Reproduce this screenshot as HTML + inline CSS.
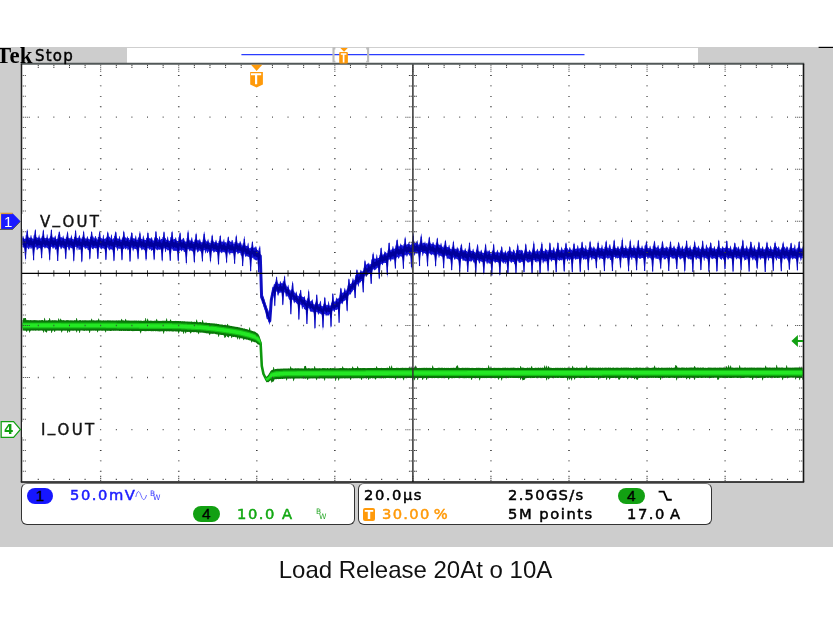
<!DOCTYPE html>
<html lang="en"><head><meta charset="utf-8"><title>Load Release 20A to 10A</title>
<style>
html,body{margin:0;padding:0;background:#fff;}
body{width:833px;height:625px;position:relative;overflow:hidden;font-family:"DejaVu Sans","Liberation Sans",sans-serif;}
.grey{position:absolute;left:0;top:47.4px;width:833px;height:499.2px;background:#cdcdcd;}
.rec{position:absolute;left:126.9px;top:47.4px;width:570.9px;height:15.7px;background:#fff;border-top:1px solid #cfcfcf;box-sizing:border-box;}
.scr{position:absolute;left:0;top:0;}
.t{position:absolute;white-space:nowrap;line-height:1;will-change:transform;}
.tek{left:-4.5px;top:42.7px;font:bold 22.8px "Liberation Serif",serif;letter-spacing:0.3px;color:#000;}
.stop{left:35.2px;top:49.1px;font-size:15px;letter-spacing:1.2px;color:#000;-webkit-text-stroke:0.45px #000;}
.lab{font-size:15px;letter-spacing:2.3px;color:#111;-webkit-text-stroke:0.4px #111;}
.panel{position:absolute;top:483.4px;height:41.6px;background:#fff;border:1px solid #333;border-top:1.4px solid #777;border-radius:6px;box-sizing:border-box;}
.p1{left:20.8px;width:334.2px;}
.p2{left:358.4px;width:353.8px;}
.pill{position:absolute;border-radius:8px;color:#000;text-align:center;font:15.5px/16.4px "Liberation Sans",sans-serif;height:16px;-webkit-text-stroke:0.3px #000;}
.r{font-size:14.7px;letter-spacing:1.55px;-webkit-text-stroke:0.5px currentColor;}
.cap{left:-1.4px;width:833px;text-align:center;top:555.8px;font:24px "Liberation Sans",sans-serif;color:#111;}
.lbg{position:absolute;background:#fff;}
.us{position:relative;top:-3.6px;}
.sub{font-size:7.5px;letter-spacing:0;}
</style></head><body>
<div class="grey"></div><div class="rec"></div>
<div class="panel p1"></div><div class="panel p2"></div>
<svg class="scr" width="833" height="625" viewBox="0 0 833 625">
<rect x="21.5" y="63.8" width="782" height="418.2" fill="#fff"/>
<clipPath id="cp"><rect x="22.2" y="64.5" width="780.6" height="416.8"/></clipPath>
<g clip-path="url(#cp)">
<path d="M258.5 339.54 L259.5 340.4 L260.6 343 L261.8 366 L263.5 374 L266.4 379.6 L268.5 378.4 L270.7 375.6" fill="none" stroke="#0f9a0f" stroke-width="2.6" stroke-linejoin="round"/>
<path d="M22.4 320.3 L22.9 320.1 L23.4 318 L23.9 318 L24.4 318.2 L24.9 318.1 L25.4 317.9 L25.9 318 L26.4 320.2 L26.9 320.1 L27.4 320 L27.9 320.2 L28.4 320 L28.9 320.2 L29.4 320.1 L29.9 320.4 L30.4 320.1 L30.9 320 L31.4 320.2 L31.9 320.3 L32.4 320.3 L32.9 320.2 L33.4 320.2 L33.9 320.1 L34.4 320.1 L34.9 320.3 L35.4 320.2 L35.9 320.1 L36.4 320.3 L36.9 320.2 L37.4 320.4 L37.9 320.1 L38.4 320.4 L38.9 320.2 L39.4 320.1 L39.9 320.4 L40.4 320.3 L40.9 320.2 L41.4 320.1 L41.9 320.3 L42.4 320.1 L42.9 320 L43.4 320.4 L43.9 320.4 L44.4 317.7 L44.9 318 L45.4 320.4 L45.9 320.4 L46.4 320.3 L46.9 320.4 L47.4 320.4 L47.9 320.3 L48.4 320 L48.9 320.2 L49.4 318.1 L49.9 317.9 L50.4 320.3 L50.9 320.4 L51.4 320.3 L51.9 320.4 L52.4 320.1 L52.9 320.2 L53.4 320.4 L53.9 320.1 L54.4 320.3 L54.9 320.2 L55.4 320.3 L55.9 320.2 L56.4 320.2 L56.9 320.4 L57.4 320.4 L57.9 320.4 L58.4 318.4 L58.9 318.3 L59.4 320.2 L59.9 320.3 L60.4 318.7 L60.9 318.5 L61.4 320.2 L61.9 320.1 L62.4 320.3 L62.9 320.3 L63.4 320.1 L63.9 320.3 L64.4 320.3 L64.9 320.4 L65.4 320.4 L65.9 320.3 L66.4 320.3 L66.9 320.1 L67.4 320.2 L67.9 320.1 L68.4 320.3 L68.9 320.2 L69.4 320.4 L69.9 320.3 L70.4 320.4 L70.9 320.1 L71.4 320.4 L71.9 320.2 L72.4 320.4 L72.9 320.2 L73.4 320.4 L73.9 320.5 L74.4 320.1 L74.9 320.3 L75.4 320.2 L75.9 320.2 L76.4 318.1 L76.9 318.1 L77.4 320.4 L77.9 320.4 L78.4 320.4 L78.9 320.4 L79.4 320.1 L79.9 320.2 L80.4 320.1 L80.9 320.2 L81.4 320.5 L81.9 320.4 L82.4 320.2 L82.9 320.2 L83.4 320.2 L83.9 320.5 L84.4 320.3 L84.9 320.2 L85.4 320.2 L85.9 320.2 L86.4 320.2 L86.9 320.4 L87.4 320.2 L87.9 320.4 L88.4 320.3 L88.9 320.5 L89.4 320.3 L89.9 320.3 L90.4 320.2 L90.9 320.4 L91.4 318.6 L91.9 318.8 L92.4 320.3 L92.9 320.5 L93.4 320.1 L93.9 320.4 L94.4 320.4 L94.9 320.2 L95.4 320.5 L95.9 320.5 L96.4 320.4 L96.9 320.1 L97.4 320.2 L97.9 320.4 L98.4 318.6 L98.9 318.6 L99.4 320.2 L99.9 320.5 L100.4 320.2 L100.9 320.3 L101.4 320.5 L101.9 320.5 L102.4 320.4 L102.9 320.5 L103.4 320.2 L103.9 320.3 L104.4 320.4 L104.9 320.5 L105.4 320.5 L105.9 320.2 L106.4 320.4 L106.9 320.5 L107.4 320.3 L107.9 320.3 L108.4 320.2 L108.9 320.5 L109.4 320.3 L109.9 320.4 L110.4 320.3 L110.9 320.4 L111.4 320.4 L111.9 320.4 L112.4 320.5 L112.9 320.3 L113.4 320.4 L113.9 320.4 L114.4 320.6 L114.9 320.6 L115.4 320.4 L115.9 320.5 L116.4 320.3 L116.9 320.5 L117.4 320.5 L117.9 320.5 L118.4 320.3 L118.9 320.6 L119.4 320.5 L119.9 320.3 L120.4 320.5 L120.9 320.6 L121.4 318.8 L121.9 318.9 L122.4 320.3 L122.9 320.5 L123.4 320.3 L123.9 320.5 L124.4 320.4 L124.9 320.7 L125.4 318.7 L125.9 318.9 L126.4 320.4 L126.9 320.4 L127.4 320.6 L127.9 320.5 L128.4 320.6 L128.9 320.6 L129.4 320.4 L129.9 320.7 L130.4 320.5 L130.9 320.7 L131.4 320.6 L131.9 320.8 L132.4 320.6 L132.9 320.7 L133.4 320.6 L133.9 320.7 L134.4 320.4 L134.9 320.5 L135.4 320.6 L135.9 320.8 L136.4 320.5 L136.9 320.5 L137.4 320.8 L137.9 320.7 L138.4 320.5 L138.9 320.6 L139.4 320.7 L139.9 320.8 L140.4 320.5 L140.9 320.8 L141.4 320.6 L141.9 320.9 L142.4 320.9 L142.9 320.7 L143.4 320.8 L143.9 320.8 L144.4 320.5 L144.9 320.7 L145.4 318.1 L145.9 318 L146.4 320.9 L146.9 320.8 L147.4 318.6 L147.9 318.8 L148.4 320.8 L148.9 320.7 L149.4 320.9 L149.9 320.6 L150.4 320.7 L150.9 320.6 L151.4 320.8 L151.9 320.7 L152.4 320.8 L152.9 320.9 L153.4 320.7 L153.9 320.9 L154.4 320.8 L154.9 320.6 L155.4 320.6 L155.9 320.9 L156.4 318.9 L156.9 318.7 L157.4 320.7 L157.9 320.7 L158.4 320.7 L158.9 321 L159.4 320.9 L159.9 320.7 L160.4 320.9 L160.9 320.7 L161.4 321 L161.9 320.8 L162.4 320.7 L162.9 320.7 L163.4 320.8 L163.9 320.8 L164.4 320.8 L164.9 320.7 L165.4 320.7 L165.9 320.8 L166.4 318.4 L166.9 318.2 L167.4 321 L167.9 321 L168.4 321 L168.9 320.7 L169.4 321 L169.9 320.8 L170.4 319.3 L170.9 319.5 L171.4 321 L171.9 320.9 L172.4 321.1 L172.9 321.1 L173.4 321 L173.9 321.1 L174.4 321 L174.9 320.9 L175.4 321.1 L175.9 320.8 L176.4 321 L176.9 321.1 L177.4 321.1 L177.9 320.9 L178.4 321 L178.9 321.1 L179.4 321.1 L179.9 321.3 L180.4 321 L180.9 321 L181.4 321.4 L181.9 321 L182.4 321 L182.9 321.4 L183.4 321.3 L183.9 321.2 L184.4 321.3 L184.9 321.2 L185.4 321.4 L185.9 321.5 L186.4 321.5 L186.9 321.5 L187.4 321.6 L187.9 321.6 L188.4 321.5 L188.9 321.7 L189.4 321.5 L189.9 321.7 L190.4 321.7 L190.9 321.6 L191.4 321.5 L191.9 321.5 L192.4 321.9 L192.9 321.7 L193.4 321.9 L193.9 321.8 L194.4 321.7 L194.9 321.7 L195.4 322 L195.9 322.1 L196.4 319.5 L196.9 319.6 L197.4 321.8 L197.9 322.2 L198.4 322.2 L198.9 322.2 L199.4 321.9 L199.9 322.2 L200.4 322 L200.9 322.1 L201.4 322.4 L201.9 322.3 L202.4 319.7 L202.9 319.9 L203.4 322.5 L203.9 322.5 L204.4 322.7 L204.9 322.7 L205.4 322.5 L205.9 322.7 L206.4 322.6 L206.9 322.8 L207.4 322.9 L207.9 322.9 L208.4 322.9 L208.9 323 L209.4 323 L209.9 323.1 L210.4 323.3 L210.9 323.2 L211.4 323.2 L211.9 323.3 L212.4 323.2 L212.9 323.5 L213.4 323.4 L213.9 323.3 L214.4 323.4 L214.9 323.4 L215.4 323.6 L215.9 323.9 L216.4 323.6 L216.9 323.8 L217.4 324.1 L217.9 324.1 L218.4 324 L218.9 324.1 L219.4 324.4 L219.9 324.2 L220.4 324.5 L220.9 324.4 L221.4 324.5 L221.9 324.5 L222.4 324.6 L222.9 324.8 L223.4 325 L223.9 324.9 L224.4 324.8 L224.9 325 L225.4 325 L225.9 325.1 L226.4 325.3 L226.9 325.3 L227.4 323.8 L227.9 324 L228.4 325.6 L228.9 325.6 L229.4 325.6 L229.9 325.8 L230.4 326 L230.9 325.8 L231.4 326 L231.9 326 L232.4 326.3 L232.9 326.3 L233.4 326.4 L233.9 326.3 L234.4 326.6 L234.9 326.7 L235.4 326.8 L235.9 326.8 L236.4 326.9 L236.9 326.8 L237.4 327.1 L237.9 327 L238.4 327.4 L238.9 327.1 L239.4 327.6 L239.9 327.4 L240.4 327.7 L240.9 327.7 L241.4 327.8 L241.9 328.2 L242.4 328.1 L242.9 328.3 L243.4 328.5 L243.9 328.6 L244.4 328.6 L244.9 328.5 L245.4 328.9 L245.9 329.1 L246.4 328.9 L246.9 329.2 L247.4 329.3 L247.9 329.6 L248.4 329.7 L248.9 329.9 L249.4 327.5 L249.9 327.3 L250.4 330.3 L250.9 330.4 L251.4 330.5 L251.9 330.8 L252.4 330.9 L252.9 331 L253.4 331.3 L253.9 331.6 L254.4 331.5 L254.9 331.6 L255.4 332.1 L255.9 332.2 L256.4 332.8 L256.9 332.9 L257.4 333.3 L257.9 333.7 L258.4 334.2 L258.9 335.3 L259.4 336 L259.9 337.5 L260.4 339 L260.9 349.2 L261.4 358.6 L261.9 366 L262.4 368.3 L262.9 370.7 L263.4 373.2 L263.9 374.1 L264.4 375.1 L264.9 376.3 L265.4 377.3 L265.9 376.3 L266.4 376.9 L266.9 376.3 L267.4 375.9 L267.9 375.3 L268.4 374.7 L268.9 373.8 L269.4 373 L269.9 372.2 L270.4 371.3 L270.9 370.8 L271.4 370.3 L271.9 370 L272.4 369.8 L272.9 369.7 L273.4 366.9 L273.9 366.9 L274.4 369.4 L274.9 369.2 L275.4 368.9 L275.9 369.1 L276.4 369.1 L276.9 368.8 L277.4 368.8 L277.9 368.7 L278.4 368.8 L278.9 368.7 L279.4 368.8 L279.9 368.8 L280.4 368.7 L280.9 368.6 L281.4 368.7 L281.9 368.5 L282.4 368.7 L282.9 368.6 L283.4 368.5 L283.9 368.6 L284.4 368.4 L284.9 368.4 L285.4 368.6 L285.9 368.4 L286.4 368.5 L286.9 368.5 L287.4 368.5 L287.9 368.5 L288.4 368.3 L288.9 368.4 L289.4 368.4 L289.9 368.5 L290.4 366.2 L290.9 366.4 L291.4 368.3 L291.9 368.2 L292.4 368.2 L292.9 368.3 L293.4 368.4 L293.9 368.5 L294.4 368.5 L294.9 368.2 L295.4 368.2 L295.9 368.2 L296.4 368.3 L296.9 368.4 L297.4 368.3 L297.9 368.3 L298.4 368.2 L298.9 368.3 L299.4 368.5 L299.9 368.2 L300.4 368.5 L300.9 368.2 L301.4 368.3 L301.9 368.4 L302.4 368.4 L302.9 368.2 L303.4 368.5 L303.9 368.4 L304.4 366.1 L304.9 366 L305.4 366 L305.9 365.7 L306.4 368.2 L306.9 368.3 L307.4 368.4 L307.9 368.2 L308.4 368.3 L308.9 368.1 L309.4 368.4 L309.9 368.1 L310.4 368.4 L310.9 368.4 L311.4 368.4 L311.9 368.1 L312.4 368.2 L312.9 368.2 L313.4 368.4 L313.9 368.3 L314.4 366.2 L314.9 365.9 L315.4 368.2 L315.9 368.3 L316.4 368.3 L316.9 368.3 L317.4 368.4 L317.9 368.1 L318.4 368.2 L318.9 368.4 L319.4 368.3 L319.9 368.1 L320.4 368.3 L320.9 368.4 L321.4 368.3 L321.9 368.4 L322.4 368 L322.9 368.1 L323.4 368.1 L323.9 368.2 L324.4 368.1 L324.9 368.2 L325.4 368 L325.9 368.4 L326.4 368.4 L326.9 368.1 L327.4 368.1 L327.9 368.1 L328.4 368.2 L328.9 368.4 L329.4 368.4 L329.9 368 L330.4 368 L330.9 368.1 L331.4 368.3 L331.9 368.3 L332.4 368 L332.9 368.3 L333.4 368 L333.9 368.3 L334.4 368.2 L334.9 368.1 L335.4 368.4 L335.9 368.1 L336.4 368.2 L336.9 368.4 L337.4 368.2 L337.9 368.3 L338.4 368.2 L338.9 368.3 L339.4 368.1 L339.9 368.3 L340.4 368.1 L340.9 368.1 L341.4 368.1 L341.9 368.3 L342.4 366.4 L342.9 366.3 L343.4 368 L343.9 368 L344.4 368 L344.9 368.3 L345.4 368.3 L345.9 368.1 L346.4 368.3 L346.9 368 L347.4 368.3 L347.9 368.3 L348.4 368.2 L348.9 368.2 L349.4 368.1 L349.9 368.2 L350.4 368.2 L350.9 368.3 L351.4 368.3 L351.9 368 L352.4 366.5 L352.9 366.6 L353.4 368 L353.9 368.1 L354.4 368.1 L354.9 368.2 L355.4 368 L355.9 368 L356.4 367.9 L356.9 368 L357.4 366.2 L357.9 366.2 L358.4 367.9 L358.9 368.1 L359.4 368.1 L359.9 368.3 L360.4 368.1 L360.9 368.1 L361.4 367.9 L361.9 368.2 L362.4 368 L362.9 367.9 L363.4 368.1 L363.9 367.9 L364.4 367.9 L364.9 368.1 L365.4 368.1 L365.9 368.2 L366.4 367.9 L366.9 368.2 L367.4 367.9 L367.9 368.1 L368.4 367.9 L368.9 368 L369.4 368 L369.9 368 L370.4 368 L370.9 368 L371.4 368.1 L371.9 367.9 L372.4 367.9 L372.9 367.9 L373.4 368.1 L373.9 367.9 L374.4 367.9 L374.9 367.8 L375.4 367.9 L375.9 367.9 L376.4 366.2 L376.9 366.3 L377.4 367.9 L377.9 368.1 L378.4 368 L378.9 367.9 L379.4 368 L379.9 367.9 L380.4 368 L380.9 367.9 L381.4 367.8 L381.9 368 L382.4 368.1 L382.9 367.9 L383.4 367.9 L383.9 368 L384.4 368 L384.9 368 L385.4 367.9 L385.9 368 L386.4 367.9 L386.9 367.8 L387.4 367.8 L387.9 367.8 L388.4 367.9 L388.9 367.9 L389.4 366 L389.9 365.7 L390.4 368.1 L390.9 367.9 L391.4 365.4 L391.9 365.6 L392.4 368 L392.9 368 L393.4 367.9 L393.9 367.9 L394.4 367.9 L394.9 368 L395.4 368 L395.9 368 L396.4 367.8 L396.9 367.8 L397.4 367.8 L397.9 368 L398.4 367.8 L398.9 368 L399.4 368.1 L399.9 367.9 L400.4 367.9 L400.9 367.8 L401.4 368 L401.9 367.8 L402.4 367.7 L402.9 367.8 L403.4 368 L403.9 367.8 L404.4 367.9 L404.9 367.7 L405.4 367.7 L405.9 367.9 L406.4 367.8 L406.9 368.1 L407.4 367.9 L407.9 367.8 L408.4 367.7 L408.9 367.9 L409.4 368.1 L409.9 367.9 L410.4 367.7 L410.9 367.9 L411.4 367.9 L411.9 367.7 L412.4 367.8 L412.9 367.7 L413.4 367.9 L413.9 367.8 L414.4 367.7 L414.9 367.8 L415.4 365.6 L415.9 365.6 L416.4 368 L416.9 367.7 L417.4 368 L417.9 368 L418.4 368 L418.9 368.1 L419.4 368 L419.9 367.7 L420.4 368.1 L420.9 368 L421.4 367.9 L421.9 367.8 L422.4 368 L422.9 367.7 L423.4 367.8 L423.9 368 L424.4 367.8 L424.9 367.8 L425.4 367.9 L425.9 367.8 L426.4 367.8 L426.9 367.8 L427.4 367.9 L427.9 367.7 L428.4 367.9 L428.9 367.8 L429.4 367.7 L429.9 367.9 L430.4 367.7 L430.9 367.9 L431.4 368 L431.9 368 L432.4 365.5 L432.9 365.4 L433.4 367.8 L433.9 367.8 L434.4 367.9 L434.9 367.9 L435.4 368.1 L435.9 367.9 L436.4 368 L436.9 367.9 L437.4 367.9 L437.9 367.8 L438.4 367.7 L438.9 367.7 L439.4 367.8 L439.9 367.8 L440.4 368 L440.9 367.8 L441.4 367.7 L441.9 367.8 L442.4 367.7 L442.9 367.7 L443.4 368 L443.9 367.9 L444.4 367.8 L444.9 367.8 L445.4 368 L445.9 368 L446.4 367.8 L446.9 368 L447.4 367.9 L447.9 367.7 L448.4 367.8 L448.9 367.9 L449.4 368 L449.9 368 L450.4 367.9 L450.9 367.7 L451.4 368 L451.9 367.8 L452.4 367.9 L452.9 367.8 L453.4 367.8 L453.9 367.7 L454.4 367.7 L454.9 367.9 L455.4 367.8 L455.9 367.7 L456.4 366 L456.9 365.7 L457.4 365.3 L457.9 365.5 L458.4 367.7 L458.9 367.7 L459.4 367.7 L459.9 368 L460.4 368 L460.9 367.9 L461.4 368 L461.9 367.8 L462.4 367.8 L462.9 367.7 L463.4 367.8 L463.9 367.9 L464.4 367.7 L464.9 368 L465.4 367.8 L465.9 367.7 L466.4 367.7 L466.9 367.9 L467.4 367.8 L467.9 367.7 L468.4 367.7 L468.9 367.9 L469.4 367.7 L469.9 368 L470.4 368 L470.9 367.9 L471.4 367.9 L471.9 367.8 L472.4 368 L472.9 367.7 L473.4 368 L473.9 368 L474.4 368 L474.9 367.9 L475.4 368 L475.9 367.9 L476.4 367.8 L476.9 367.7 L477.4 367.7 L477.9 368 L478.4 367.8 L478.9 367.8 L479.4 367.8 L479.9 368 L480.4 367.9 L480.9 367.7 L481.4 368 L481.9 367.9 L482.4 367.8 L482.9 367.9 L483.4 368 L483.9 367.9 L484.4 368 L484.9 367.9 L485.4 367.9 L485.9 368 L486.4 367.7 L486.9 368 L487.4 368 L487.9 367.7 L488.4 365.2 L488.9 365.2 L489.4 367.7 L489.9 367.8 L490.4 367.8 L490.9 367.7 L491.4 367.8 L491.9 368 L492.4 368 L492.9 367.9 L493.4 367.7 L493.9 367.9 L494.4 367.7 L494.9 367.8 L495.4 367.9 L495.9 367.8 L496.4 367.9 L496.9 367.7 L497.4 367.9 L497.9 367.7 L498.4 367.7 L498.9 367.9 L499.4 367.8 L499.9 367.9 L500.4 367.9 L500.9 367.8 L501.4 367.9 L501.9 368 L502.4 367.7 L502.9 367.8 L503.4 367.8 L503.9 367.7 L504.4 367.7 L504.9 367.7 L505.4 367.6 L505.9 367.8 L506.4 367.9 L506.9 367.8 L507.4 367.7 L507.9 367.7 L508.4 367.7 L508.9 367.9 L509.4 367.8 L509.9 368 L510.4 367.8 L510.9 367.7 L511.4 367.7 L511.9 367.7 L512.4 367.7 L512.9 367.7 L513.4 367.6 L513.9 367.7 L514.4 367.8 L514.9 367.7 L515.4 368 L515.9 367.7 L516.4 368 L516.9 367.9 L517.4 367.9 L517.9 367.6 L518.4 367.7 L518.9 367.9 L519.4 367.9 L519.9 368 L520.4 366 L520.9 365.9 L521.4 367.8 L521.9 367.7 L522.4 367.6 L522.9 367.7 L523.4 367.6 L523.9 367.9 L524.4 367.9 L524.9 367.7 L525.4 367.9 L525.9 368 L526.4 368 L526.9 367.7 L527.4 367.6 L527.9 367.8 L528.4 367.8 L528.9 367.9 L529.4 367.7 L529.9 367.6 L530.4 367.9 L530.9 367.7 L531.4 366.2 L531.9 365.8 L532.4 367.8 L532.9 367.9 L533.4 367.9 L533.9 367.9 L534.4 368 L534.9 367.7 L535.4 367.7 L535.9 367.7 L536.4 367.8 L536.9 367.9 L537.4 367.9 L537.9 367.6 L538.4 367.6 L538.9 367.7 L539.4 367.9 L539.9 367.7 L540.4 367.7 L540.9 367.6 L541.4 367.9 L541.9 367.7 L542.4 367.6 L542.9 367.8 L543.4 367.8 L543.9 367.9 L544.4 365.6 L544.9 365.4 L545.4 367.6 L545.9 367.7 L546.4 365.7 L546.9 365.6 L547.4 367.9 L547.9 367.8 L548.4 366.1 L548.9 366.2 L549.4 367.8 L549.9 367.8 L550.4 367.7 L550.9 367.7 L551.4 367.8 L551.9 367.9 L552.4 367.9 L552.9 368 L553.4 367.9 L553.9 367.7 L554.4 367.9 L554.9 367.9 L555.4 367.7 L555.9 367.8 L556.4 367.8 L556.9 367.9 L557.4 367.7 L557.9 367.7 L558.4 367.7 L558.9 367.9 L559.4 367.8 L559.9 367.9 L560.4 367.7 L560.9 367.8 L561.4 368 L561.9 367.7 L562.4 367.8 L562.9 367.7 L563.4 367.9 L563.9 368 L564.4 367.6 L564.9 367.8 L565.4 367.8 L565.9 368 L566.4 367.9 L566.9 367.7 L567.4 367.8 L567.9 367.8 L568.4 367.7 L568.9 367.7 L569.4 368 L569.9 367.8 L570.4 367.8 L570.9 367.9 L571.4 367.8 L571.9 368 L572.4 365.8 L572.9 365.9 L573.4 367.8 L573.9 367.8 L574.4 367.6 L574.9 367.9 L575.4 367.9 L575.9 367.7 L576.4 367.6 L576.9 367.6 L577.4 367.7 L577.9 367.7 L578.4 367.9 L578.9 367.9 L579.4 367.6 L579.9 368 L580.4 367.9 L580.9 367.6 L581.4 367.8 L581.9 367.6 L582.4 367.7 L582.9 367.8 L583.4 367.8 L583.9 367.9 L584.4 367.7 L584.9 367.8 L585.4 367.6 L585.9 367.7 L586.4 365.4 L586.9 365.2 L587.4 367.8 L587.9 367.9 L588.4 367.9 L588.9 367.9 L589.4 367.8 L589.9 367.6 L590.4 367.6 L590.9 367.8 L591.4 367.7 L591.9 367.8 L592.4 367.6 L592.9 367.7 L593.4 367.8 L593.9 367.6 L594.4 367.7 L594.9 367.7 L595.4 367.6 L595.9 367.9 L596.4 367.6 L596.9 367.9 L597.4 367.9 L597.9 367.6 L598.4 367.6 L598.9 367.7 L599.4 367.8 L599.9 367.8 L600.4 367.6 L600.9 367.8 L601.4 367.9 L601.9 367.8 L602.4 367.6 L602.9 367.8 L603.4 367.7 L603.9 367.9 L604.4 367.8 L604.9 367.6 L605.4 367.7 L605.9 367.6 L606.4 367.6 L606.9 367.9 L607.4 367.7 L607.9 367.8 L608.4 367.6 L608.9 367.6 L609.4 367.7 L609.9 367.8 L610.4 367.6 L610.9 367.7 L611.4 367.9 L611.9 367.7 L612.4 367.6 L612.9 367.9 L613.4 367.6 L613.9 367.5 L614.4 367.9 L614.9 367.7 L615.4 367.9 L615.9 367.6 L616.4 367.6 L616.9 367.9 L617.4 367.6 L617.9 367.7 L618.4 367.8 L618.9 367.7 L619.4 367.8 L619.9 367.9 L620.4 367.7 L620.9 367.8 L621.4 367.6 L621.9 367.5 L622.4 367.9 L622.9 367.6 L623.4 367.7 L623.9 367.6 L624.4 367.7 L624.9 367.6 L625.4 367.7 L625.9 367.6 L626.4 367.6 L626.9 367.7 L627.4 367.7 L627.9 367.6 L628.4 367.6 L628.9 367.8 L629.4 367.9 L629.9 367.8 L630.4 367.7 L630.9 367.7 L631.4 367.9 L631.9 367.8 L632.4 367.9 L632.9 367.9 L633.4 367.7 L633.9 367.5 L634.4 367.9 L634.9 367.7 L635.4 367.8 L635.9 367.6 L636.4 367.6 L636.9 367.6 L637.4 367.8 L637.9 367.6 L638.4 367.9 L638.9 367.8 L639.4 367.5 L639.9 367.8 L640.4 367.7 L640.9 367.5 L641.4 367.8 L641.9 367.9 L642.4 367.7 L642.9 367.8 L643.4 367.7 L643.9 367.8 L644.4 367.9 L644.9 367.8 L645.4 367.6 L645.9 367.8 L646.4 367.7 L646.9 367.7 L647.4 367.7 L647.9 367.6 L648.4 367.6 L648.9 367.8 L649.4 367.8 L649.9 367.9 L650.4 367.9 L650.9 367.8 L651.4 367.7 L651.9 367.9 L652.4 367.6 L652.9 367.7 L653.4 367.6 L653.9 367.6 L654.4 365.6 L654.9 365.7 L655.4 367.8 L655.9 367.7 L656.4 367.7 L656.9 367.6 L657.4 367.9 L657.9 367.8 L658.4 367.6 L658.9 367.5 L659.4 367.9 L659.9 367.7 L660.4 367.9 L660.9 367.7 L661.4 367.6 L661.9 367.8 L662.4 367.5 L662.9 367.9 L663.4 367.7 L663.9 367.7 L664.4 367.7 L664.9 367.8 L665.4 367.8 L665.9 367.7 L666.4 367.5 L666.9 367.9 L667.4 367.6 L667.9 367.8 L668.4 367.8 L668.9 367.8 L669.4 367.5 L669.9 367.5 L670.4 367.9 L670.9 367.7 L671.4 367.5 L671.9 367.6 L672.4 367.9 L672.9 367.8 L673.4 367.8 L673.9 367.8 L674.4 367.5 L674.9 367.5 L675.4 365.1 L675.9 365 L676.4 365.8 L676.9 365.8 L677.4 367.6 L677.9 367.6 L678.4 367.8 L678.9 367.6 L679.4 367.6 L679.9 367.9 L680.4 367.7 L680.9 367.8 L681.4 367.6 L681.9 367.6 L682.4 367.6 L682.9 367.5 L683.4 367.6 L683.9 367.8 L684.4 367.5 L684.9 367.7 L685.4 367.9 L685.9 367.6 L686.4 367.6 L686.9 367.6 L687.4 367.7 L687.9 367.8 L688.4 367.8 L688.9 367.5 L689.4 367.6 L689.9 367.8 L690.4 367.5 L690.9 367.6 L691.4 367.5 L691.9 367.6 L692.4 367.5 L692.9 367.7 L693.4 367.6 L693.9 367.6 L694.4 365.9 L694.9 366 L695.4 367.5 L695.9 367.6 L696.4 367.8 L696.9 367.7 L697.4 367.6 L697.9 367.6 L698.4 367.5 L698.9 367.7 L699.4 367.8 L699.9 367.7 L700.4 367.5 L700.9 367.5 L701.4 367.7 L701.9 367.8 L702.4 367.5 L702.9 367.6 L703.4 367.5 L703.9 367.6 L704.4 367.9 L704.9 367.8 L705.4 367.7 L705.9 367.7 L706.4 367.9 L706.9 367.7 L707.4 367.7 L707.9 367.8 L708.4 367.6 L708.9 367.6 L709.4 367.5 L709.9 367.8 L710.4 367.5 L710.9 367.8 L711.4 367.7 L711.9 367.6 L712.4 367.8 L712.9 367.8 L713.4 367.7 L713.9 367.6 L714.4 367.8 L714.9 367.5 L715.4 367.6 L715.9 367.7 L716.4 367.7 L716.9 367.7 L717.4 367.8 L717.9 367.6 L718.4 367.8 L718.9 367.8 L719.4 367.6 L719.9 367.6 L720.4 367.5 L720.9 367.7 L721.4 367.5 L721.9 367.7 L722.4 367.7 L722.9 367.5 L723.4 367.6 L723.9 367.5 L724.4 367.7 L724.9 367.6 L725.4 367.9 L725.9 367.8 L726.4 366.2 L726.9 366 L727.4 367.8 L727.9 367.5 L728.4 365.1 L728.9 365.3 L729.4 367.5 L729.9 367.6 L730.4 365.6 L730.9 365.6 L731.4 367.6 L731.9 367.8 L732.4 367.5 L732.9 367.6 L733.4 367.8 L733.9 367.7 L734.4 367.8 L734.9 367.7 L735.4 367.7 L735.9 367.6 L736.4 367.8 L736.9 367.6 L737.4 367.6 L737.9 367.7 L738.4 367.8 L738.9 367.8 L739.4 365.3 L739.9 365.3 L740.4 367.6 L740.9 367.7 L741.4 367.6 L741.9 367.8 L742.4 367.8 L742.9 367.6 L743.4 367.7 L743.9 367.7 L744.4 367.6 L744.9 367.4 L745.4 367.5 L745.9 367.5 L746.4 367.7 L746.9 367.7 L747.4 367.5 L747.9 367.8 L748.4 367.7 L748.9 367.6 L749.4 367.6 L749.9 367.8 L750.4 367.6 L750.9 367.8 L751.4 367.6 L751.9 367.5 L752.4 367.7 L752.9 367.5 L753.4 367.7 L753.9 367.5 L754.4 367.5 L754.9 367.8 L755.4 367.7 L755.9 367.7 L756.4 367.7 L756.9 367.6 L757.4 367.5 L757.9 367.7 L758.4 367.5 L758.9 367.8 L759.4 367.5 L759.9 367.8 L760.4 367.4 L760.9 367.7 L761.4 367.7 L761.9 367.6 L762.4 367.7 L762.9 367.8 L763.4 367.8 L763.9 367.5 L764.4 367.8 L764.9 367.8 L765.4 365.6 L765.9 365.7 L766.4 367.4 L766.9 367.5 L767.4 367.6 L767.9 367.5 L768.4 367.7 L768.9 367.5 L769.4 367.5 L769.9 367.5 L770.4 367.5 L770.9 367.7 L771.4 367.7 L771.9 367.4 L772.4 367.6 L772.9 367.7 L773.4 367.5 L773.9 367.8 L774.4 367.6 L774.9 367.6 L775.4 367.7 L775.9 367.7 L776.4 364.9 L776.9 364.8 L777.4 367.6 L777.9 367.6 L778.4 367.4 L778.9 367.7 L779.4 367.6 L779.9 367.6 L780.4 367.8 L780.9 367.5 L781.4 367.6 L781.9 367.5 L782.4 367.4 L782.9 367.5 L783.4 367.7 L783.9 367.8 L784.4 367.7 L784.9 367.7 L785.4 367.7 L785.9 367.8 L786.4 365.2 L786.9 365.3 L787.4 367.8 L787.9 367.4 L788.4 367.6 L788.9 367.8 L789.4 367.6 L789.9 367.7 L790.4 367.4 L790.9 367.8 L791.4 367.7 L791.9 367.4 L792.4 367.5 L792.9 367.8 L793.4 367.4 L793.9 367.7 L794.4 367.5 L794.9 367.6 L795.4 367.6 L795.9 367.6 L796.4 367.5 L796.9 367.6 L797.4 367.5 L797.9 367.6 L798.4 367.6 L798.9 367.6 L799.4 367.5 L799.9 367.7 L800.4 367.5 L800.9 367.6 L801.4 367.5 L801.9 367.8 L802.4 367.6 L802.9 367.7 L802.9 379.8 L802.4 380.1 L801.9 377.8 L801.4 377.8 L800.9 377.8 L800.4 377.9 L799.9 380.3 L799.4 380.1 L798.9 377.7 L798.4 377.9 L797.9 377.7 L797.4 377.7 L796.9 378 L796.4 377.6 L795.9 379.5 L795.4 379.4 L794.9 377.7 L794.4 377.6 L793.9 377.7 L793.4 377.8 L792.9 377.8 L792.4 377.7 L791.9 377.6 L791.4 377.8 L790.9 377.6 L790.4 377.7 L789.9 377.7 L789.4 377.8 L788.9 377.8 L788.4 378 L787.9 377.7 L787.4 378 L786.9 377.8 L786.4 377.8 L785.9 378 L785.4 377.9 L784.9 377.7 L784.4 377.9 L783.9 377.9 L783.4 377.7 L782.9 380.2 L782.4 380.1 L781.9 377.7 L781.4 377.7 L780.9 377.7 L780.4 377.6 L779.9 377.6 L779.4 378 L778.9 377.9 L778.4 377.7 L777.9 377.9 L777.4 378 L776.9 377.8 L776.4 377.7 L775.9 377.9 L775.4 377.7 L774.9 378 L774.4 378 L773.9 377.7 L773.4 377.8 L772.9 377.6 L772.4 377.9 L771.9 377.7 L771.4 377.7 L770.9 377.7 L770.4 377.9 L769.9 378 L769.4 377.6 L768.9 377.7 L768.4 378 L767.9 377.8 L767.4 377.9 L766.9 378 L766.4 377.6 L765.9 377.8 L765.4 377.9 L764.9 377.9 L764.4 377.9 L763.9 377.9 L763.4 377.8 L762.9 380.2 L762.4 380.5 L761.9 377.9 L761.4 377.8 L760.9 377.8 L760.4 377.9 L759.9 377.8 L759.4 377.9 L758.9 378 L758.4 377.9 L757.9 378 L757.4 378 L756.9 377.7 L756.4 377.8 L755.9 377.9 L755.4 377.8 L754.9 377.9 L754.4 377.8 L753.9 377.8 L753.4 378 L752.9 380.1 L752.4 380.1 L751.9 377.9 L751.4 377.7 L750.9 377.9 L750.4 377.9 L749.9 377.7 L749.4 377.9 L748.9 377.7 L748.4 377.7 L747.9 377.7 L747.4 377.8 L746.9 377.6 L746.4 377.9 L745.9 377.8 L745.4 377.8 L744.9 377.7 L744.4 377.9 L743.9 378 L743.4 378 L742.9 377.9 L742.4 377.9 L741.9 377.9 L741.4 377.9 L740.9 377.7 L740.4 377.8 L739.9 377.9 L739.4 377.7 L738.9 377.7 L738.4 378 L737.9 378 L737.4 377.9 L736.9 377.9 L736.4 377.7 L735.9 377.8 L735.4 377.7 L734.9 378 L734.4 377.7 L733.9 377.8 L733.4 378 L732.9 377.9 L732.4 377.7 L731.9 378 L731.4 378 L730.9 377.9 L730.4 377.9 L729.9 378 L729.4 377.9 L728.9 377.8 L728.4 377.8 L727.9 378 L727.4 377.9 L726.9 377.9 L726.4 377.9 L725.9 377.7 L725.4 377.9 L724.9 377.8 L724.4 378 L723.9 378 L723.4 378 L722.9 377.8 L722.4 378 L721.9 378 L721.4 377.7 L720.9 377.8 L720.4 378 L719.9 377.8 L719.4 377.7 L718.9 379.5 L718.4 379.5 L717.9 380 L717.4 379.7 L716.9 377.8 L716.4 377.8 L715.9 377.8 L715.4 377.8 L714.9 377.8 L714.4 377.7 L713.9 377.8 L713.4 377.9 L712.9 378 L712.4 377.7 L711.9 377.7 L711.4 377.9 L710.9 377.9 L710.4 377.9 L709.9 377.9 L709.4 378 L708.9 377.8 L708.4 377.9 L707.9 377.8 L707.4 377.9 L706.9 377.8 L706.4 377.8 L705.9 377.9 L705.4 377.9 L704.9 377.8 L704.4 377.8 L703.9 377.9 L703.4 377.8 L702.9 377.8 L702.4 377.9 L701.9 377.9 L701.4 378 L700.9 377.9 L700.4 377.7 L699.9 377.8 L699.4 377.8 L698.9 377.9 L698.4 377.9 L697.9 378.1 L697.4 378 L696.9 377.7 L696.4 378 L695.9 377.7 L695.4 377.8 L694.9 379.9 L694.4 380 L693.9 377.7 L693.4 377.9 L692.9 377.8 L692.4 377.9 L691.9 378 L691.4 377.8 L690.9 377.7 L690.4 377.8 L689.9 379.5 L689.4 379.3 L688.9 378 L688.4 378 L687.9 377.9 L687.4 378 L686.9 379.4 L686.4 379.2 L685.9 378 L685.4 377.8 L684.9 378 L684.4 377.8 L683.9 377.8 L683.4 378.1 L682.9 377.8 L682.4 377.8 L681.9 378 L681.4 378 L680.9 377.8 L680.4 377.9 L679.9 377.7 L679.4 377.9 L678.9 378 L678.4 377.8 L677.9 377.9 L677.4 377.7 L676.9 380.4 L676.4 380.3 L675.9 378 L675.4 377.8 L674.9 378 L674.4 377.9 L673.9 378.1 L673.4 377.8 L672.9 377.9 L672.4 377.8 L671.9 377.8 L671.4 377.8 L670.9 378.1 L670.4 377.7 L669.9 377.9 L669.4 377.9 L668.9 378.1 L668.4 378.1 L667.9 377.8 L667.4 377.7 L666.9 377.7 L666.4 378 L665.9 377.8 L665.4 377.7 L664.9 377.7 L664.4 378.1 L663.9 378 L663.4 377.8 L662.9 378 L662.4 378.1 L661.9 377.8 L661.4 377.8 L660.9 380.1 L660.4 380.1 L659.9 377.9 L659.4 378 L658.9 378.1 L658.4 377.9 L657.9 377.9 L657.4 377.7 L656.9 378.1 L656.4 377.7 L655.9 377.9 L655.4 378.1 L654.9 377.8 L654.4 377.7 L653.9 377.8 L653.4 377.9 L652.9 377.9 L652.4 377.8 L651.9 377.8 L651.4 378 L650.9 377.9 L650.4 377.8 L649.9 377.8 L649.4 378 L648.9 378 L648.4 378 L647.9 378 L647.4 377.8 L646.9 377.7 L646.4 378 L645.9 378 L645.4 378 L644.9 377.8 L644.4 377.9 L643.9 377.8 L643.4 377.9 L642.9 378 L642.4 377.9 L641.9 378.1 L641.4 377.7 L640.9 377.8 L640.4 377.9 L639.9 378.1 L639.4 378.1 L638.9 378.1 L638.4 377.9 L637.9 379.7 L637.4 379.8 L636.9 379.8 L636.4 379.6 L635.9 377.9 L635.4 378 L634.9 379.3 L634.4 379.2 L633.9 377.9 L633.4 378 L632.9 378 L632.4 377.9 L631.9 378.1 L631.4 377.8 L630.9 377.8 L630.4 378.1 L629.9 377.8 L629.4 377.8 L628.9 378.1 L628.4 377.9 L627.9 379.4 L627.4 379.2 L626.9 377.8 L626.4 378.1 L625.9 377.8 L625.4 377.8 L624.9 377.8 L624.4 378.1 L623.9 378.1 L623.4 377.9 L622.9 377.9 L622.4 377.8 L621.9 377.8 L621.4 377.8 L620.9 378.1 L620.4 377.9 L619.9 379.7 L619.4 379.4 L618.9 379.6 L618.4 379.7 L617.9 377.8 L617.4 378.1 L616.9 378.1 L616.4 377.9 L615.9 378.1 L615.4 377.9 L614.9 377.8 L614.4 377.9 L613.9 378 L613.4 378 L612.9 378.1 L612.4 377.9 L611.9 378.1 L611.4 377.9 L610.9 377.9 L610.4 377.9 L609.9 379.7 L609.4 379.6 L608.9 377.9 L608.4 377.9 L607.9 377.8 L607.4 377.8 L606.9 380 L606.4 379.9 L605.9 377.8 L605.4 377.8 L604.9 377.8 L604.4 378 L603.9 377.9 L603.4 378.1 L602.9 377.9 L602.4 377.9 L601.9 377.8 L601.4 377.9 L600.9 378 L600.4 378 L599.9 377.8 L599.4 378 L598.9 379.7 L598.4 379.7 L597.9 377.8 L597.4 378.1 L596.9 378 L596.4 377.9 L595.9 377.8 L595.4 377.8 L594.9 378 L594.4 377.9 L593.9 378.1 L593.4 378.1 L592.9 378.1 L592.4 378 L591.9 378 L591.4 378.1 L590.9 377.8 L590.4 378 L589.9 378.1 L589.4 377.8 L588.9 377.9 L588.4 378.1 L587.9 378 L587.4 377.9 L586.9 378 L586.4 378.1 L585.9 378 L585.4 378.1 L584.9 378.1 L584.4 378.1 L583.9 378 L583.4 378.1 L582.9 377.8 L582.4 378.1 L581.9 377.9 L581.4 378.1 L580.9 378.1 L580.4 378.2 L579.9 377.9 L579.4 378 L578.9 378 L578.4 377.8 L577.9 378.1 L577.4 377.8 L576.9 378.1 L576.4 378 L575.9 378.1 L575.4 378 L574.9 379.6 L574.4 379.8 L573.9 377.9 L573.4 378 L572.9 377.8 L572.4 378 L571.9 380.4 L571.4 380.5 L570.9 377.9 L570.4 378.2 L569.9 379.7 L569.4 379.8 L568.9 378 L568.4 377.9 L567.9 380.7 L567.4 380.6 L566.9 377.9 L566.4 378 L565.9 377.9 L565.4 377.8 L564.9 378.1 L564.4 377.8 L563.9 378 L563.4 378 L562.9 377.9 L562.4 378 L561.9 378 L561.4 377.9 L560.9 378 L560.4 378.1 L559.9 377.8 L559.4 377.8 L558.9 378 L558.4 378 L557.9 377.9 L557.4 378.1 L556.9 378 L556.4 377.8 L555.9 377.9 L555.4 378 L554.9 377.8 L554.4 378.1 L553.9 377.8 L553.4 378.1 L552.9 378.2 L552.4 377.9 L551.9 377.9 L551.4 377.8 L550.9 377.9 L550.4 377.8 L549.9 378.1 L549.4 378.2 L548.9 379.5 L548.4 379.3 L547.9 377.9 L547.4 378.1 L546.9 380.3 L546.4 380.5 L545.9 378 L545.4 378.1 L544.9 377.9 L544.4 377.9 L543.9 377.9 L543.4 378.1 L542.9 377.8 L542.4 378.2 L541.9 377.8 L541.4 378.2 L540.9 378.2 L540.4 378 L539.9 378 L539.4 377.8 L538.9 377.8 L538.4 378.1 L537.9 377.8 L537.4 377.9 L536.9 378.2 L536.4 377.9 L535.9 377.8 L535.4 377.8 L534.9 378 L534.4 377.9 L533.9 378 L533.4 377.9 L532.9 378.1 L532.4 378.1 L531.9 378.2 L531.4 377.8 L530.9 378 L530.4 378.2 L529.9 377.8 L529.4 377.9 L528.9 378 L528.4 378 L527.9 378 L527.4 377.9 L526.9 378.1 L526.4 378.2 L525.9 377.9 L525.4 378.2 L524.9 379.6 L524.4 379.7 L523.9 379.9 L523.4 379.9 L522.9 380.3 L522.4 380.5 L521.9 377.9 L521.4 378 L520.9 379.8 L520.4 380.1 L519.9 377.9 L519.4 377.9 L518.9 378.1 L518.4 378.2 L517.9 378.1 L517.4 378 L516.9 377.9 L516.4 377.9 L515.9 378.1 L515.4 378 L514.9 378.1 L514.4 377.9 L513.9 378.1 L513.4 378 L512.9 377.9 L512.4 377.9 L511.9 377.8 L511.4 377.9 L510.9 377.9 L510.4 378 L509.9 378 L509.4 377.8 L508.9 378.2 L508.4 377.9 L507.9 377.9 L507.4 377.9 L506.9 378.1 L506.4 378 L505.9 378 L505.4 378.2 L504.9 378 L504.4 378.1 L503.9 378.2 L503.4 377.9 L502.9 377.9 L502.4 378.2 L501.9 380.5 L501.4 380.5 L500.9 378.1 L500.4 377.9 L499.9 378 L499.4 378.1 L498.9 379.8 L498.4 379.7 L497.9 377.9 L497.4 378.2 L496.9 377.9 L496.4 378 L495.9 378.1 L495.4 378.2 L494.9 377.9 L494.4 378.2 L493.9 377.9 L493.4 378.1 L492.9 378 L492.4 377.9 L491.9 378.2 L491.4 378 L490.9 378 L490.4 378 L489.9 378.1 L489.4 377.9 L488.9 378 L488.4 378 L487.9 378.1 L487.4 378 L486.9 378 L486.4 378.2 L485.9 377.9 L485.4 378 L484.9 378.2 L484.4 378 L483.9 378.1 L483.4 378 L482.9 378.2 L482.4 378 L481.9 377.9 L481.4 377.9 L480.9 378.2 L480.4 378.1 L479.9 380.5 L479.4 380.3 L478.9 378.1 L478.4 378 L477.9 378.2 L477.4 378 L476.9 377.9 L476.4 378 L475.9 378.2 L475.4 377.9 L474.9 378.2 L474.4 378 L473.9 378 L473.4 378 L472.9 378.1 L472.4 377.9 L471.9 380.1 L471.4 380.1 L470.9 378.2 L470.4 378.1 L469.9 378 L469.4 378.2 L468.9 378.1 L468.4 378.2 L467.9 378 L467.4 377.9 L466.9 378.1 L466.4 378.2 L465.9 378.2 L465.4 377.9 L464.9 378.2 L464.4 378.2 L463.9 377.9 L463.4 378.2 L462.9 378.2 L462.4 378 L461.9 378 L461.4 378 L460.9 378 L460.4 378 L459.9 378 L459.4 378.2 L458.9 377.9 L458.4 378.2 L457.9 378.1 L457.4 378 L456.9 378.1 L456.4 378.1 L455.9 377.9 L455.4 378 L454.9 378 L454.4 378.2 L453.9 378 L453.4 378 L452.9 378.2 L452.4 378.2 L451.9 378.2 L451.4 378.2 L450.9 378 L450.4 378 L449.9 378.1 L449.4 378.2 L448.9 379.5 L448.4 379.7 L447.9 378 L447.4 378 L446.9 378.1 L446.4 377.9 L445.9 377.9 L445.4 378.1 L444.9 378.2 L444.4 378 L443.9 378.1 L443.4 378.1 L442.9 378.2 L442.4 377.9 L441.9 378 L441.4 378.2 L440.9 377.9 L440.4 378.1 L439.9 377.9 L439.4 378.1 L438.9 378.2 L438.4 378.2 L437.9 377.9 L437.4 378.3 L436.9 378.1 L436.4 378 L435.9 378 L435.4 378 L434.9 378 L434.4 378.2 L433.9 378.1 L433.4 378 L432.9 378 L432.4 378.2 L431.9 378.3 L431.4 378 L430.9 378.1 L430.4 378.1 L429.9 378 L429.4 377.9 L428.9 378.1 L428.4 377.9 L427.9 378.2 L427.4 378.1 L426.9 380.1 L426.4 380 L425.9 378.1 L425.4 378.1 L424.9 378 L424.4 378.2 L423.9 378.2 L423.4 378.3 L422.9 379.9 L422.4 380 L421.9 378 L421.4 378.1 L420.9 378 L420.4 377.9 L419.9 377.9 L419.4 378 L418.9 378.1 L418.4 378.1 L417.9 379.9 L417.4 379.9 L416.9 377.9 L416.4 378 L415.9 378 L415.4 377.9 L414.9 380.1 L414.4 380.5 L413.9 377.9 L413.4 377.9 L412.9 380.6 L412.4 380.4 L411.9 377.9 L411.4 378.1 L410.9 378.3 L410.4 378.1 L409.9 377.9 L409.4 377.9 L408.9 378 L408.4 378.1 L407.9 378 L407.4 378.1 L406.9 378.2 L406.4 378.2 L405.9 378.2 L405.4 378.1 L404.9 377.9 L404.4 378 L403.9 380.4 L403.4 380.1 L402.9 378.2 L402.4 378.2 L401.9 377.9 L401.4 377.9 L400.9 378.2 L400.4 378.3 L399.9 378.1 L399.4 378.2 L398.9 378.1 L398.4 378.2 L397.9 378 L397.4 378 L396.9 378.1 L396.4 378 L395.9 379.7 L395.4 379.7 L394.9 378 L394.4 378.2 L393.9 378.1 L393.4 378.2 L392.9 378.1 L392.4 378 L391.9 378 L391.4 378.2 L390.9 378.3 L390.4 378 L389.9 378.1 L389.4 378.2 L388.9 378 L388.4 378.1 L387.9 378.1 L387.4 378.1 L386.9 378 L386.4 378.1 L385.9 378.2 L385.4 378.4 L384.9 378.2 L384.4 378.1 L383.9 378.2 L383.4 378.4 L382.9 378.3 L382.4 378.1 L381.9 378.1 L381.4 378.3 L380.9 378.2 L380.4 378.2 L379.9 378.2 L379.4 378.3 L378.9 378.1 L378.4 378.2 L377.9 378.2 L377.4 378 L376.9 378.2 L376.4 378.1 L375.9 379.7 L375.4 379.6 L374.9 378.4 L374.4 378.3 L373.9 378.4 L373.4 378 L372.9 378.3 L372.4 378.4 L371.9 378.1 L371.4 378.1 L370.9 378.4 L370.4 378.4 L369.9 378.3 L369.4 378.3 L368.9 379.8 L368.4 379.9 L367.9 378.1 L367.4 378.1 L366.9 378.4 L366.4 378.4 L365.9 378.2 L365.4 378.1 L364.9 378.3 L364.4 378.1 L363.9 378.4 L363.4 378.3 L362.9 378.2 L362.4 378.1 L361.9 380.1 L361.4 380 L360.9 378.4 L360.4 378.3 L359.9 378.3 L359.4 378.4 L358.9 378.1 L358.4 378.3 L357.9 378.2 L357.4 378.3 L356.9 378.2 L356.4 378.3 L355.9 378.2 L355.4 378.3 L354.9 378.3 L354.4 378.2 L353.9 378.3 L353.4 378.4 L352.9 378.1 L352.4 378.5 L351.9 378.1 L351.4 378.4 L350.9 379.9 L350.4 380 L349.9 378.3 L349.4 378.4 L348.9 378.1 L348.4 378.4 L347.9 378.5 L347.4 378.3 L346.9 378.4 L346.4 378.2 L345.9 378.3 L345.4 378.4 L344.9 378.4 L344.4 378.5 L343.9 378.3 L343.4 378.2 L342.9 378.2 L342.4 378.4 L341.9 378.2 L341.4 378.5 L340.9 378.3 L340.4 378.4 L339.9 378.4 L339.4 378.2 L338.9 380.7 L338.4 380.6 L337.9 378.2 L337.4 378.3 L336.9 378.3 L336.4 378.5 L335.9 381.1 L335.4 381 L334.9 378.3 L334.4 378.2 L333.9 378.3 L333.4 378.4 L332.9 378.3 L332.4 378.4 L331.9 378.5 L331.4 378.4 L330.9 378.5 L330.4 378.5 L329.9 378.3 L329.4 378.4 L328.9 378.4 L328.4 378.5 L327.9 378.3 L327.4 378.4 L326.9 378.5 L326.4 378.3 L325.9 378.3 L325.4 378.3 L324.9 380.8 L324.4 380.6 L323.9 378.5 L323.4 378.5 L322.9 378.4 L322.4 378.5 L321.9 378.4 L321.4 378.3 L320.9 378.4 L320.4 378.3 L319.9 378.4 L319.4 378.6 L318.9 378.6 L318.4 378.6 L317.9 378.3 L317.4 378.6 L316.9 380.1 L316.4 380.2 L315.9 378.6 L315.4 378.4 L314.9 378.3 L314.4 378.5 L313.9 378.3 L313.4 378.6 L312.9 378.5 L312.4 378.6 L311.9 378.3 L311.4 378.5 L310.9 378.6 L310.4 378.6 L309.9 378.3 L309.4 378.7 L308.9 378.4 L308.4 378.6 L307.9 380 L307.4 379.9 L306.9 378.4 L306.4 378.3 L305.9 378.7 L305.4 378.7 L304.9 378.6 L304.4 378.6 L303.9 378.7 L303.4 378.5 L302.9 378.4 L302.4 378.5 L301.9 378.4 L301.4 378.4 L300.9 378.3 L300.4 378.4 L299.9 378.4 L299.4 378.4 L298.9 378.4 L298.4 378.6 L297.9 378.4 L297.4 378.4 L296.9 378.5 L296.4 378.4 L295.9 378.5 L295.4 378.5 L294.9 378.5 L294.4 378.7 L293.9 381.1 L293.4 381.2 L292.9 378.7 L292.4 378.6 L291.9 378.5 L291.4 378.4 L290.9 378.4 L290.4 378.7 L289.9 378.7 L289.4 378.6 L288.9 378.4 L288.4 378.7 L287.9 378.6 L287.4 378.6 L286.9 380.4 L286.4 380.5 L285.9 378.7 L285.4 378.6 L284.9 378.7 L284.4 378.7 L283.9 378.8 L283.4 378.7 L282.9 378.9 L282.4 378.9 L281.9 379 L281.4 378.8 L280.9 379.1 L280.4 379 L279.9 379.1 L279.4 378.9 L278.9 378.9 L278.4 379.2 L277.9 378.9 L277.4 379.1 L276.9 379.1 L276.4 379.2 L275.9 379.4 L275.4 379.1 L274.9 379.2 L274.4 379.5 L273.9 381.2 L273.4 381.4 L272.9 381.7 L272.4 381.8 L271.9 382.5 L271.4 382.8 L270.9 380.2 L270.4 380.4 L269.9 381.1 L269.4 381.2 L268.9 381.7 L268.4 382.2 L267.9 382.2 L267.4 382.1 L266.9 382.2 L266.4 382.3 L265.9 381.2 L265.4 378.3 L264.9 377.5 L264.4 376.4 L263.9 375.3 L263.4 374.2 L262.9 371.8 L262.4 369.8 L261.9 367.3 L261.4 359.9 L260.9 350.3 L260.4 346.1 L259.9 345.2 L259.4 344.6 L258.9 344.7 L258.4 344.5 L257.9 344.4 L257.4 343.9 L256.9 343.6 L256.4 342.9 L255.9 342.5 L255.4 342.3 L254.9 342.4 L254.4 342 L253.9 342 L253.4 341.8 L252.9 341.5 L252.4 341.3 L251.9 342.5 L251.4 342.4 L250.9 340.7 L250.4 340.6 L249.9 340.3 L249.4 340.4 L248.9 340.2 L248.4 340.1 L247.9 339.9 L247.4 339.6 L246.9 339.6 L246.4 339.7 L245.9 339.4 L245.4 339.2 L244.9 339.1 L244.4 339.2 L243.9 340.1 L243.4 340.3 L242.9 338.6 L242.4 338.5 L241.9 338.5 L241.4 338.2 L240.9 338.2 L240.4 337.8 L239.9 339.6 L239.4 339.5 L238.9 337.6 L238.4 337.5 L237.9 339.6 L237.4 339.3 L236.9 337.5 L236.4 337.2 L235.9 337.3 L235.4 337.3 L234.9 336.9 L234.4 336.8 L233.9 336.9 L233.4 337 L232.9 336.9 L232.4 336.6 L231.9 338.2 L231.4 338 L230.9 336.3 L230.4 336.1 L229.9 336.1 L229.4 336 L228.9 337.6 L228.4 337.5 L227.9 337.1 L227.4 336.9 L226.9 335.9 L226.4 335.5 L225.9 337.2 L225.4 337.3 L224.9 338 L224.4 337.7 L223.9 335.5 L223.4 335.2 L222.9 335.1 L222.4 335 L221.9 335 L221.4 334.9 L220.9 334.8 L220.4 334.9 L219.9 334.6 L219.4 334.7 L218.9 336.7 L218.4 336.9 L217.9 334.4 L217.4 334.5 L216.9 334.2 L216.4 334.4 L215.9 334 L215.4 334.2 L214.9 333.8 L214.4 333.8 L213.9 333.8 L213.4 333.7 L212.9 333.9 L212.4 333.7 L211.9 333.7 L211.4 333.8 L210.9 333.7 L210.4 333.7 L209.9 335.2 L209.4 335.1 L208.9 333.5 L208.4 333.5 L207.9 333.4 L207.4 333.3 L206.9 333.4 L206.4 333.3 L205.9 333.2 L205.4 333 L204.9 333.2 L204.4 332.8 L203.9 333.1 L203.4 332.7 L202.9 332.6 L202.4 332.8 L201.9 332.7 L201.4 332.6 L200.9 332.5 L200.4 332.7 L199.9 332.4 L199.4 332.3 L198.9 334.3 L198.4 334 L197.9 332.4 L197.4 332.4 L196.9 332.2 L196.4 332.4 L195.9 332.3 L195.4 332.1 L194.9 332.1 L194.4 332.3 L193.9 332.3 L193.4 332.2 L192.9 332 L192.4 332.1 L191.9 332.3 L191.4 332.2 L190.9 333.5 L190.4 333.6 L189.9 332.2 L189.4 332.1 L188.9 331.8 L188.4 331.9 L187.9 331.9 L187.4 331.9 L186.9 331.7 L186.4 332 L185.9 333.5 L185.4 333.3 L184.9 331.7 L184.4 331.5 L183.9 333.8 L183.4 333.9 L182.9 331.7 L182.4 331.8 L181.9 331.7 L181.4 331.7 L180.9 331.4 L180.4 331.3 L179.9 331.3 L179.4 331.7 L178.9 333.5 L178.4 333.5 L177.9 331.6 L177.4 331.5 L176.9 331.4 L176.4 331.5 L175.9 331.6 L175.4 331.4 L174.9 331.3 L174.4 331.3 L173.9 331.6 L173.4 331.4 L172.9 331.4 L172.4 331.5 L171.9 331.4 L171.4 331.3 L170.9 331.3 L170.4 331.3 L169.9 331.3 L169.4 331.4 L168.9 331.3 L168.4 331.2 L167.9 331.3 L167.4 331.2 L166.9 331.3 L166.4 331.5 L165.9 331.2 L165.4 331.1 L164.9 331.3 L164.4 331.2 L163.9 333.7 L163.4 333.7 L162.9 331.3 L162.4 331.2 L161.9 331.2 L161.4 331.2 L160.9 331.4 L160.4 331.3 L159.9 331.4 L159.4 331.4 L158.9 331.3 L158.4 331.4 L157.9 331.1 L157.4 331.4 L156.9 331 L156.4 331.3 L155.9 331 L155.4 331.4 L154.9 331.1 L154.4 331.1 L153.9 331.2 L153.4 331.2 L152.9 331 L152.4 331.2 L151.9 331.2 L151.4 331.3 L150.9 331.3 L150.4 331 L149.9 331 L149.4 331 L148.9 331.2 L148.4 331 L147.9 331 L147.4 331.1 L146.9 331.2 L146.4 331 L145.9 331.3 L145.4 331.2 L144.9 330.9 L144.4 331.3 L143.9 331 L143.4 331 L142.9 331.1 L142.4 331.1 L141.9 331.1 L141.4 331.2 L140.9 333.5 L140.4 333.2 L139.9 331.2 L139.4 331.1 L138.9 330.9 L138.4 331.1 L137.9 331 L137.4 331.1 L136.9 330.9 L136.4 331 L135.9 330.9 L135.4 331.1 L134.9 331 L134.4 331 L133.9 331.2 L133.4 330.9 L132.9 330.9 L132.4 331.2 L131.9 331.1 L131.4 331.1 L130.9 330.9 L130.4 330.8 L129.9 330.9 L129.4 331.1 L128.9 331 L128.4 331.1 L127.9 331.1 L127.4 331 L126.9 331.1 L126.4 330.8 L125.9 331.1 L125.4 331 L124.9 330.8 L124.4 330.9 L123.9 330.9 L123.4 330.9 L122.9 330.8 L122.4 330.8 L121.9 331 L121.4 330.9 L120.9 331 L120.4 330.8 L119.9 330.9 L119.4 331 L118.9 330.8 L118.4 330.7 L117.9 330.7 L117.4 330.7 L116.9 330.7 L116.4 330.8 L115.9 330.6 L115.4 330.9 L114.9 330.7 L114.4 330.7 L113.9 330.8 L113.4 331 L112.9 330.6 L112.4 330.7 L111.9 330.9 L111.4 330.8 L110.9 330.9 L110.4 330.9 L109.9 331 L109.4 330.8 L108.9 330.7 L108.4 330.8 L107.9 330.9 L107.4 330.8 L106.9 330.7 L106.4 330.6 L105.9 332.5 L105.4 332.3 L104.9 330.8 L104.4 330.7 L103.9 330.6 L103.4 330.8 L102.9 330.8 L102.4 330.7 L101.9 330.7 L101.4 330.8 L100.9 330.6 L100.4 330.5 L99.9 330.9 L99.4 330.5 L98.9 330.7 L98.4 330.6 L97.9 332.1 L97.4 332.4 L96.9 330.9 L96.4 330.6 L95.9 330.8 L95.4 330.8 L94.9 330.8 L94.4 330.6 L93.9 330.6 L93.4 330.7 L92.9 330.7 L92.4 330.6 L91.9 330.7 L91.4 330.7 L90.9 330.6 L90.4 330.7 L89.9 333 L89.4 333 L88.9 330.8 L88.4 330.7 L87.9 330.6 L87.4 330.7 L86.9 330.7 L86.4 330.8 L85.9 330.8 L85.4 330.5 L84.9 330.7 L84.4 330.9 L83.9 330.8 L83.4 330.8 L82.9 330.8 L82.4 330.6 L81.9 330.5 L81.4 330.5 L80.9 330.5 L80.4 330.5 L79.9 332.9 L79.4 332.9 L78.9 330.7 L78.4 330.7 L77.9 330.8 L77.4 330.5 L76.9 332.5 L76.4 332.2 L75.9 330.6 L75.4 330.8 L74.9 330.7 L74.4 330.5 L73.9 330.7 L73.4 330.7 L72.9 330.8 L72.4 330.7 L71.9 330.6 L71.4 330.7 L70.9 330.8 L70.4 330.6 L69.9 332.2 L69.4 332.2 L68.9 330.9 L68.4 330.7 L67.9 332.8 L67.4 332.9 L66.9 330.7 L66.4 330.6 L65.9 330.8 L65.4 330.8 L64.9 330.6 L64.4 330.8 L63.9 330.8 L63.4 330.5 L62.9 330.8 L62.4 330.7 L61.9 332.5 L61.4 332.4 L60.9 330.6 L60.4 330.8 L59.9 330.5 L59.4 330.7 L58.9 330.8 L58.4 330.6 L57.9 330.8 L57.4 330.5 L56.9 330.6 L56.4 330.8 L55.9 330.6 L55.4 330.7 L54.9 331.9 L54.4 331.9 L53.9 330.7 L53.4 330.5 L52.9 330.8 L52.4 330.7 L51.9 333.1 L51.4 333 L50.9 330.8 L50.4 330.6 L49.9 330.7 L49.4 330.8 L48.9 330.7 L48.4 330.7 L47.9 330.7 L47.4 330.5 L46.9 332.8 L46.4 332.6 L45.9 332 L45.4 332.1 L44.9 330.4 L44.4 330.8 L43.9 332.6 L43.4 332.8 L42.9 330.7 L42.4 330.7 L41.9 330.6 L41.4 330.6 L40.9 330.5 L40.4 330.6 L39.9 330.8 L39.4 330.5 L38.9 330.8 L38.4 330.8 L37.9 330.5 L37.4 330.5 L36.9 330.6 L36.4 330.5 L35.9 330.7 L35.4 330.8 L34.9 330.5 L34.4 330.6 L33.9 330.7 L33.4 330.5 L32.9 330.7 L32.4 330.5 L31.9 330.6 L31.4 330.4 L30.9 330.8 L30.4 330.7 L29.9 332.6 L29.4 332.7 L28.9 330.6 L28.4 330.8 L27.9 330.6 L27.4 330.8 L26.9 332.1 L26.4 331.8 L25.9 330.7 L25.4 330.7 L24.9 330.5 L24.4 330.8 L23.9 330.7 L23.4 330.6 L22.9 330.5 L22.4 330.6Z" fill="#097609"/>
<path d="M22.4 322.4 L22.9 322.4 L23.4 322.4 L23.9 322.4 L24.4 322.4 L24.9 322.4 L25.4 322.4 L25.9 322.4 L26.4 322.4 L26.9 322.4 L27.4 322.4 L27.9 322.4 L28.4 322.4 L28.9 322.4 L29.4 322.4 L29.9 322.4 L30.4 322.4 L30.9 322.4 L31.4 322.4 L31.9 322.4 L32.4 322.4 L32.9 322.4 L33.4 322.4 L33.9 322.4 L34.4 322.4 L34.9 322.4 L35.4 322.4 L35.9 322.4 L36.4 322.4 L36.9 322.4 L37.4 322.4 L37.9 322.4 L38.4 322.4 L38.9 322.4 L39.4 322.4 L39.9 322.4 L40.4 322.4 L40.9 322.4 L41.4 322.4 L41.9 322.4 L42.4 322.4 L42.9 322.4 L43.4 322.4 L43.9 322.4 L44.4 322.4 L44.9 322.4 L45.4 322.4 L45.9 322.4 L46.4 322.4 L46.9 322.4 L47.4 322.4 L47.9 322.4 L48.4 322.4 L48.9 322.4 L49.4 322.4 L49.9 322.4 L50.4 322.4 L50.9 322.4 L51.4 322.4 L51.9 322.4 L52.4 322.4 L52.9 322.4 L53.4 322.4 L53.9 322.4 L54.4 322.4 L54.9 322.4 L55.4 322.4 L55.9 322.4 L56.4 322.4 L56.9 322.4 L57.4 322.4 L57.9 322.4 L58.4 322.4 L58.9 322.4 L59.4 322.4 L59.9 322.4 L60.4 322.4 L60.9 322.4 L61.4 322.5 L61.9 322.5 L62.4 322.5 L62.9 322.5 L63.4 322.5 L63.9 322.5 L64.4 322.5 L64.9 322.5 L65.4 322.5 L65.9 322.5 L66.4 322.5 L66.9 322.5 L67.4 322.5 L67.9 322.5 L68.4 322.5 L68.9 322.5 L69.4 322.5 L69.9 322.5 L70.4 322.5 L70.9 322.5 L71.4 322.5 L71.9 322.5 L72.4 322.5 L72.9 322.5 L73.4 322.5 L73.9 322.5 L74.4 322.5 L74.9 322.5 L75.4 322.5 L75.9 322.5 L76.4 322.5 L76.9 322.5 L77.4 322.5 L77.9 322.5 L78.4 322.5 L78.9 322.5 L79.4 322.5 L79.9 322.5 L80.4 322.5 L80.9 322.5 L81.4 322.5 L81.9 322.5 L82.4 322.5 L82.9 322.5 L83.4 322.5 L83.9 322.5 L84.4 322.5 L84.9 322.5 L85.4 322.5 L85.9 322.5 L86.4 322.5 L86.9 322.5 L87.4 322.5 L87.9 322.5 L88.4 322.5 L88.9 322.5 L89.4 322.5 L89.9 322.5 L90.4 322.5 L90.9 322.5 L91.4 322.5 L91.9 322.5 L92.4 322.5 L92.9 322.5 L93.4 322.5 L93.9 322.5 L94.4 322.5 L94.9 322.5 L95.4 322.5 L95.9 322.5 L96.4 322.5 L96.9 322.5 L97.4 322.5 L97.9 322.5 L98.4 322.5 L98.9 322.5 L99.4 322.5 L99.9 322.5 L100.4 322.5 L100.9 322.5 L101.4 322.5 L101.9 322.5 L102.4 322.5 L102.9 322.5 L103.4 322.5 L103.9 322.5 L104.4 322.5 L104.9 322.5 L105.4 322.5 L105.9 322.6 L106.4 322.6 L106.9 322.6 L107.4 322.6 L107.9 322.6 L108.4 322.6 L108.9 322.6 L109.4 322.6 L109.9 322.6 L110.4 322.6 L110.9 322.6 L111.4 322.6 L111.9 322.6 L112.4 322.6 L112.9 322.6 L113.4 322.6 L113.9 322.6 L114.4 322.6 L114.9 322.6 L115.4 322.6 L115.9 322.6 L116.4 322.6 L116.9 322.7 L117.4 322.7 L117.9 322.7 L118.4 322.7 L118.9 322.7 L119.4 322.7 L119.9 322.7 L120.4 322.7 L120.9 322.7 L121.4 322.7 L121.9 322.7 L122.4 322.7 L122.9 322.7 L123.4 322.7 L123.9 322.7 L124.4 322.7 L124.9 322.7 L125.4 322.7 L125.9 322.7 L126.4 322.7 L126.9 322.7 L127.4 322.7 L127.9 322.8 L128.4 322.8 L128.9 322.8 L129.4 322.8 L129.9 322.8 L130.4 322.8 L130.9 322.8 L131.4 322.8 L131.9 322.8 L132.4 322.8 L132.9 322.8 L133.4 322.8 L133.9 322.8 L134.4 322.8 L134.9 322.8 L135.4 322.8 L135.9 322.8 L136.4 322.8 L136.9 322.8 L137.4 322.8 L137.9 322.8 L138.4 322.8 L138.9 322.8 L139.4 322.9 L139.9 322.9 L140.4 322.9 L140.9 322.9 L141.4 322.9 L141.9 322.9 L142.4 322.9 L142.9 322.9 L143.4 322.9 L143.9 322.9 L144.4 322.9 L144.9 322.9 L145.4 322.9 L145.9 322.9 L146.4 322.9 L146.9 322.9 L147.4 322.9 L147.9 322.9 L148.4 322.9 L148.9 322.9 L149.4 322.9 L149.9 322.9 L150.4 323 L150.9 323 L151.4 323 L151.9 323 L152.4 323 L152.9 323 L153.4 323 L153.9 323 L154.4 323 L154.9 323 L155.4 323 L155.9 323 L156.4 323 L156.9 323 L157.4 323 L157.9 323 L158.4 323 L158.9 323 L159.4 323 L159.9 323 L160.4 323 L160.9 323 L161.4 323.1 L161.9 323.1 L162.4 323.1 L162.9 323.1 L163.4 323.1 L163.9 323.1 L164.4 323.1 L164.9 323.1 L165.4 323.1 L165.9 323.1 L166.4 323.1 L166.9 323.1 L167.4 323.1 L167.9 323.1 L168.4 323.1 L168.9 323.1 L169.4 323.1 L169.9 323.1 L170.4 323.1 L170.9 323.1 L171.4 323.1 L171.9 323.1 L172.4 323.2 L172.9 323.2 L173.4 323.2 L173.9 323.2 L174.4 323.2 L174.9 323.2 L175.4 323.2 L175.9 323.2 L176.4 323.2 L176.9 323.2 L177.4 323.2 L177.9 323.2 L178.4 323.2 L178.9 323.2 L179.4 323.3 L179.9 323.3 L180.4 323.3 L180.9 323.3 L181.4 323.4 L181.9 323.4 L182.4 323.4 L182.9 323.4 L183.4 323.5 L183.9 323.5 L184.4 323.5 L184.9 323.5 L185.4 323.6 L185.9 323.6 L186.4 323.6 L186.9 323.6 L187.4 323.7 L187.9 323.7 L188.4 323.7 L188.9 323.7 L189.4 323.8 L189.9 323.8 L190.4 323.8 L190.9 323.8 L191.4 323.9 L191.9 323.9 L192.4 323.9 L192.9 323.9 L193.4 324 L193.9 324 L194.4 324 L194.9 324 L195.4 324.1 L195.9 324.1 L196.4 324.1 L196.9 324.1 L197.4 324.2 L197.9 324.2 L198.4 324.2 L198.9 324.2 L199.4 324.3 L199.9 324.3 L200.4 324.3 L200.9 324.4 L201.4 324.4 L201.9 324.5 L202.4 324.5 L202.9 324.6 L203.4 324.6 L203.9 324.7 L204.4 324.7 L204.9 324.8 L205.4 324.8 L205.9 324.9 L206.4 324.9 L206.9 325 L207.4 325 L207.9 325.1 L208.4 325.1 L208.9 325.2 L209.4 325.2 L209.9 325.3 L210.4 325.3 L210.9 325.4 L211.4 325.4 L211.9 325.5 L212.4 325.5 L212.9 325.6 L213.4 325.6 L213.9 325.7 L214.4 325.7 L214.9 325.8 L215.4 325.9 L215.9 325.9 L216.4 326 L216.9 326.1 L217.4 326.2 L217.9 326.2 L218.4 326.3 L218.9 326.4 L219.4 326.5 L219.9 326.5 L220.4 326.6 L220.9 326.7 L221.4 326.7 L221.9 326.8 L222.4 326.9 L222.9 327 L223.4 327 L223.9 327.1 L224.4 327.2 L224.9 327.3 L225.4 327.3 L225.9 327.4 L226.4 327.5 L226.9 327.6 L227.4 327.6 L227.9 327.7 L228.4 327.8 L228.9 327.8 L229.4 327.9 L229.9 328 L230.4 328.1 L230.9 328.2 L231.4 328.2 L231.9 328.3 L232.4 328.4 L232.9 328.5 L233.4 328.6 L233.9 328.7 L234.4 328.8 L234.9 328.8 L235.4 328.9 L235.9 329 L236.4 329.1 L236.9 329.2 L237.4 329.3 L237.9 329.4 L238.4 329.4 L238.9 329.5 L239.4 329.6 L239.9 329.7 L240.4 329.8 L240.9 329.9 L241.4 330.1 L241.9 330.2 L242.4 330.3 L242.9 330.4 L243.4 330.6 L243.9 330.7 L244.4 330.8 L244.9 330.9 L245.4 331.1 L245.9 331.2 L246.4 331.3 L246.9 331.4 L247.4 331.6 L247.9 331.7 L248.4 331.8 L248.9 331.9 L249.4 332.1 L249.9 332.2 L250.4 332.4 L250.9 332.5 L251.4 332.7 L251.9 332.9 L252.4 333.1 L252.9 333.3 L253.4 333.5 L253.9 333.6 L254.4 333.8 L254.9 334 L255.4 334.2 L255.9 334.4 L256.4 334.8 L256.9 335.2 L257.4 335.6 L257.9 336.1 L258.4 336.5 L258.9 336.9 L259.4 337.6 L259.9 339.1 L260.4 340.6 L260.9 349.5 L261.4 359.1 L261.9 366.5 L262.4 368.9 L262.9 371.2 L263.4 373.6 L263.9 374.7 L264.4 375.6 L264.9 376.6 L265.4 377.6 L265.9 377.4 L266.4 378 L266.9 377.6 L267.4 377.1 L267.9 376.7 L268.4 376.2 L268.9 375.4 L269.4 374.6 L269.9 373.8 L270.4 373 L270.9 372.4 L271.4 372.1 L271.9 372.2 L272.4 372 L272.9 371.9 L273.4 371.7 L273.9 371.5 L274.4 371.4 L274.9 371.2 L275.4 371.2 L275.9 371.1 L276.4 371.1 L276.9 371.1 L277.4 371 L277.9 371 L278.4 371 L278.9 370.9 L279.4 370.9 L279.9 370.9 L280.4 370.8 L280.9 370.8 L281.4 370.7 L281.9 370.7 L282.4 370.7 L282.9 370.6 L283.4 370.6 L283.9 370.6 L284.4 370.5 L284.9 370.5 L285.4 370.5 L285.9 370.5 L286.4 370.5 L286.9 370.5 L287.4 370.5 L287.9 370.5 L288.4 370.5 L288.9 370.5 L289.4 370.5 L289.9 370.5 L290.4 370.5 L290.9 370.5 L291.4 370.5 L291.9 370.5 L292.4 370.5 L292.9 370.5 L293.4 370.5 L293.9 370.5 L294.4 370.5 L294.9 370.5 L295.4 370.5 L295.9 370.5 L296.4 370.5 L296.9 370.4 L297.4 370.4 L297.9 370.4 L298.4 370.4 L298.9 370.4 L299.4 370.4 L299.9 370.4 L300.4 370.4 L300.9 370.4 L301.4 370.4 L301.9 370.4 L302.4 370.4 L302.9 370.4 L303.4 370.4 L303.9 370.4 L304.4 370.4 L304.9 370.4 L305.4 370.4 L305.9 370.4 L306.4 370.4 L306.9 370.4 L307.4 370.4 L307.9 370.4 L308.4 370.4 L308.9 370.4 L309.4 370.4 L309.9 370.4 L310.4 370.4 L310.9 370.4 L311.4 370.4 L311.9 370.4 L312.4 370.4 L312.9 370.4 L313.4 370.4 L313.9 370.4 L314.4 370.4 L314.9 370.4 L315.4 370.4 L315.9 370.4 L316.4 370.4 L316.9 370.4 L317.4 370.4 L317.9 370.4 L318.4 370.4 L318.9 370.4 L319.4 370.4 L319.9 370.3 L320.4 370.3 L320.9 370.3 L321.4 370.3 L321.9 370.3 L322.4 370.3 L322.9 370.3 L323.4 370.3 L323.9 370.3 L324.4 370.3 L324.9 370.3 L325.4 370.3 L325.9 370.3 L326.4 370.3 L326.9 370.3 L327.4 370.3 L327.9 370.3 L328.4 370.3 L328.9 370.3 L329.4 370.3 L329.9 370.3 L330.4 370.3 L330.9 370.3 L331.4 370.3 L331.9 370.3 L332.4 370.3 L332.9 370.3 L333.4 370.3 L333.9 370.3 L334.4 370.3 L334.9 370.3 L335.4 370.3 L335.9 370.3 L336.4 370.3 L336.9 370.3 L337.4 370.3 L337.9 370.3 L338.4 370.3 L338.9 370.3 L339.4 370.3 L339.9 370.3 L340.4 370.3 L340.9 370.3 L341.4 370.3 L341.9 370.3 L342.4 370.3 L342.9 370.2 L343.4 370.2 L343.9 370.2 L344.4 370.2 L344.9 370.2 L345.4 370.2 L345.9 370.2 L346.4 370.2 L346.9 370.2 L347.4 370.2 L347.9 370.2 L348.4 370.2 L348.9 370.2 L349.4 370.2 L349.9 370.2 L350.4 370.2 L350.9 370.2 L351.4 370.2 L351.9 370.2 L352.4 370.2 L352.9 370.2 L353.4 370.2 L353.9 370.2 L354.4 370.2 L354.9 370.2 L355.4 370.2 L355.9 370.2 L356.4 370.2 L356.9 370.2 L357.4 370.2 L357.9 370.2 L358.4 370.2 L358.9 370.2 L359.4 370.2 L359.9 370.2 L360.4 370.2 L360.9 370.2 L361.4 370.2 L361.9 370.2 L362.4 370.2 L362.9 370.2 L363.4 370.2 L363.9 370.2 L364.4 370.2 L364.9 370.2 L365.4 370.2 L365.9 370.1 L366.4 370.1 L366.9 370.1 L367.4 370.1 L367.9 370.1 L368.4 370.1 L368.9 370.1 L369.4 370.1 L369.9 370.1 L370.4 370.1 L370.9 370.1 L371.4 370.1 L371.9 370.1 L372.4 370.1 L372.9 370.1 L373.4 370.1 L373.9 370.1 L374.4 370.1 L374.9 370.1 L375.4 370.1 L375.9 370.1 L376.4 370.1 L376.9 370.1 L377.4 370.1 L377.9 370.1 L378.4 370.1 L378.9 370.1 L379.4 370.1 L379.9 370.1 L380.4 370.1 L380.9 370.1 L381.4 370.1 L381.9 370.1 L382.4 370.1 L382.9 370.1 L383.4 370.1 L383.9 370.1 L384.4 370.1 L384.9 370.1 L385.4 370.1 L385.9 370.1 L386.4 370.1 L386.9 370.1 L387.4 370.1 L387.9 370.1 L388.4 370.1 L388.9 370 L389.4 370 L389.9 370 L390.4 370 L390.9 370 L391.4 370 L391.9 370 L392.4 370 L392.9 370 L393.4 370 L393.9 370 L394.4 370 L394.9 370 L395.4 370 L395.9 370 L396.4 370 L396.9 370 L397.4 370 L397.9 370 L398.4 370 L398.9 370 L399.4 370 L399.9 370 L400.4 370 L400.9 370 L401.4 370 L401.9 370 L402.4 370 L402.9 370 L403.4 370 L403.9 370 L404.4 370 L404.9 370 L405.4 370 L405.9 370 L406.4 370 L406.9 370 L407.4 370 L407.9 370 L408.4 370 L408.9 370 L409.4 370 L409.9 370 L410.4 370 L410.9 370 L411.4 370 L411.9 370 L412.4 370 L412.9 370 L413.4 370 L413.9 370 L414.4 370 L414.9 370 L415.4 370 L415.9 370 L416.4 370 L416.9 370 L417.4 370 L417.9 370 L418.4 370 L418.9 370 L419.4 370 L419.9 370 L420.4 370 L420.9 370 L421.4 370 L421.9 370 L422.4 370 L422.9 370 L423.4 370 L423.9 370 L424.4 370 L424.9 370 L425.4 370 L425.9 370 L426.4 370 L426.9 370 L427.4 370 L427.9 370 L428.4 370 L428.9 370 L429.4 370 L429.9 370 L430.4 370 L430.9 370 L431.4 370 L431.9 370 L432.4 370 L432.9 370 L433.4 370 L433.9 370 L434.4 370 L434.9 370 L435.4 370 L435.9 370 L436.4 370 L436.9 370 L437.4 370 L437.9 370 L438.4 370 L438.9 370 L439.4 370 L439.9 370 L440.4 370 L440.9 370 L441.4 370 L441.9 370 L442.4 370 L442.9 370 L443.4 370 L443.9 370 L444.4 370 L444.9 370 L445.4 370 L445.9 370 L446.4 370 L446.9 370 L447.4 370 L447.9 370 L448.4 370 L448.9 370 L449.4 370 L449.9 370 L450.4 370 L450.9 370 L451.4 370 L451.9 370 L452.4 370 L452.9 370 L453.4 370 L453.9 370 L454.4 370 L454.9 370 L455.4 370 L455.9 370 L456.4 370 L456.9 370 L457.4 370 L457.9 370 L458.4 370 L458.9 370 L459.4 370 L459.9 370 L460.4 370 L460.9 370 L461.4 370 L461.9 370 L462.4 370 L462.9 370 L463.4 370 L463.9 370 L464.4 370 L464.9 370 L465.4 370 L465.9 370 L466.4 370 L466.9 370 L467.4 369.9 L467.9 369.9 L468.4 369.9 L468.9 369.9 L469.4 369.9 L469.9 369.9 L470.4 369.9 L470.9 369.9 L471.4 369.9 L471.9 369.9 L472.4 369.9 L472.9 369.9 L473.4 369.9 L473.9 369.9 L474.4 369.9 L474.9 369.9 L475.4 369.9 L475.9 369.9 L476.4 369.9 L476.9 369.9 L477.4 369.9 L477.9 369.9 L478.4 369.9 L478.9 369.9 L479.4 369.9 L479.9 369.9 L480.4 369.9 L480.9 369.9 L481.4 369.9 L481.9 369.9 L482.4 369.9 L482.9 369.9 L483.4 369.9 L483.9 369.9 L484.4 369.9 L484.9 369.9 L485.4 369.9 L485.9 369.9 L486.4 369.9 L486.9 369.9 L487.4 369.9 L487.9 369.9 L488.4 369.9 L488.9 369.9 L489.4 369.9 L489.9 369.9 L490.4 369.9 L490.9 369.9 L491.4 369.9 L491.9 369.9 L492.4 369.9 L492.9 369.9 L493.4 369.9 L493.9 369.9 L494.4 369.9 L494.9 369.9 L495.4 369.9 L495.9 369.9 L496.4 369.9 L496.9 369.9 L497.4 369.9 L497.9 369.9 L498.4 369.9 L498.9 369.9 L499.4 369.9 L499.9 369.9 L500.4 369.9 L500.9 369.9 L501.4 369.9 L501.9 369.9 L502.4 369.9 L502.9 369.9 L503.4 369.9 L503.9 369.9 L504.4 369.9 L504.9 369.9 L505.4 369.9 L505.9 369.9 L506.4 369.9 L506.9 369.9 L507.4 369.9 L507.9 369.9 L508.4 369.9 L508.9 369.9 L509.4 369.9 L509.9 369.9 L510.4 369.9 L510.9 369.9 L511.4 369.9 L511.9 369.9 L512.4 369.9 L512.9 369.9 L513.4 369.9 L513.9 369.9 L514.4 369.9 L514.9 369.9 L515.4 369.9 L515.9 369.9 L516.4 369.9 L516.9 369.9 L517.4 369.9 L517.9 369.9 L518.4 369.9 L518.9 369.9 L519.4 369.9 L519.9 369.9 L520.4 369.9 L520.9 369.9 L521.4 369.9 L521.9 369.9 L522.4 369.9 L522.9 369.9 L523.4 369.9 L523.9 369.9 L524.4 369.9 L524.9 369.9 L525.4 369.9 L525.9 369.9 L526.4 369.9 L526.9 369.9 L527.4 369.9 L527.9 369.9 L528.4 369.9 L528.9 369.9 L529.4 369.9 L529.9 369.9 L530.4 369.9 L530.9 369.9 L531.4 369.9 L531.9 369.9 L532.4 369.9 L532.9 369.9 L533.4 369.9 L533.9 369.9 L534.4 369.9 L534.9 369.9 L535.4 369.9 L535.9 369.9 L536.4 369.9 L536.9 369.9 L537.4 369.9 L537.9 369.9 L538.4 369.9 L538.9 369.9 L539.4 369.9 L539.9 369.9 L540.4 369.9 L540.9 369.9 L541.4 369.9 L541.9 369.9 L542.4 369.9 L542.9 369.9 L543.4 369.9 L543.9 369.9 L544.4 369.9 L544.9 369.9 L545.4 369.9 L545.9 369.9 L546.4 369.9 L546.9 369.9 L547.4 369.9 L547.9 369.9 L548.4 369.9 L548.9 369.9 L549.4 369.9 L549.9 369.9 L550.4 369.9 L550.9 369.9 L551.4 369.9 L551.9 369.9 L552.4 369.9 L552.9 369.9 L553.4 369.9 L553.9 369.9 L554.4 369.9 L554.9 369.9 L555.4 369.9 L555.9 369.9 L556.4 369.9 L556.9 369.9 L557.4 369.9 L557.9 369.9 L558.4 369.9 L558.9 369.9 L559.4 369.9 L559.9 369.9 L560.4 369.9 L560.9 369.9 L561.4 369.9 L561.9 369.9 L562.4 369.9 L562.9 369.9 L563.4 369.9 L563.9 369.9 L564.4 369.9 L564.9 369.9 L565.4 369.9 L565.9 369.9 L566.4 369.9 L566.9 369.9 L567.4 369.9 L567.9 369.9 L568.4 369.9 L568.9 369.9 L569.4 369.9 L569.9 369.9 L570.4 369.9 L570.9 369.9 L571.4 369.9 L571.9 369.9 L572.4 369.9 L572.9 369.9 L573.4 369.9 L573.9 369.9 L574.4 369.9 L574.9 369.9 L575.4 369.9 L575.9 369.9 L576.4 369.9 L576.9 369.9 L577.4 369.9 L577.9 369.9 L578.4 369.9 L578.9 369.9 L579.4 369.9 L579.9 369.9 L580.4 369.9 L580.9 369.9 L581.4 369.9 L581.9 369.9 L582.4 369.9 L582.9 369.9 L583.4 369.9 L583.9 369.9 L584.4 369.9 L584.9 369.9 L585.4 369.9 L585.9 369.9 L586.4 369.9 L586.9 369.9 L587.4 369.9 L587.9 369.9 L588.4 369.9 L588.9 369.9 L589.4 369.9 L589.9 369.9 L590.4 369.9 L590.9 369.9 L591.4 369.9 L591.9 369.9 L592.4 369.9 L592.9 369.9 L593.4 369.9 L593.9 369.9 L594.4 369.9 L594.9 369.9 L595.4 369.9 L595.9 369.9 L596.4 369.9 L596.9 369.9 L597.4 369.9 L597.9 369.9 L598.4 369.9 L598.9 369.9 L599.4 369.9 L599.9 369.9 L600.4 369.9 L600.9 369.9 L601.4 369.9 L601.9 369.9 L602.4 369.8 L602.9 369.8 L603.4 369.8 L603.9 369.8 L604.4 369.8 L604.9 369.8 L605.4 369.8 L605.9 369.8 L606.4 369.8 L606.9 369.8 L607.4 369.8 L607.9 369.8 L608.4 369.8 L608.9 369.8 L609.4 369.8 L609.9 369.8 L610.4 369.8 L610.9 369.8 L611.4 369.8 L611.9 369.8 L612.4 369.8 L612.9 369.8 L613.4 369.8 L613.9 369.8 L614.4 369.8 L614.9 369.8 L615.4 369.8 L615.9 369.8 L616.4 369.8 L616.9 369.8 L617.4 369.8 L617.9 369.8 L618.4 369.8 L618.9 369.8 L619.4 369.8 L619.9 369.8 L620.4 369.8 L620.9 369.8 L621.4 369.8 L621.9 369.8 L622.4 369.8 L622.9 369.8 L623.4 369.8 L623.9 369.8 L624.4 369.8 L624.9 369.8 L625.4 369.8 L625.9 369.8 L626.4 369.8 L626.9 369.8 L627.4 369.8 L627.9 369.8 L628.4 369.8 L628.9 369.8 L629.4 369.8 L629.9 369.8 L630.4 369.8 L630.9 369.8 L631.4 369.8 L631.9 369.8 L632.4 369.8 L632.9 369.8 L633.4 369.8 L633.9 369.8 L634.4 369.8 L634.9 369.8 L635.4 369.8 L635.9 369.8 L636.4 369.8 L636.9 369.8 L637.4 369.8 L637.9 369.8 L638.4 369.8 L638.9 369.8 L639.4 369.8 L639.9 369.8 L640.4 369.8 L640.9 369.8 L641.4 369.8 L641.9 369.8 L642.4 369.8 L642.9 369.8 L643.4 369.8 L643.9 369.8 L644.4 369.8 L644.9 369.8 L645.4 369.8 L645.9 369.8 L646.4 369.8 L646.9 369.8 L647.4 369.8 L647.9 369.8 L648.4 369.8 L648.9 369.8 L649.4 369.8 L649.9 369.8 L650.4 369.8 L650.9 369.8 L651.4 369.8 L651.9 369.8 L652.4 369.8 L652.9 369.8 L653.4 369.8 L653.9 369.8 L654.4 369.8 L654.9 369.8 L655.4 369.8 L655.9 369.8 L656.4 369.8 L656.9 369.8 L657.4 369.8 L657.9 369.8 L658.4 369.8 L658.9 369.8 L659.4 369.8 L659.9 369.8 L660.4 369.8 L660.9 369.8 L661.4 369.8 L661.9 369.8 L662.4 369.8 L662.9 369.8 L663.4 369.8 L663.9 369.8 L664.4 369.8 L664.9 369.8 L665.4 369.8 L665.9 369.8 L666.4 369.8 L666.9 369.8 L667.4 369.8 L667.9 369.8 L668.4 369.8 L668.9 369.8 L669.4 369.8 L669.9 369.8 L670.4 369.8 L670.9 369.8 L671.4 369.8 L671.9 369.8 L672.4 369.8 L672.9 369.8 L673.4 369.8 L673.9 369.8 L674.4 369.8 L674.9 369.8 L675.4 369.8 L675.9 369.8 L676.4 369.8 L676.9 369.8 L677.4 369.8 L677.9 369.8 L678.4 369.8 L678.9 369.8 L679.4 369.8 L679.9 369.8 L680.4 369.8 L680.9 369.8 L681.4 369.8 L681.9 369.8 L682.4 369.8 L682.9 369.8 L683.4 369.8 L683.9 369.8 L684.4 369.8 L684.9 369.8 L685.4 369.8 L685.9 369.8 L686.4 369.8 L686.9 369.8 L687.4 369.8 L687.9 369.8 L688.4 369.8 L688.9 369.8 L689.4 369.8 L689.9 369.8 L690.4 369.8 L690.9 369.8 L691.4 369.8 L691.9 369.8 L692.4 369.8 L692.9 369.8 L693.4 369.8 L693.9 369.8 L694.4 369.8 L694.9 369.8 L695.4 369.8 L695.9 369.8 L696.4 369.8 L696.9 369.8 L697.4 369.8 L697.9 369.8 L698.4 369.8 L698.9 369.8 L699.4 369.8 L699.9 369.8 L700.4 369.8 L700.9 369.8 L701.4 369.8 L701.9 369.8 L702.4 369.8 L702.9 369.8 L703.4 369.8 L703.9 369.8 L704.4 369.8 L704.9 369.8 L705.4 369.8 L705.9 369.8 L706.4 369.8 L706.9 369.8 L707.4 369.8 L707.9 369.8 L708.4 369.8 L708.9 369.8 L709.4 369.8 L709.9 369.8 L710.4 369.8 L710.9 369.8 L711.4 369.8 L711.9 369.8 L712.4 369.8 L712.9 369.8 L713.4 369.8 L713.9 369.8 L714.4 369.8 L714.9 369.8 L715.4 369.8 L715.9 369.8 L716.4 369.8 L716.9 369.8 L717.4 369.8 L717.9 369.8 L718.4 369.8 L718.9 369.8 L719.4 369.8 L719.9 369.8 L720.4 369.8 L720.9 369.8 L721.4 369.8 L721.9 369.8 L722.4 369.8 L722.9 369.8 L723.4 369.8 L723.9 369.8 L724.4 369.8 L724.9 369.8 L725.4 369.8 L725.9 369.8 L726.4 369.8 L726.9 369.8 L727.4 369.8 L727.9 369.8 L728.4 369.8 L728.9 369.8 L729.4 369.8 L729.9 369.8 L730.4 369.8 L730.9 369.8 L731.4 369.8 L731.9 369.8 L732.4 369.8 L732.9 369.8 L733.4 369.8 L733.9 369.8 L734.4 369.8 L734.9 369.8 L735.4 369.8 L735.9 369.8 L736.4 369.8 L736.9 369.7 L737.4 369.7 L737.9 369.7 L738.4 369.7 L738.9 369.7 L739.4 369.7 L739.9 369.7 L740.4 369.7 L740.9 369.7 L741.4 369.7 L741.9 369.7 L742.4 369.7 L742.9 369.7 L743.4 369.7 L743.9 369.7 L744.4 369.7 L744.9 369.7 L745.4 369.7 L745.9 369.7 L746.4 369.7 L746.9 369.7 L747.4 369.7 L747.9 369.7 L748.4 369.7 L748.9 369.7 L749.4 369.7 L749.9 369.7 L750.4 369.7 L750.9 369.7 L751.4 369.7 L751.9 369.7 L752.4 369.7 L752.9 369.7 L753.4 369.7 L753.9 369.7 L754.4 369.7 L754.9 369.7 L755.4 369.7 L755.9 369.7 L756.4 369.7 L756.9 369.7 L757.4 369.7 L757.9 369.7 L758.4 369.7 L758.9 369.7 L759.4 369.7 L759.9 369.7 L760.4 369.7 L760.9 369.7 L761.4 369.7 L761.9 369.7 L762.4 369.7 L762.9 369.7 L763.4 369.7 L763.9 369.7 L764.4 369.7 L764.9 369.7 L765.4 369.7 L765.9 369.7 L766.4 369.7 L766.9 369.7 L767.4 369.7 L767.9 369.7 L768.4 369.7 L768.9 369.7 L769.4 369.7 L769.9 369.7 L770.4 369.7 L770.9 369.7 L771.4 369.7 L771.9 369.7 L772.4 369.7 L772.9 369.7 L773.4 369.7 L773.9 369.7 L774.4 369.7 L774.9 369.7 L775.4 369.7 L775.9 369.7 L776.4 369.7 L776.9 369.7 L777.4 369.7 L777.9 369.7 L778.4 369.7 L778.9 369.7 L779.4 369.7 L779.9 369.7 L780.4 369.7 L780.9 369.7 L781.4 369.7 L781.9 369.7 L782.4 369.7 L782.9 369.7 L783.4 369.7 L783.9 369.7 L784.4 369.7 L784.9 369.7 L785.4 369.7 L785.9 369.7 L786.4 369.7 L786.9 369.7 L787.4 369.7 L787.9 369.7 L788.4 369.7 L788.9 369.7 L789.4 369.7 L789.9 369.7 L790.4 369.7 L790.9 369.7 L791.4 369.7 L791.9 369.7 L792.4 369.7 L792.9 369.7 L793.4 369.7 L793.9 369.7 L794.4 369.7 L794.9 369.7 L795.4 369.7 L795.9 369.7 L796.4 369.7 L796.9 369.7 L797.4 369.7 L797.9 369.7 L798.4 369.7 L798.9 369.7 L799.4 369.7 L799.9 369.7 L800.4 369.7 L800.9 369.7 L801.4 369.7 L801.9 369.7 L802.4 369.7 L802.9 369.7 L802.9 375.7 L802.4 375.7 L801.9 375.7 L801.4 375.7 L800.9 375.7 L800.4 375.7 L799.9 375.7 L799.4 375.7 L798.9 375.7 L798.4 375.7 L797.9 375.7 L797.4 375.7 L796.9 375.7 L796.4 375.7 L795.9 375.7 L795.4 375.7 L794.9 375.7 L794.4 375.7 L793.9 375.7 L793.4 375.7 L792.9 375.7 L792.4 375.7 L791.9 375.7 L791.4 375.7 L790.9 375.7 L790.4 375.7 L789.9 375.7 L789.4 375.7 L788.9 375.7 L788.4 375.7 L787.9 375.7 L787.4 375.7 L786.9 375.7 L786.4 375.7 L785.9 375.7 L785.4 375.7 L784.9 375.7 L784.4 375.7 L783.9 375.7 L783.4 375.7 L782.9 375.7 L782.4 375.7 L781.9 375.7 L781.4 375.7 L780.9 375.7 L780.4 375.7 L779.9 375.7 L779.4 375.7 L778.9 375.7 L778.4 375.7 L777.9 375.7 L777.4 375.7 L776.9 375.7 L776.4 375.7 L775.9 375.7 L775.4 375.7 L774.9 375.7 L774.4 375.7 L773.9 375.7 L773.4 375.7 L772.9 375.7 L772.4 375.7 L771.9 375.7 L771.4 375.7 L770.9 375.7 L770.4 375.7 L769.9 375.7 L769.4 375.7 L768.9 375.7 L768.4 375.7 L767.9 375.7 L767.4 375.7 L766.9 375.7 L766.4 375.7 L765.9 375.7 L765.4 375.7 L764.9 375.7 L764.4 375.7 L763.9 375.7 L763.4 375.7 L762.9 375.7 L762.4 375.7 L761.9 375.7 L761.4 375.7 L760.9 375.7 L760.4 375.7 L759.9 375.7 L759.4 375.7 L758.9 375.7 L758.4 375.7 L757.9 375.7 L757.4 375.7 L756.9 375.7 L756.4 375.7 L755.9 375.7 L755.4 375.7 L754.9 375.7 L754.4 375.7 L753.9 375.7 L753.4 375.7 L752.9 375.7 L752.4 375.7 L751.9 375.7 L751.4 375.7 L750.9 375.7 L750.4 375.7 L749.9 375.7 L749.4 375.7 L748.9 375.7 L748.4 375.7 L747.9 375.7 L747.4 375.7 L746.9 375.7 L746.4 375.7 L745.9 375.7 L745.4 375.7 L744.9 375.7 L744.4 375.7 L743.9 375.7 L743.4 375.7 L742.9 375.7 L742.4 375.7 L741.9 375.7 L741.4 375.7 L740.9 375.7 L740.4 375.7 L739.9 375.7 L739.4 375.7 L738.9 375.7 L738.4 375.7 L737.9 375.7 L737.4 375.7 L736.9 375.7 L736.4 375.8 L735.9 375.8 L735.4 375.8 L734.9 375.8 L734.4 375.8 L733.9 375.8 L733.4 375.8 L732.9 375.8 L732.4 375.8 L731.9 375.8 L731.4 375.8 L730.9 375.8 L730.4 375.8 L729.9 375.8 L729.4 375.8 L728.9 375.8 L728.4 375.8 L727.9 375.8 L727.4 375.8 L726.9 375.8 L726.4 375.8 L725.9 375.8 L725.4 375.8 L724.9 375.8 L724.4 375.8 L723.9 375.8 L723.4 375.8 L722.9 375.8 L722.4 375.8 L721.9 375.8 L721.4 375.8 L720.9 375.8 L720.4 375.8 L719.9 375.8 L719.4 375.8 L718.9 375.8 L718.4 375.8 L717.9 375.8 L717.4 375.8 L716.9 375.8 L716.4 375.8 L715.9 375.8 L715.4 375.8 L714.9 375.8 L714.4 375.8 L713.9 375.8 L713.4 375.8 L712.9 375.8 L712.4 375.8 L711.9 375.8 L711.4 375.8 L710.9 375.8 L710.4 375.8 L709.9 375.8 L709.4 375.8 L708.9 375.8 L708.4 375.8 L707.9 375.8 L707.4 375.8 L706.9 375.8 L706.4 375.8 L705.9 375.8 L705.4 375.8 L704.9 375.8 L704.4 375.8 L703.9 375.8 L703.4 375.8 L702.9 375.8 L702.4 375.8 L701.9 375.8 L701.4 375.8 L700.9 375.8 L700.4 375.8 L699.9 375.8 L699.4 375.8 L698.9 375.8 L698.4 375.8 L697.9 375.8 L697.4 375.8 L696.9 375.8 L696.4 375.8 L695.9 375.8 L695.4 375.8 L694.9 375.8 L694.4 375.8 L693.9 375.8 L693.4 375.8 L692.9 375.8 L692.4 375.8 L691.9 375.8 L691.4 375.8 L690.9 375.8 L690.4 375.8 L689.9 375.8 L689.4 375.8 L688.9 375.8 L688.4 375.8 L687.9 375.8 L687.4 375.8 L686.9 375.8 L686.4 375.8 L685.9 375.8 L685.4 375.8 L684.9 375.8 L684.4 375.8 L683.9 375.8 L683.4 375.8 L682.9 375.8 L682.4 375.8 L681.9 375.8 L681.4 375.8 L680.9 375.8 L680.4 375.8 L679.9 375.8 L679.4 375.8 L678.9 375.8 L678.4 375.8 L677.9 375.8 L677.4 375.8 L676.9 375.8 L676.4 375.8 L675.9 375.8 L675.4 375.8 L674.9 375.8 L674.4 375.8 L673.9 375.8 L673.4 375.8 L672.9 375.8 L672.4 375.8 L671.9 375.8 L671.4 375.8 L670.9 375.8 L670.4 375.8 L669.9 375.8 L669.4 375.8 L668.9 375.8 L668.4 375.8 L667.9 375.8 L667.4 375.8 L666.9 375.8 L666.4 375.8 L665.9 375.8 L665.4 375.8 L664.9 375.8 L664.4 375.8 L663.9 375.8 L663.4 375.8 L662.9 375.8 L662.4 375.8 L661.9 375.8 L661.4 375.8 L660.9 375.8 L660.4 375.8 L659.9 375.8 L659.4 375.8 L658.9 375.8 L658.4 375.8 L657.9 375.8 L657.4 375.8 L656.9 375.8 L656.4 375.8 L655.9 375.8 L655.4 375.8 L654.9 375.8 L654.4 375.8 L653.9 375.8 L653.4 375.8 L652.9 375.8 L652.4 375.8 L651.9 375.8 L651.4 375.8 L650.9 375.8 L650.4 375.8 L649.9 375.8 L649.4 375.8 L648.9 375.8 L648.4 375.8 L647.9 375.8 L647.4 375.8 L646.9 375.8 L646.4 375.8 L645.9 375.8 L645.4 375.8 L644.9 375.8 L644.4 375.8 L643.9 375.8 L643.4 375.8 L642.9 375.8 L642.4 375.8 L641.9 375.8 L641.4 375.8 L640.9 375.8 L640.4 375.8 L639.9 375.8 L639.4 375.8 L638.9 375.8 L638.4 375.8 L637.9 375.8 L637.4 375.8 L636.9 375.8 L636.4 375.8 L635.9 375.8 L635.4 375.8 L634.9 375.8 L634.4 375.8 L633.9 375.8 L633.4 375.8 L632.9 375.8 L632.4 375.8 L631.9 375.8 L631.4 375.8 L630.9 375.8 L630.4 375.8 L629.9 375.8 L629.4 375.8 L628.9 375.8 L628.4 375.8 L627.9 375.8 L627.4 375.8 L626.9 375.8 L626.4 375.8 L625.9 375.8 L625.4 375.8 L624.9 375.8 L624.4 375.8 L623.9 375.8 L623.4 375.8 L622.9 375.8 L622.4 375.8 L621.9 375.8 L621.4 375.8 L620.9 375.8 L620.4 375.8 L619.9 375.8 L619.4 375.8 L618.9 375.8 L618.4 375.8 L617.9 375.8 L617.4 375.8 L616.9 375.8 L616.4 375.8 L615.9 375.8 L615.4 375.8 L614.9 375.8 L614.4 375.8 L613.9 375.8 L613.4 375.8 L612.9 375.8 L612.4 375.8 L611.9 375.8 L611.4 375.8 L610.9 375.8 L610.4 375.8 L609.9 375.8 L609.4 375.8 L608.9 375.8 L608.4 375.8 L607.9 375.8 L607.4 375.8 L606.9 375.8 L606.4 375.8 L605.9 375.8 L605.4 375.8 L604.9 375.8 L604.4 375.8 L603.9 375.8 L603.4 375.8 L602.9 375.8 L602.4 375.8 L601.9 375.9 L601.4 375.9 L600.9 375.9 L600.4 375.9 L599.9 375.9 L599.4 375.9 L598.9 375.9 L598.4 375.9 L597.9 375.9 L597.4 375.9 L596.9 375.9 L596.4 375.9 L595.9 375.9 L595.4 375.9 L594.9 375.9 L594.4 375.9 L593.9 375.9 L593.4 375.9 L592.9 375.9 L592.4 375.9 L591.9 375.9 L591.4 375.9 L590.9 375.9 L590.4 375.9 L589.9 375.9 L589.4 375.9 L588.9 375.9 L588.4 375.9 L587.9 375.9 L587.4 375.9 L586.9 375.9 L586.4 375.9 L585.9 375.9 L585.4 375.9 L584.9 375.9 L584.4 375.9 L583.9 375.9 L583.4 375.9 L582.9 375.9 L582.4 375.9 L581.9 375.9 L581.4 375.9 L580.9 375.9 L580.4 375.9 L579.9 375.9 L579.4 375.9 L578.9 375.9 L578.4 375.9 L577.9 375.9 L577.4 375.9 L576.9 375.9 L576.4 375.9 L575.9 375.9 L575.4 375.9 L574.9 375.9 L574.4 375.9 L573.9 375.9 L573.4 375.9 L572.9 375.9 L572.4 375.9 L571.9 375.9 L571.4 375.9 L570.9 375.9 L570.4 375.9 L569.9 375.9 L569.4 375.9 L568.9 375.9 L568.4 375.9 L567.9 375.9 L567.4 375.9 L566.9 375.9 L566.4 375.9 L565.9 375.9 L565.4 375.9 L564.9 375.9 L564.4 375.9 L563.9 375.9 L563.4 375.9 L562.9 375.9 L562.4 375.9 L561.9 375.9 L561.4 375.9 L560.9 375.9 L560.4 375.9 L559.9 375.9 L559.4 375.9 L558.9 375.9 L558.4 375.9 L557.9 375.9 L557.4 375.9 L556.9 375.9 L556.4 375.9 L555.9 375.9 L555.4 375.9 L554.9 375.9 L554.4 375.9 L553.9 375.9 L553.4 375.9 L552.9 375.9 L552.4 375.9 L551.9 375.9 L551.4 375.9 L550.9 375.9 L550.4 375.9 L549.9 375.9 L549.4 375.9 L548.9 375.9 L548.4 375.9 L547.9 375.9 L547.4 375.9 L546.9 375.9 L546.4 375.9 L545.9 375.9 L545.4 375.9 L544.9 375.9 L544.4 375.9 L543.9 375.9 L543.4 375.9 L542.9 375.9 L542.4 375.9 L541.9 375.9 L541.4 375.9 L540.9 375.9 L540.4 375.9 L539.9 375.9 L539.4 375.9 L538.9 375.9 L538.4 375.9 L537.9 375.9 L537.4 375.9 L536.9 375.9 L536.4 375.9 L535.9 375.9 L535.4 375.9 L534.9 375.9 L534.4 375.9 L533.9 375.9 L533.4 375.9 L532.9 375.9 L532.4 375.9 L531.9 375.9 L531.4 375.9 L530.9 375.9 L530.4 375.9 L529.9 375.9 L529.4 375.9 L528.9 375.9 L528.4 375.9 L527.9 375.9 L527.4 375.9 L526.9 375.9 L526.4 375.9 L525.9 375.9 L525.4 375.9 L524.9 375.9 L524.4 375.9 L523.9 375.9 L523.4 375.9 L522.9 375.9 L522.4 375.9 L521.9 375.9 L521.4 375.9 L520.9 375.9 L520.4 375.9 L519.9 375.9 L519.4 375.9 L518.9 375.9 L518.4 375.9 L517.9 375.9 L517.4 375.9 L516.9 375.9 L516.4 375.9 L515.9 375.9 L515.4 375.9 L514.9 375.9 L514.4 375.9 L513.9 375.9 L513.4 375.9 L512.9 375.9 L512.4 375.9 L511.9 375.9 L511.4 375.9 L510.9 375.9 L510.4 375.9 L509.9 375.9 L509.4 375.9 L508.9 375.9 L508.4 375.9 L507.9 375.9 L507.4 375.9 L506.9 375.9 L506.4 375.9 L505.9 375.9 L505.4 375.9 L504.9 375.9 L504.4 375.9 L503.9 375.9 L503.4 375.9 L502.9 375.9 L502.4 375.9 L501.9 375.9 L501.4 375.9 L500.9 375.9 L500.4 375.9 L499.9 375.9 L499.4 375.9 L498.9 375.9 L498.4 375.9 L497.9 375.9 L497.4 375.9 L496.9 375.9 L496.4 375.9 L495.9 375.9 L495.4 375.9 L494.9 375.9 L494.4 375.9 L493.9 375.9 L493.4 375.9 L492.9 375.9 L492.4 375.9 L491.9 375.9 L491.4 375.9 L490.9 375.9 L490.4 375.9 L489.9 375.9 L489.4 375.9 L488.9 375.9 L488.4 375.9 L487.9 375.9 L487.4 375.9 L486.9 375.9 L486.4 375.9 L485.9 375.9 L485.4 375.9 L484.9 375.9 L484.4 375.9 L483.9 375.9 L483.4 375.9 L482.9 375.9 L482.4 375.9 L481.9 375.9 L481.4 375.9 L480.9 375.9 L480.4 375.9 L479.9 375.9 L479.4 375.9 L478.9 375.9 L478.4 375.9 L477.9 375.9 L477.4 375.9 L476.9 375.9 L476.4 375.9 L475.9 375.9 L475.4 375.9 L474.9 375.9 L474.4 375.9 L473.9 375.9 L473.4 375.9 L472.9 375.9 L472.4 375.9 L471.9 375.9 L471.4 375.9 L470.9 375.9 L470.4 375.9 L469.9 375.9 L469.4 375.9 L468.9 375.9 L468.4 375.9 L467.9 375.9 L467.4 375.9 L466.9 376 L466.4 376 L465.9 376 L465.4 376 L464.9 376 L464.4 376 L463.9 376 L463.4 376 L462.9 376 L462.4 376 L461.9 376 L461.4 376 L460.9 376 L460.4 376 L459.9 376 L459.4 376 L458.9 376 L458.4 376 L457.9 376 L457.4 376 L456.9 376 L456.4 376 L455.9 376 L455.4 376 L454.9 376 L454.4 376 L453.9 376 L453.4 376 L452.9 376 L452.4 376 L451.9 376 L451.4 376 L450.9 376 L450.4 376 L449.9 376 L449.4 376 L448.9 376 L448.4 376 L447.9 376 L447.4 376 L446.9 376 L446.4 376 L445.9 376 L445.4 376 L444.9 376 L444.4 376 L443.9 376 L443.4 376 L442.9 376 L442.4 376 L441.9 376 L441.4 376 L440.9 376 L440.4 376 L439.9 376 L439.4 376 L438.9 376 L438.4 376 L437.9 376 L437.4 376 L436.9 376 L436.4 376 L435.9 376 L435.4 376 L434.9 376 L434.4 376 L433.9 376 L433.4 376 L432.9 376 L432.4 376 L431.9 376 L431.4 376 L430.9 376 L430.4 376 L429.9 376 L429.4 376 L428.9 376 L428.4 376 L427.9 376 L427.4 376 L426.9 376 L426.4 376 L425.9 376 L425.4 376 L424.9 376 L424.4 376 L423.9 376 L423.4 376 L422.9 376 L422.4 376 L421.9 376 L421.4 376 L420.9 376 L420.4 376 L419.9 376 L419.4 376 L418.9 376 L418.4 376 L417.9 376 L417.4 376 L416.9 376 L416.4 376 L415.9 376 L415.4 376 L414.9 376 L414.4 376 L413.9 376 L413.4 376 L412.9 376 L412.4 376 L411.9 376 L411.4 376 L410.9 376 L410.4 376 L409.9 376 L409.4 376 L408.9 376 L408.4 376 L407.9 376 L407.4 376 L406.9 376 L406.4 376 L405.9 376 L405.4 376 L404.9 376 L404.4 376 L403.9 376 L403.4 376 L402.9 376 L402.4 376 L401.9 376 L401.4 376 L400.9 376 L400.4 376 L399.9 376 L399.4 376 L398.9 376 L398.4 376 L397.9 376 L397.4 376 L396.9 376 L396.4 376 L395.9 376 L395.4 376 L394.9 376 L394.4 376 L393.9 376 L393.4 376 L392.9 376 L392.4 376 L391.9 376 L391.4 376 L390.9 376 L390.4 376 L389.9 376 L389.4 376 L388.9 376 L388.4 376.1 L387.9 376.1 L387.4 376.1 L386.9 376.1 L386.4 376.1 L385.9 376.1 L385.4 376.1 L384.9 376.1 L384.4 376.1 L383.9 376.1 L383.4 376.1 L382.9 376.1 L382.4 376.1 L381.9 376.1 L381.4 376.1 L380.9 376.1 L380.4 376.1 L379.9 376.1 L379.4 376.1 L378.9 376.1 L378.4 376.1 L377.9 376.1 L377.4 376.1 L376.9 376.1 L376.4 376.1 L375.9 376.1 L375.4 376.1 L374.9 376.1 L374.4 376.1 L373.9 376.1 L373.4 376.1 L372.9 376.1 L372.4 376.1 L371.9 376.1 L371.4 376.1 L370.9 376.1 L370.4 376.1 L369.9 376.1 L369.4 376.1 L368.9 376.1 L368.4 376.1 L367.9 376.1 L367.4 376.1 L366.9 376.1 L366.4 376.1 L365.9 376.1 L365.4 376.2 L364.9 376.2 L364.4 376.2 L363.9 376.2 L363.4 376.2 L362.9 376.2 L362.4 376.2 L361.9 376.2 L361.4 376.2 L360.9 376.2 L360.4 376.2 L359.9 376.2 L359.4 376.2 L358.9 376.2 L358.4 376.2 L357.9 376.2 L357.4 376.2 L356.9 376.2 L356.4 376.2 L355.9 376.2 L355.4 376.2 L354.9 376.2 L354.4 376.2 L353.9 376.2 L353.4 376.2 L352.9 376.2 L352.4 376.2 L351.9 376.2 L351.4 376.2 L350.9 376.2 L350.4 376.2 L349.9 376.2 L349.4 376.2 L348.9 376.2 L348.4 376.2 L347.9 376.2 L347.4 376.2 L346.9 376.2 L346.4 376.2 L345.9 376.2 L345.4 376.2 L344.9 376.2 L344.4 376.2 L343.9 376.2 L343.4 376.2 L342.9 376.2 L342.4 376.3 L341.9 376.3 L341.4 376.3 L340.9 376.3 L340.4 376.3 L339.9 376.3 L339.4 376.3 L338.9 376.3 L338.4 376.3 L337.9 376.3 L337.4 376.3 L336.9 376.3 L336.4 376.3 L335.9 376.3 L335.4 376.3 L334.9 376.3 L334.4 376.3 L333.9 376.3 L333.4 376.3 L332.9 376.3 L332.4 376.3 L331.9 376.3 L331.4 376.3 L330.9 376.3 L330.4 376.3 L329.9 376.3 L329.4 376.3 L328.9 376.3 L328.4 376.3 L327.9 376.3 L327.4 376.3 L326.9 376.3 L326.4 376.3 L325.9 376.3 L325.4 376.3 L324.9 376.3 L324.4 376.3 L323.9 376.3 L323.4 376.3 L322.9 376.3 L322.4 376.3 L321.9 376.3 L321.4 376.3 L320.9 376.3 L320.4 376.3 L319.9 376.3 L319.4 376.4 L318.9 376.4 L318.4 376.4 L317.9 376.4 L317.4 376.4 L316.9 376.4 L316.4 376.4 L315.9 376.4 L315.4 376.4 L314.9 376.4 L314.4 376.4 L313.9 376.4 L313.4 376.4 L312.9 376.4 L312.4 376.4 L311.9 376.4 L311.4 376.4 L310.9 376.4 L310.4 376.4 L309.9 376.4 L309.4 376.4 L308.9 376.4 L308.4 376.4 L307.9 376.4 L307.4 376.4 L306.9 376.4 L306.4 376.4 L305.9 376.4 L305.4 376.4 L304.9 376.4 L304.4 376.4 L303.9 376.4 L303.4 376.4 L302.9 376.4 L302.4 376.4 L301.9 376.4 L301.4 376.4 L300.9 376.4 L300.4 376.4 L299.9 376.4 L299.4 376.4 L298.9 376.4 L298.4 376.4 L297.9 376.4 L297.4 376.4 L296.9 376.4 L296.4 376.5 L295.9 376.5 L295.4 376.5 L294.9 376.5 L294.4 376.5 L293.9 376.5 L293.4 376.5 L292.9 376.5 L292.4 376.5 L291.9 376.5 L291.4 376.5 L290.9 376.5 L290.4 376.5 L289.9 376.5 L289.4 376.5 L288.9 376.5 L288.4 376.5 L287.9 376.5 L287.4 376.5 L286.9 376.5 L286.4 376.5 L285.9 376.5 L285.4 376.5 L284.9 376.5 L284.4 376.5 L283.9 376.6 L283.4 376.6 L282.9 376.6 L282.4 376.7 L281.9 376.7 L281.4 376.7 L280.9 376.8 L280.4 376.8 L279.9 376.9 L279.4 376.9 L278.9 376.9 L278.4 377 L277.9 377 L277.4 377 L276.9 377.1 L276.4 377.1 L275.9 377.1 L275.4 377.2 L274.9 377.2 L274.4 377.4 L273.9 377.5 L273.4 377.7 L272.9 377.9 L272.4 378 L271.9 378.2 L271.4 378.6 L270.9 378.6 L270.4 378.9 L269.9 379.3 L269.4 379.8 L268.9 380.2 L268.4 380.7 L267.9 380.8 L267.4 380.9 L266.9 381 L266.4 381.1 L265.9 380.1 L265.4 378 L264.9 377 L264.4 376 L263.9 375.1 L263.4 374 L262.9 371.6 L262.4 369.3 L261.9 366.9 L261.4 359.5 L260.9 349.9 L260.4 344.7 L259.9 343.9 L259.4 343.1 L258.9 342.9 L258.4 342.5 L257.9 342.1 L257.4 341.6 L256.9 341.2 L256.4 340.8 L255.9 340.4 L255.4 340.2 L254.9 340 L254.4 339.8 L253.9 339.6 L253.4 339.5 L252.9 339.3 L252.4 339.1 L251.9 338.9 L251.4 338.7 L250.9 338.5 L250.4 338.4 L249.9 338.2 L249.4 338.1 L248.9 337.9 L248.4 337.8 L247.9 337.7 L247.4 337.6 L246.9 337.4 L246.4 337.3 L245.9 337.2 L245.4 337.1 L244.9 336.9 L244.4 336.8 L243.9 336.7 L243.4 336.6 L242.9 336.4 L242.4 336.3 L241.9 336.2 L241.4 336.1 L240.9 335.9 L240.4 335.8 L239.9 335.7 L239.4 335.6 L238.9 335.5 L238.4 335.4 L237.9 335.4 L237.4 335.3 L236.9 335.2 L236.4 335.1 L235.9 335 L235.4 334.9 L234.9 334.8 L234.4 334.8 L233.9 334.7 L233.4 334.6 L232.9 334.5 L232.4 334.4 L231.9 334.3 L231.4 334.2 L230.9 334.2 L230.4 334.1 L229.9 334 L229.4 333.9 L228.9 333.8 L228.4 333.8 L227.9 333.7 L227.4 333.6 L226.9 333.6 L226.4 333.5 L225.9 333.4 L225.4 333.3 L224.9 333.3 L224.4 333.2 L223.9 333.1 L223.4 333 L222.9 333 L222.4 332.9 L221.9 332.8 L221.4 332.7 L220.9 332.7 L220.4 332.6 L219.9 332.5 L219.4 332.5 L218.9 332.4 L218.4 332.3 L217.9 332.2 L217.4 332.2 L216.9 332.1 L216.4 332 L215.9 331.9 L215.4 331.9 L214.9 331.8 L214.4 331.7 L213.9 331.7 L213.4 331.6 L212.9 331.6 L212.4 331.5 L211.9 331.5 L211.4 331.4 L210.9 331.4 L210.4 331.3 L209.9 331.3 L209.4 331.2 L208.9 331.2 L208.4 331.1 L207.9 331.1 L207.4 331 L206.9 331 L206.4 330.9 L205.9 330.9 L205.4 330.8 L204.9 330.8 L204.4 330.7 L203.9 330.7 L203.4 330.6 L202.9 330.6 L202.4 330.5 L201.9 330.5 L201.4 330.4 L200.9 330.4 L200.4 330.3 L199.9 330.3 L199.4 330.3 L198.9 330.2 L198.4 330.2 L197.9 330.2 L197.4 330.2 L196.9 330.1 L196.4 330.1 L195.9 330.1 L195.4 330.1 L194.9 330 L194.4 330 L193.9 330 L193.4 330 L192.9 329.9 L192.4 329.9 L191.9 329.9 L191.4 329.9 L190.9 329.8 L190.4 329.8 L189.9 329.8 L189.4 329.8 L188.9 329.7 L188.4 329.7 L187.9 329.7 L187.4 329.7 L186.9 329.6 L186.4 329.6 L185.9 329.6 L185.4 329.6 L184.9 329.5 L184.4 329.5 L183.9 329.5 L183.4 329.5 L182.9 329.4 L182.4 329.4 L181.9 329.4 L181.4 329.4 L180.9 329.3 L180.4 329.3 L179.9 329.3 L179.4 329.3 L178.9 329.2 L178.4 329.2 L177.9 329.2 L177.4 329.2 L176.9 329.2 L176.4 329.2 L175.9 329.2 L175.4 329.2 L174.9 329.2 L174.4 329.2 L173.9 329.2 L173.4 329.2 L172.9 329.2 L172.4 329.2 L171.9 329.1 L171.4 329.1 L170.9 329.1 L170.4 329.1 L169.9 329.1 L169.4 329.1 L168.9 329.1 L168.4 329.1 L167.9 329.1 L167.4 329.1 L166.9 329.1 L166.4 329.1 L165.9 329.1 L165.4 329.1 L164.9 329.1 L164.4 329.1 L163.9 329.1 L163.4 329.1 L162.9 329.1 L162.4 329.1 L161.9 329.1 L161.4 329.1 L160.9 329 L160.4 329 L159.9 329 L159.4 329 L158.9 329 L158.4 329 L157.9 329 L157.4 329 L156.9 329 L156.4 329 L155.9 329 L155.4 329 L154.9 329 L154.4 329 L153.9 329 L153.4 329 L152.9 329 L152.4 329 L151.9 329 L151.4 329 L150.9 329 L150.4 329 L149.9 328.9 L149.4 328.9 L148.9 328.9 L148.4 328.9 L147.9 328.9 L147.4 328.9 L146.9 328.9 L146.4 328.9 L145.9 328.9 L145.4 328.9 L144.9 328.9 L144.4 328.9 L143.9 328.9 L143.4 328.9 L142.9 328.9 L142.4 328.9 L141.9 328.9 L141.4 328.9 L140.9 328.9 L140.4 328.9 L139.9 328.9 L139.4 328.9 L138.9 328.8 L138.4 328.8 L137.9 328.8 L137.4 328.8 L136.9 328.8 L136.4 328.8 L135.9 328.8 L135.4 328.8 L134.9 328.8 L134.4 328.8 L133.9 328.8 L133.4 328.8 L132.9 328.8 L132.4 328.8 L131.9 328.8 L131.4 328.8 L130.9 328.8 L130.4 328.8 L129.9 328.8 L129.4 328.8 L128.9 328.8 L128.4 328.8 L127.9 328.8 L127.4 328.7 L126.9 328.7 L126.4 328.7 L125.9 328.7 L125.4 328.7 L124.9 328.7 L124.4 328.7 L123.9 328.7 L123.4 328.7 L122.9 328.7 L122.4 328.7 L121.9 328.7 L121.4 328.7 L120.9 328.7 L120.4 328.7 L119.9 328.7 L119.4 328.7 L118.9 328.7 L118.4 328.7 L117.9 328.7 L117.4 328.7 L116.9 328.7 L116.4 328.6 L115.9 328.6 L115.4 328.6 L114.9 328.6 L114.4 328.6 L113.9 328.6 L113.4 328.6 L112.9 328.6 L112.4 328.6 L111.9 328.6 L111.4 328.6 L110.9 328.6 L110.4 328.6 L109.9 328.6 L109.4 328.6 L108.9 328.6 L108.4 328.6 L107.9 328.6 L107.4 328.6 L106.9 328.6 L106.4 328.6 L105.9 328.6 L105.4 328.5 L104.9 328.5 L104.4 328.5 L103.9 328.5 L103.4 328.5 L102.9 328.5 L102.4 328.5 L101.9 328.5 L101.4 328.5 L100.9 328.5 L100.4 328.5 L99.9 328.5 L99.4 328.5 L98.9 328.5 L98.4 328.5 L97.9 328.5 L97.4 328.5 L96.9 328.5 L96.4 328.5 L95.9 328.5 L95.4 328.5 L94.9 328.5 L94.4 328.5 L93.9 328.5 L93.4 328.5 L92.9 328.5 L92.4 328.5 L91.9 328.5 L91.4 328.5 L90.9 328.5 L90.4 328.5 L89.9 328.5 L89.4 328.5 L88.9 328.5 L88.4 328.5 L87.9 328.5 L87.4 328.5 L86.9 328.5 L86.4 328.5 L85.9 328.5 L85.4 328.5 L84.9 328.5 L84.4 328.5 L83.9 328.5 L83.4 328.5 L82.9 328.5 L82.4 328.5 L81.9 328.5 L81.4 328.5 L80.9 328.5 L80.4 328.5 L79.9 328.5 L79.4 328.5 L78.9 328.5 L78.4 328.5 L77.9 328.5 L77.4 328.5 L76.9 328.5 L76.4 328.5 L75.9 328.5 L75.4 328.5 L74.9 328.5 L74.4 328.5 L73.9 328.5 L73.4 328.5 L72.9 328.5 L72.4 328.5 L71.9 328.5 L71.4 328.5 L70.9 328.5 L70.4 328.5 L69.9 328.5 L69.4 328.5 L68.9 328.5 L68.4 328.5 L67.9 328.5 L67.4 328.5 L66.9 328.5 L66.4 328.5 L65.9 328.5 L65.4 328.5 L64.9 328.5 L64.4 328.5 L63.9 328.5 L63.4 328.5 L62.9 328.5 L62.4 328.5 L61.9 328.5 L61.4 328.5 L60.9 328.4 L60.4 328.4 L59.9 328.4 L59.4 328.4 L58.9 328.4 L58.4 328.4 L57.9 328.4 L57.4 328.4 L56.9 328.4 L56.4 328.4 L55.9 328.4 L55.4 328.4 L54.9 328.4 L54.4 328.4 L53.9 328.4 L53.4 328.4 L52.9 328.4 L52.4 328.4 L51.9 328.4 L51.4 328.4 L50.9 328.4 L50.4 328.4 L49.9 328.4 L49.4 328.4 L48.9 328.4 L48.4 328.4 L47.9 328.4 L47.4 328.4 L46.9 328.4 L46.4 328.4 L45.9 328.4 L45.4 328.4 L44.9 328.4 L44.4 328.4 L43.9 328.4 L43.4 328.4 L42.9 328.4 L42.4 328.4 L41.9 328.4 L41.4 328.4 L40.9 328.4 L40.4 328.4 L39.9 328.4 L39.4 328.4 L38.9 328.4 L38.4 328.4 L37.9 328.4 L37.4 328.4 L36.9 328.4 L36.4 328.4 L35.9 328.4 L35.4 328.4 L34.9 328.4 L34.4 328.4 L33.9 328.4 L33.4 328.4 L32.9 328.4 L32.4 328.4 L31.9 328.4 L31.4 328.4 L30.9 328.4 L30.4 328.4 L29.9 328.4 L29.4 328.4 L28.9 328.4 L28.4 328.4 L27.9 328.4 L27.4 328.4 L26.9 328.4 L26.4 328.4 L25.9 328.4 L25.4 328.4 L24.9 328.4 L24.4 328.4 L23.9 328.4 L23.4 328.4 L22.9 328.4 L22.4 328.4Z" fill="#14bc14"/>
<path d="M22.4 323.6 L22.9 323.6 L23.4 323.6 L23.9 323.6 L24.4 323.6 L24.9 323.6 L25.4 323.6 L25.9 323.6 L26.4 323.6 L26.9 323.6 L27.4 323.6 L27.9 323.6 L28.4 323.6 L28.9 323.6 L29.4 323.6 L29.9 323.6 L30.4 323.6 L30.9 323.6 L31.4 323.6 L31.9 323.6 L32.4 323.6 L32.9 323.6 L33.4 323.6 L33.9 323.6 L34.4 323.6 L34.9 323.6 L35.4 323.6 L35.9 323.6 L36.4 323.6 L36.9 323.6 L37.4 323.6 L37.9 323.6 L38.4 323.6 L38.9 323.6 L39.4 323.6 L39.9 323.6 L40.4 323.6 L40.9 323.6 L41.4 323.6 L41.9 323.6 L42.4 323.6 L42.9 323.6 L43.4 323.6 L43.9 323.6 L44.4 323.6 L44.9 323.6 L45.4 323.6 L45.9 323.6 L46.4 323.6 L46.9 323.6 L47.4 323.6 L47.9 323.6 L48.4 323.6 L48.9 323.6 L49.4 323.6 L49.9 323.6 L50.4 323.6 L50.9 323.6 L51.4 323.6 L51.9 323.6 L52.4 323.6 L52.9 323.6 L53.4 323.6 L53.9 323.6 L54.4 323.6 L54.9 323.6 L55.4 323.6 L55.9 323.6 L56.4 323.6 L56.9 323.6 L57.4 323.6 L57.9 323.6 L58.4 323.6 L58.9 323.6 L59.4 323.6 L59.9 323.6 L60.4 323.6 L60.9 323.6 L61.4 323.7 L61.9 323.7 L62.4 323.7 L62.9 323.7 L63.4 323.7 L63.9 323.7 L64.4 323.7 L64.9 323.7 L65.4 323.7 L65.9 323.7 L66.4 323.7 L66.9 323.7 L67.4 323.7 L67.9 323.7 L68.4 323.7 L68.9 323.7 L69.4 323.7 L69.9 323.7 L70.4 323.7 L70.9 323.7 L71.4 323.7 L71.9 323.7 L72.4 323.7 L72.9 323.7 L73.4 323.7 L73.9 323.7 L74.4 323.7 L74.9 323.7 L75.4 323.7 L75.9 323.7 L76.4 323.7 L76.9 323.7 L77.4 323.7 L77.9 323.7 L78.4 323.7 L78.9 323.7 L79.4 323.7 L79.9 323.7 L80.4 323.7 L80.9 323.7 L81.4 323.7 L81.9 323.7 L82.4 323.7 L82.9 323.7 L83.4 323.7 L83.9 323.7 L84.4 323.7 L84.9 323.7 L85.4 323.7 L85.9 323.7 L86.4 323.7 L86.9 323.7 L87.4 323.7 L87.9 323.7 L88.4 323.7 L88.9 323.7 L89.4 323.7 L89.9 323.7 L90.4 323.7 L90.9 323.7 L91.4 323.7 L91.9 323.7 L92.4 323.7 L92.9 323.7 L93.4 323.7 L93.9 323.7 L94.4 323.7 L94.9 323.7 L95.4 323.7 L95.9 323.7 L96.4 323.7 L96.9 323.7 L97.4 323.7 L97.9 323.7 L98.4 323.7 L98.9 323.7 L99.4 323.7 L99.9 323.7 L100.4 323.7 L100.9 323.7 L101.4 323.7 L101.9 323.7 L102.4 323.7 L102.9 323.7 L103.4 323.7 L103.9 323.7 L104.4 323.7 L104.9 323.7 L105.4 323.7 L105.9 323.8 L106.4 323.8 L106.9 323.8 L107.4 323.8 L107.9 323.8 L108.4 323.8 L108.9 323.8 L109.4 323.8 L109.9 323.8 L110.4 323.8 L110.9 323.8 L111.4 323.8 L111.9 323.8 L112.4 323.8 L112.9 323.8 L113.4 323.8 L113.9 323.8 L114.4 323.8 L114.9 323.8 L115.4 323.8 L115.9 323.8 L116.4 323.8 L116.9 323.9 L117.4 323.9 L117.9 323.9 L118.4 323.9 L118.9 323.9 L119.4 323.9 L119.9 323.9 L120.4 323.9 L120.9 323.9 L121.4 323.9 L121.9 323.9 L122.4 323.9 L122.9 323.9 L123.4 323.9 L123.9 323.9 L124.4 323.9 L124.9 323.9 L125.4 323.9 L125.9 323.9 L126.4 323.9 L126.9 323.9 L127.4 323.9 L127.9 324 L128.4 324 L128.9 324 L129.4 324 L129.9 324 L130.4 324 L130.9 324 L131.4 324 L131.9 324 L132.4 324 L132.9 324 L133.4 324 L133.9 324 L134.4 324 L134.9 324 L135.4 324 L135.9 324 L136.4 324 L136.9 324 L137.4 324 L137.9 324 L138.4 324 L138.9 324 L139.4 324.1 L139.9 324.1 L140.4 324.1 L140.9 324.1 L141.4 324.1 L141.9 324.1 L142.4 324.1 L142.9 324.1 L143.4 324.1 L143.9 324.1 L144.4 324.1 L144.9 324.1 L145.4 324.1 L145.9 324.1 L146.4 324.1 L146.9 324.1 L147.4 324.1 L147.9 324.1 L148.4 324.1 L148.9 324.1 L149.4 324.1 L149.9 324.1 L150.4 324.2 L150.9 324.2 L151.4 324.2 L151.9 324.2 L152.4 324.2 L152.9 324.2 L153.4 324.2 L153.9 324.2 L154.4 324.2 L154.9 324.2 L155.4 324.2 L155.9 324.2 L156.4 324.2 L156.9 324.2 L157.4 324.2 L157.9 324.2 L158.4 324.2 L158.9 324.2 L159.4 324.2 L159.9 324.2 L160.4 324.2 L160.9 324.2 L161.4 324.3 L161.9 324.3 L162.4 324.3 L162.9 324.3 L163.4 324.3 L163.9 324.3 L164.4 324.3 L164.9 324.3 L165.4 324.3 L165.9 324.3 L166.4 324.3 L166.9 324.3 L167.4 324.3 L167.9 324.3 L168.4 324.3 L168.9 324.3 L169.4 324.3 L169.9 324.3 L170.4 324.3 L170.9 324.3 L171.4 324.3 L171.9 324.3 L172.4 324.4 L172.9 324.4 L173.4 324.4 L173.9 324.4 L174.4 324.4 L174.9 324.4 L175.4 324.4 L175.9 324.4 L176.4 324.4 L176.9 324.4 L177.4 324.4 L177.9 324.4 L178.4 324.4 L178.9 324.4 L179.4 324.5 L179.9 324.5 L180.4 324.5 L180.9 324.5 L181.4 324.6 L181.9 324.6 L182.4 324.6 L182.9 324.6 L183.4 324.7 L183.9 324.7 L184.4 324.7 L184.9 324.7 L185.4 324.8 L185.9 324.8 L186.4 324.8 L186.9 324.8 L187.4 324.9 L187.9 324.9 L188.4 324.9 L188.9 324.9 L189.4 325 L189.9 325 L190.4 325 L190.9 325 L191.4 325.1 L191.9 325.1 L192.4 325.1 L192.9 325.1 L193.4 325.2 L193.9 325.2 L194.4 325.2 L194.9 325.2 L195.4 325.3 L195.9 325.3 L196.4 325.3 L196.9 325.3 L197.4 325.4 L197.9 325.4 L198.4 325.4 L198.9 325.4 L199.4 325.5 L199.9 325.5 L200.4 325.5 L200.9 325.6 L201.4 325.6 L201.9 325.7 L202.4 325.7 L202.9 325.8 L203.4 325.8 L203.9 325.9 L204.4 325.9 L204.9 326 L205.4 326 L205.9 326.1 L206.4 326.1 L206.9 326.2 L207.4 326.2 L207.9 326.3 L208.4 326.3 L208.9 326.4 L209.4 326.4 L209.9 326.5 L210.4 326.5 L210.9 326.6 L211.4 326.6 L211.9 326.7 L212.4 326.7 L212.9 326.8 L213.4 326.8 L213.9 326.9 L214.4 326.9 L214.9 327 L215.4 327.1 L215.9 327.1 L216.4 327.2 L216.9 327.3 L217.4 327.4 L217.9 327.4 L218.4 327.5 L218.9 327.6 L219.4 327.7 L219.9 327.7 L220.4 327.8 L220.9 327.9 L221.4 327.9 L221.9 328 L222.4 328.1 L222.9 328.2 L223.4 328.2 L223.9 328.3 L224.4 328.4 L224.9 328.5 L225.4 328.5 L225.9 328.6 L226.4 328.7 L226.9 328.8 L227.4 328.8 L227.9 328.9 L228.4 329 L228.9 329 L229.4 329.1 L229.9 329.2 L230.4 329.3 L230.9 329.4 L231.4 329.4 L231.9 329.5 L232.4 329.6 L232.9 329.7 L233.4 329.8 L233.9 329.9 L234.4 330 L234.9 330 L235.4 330.1 L235.9 330.2 L236.4 330.3 L236.9 330.4 L237.4 330.5 L237.9 330.6 L238.4 330.6 L238.9 330.7 L239.4 330.8 L239.9 330.9 L240.4 331 L240.9 331.1 L241.4 331.3 L241.9 331.4 L242.4 331.5 L242.9 331.6 L243.4 331.8 L243.9 331.9 L244.4 332 L244.9 332.1 L245.4 332.3 L245.9 332.4 L246.4 332.5 L246.9 332.6 L247.4 332.8 L247.9 332.9 L248.4 333 L248.9 333.1 L249.4 333.3 L249.9 333.4 L250.4 333.6 L250.9 333.7 L251.4 333.9 L251.9 334.1 L252.4 334.3 L252.9 334.5 L253.4 334.7 L253.9 334.8 L254.4 335 L254.9 335.2 L255.4 335.4 L255.9 335.6 L256.4 336 L256.9 336.4 L257.4 336.8 L257.9 337.3 L258.4 337.7 L258.9 338.2 L259.4 338.9 L259.9 340.2 L260.4 341.6 L260.9 349.6 L261.4 359.2 L261.9 366.6 L262.4 369 L262.9 371.3 L263.4 373.7 L263.9 374.8 L264.4 375.7 L264.9 376.7 L265.4 377.7 L265.9 378.1 L266.4 378.8 L266.9 378.4 L267.4 378 L267.9 377.6 L268.4 377.2 L268.9 376.5 L269.4 375.8 L269.9 375 L270.4 374.3 L270.9 373.7 L271.4 373.5 L271.9 373.4 L272.4 373.2 L272.9 373.1 L273.4 372.9 L273.9 372.7 L274.4 372.6 L274.9 372.4 L275.4 372.4 L275.9 372.3 L276.4 372.3 L276.9 372.3 L277.4 372.2 L277.9 372.2 L278.4 372.2 L278.9 372.1 L279.4 372.1 L279.9 372.1 L280.4 372 L280.9 372 L281.4 371.9 L281.9 371.9 L282.4 371.9 L282.9 371.8 L283.4 371.8 L283.9 371.8 L284.4 371.7 L284.9 371.7 L285.4 371.7 L285.9 371.7 L286.4 371.7 L286.9 371.7 L287.4 371.7 L287.9 371.7 L288.4 371.7 L288.9 371.7 L289.4 371.7 L289.9 371.7 L290.4 371.7 L290.9 371.7 L291.4 371.7 L291.9 371.7 L292.4 371.7 L292.9 371.7 L293.4 371.7 L293.9 371.7 L294.4 371.7 L294.9 371.7 L295.4 371.7 L295.9 371.7 L296.4 371.7 L296.9 371.6 L297.4 371.6 L297.9 371.6 L298.4 371.6 L298.9 371.6 L299.4 371.6 L299.9 371.6 L300.4 371.6 L300.9 371.6 L301.4 371.6 L301.9 371.6 L302.4 371.6 L302.9 371.6 L303.4 371.6 L303.9 371.6 L304.4 371.6 L304.9 371.6 L305.4 371.6 L305.9 371.6 L306.4 371.6 L306.9 371.6 L307.4 371.6 L307.9 371.6 L308.4 371.6 L308.9 371.6 L309.4 371.6 L309.9 371.6 L310.4 371.6 L310.9 371.6 L311.4 371.6 L311.9 371.6 L312.4 371.6 L312.9 371.6 L313.4 371.6 L313.9 371.6 L314.4 371.6 L314.9 371.6 L315.4 371.6 L315.9 371.6 L316.4 371.6 L316.9 371.6 L317.4 371.6 L317.9 371.6 L318.4 371.6 L318.9 371.6 L319.4 371.6 L319.9 371.5 L320.4 371.5 L320.9 371.5 L321.4 371.5 L321.9 371.5 L322.4 371.5 L322.9 371.5 L323.4 371.5 L323.9 371.5 L324.4 371.5 L324.9 371.5 L325.4 371.5 L325.9 371.5 L326.4 371.5 L326.9 371.5 L327.4 371.5 L327.9 371.5 L328.4 371.5 L328.9 371.5 L329.4 371.5 L329.9 371.5 L330.4 371.5 L330.9 371.5 L331.4 371.5 L331.9 371.5 L332.4 371.5 L332.9 371.5 L333.4 371.5 L333.9 371.5 L334.4 371.5 L334.9 371.5 L335.4 371.5 L335.9 371.5 L336.4 371.5 L336.9 371.5 L337.4 371.5 L337.9 371.5 L338.4 371.5 L338.9 371.5 L339.4 371.5 L339.9 371.5 L340.4 371.5 L340.9 371.5 L341.4 371.5 L341.9 371.5 L342.4 371.5 L342.9 371.4 L343.4 371.4 L343.9 371.4 L344.4 371.4 L344.9 371.4 L345.4 371.4 L345.9 371.4 L346.4 371.4 L346.9 371.4 L347.4 371.4 L347.9 371.4 L348.4 371.4 L348.9 371.4 L349.4 371.4 L349.9 371.4 L350.4 371.4 L350.9 371.4 L351.4 371.4 L351.9 371.4 L352.4 371.4 L352.9 371.4 L353.4 371.4 L353.9 371.4 L354.4 371.4 L354.9 371.4 L355.4 371.4 L355.9 371.4 L356.4 371.4 L356.9 371.4 L357.4 371.4 L357.9 371.4 L358.4 371.4 L358.9 371.4 L359.4 371.4 L359.9 371.4 L360.4 371.4 L360.9 371.4 L361.4 371.4 L361.9 371.4 L362.4 371.4 L362.9 371.4 L363.4 371.4 L363.9 371.4 L364.4 371.4 L364.9 371.4 L365.4 371.4 L365.9 371.3 L366.4 371.3 L366.9 371.3 L367.4 371.3 L367.9 371.3 L368.4 371.3 L368.9 371.3 L369.4 371.3 L369.9 371.3 L370.4 371.3 L370.9 371.3 L371.4 371.3 L371.9 371.3 L372.4 371.3 L372.9 371.3 L373.4 371.3 L373.9 371.3 L374.4 371.3 L374.9 371.3 L375.4 371.3 L375.9 371.3 L376.4 371.3 L376.9 371.3 L377.4 371.3 L377.9 371.3 L378.4 371.3 L378.9 371.3 L379.4 371.3 L379.9 371.3 L380.4 371.3 L380.9 371.3 L381.4 371.3 L381.9 371.3 L382.4 371.3 L382.9 371.3 L383.4 371.3 L383.9 371.3 L384.4 371.3 L384.9 371.3 L385.4 371.3 L385.9 371.3 L386.4 371.3 L386.9 371.3 L387.4 371.3 L387.9 371.3 L388.4 371.3 L388.9 371.2 L389.4 371.2 L389.9 371.2 L390.4 371.2 L390.9 371.2 L391.4 371.2 L391.9 371.2 L392.4 371.2 L392.9 371.2 L393.4 371.2 L393.9 371.2 L394.4 371.2 L394.9 371.2 L395.4 371.2 L395.9 371.2 L396.4 371.2 L396.9 371.2 L397.4 371.2 L397.9 371.2 L398.4 371.2 L398.9 371.2 L399.4 371.2 L399.9 371.2 L400.4 371.2 L400.9 371.2 L401.4 371.2 L401.9 371.2 L402.4 371.2 L402.9 371.2 L403.4 371.2 L403.9 371.2 L404.4 371.2 L404.9 371.2 L405.4 371.2 L405.9 371.2 L406.4 371.2 L406.9 371.2 L407.4 371.2 L407.9 371.2 L408.4 371.2 L408.9 371.2 L409.4 371.2 L409.9 371.2 L410.4 371.2 L410.9 371.2 L411.4 371.2 L411.9 371.2 L412.4 371.2 L412.9 371.2 L413.4 371.2 L413.9 371.2 L414.4 371.2 L414.9 371.2 L415.4 371.2 L415.9 371.2 L416.4 371.2 L416.9 371.2 L417.4 371.2 L417.9 371.2 L418.4 371.2 L418.9 371.2 L419.4 371.2 L419.9 371.2 L420.4 371.2 L420.9 371.2 L421.4 371.2 L421.9 371.2 L422.4 371.2 L422.9 371.2 L423.4 371.2 L423.9 371.2 L424.4 371.2 L424.9 371.2 L425.4 371.2 L425.9 371.2 L426.4 371.2 L426.9 371.2 L427.4 371.2 L427.9 371.2 L428.4 371.2 L428.9 371.2 L429.4 371.2 L429.9 371.2 L430.4 371.2 L430.9 371.2 L431.4 371.2 L431.9 371.2 L432.4 371.2 L432.9 371.2 L433.4 371.2 L433.9 371.2 L434.4 371.2 L434.9 371.2 L435.4 371.2 L435.9 371.2 L436.4 371.2 L436.9 371.2 L437.4 371.2 L437.9 371.2 L438.4 371.2 L438.9 371.2 L439.4 371.2 L439.9 371.2 L440.4 371.2 L440.9 371.2 L441.4 371.2 L441.9 371.2 L442.4 371.2 L442.9 371.2 L443.4 371.2 L443.9 371.2 L444.4 371.2 L444.9 371.2 L445.4 371.2 L445.9 371.2 L446.4 371.2 L446.9 371.2 L447.4 371.2 L447.9 371.2 L448.4 371.2 L448.9 371.2 L449.4 371.2 L449.9 371.2 L450.4 371.2 L450.9 371.2 L451.4 371.2 L451.9 371.2 L452.4 371.2 L452.9 371.2 L453.4 371.2 L453.9 371.2 L454.4 371.2 L454.9 371.2 L455.4 371.2 L455.9 371.2 L456.4 371.2 L456.9 371.2 L457.4 371.2 L457.9 371.2 L458.4 371.2 L458.9 371.2 L459.4 371.2 L459.9 371.2 L460.4 371.2 L460.9 371.2 L461.4 371.2 L461.9 371.2 L462.4 371.2 L462.9 371.2 L463.4 371.2 L463.9 371.2 L464.4 371.2 L464.9 371.2 L465.4 371.2 L465.9 371.2 L466.4 371.2 L466.9 371.2 L467.4 371.1 L467.9 371.1 L468.4 371.1 L468.9 371.1 L469.4 371.1 L469.9 371.1 L470.4 371.1 L470.9 371.1 L471.4 371.1 L471.9 371.1 L472.4 371.1 L472.9 371.1 L473.4 371.1 L473.9 371.1 L474.4 371.1 L474.9 371.1 L475.4 371.1 L475.9 371.1 L476.4 371.1 L476.9 371.1 L477.4 371.1 L477.9 371.1 L478.4 371.1 L478.9 371.1 L479.4 371.1 L479.9 371.1 L480.4 371.1 L480.9 371.1 L481.4 371.1 L481.9 371.1 L482.4 371.1 L482.9 371.1 L483.4 371.1 L483.9 371.1 L484.4 371.1 L484.9 371.1 L485.4 371.1 L485.9 371.1 L486.4 371.1 L486.9 371.1 L487.4 371.1 L487.9 371.1 L488.4 371.1 L488.9 371.1 L489.4 371.1 L489.9 371.1 L490.4 371.1 L490.9 371.1 L491.4 371.1 L491.9 371.1 L492.4 371.1 L492.9 371.1 L493.4 371.1 L493.9 371.1 L494.4 371.1 L494.9 371.1 L495.4 371.1 L495.9 371.1 L496.4 371.1 L496.9 371.1 L497.4 371.1 L497.9 371.1 L498.4 371.1 L498.9 371.1 L499.4 371.1 L499.9 371.1 L500.4 371.1 L500.9 371.1 L501.4 371.1 L501.9 371.1 L502.4 371.1 L502.9 371.1 L503.4 371.1 L503.9 371.1 L504.4 371.1 L504.9 371.1 L505.4 371.1 L505.9 371.1 L506.4 371.1 L506.9 371.1 L507.4 371.1 L507.9 371.1 L508.4 371.1 L508.9 371.1 L509.4 371.1 L509.9 371.1 L510.4 371.1 L510.9 371.1 L511.4 371.1 L511.9 371.1 L512.4 371.1 L512.9 371.1 L513.4 371.1 L513.9 371.1 L514.4 371.1 L514.9 371.1 L515.4 371.1 L515.9 371.1 L516.4 371.1 L516.9 371.1 L517.4 371.1 L517.9 371.1 L518.4 371.1 L518.9 371.1 L519.4 371.1 L519.9 371.1 L520.4 371.1 L520.9 371.1 L521.4 371.1 L521.9 371.1 L522.4 371.1 L522.9 371.1 L523.4 371.1 L523.9 371.1 L524.4 371.1 L524.9 371.1 L525.4 371.1 L525.9 371.1 L526.4 371.1 L526.9 371.1 L527.4 371.1 L527.9 371.1 L528.4 371.1 L528.9 371.1 L529.4 371.1 L529.9 371.1 L530.4 371.1 L530.9 371.1 L531.4 371.1 L531.9 371.1 L532.4 371.1 L532.9 371.1 L533.4 371.1 L533.9 371.1 L534.4 371.1 L534.9 371.1 L535.4 371.1 L535.9 371.1 L536.4 371.1 L536.9 371.1 L537.4 371.1 L537.9 371.1 L538.4 371.1 L538.9 371.1 L539.4 371.1 L539.9 371.1 L540.4 371.1 L540.9 371.1 L541.4 371.1 L541.9 371.1 L542.4 371.1 L542.9 371.1 L543.4 371.1 L543.9 371.1 L544.4 371.1 L544.9 371.1 L545.4 371.1 L545.9 371.1 L546.4 371.1 L546.9 371.1 L547.4 371.1 L547.9 371.1 L548.4 371.1 L548.9 371.1 L549.4 371.1 L549.9 371.1 L550.4 371.1 L550.9 371.1 L551.4 371.1 L551.9 371.1 L552.4 371.1 L552.9 371.1 L553.4 371.1 L553.9 371.1 L554.4 371.1 L554.9 371.1 L555.4 371.1 L555.9 371.1 L556.4 371.1 L556.9 371.1 L557.4 371.1 L557.9 371.1 L558.4 371.1 L558.9 371.1 L559.4 371.1 L559.9 371.1 L560.4 371.1 L560.9 371.1 L561.4 371.1 L561.9 371.1 L562.4 371.1 L562.9 371.1 L563.4 371.1 L563.9 371.1 L564.4 371.1 L564.9 371.1 L565.4 371.1 L565.9 371.1 L566.4 371.1 L566.9 371.1 L567.4 371.1 L567.9 371.1 L568.4 371.1 L568.9 371.1 L569.4 371.1 L569.9 371.1 L570.4 371.1 L570.9 371.1 L571.4 371.1 L571.9 371.1 L572.4 371.1 L572.9 371.1 L573.4 371.1 L573.9 371.1 L574.4 371.1 L574.9 371.1 L575.4 371.1 L575.9 371.1 L576.4 371.1 L576.9 371.1 L577.4 371.1 L577.9 371.1 L578.4 371.1 L578.9 371.1 L579.4 371.1 L579.9 371.1 L580.4 371.1 L580.9 371.1 L581.4 371.1 L581.9 371.1 L582.4 371.1 L582.9 371.1 L583.4 371.1 L583.9 371.1 L584.4 371.1 L584.9 371.1 L585.4 371.1 L585.9 371.1 L586.4 371.1 L586.9 371.1 L587.4 371.1 L587.9 371.1 L588.4 371.1 L588.9 371.1 L589.4 371.1 L589.9 371.1 L590.4 371.1 L590.9 371.1 L591.4 371.1 L591.9 371.1 L592.4 371.1 L592.9 371.1 L593.4 371.1 L593.9 371.1 L594.4 371.1 L594.9 371.1 L595.4 371.1 L595.9 371.1 L596.4 371.1 L596.9 371.1 L597.4 371.1 L597.9 371.1 L598.4 371.1 L598.9 371.1 L599.4 371.1 L599.9 371.1 L600.4 371.1 L600.9 371.1 L601.4 371.1 L601.9 371.1 L602.4 371 L602.9 371 L603.4 371 L603.9 371 L604.4 371 L604.9 371 L605.4 371 L605.9 371 L606.4 371 L606.9 371 L607.4 371 L607.9 371 L608.4 371 L608.9 371 L609.4 371 L609.9 371 L610.4 371 L610.9 371 L611.4 371 L611.9 371 L612.4 371 L612.9 371 L613.4 371 L613.9 371 L614.4 371 L614.9 371 L615.4 371 L615.9 371 L616.4 371 L616.9 371 L617.4 371 L617.9 371 L618.4 371 L618.9 371 L619.4 371 L619.9 371 L620.4 371 L620.9 371 L621.4 371 L621.9 371 L622.4 371 L622.9 371 L623.4 371 L623.9 371 L624.4 371 L624.9 371 L625.4 371 L625.9 371 L626.4 371 L626.9 371 L627.4 371 L627.9 371 L628.4 371 L628.9 371 L629.4 371 L629.9 371 L630.4 371 L630.9 371 L631.4 371 L631.9 371 L632.4 371 L632.9 371 L633.4 371 L633.9 371 L634.4 371 L634.9 371 L635.4 371 L635.9 371 L636.4 371 L636.9 371 L637.4 371 L637.9 371 L638.4 371 L638.9 371 L639.4 371 L639.9 371 L640.4 371 L640.9 371 L641.4 371 L641.9 371 L642.4 371 L642.9 371 L643.4 371 L643.9 371 L644.4 371 L644.9 371 L645.4 371 L645.9 371 L646.4 371 L646.9 371 L647.4 371 L647.9 371 L648.4 371 L648.9 371 L649.4 371 L649.9 371 L650.4 371 L650.9 371 L651.4 371 L651.9 371 L652.4 371 L652.9 371 L653.4 371 L653.9 371 L654.4 371 L654.9 371 L655.4 371 L655.9 371 L656.4 371 L656.9 371 L657.4 371 L657.9 371 L658.4 371 L658.9 371 L659.4 371 L659.9 371 L660.4 371 L660.9 371 L661.4 371 L661.9 371 L662.4 371 L662.9 371 L663.4 371 L663.9 371 L664.4 371 L664.9 371 L665.4 371 L665.9 371 L666.4 371 L666.9 371 L667.4 371 L667.9 371 L668.4 371 L668.9 371 L669.4 371 L669.9 371 L670.4 371 L670.9 371 L671.4 371 L671.9 371 L672.4 371 L672.9 371 L673.4 371 L673.9 371 L674.4 371 L674.9 371 L675.4 371 L675.9 371 L676.4 371 L676.9 371 L677.4 371 L677.9 371 L678.4 371 L678.9 371 L679.4 371 L679.9 371 L680.4 371 L680.9 371 L681.4 371 L681.9 371 L682.4 371 L682.9 371 L683.4 371 L683.9 371 L684.4 371 L684.9 371 L685.4 371 L685.9 371 L686.4 371 L686.9 371 L687.4 371 L687.9 371 L688.4 371 L688.9 371 L689.4 371 L689.9 371 L690.4 371 L690.9 371 L691.4 371 L691.9 371 L692.4 371 L692.9 371 L693.4 371 L693.9 371 L694.4 371 L694.9 371 L695.4 371 L695.9 371 L696.4 371 L696.9 371 L697.4 371 L697.9 371 L698.4 371 L698.9 371 L699.4 371 L699.9 371 L700.4 371 L700.9 371 L701.4 371 L701.9 371 L702.4 371 L702.9 371 L703.4 371 L703.9 371 L704.4 371 L704.9 371 L705.4 371 L705.9 371 L706.4 371 L706.9 371 L707.4 371 L707.9 371 L708.4 371 L708.9 371 L709.4 371 L709.9 371 L710.4 371 L710.9 371 L711.4 371 L711.9 371 L712.4 371 L712.9 371 L713.4 371 L713.9 371 L714.4 371 L714.9 371 L715.4 371 L715.9 371 L716.4 371 L716.9 371 L717.4 371 L717.9 371 L718.4 371 L718.9 371 L719.4 371 L719.9 371 L720.4 371 L720.9 371 L721.4 371 L721.9 371 L722.4 371 L722.9 371 L723.4 371 L723.9 371 L724.4 371 L724.9 371 L725.4 371 L725.9 371 L726.4 371 L726.9 371 L727.4 371 L727.9 371 L728.4 371 L728.9 371 L729.4 371 L729.9 371 L730.4 371 L730.9 371 L731.4 371 L731.9 371 L732.4 371 L732.9 371 L733.4 371 L733.9 371 L734.4 371 L734.9 371 L735.4 371 L735.9 371 L736.4 371 L736.9 370.9 L737.4 370.9 L737.9 370.9 L738.4 370.9 L738.9 370.9 L739.4 370.9 L739.9 370.9 L740.4 370.9 L740.9 370.9 L741.4 370.9 L741.9 370.9 L742.4 370.9 L742.9 370.9 L743.4 370.9 L743.9 370.9 L744.4 370.9 L744.9 370.9 L745.4 370.9 L745.9 370.9 L746.4 370.9 L746.9 370.9 L747.4 370.9 L747.9 370.9 L748.4 370.9 L748.9 370.9 L749.4 370.9 L749.9 370.9 L750.4 370.9 L750.9 370.9 L751.4 370.9 L751.9 370.9 L752.4 370.9 L752.9 370.9 L753.4 370.9 L753.9 370.9 L754.4 370.9 L754.9 370.9 L755.4 370.9 L755.9 370.9 L756.4 370.9 L756.9 370.9 L757.4 370.9 L757.9 370.9 L758.4 370.9 L758.9 370.9 L759.4 370.9 L759.9 370.9 L760.4 370.9 L760.9 370.9 L761.4 370.9 L761.9 370.9 L762.4 370.9 L762.9 370.9 L763.4 370.9 L763.9 370.9 L764.4 370.9 L764.9 370.9 L765.4 370.9 L765.9 370.9 L766.4 370.9 L766.9 370.9 L767.4 370.9 L767.9 370.9 L768.4 370.9 L768.9 370.9 L769.4 370.9 L769.9 370.9 L770.4 370.9 L770.9 370.9 L771.4 370.9 L771.9 370.9 L772.4 370.9 L772.9 370.9 L773.4 370.9 L773.9 370.9 L774.4 370.9 L774.9 370.9 L775.4 370.9 L775.9 370.9 L776.4 370.9 L776.9 370.9 L777.4 370.9 L777.9 370.9 L778.4 370.9 L778.9 370.9 L779.4 370.9 L779.9 370.9 L780.4 370.9 L780.9 370.9 L781.4 370.9 L781.9 370.9 L782.4 370.9 L782.9 370.9 L783.4 370.9 L783.9 370.9 L784.4 370.9 L784.9 370.9 L785.4 370.9 L785.9 370.9 L786.4 370.9 L786.9 370.9 L787.4 370.9 L787.9 370.9 L788.4 370.9 L788.9 370.9 L789.4 370.9 L789.9 370.9 L790.4 370.9 L790.9 370.9 L791.4 370.9 L791.9 370.9 L792.4 370.9 L792.9 370.9 L793.4 370.9 L793.9 370.9 L794.4 370.9 L794.9 370.9 L795.4 370.9 L795.9 370.9 L796.4 370.9 L796.9 370.9 L797.4 370.9 L797.9 370.9 L798.4 370.9 L798.9 370.9 L799.4 370.9 L799.9 370.9 L800.4 370.9 L800.9 370.9 L801.4 370.9 L801.9 370.9 L802.4 370.9 L802.9 370.9 L802.9 374.5 L802.4 374.5 L801.9 374.5 L801.4 374.5 L800.9 374.5 L800.4 374.5 L799.9 374.5 L799.4 374.5 L798.9 374.5 L798.4 374.5 L797.9 374.5 L797.4 374.5 L796.9 374.5 L796.4 374.5 L795.9 374.5 L795.4 374.5 L794.9 374.5 L794.4 374.5 L793.9 374.5 L793.4 374.5 L792.9 374.5 L792.4 374.5 L791.9 374.5 L791.4 374.5 L790.9 374.5 L790.4 374.5 L789.9 374.5 L789.4 374.5 L788.9 374.5 L788.4 374.5 L787.9 374.5 L787.4 374.5 L786.9 374.5 L786.4 374.5 L785.9 374.5 L785.4 374.5 L784.9 374.5 L784.4 374.5 L783.9 374.5 L783.4 374.5 L782.9 374.5 L782.4 374.5 L781.9 374.5 L781.4 374.5 L780.9 374.5 L780.4 374.5 L779.9 374.5 L779.4 374.5 L778.9 374.5 L778.4 374.5 L777.9 374.5 L777.4 374.5 L776.9 374.5 L776.4 374.5 L775.9 374.5 L775.4 374.5 L774.9 374.5 L774.4 374.5 L773.9 374.5 L773.4 374.5 L772.9 374.5 L772.4 374.5 L771.9 374.5 L771.4 374.5 L770.9 374.5 L770.4 374.5 L769.9 374.5 L769.4 374.5 L768.9 374.5 L768.4 374.5 L767.9 374.5 L767.4 374.5 L766.9 374.5 L766.4 374.5 L765.9 374.5 L765.4 374.5 L764.9 374.5 L764.4 374.5 L763.9 374.5 L763.4 374.5 L762.9 374.5 L762.4 374.5 L761.9 374.5 L761.4 374.5 L760.9 374.5 L760.4 374.5 L759.9 374.5 L759.4 374.5 L758.9 374.5 L758.4 374.5 L757.9 374.5 L757.4 374.5 L756.9 374.5 L756.4 374.5 L755.9 374.5 L755.4 374.5 L754.9 374.5 L754.4 374.5 L753.9 374.5 L753.4 374.5 L752.9 374.5 L752.4 374.5 L751.9 374.5 L751.4 374.5 L750.9 374.5 L750.4 374.5 L749.9 374.5 L749.4 374.5 L748.9 374.5 L748.4 374.5 L747.9 374.5 L747.4 374.5 L746.9 374.5 L746.4 374.5 L745.9 374.5 L745.4 374.5 L744.9 374.5 L744.4 374.5 L743.9 374.5 L743.4 374.5 L742.9 374.5 L742.4 374.5 L741.9 374.5 L741.4 374.5 L740.9 374.5 L740.4 374.5 L739.9 374.5 L739.4 374.5 L738.9 374.5 L738.4 374.5 L737.9 374.5 L737.4 374.5 L736.9 374.5 L736.4 374.6 L735.9 374.6 L735.4 374.6 L734.9 374.6 L734.4 374.6 L733.9 374.6 L733.4 374.6 L732.9 374.6 L732.4 374.6 L731.9 374.6 L731.4 374.6 L730.9 374.6 L730.4 374.6 L729.9 374.6 L729.4 374.6 L728.9 374.6 L728.4 374.6 L727.9 374.6 L727.4 374.6 L726.9 374.6 L726.4 374.6 L725.9 374.6 L725.4 374.6 L724.9 374.6 L724.4 374.6 L723.9 374.6 L723.4 374.6 L722.9 374.6 L722.4 374.6 L721.9 374.6 L721.4 374.6 L720.9 374.6 L720.4 374.6 L719.9 374.6 L719.4 374.6 L718.9 374.6 L718.4 374.6 L717.9 374.6 L717.4 374.6 L716.9 374.6 L716.4 374.6 L715.9 374.6 L715.4 374.6 L714.9 374.6 L714.4 374.6 L713.9 374.6 L713.4 374.6 L712.9 374.6 L712.4 374.6 L711.9 374.6 L711.4 374.6 L710.9 374.6 L710.4 374.6 L709.9 374.6 L709.4 374.6 L708.9 374.6 L708.4 374.6 L707.9 374.6 L707.4 374.6 L706.9 374.6 L706.4 374.6 L705.9 374.6 L705.4 374.6 L704.9 374.6 L704.4 374.6 L703.9 374.6 L703.4 374.6 L702.9 374.6 L702.4 374.6 L701.9 374.6 L701.4 374.6 L700.9 374.6 L700.4 374.6 L699.9 374.6 L699.4 374.6 L698.9 374.6 L698.4 374.6 L697.9 374.6 L697.4 374.6 L696.9 374.6 L696.4 374.6 L695.9 374.6 L695.4 374.6 L694.9 374.6 L694.4 374.6 L693.9 374.6 L693.4 374.6 L692.9 374.6 L692.4 374.6 L691.9 374.6 L691.4 374.6 L690.9 374.6 L690.4 374.6 L689.9 374.6 L689.4 374.6 L688.9 374.6 L688.4 374.6 L687.9 374.6 L687.4 374.6 L686.9 374.6 L686.4 374.6 L685.9 374.6 L685.4 374.6 L684.9 374.6 L684.4 374.6 L683.9 374.6 L683.4 374.6 L682.9 374.6 L682.4 374.6 L681.9 374.6 L681.4 374.6 L680.9 374.6 L680.4 374.6 L679.9 374.6 L679.4 374.6 L678.9 374.6 L678.4 374.6 L677.9 374.6 L677.4 374.6 L676.9 374.6 L676.4 374.6 L675.9 374.6 L675.4 374.6 L674.9 374.6 L674.4 374.6 L673.9 374.6 L673.4 374.6 L672.9 374.6 L672.4 374.6 L671.9 374.6 L671.4 374.6 L670.9 374.6 L670.4 374.6 L669.9 374.6 L669.4 374.6 L668.9 374.6 L668.4 374.6 L667.9 374.6 L667.4 374.6 L666.9 374.6 L666.4 374.6 L665.9 374.6 L665.4 374.6 L664.9 374.6 L664.4 374.6 L663.9 374.6 L663.4 374.6 L662.9 374.6 L662.4 374.6 L661.9 374.6 L661.4 374.6 L660.9 374.6 L660.4 374.6 L659.9 374.6 L659.4 374.6 L658.9 374.6 L658.4 374.6 L657.9 374.6 L657.4 374.6 L656.9 374.6 L656.4 374.6 L655.9 374.6 L655.4 374.6 L654.9 374.6 L654.4 374.6 L653.9 374.6 L653.4 374.6 L652.9 374.6 L652.4 374.6 L651.9 374.6 L651.4 374.6 L650.9 374.6 L650.4 374.6 L649.9 374.6 L649.4 374.6 L648.9 374.6 L648.4 374.6 L647.9 374.6 L647.4 374.6 L646.9 374.6 L646.4 374.6 L645.9 374.6 L645.4 374.6 L644.9 374.6 L644.4 374.6 L643.9 374.6 L643.4 374.6 L642.9 374.6 L642.4 374.6 L641.9 374.6 L641.4 374.6 L640.9 374.6 L640.4 374.6 L639.9 374.6 L639.4 374.6 L638.9 374.6 L638.4 374.6 L637.9 374.6 L637.4 374.6 L636.9 374.6 L636.4 374.6 L635.9 374.6 L635.4 374.6 L634.9 374.6 L634.4 374.6 L633.9 374.6 L633.4 374.6 L632.9 374.6 L632.4 374.6 L631.9 374.6 L631.4 374.6 L630.9 374.6 L630.4 374.6 L629.9 374.6 L629.4 374.6 L628.9 374.6 L628.4 374.6 L627.9 374.6 L627.4 374.6 L626.9 374.6 L626.4 374.6 L625.9 374.6 L625.4 374.6 L624.9 374.6 L624.4 374.6 L623.9 374.6 L623.4 374.6 L622.9 374.6 L622.4 374.6 L621.9 374.6 L621.4 374.6 L620.9 374.6 L620.4 374.6 L619.9 374.6 L619.4 374.6 L618.9 374.6 L618.4 374.6 L617.9 374.6 L617.4 374.6 L616.9 374.6 L616.4 374.6 L615.9 374.6 L615.4 374.6 L614.9 374.6 L614.4 374.6 L613.9 374.6 L613.4 374.6 L612.9 374.6 L612.4 374.6 L611.9 374.6 L611.4 374.6 L610.9 374.6 L610.4 374.6 L609.9 374.6 L609.4 374.6 L608.9 374.6 L608.4 374.6 L607.9 374.6 L607.4 374.6 L606.9 374.6 L606.4 374.6 L605.9 374.6 L605.4 374.6 L604.9 374.6 L604.4 374.6 L603.9 374.6 L603.4 374.6 L602.9 374.6 L602.4 374.6 L601.9 374.7 L601.4 374.7 L600.9 374.7 L600.4 374.7 L599.9 374.7 L599.4 374.7 L598.9 374.7 L598.4 374.7 L597.9 374.7 L597.4 374.7 L596.9 374.7 L596.4 374.7 L595.9 374.7 L595.4 374.7 L594.9 374.7 L594.4 374.7 L593.9 374.7 L593.4 374.7 L592.9 374.7 L592.4 374.7 L591.9 374.7 L591.4 374.7 L590.9 374.7 L590.4 374.7 L589.9 374.7 L589.4 374.7 L588.9 374.7 L588.4 374.7 L587.9 374.7 L587.4 374.7 L586.9 374.7 L586.4 374.7 L585.9 374.7 L585.4 374.7 L584.9 374.7 L584.4 374.7 L583.9 374.7 L583.4 374.7 L582.9 374.7 L582.4 374.7 L581.9 374.7 L581.4 374.7 L580.9 374.7 L580.4 374.7 L579.9 374.7 L579.4 374.7 L578.9 374.7 L578.4 374.7 L577.9 374.7 L577.4 374.7 L576.9 374.7 L576.4 374.7 L575.9 374.7 L575.4 374.7 L574.9 374.7 L574.4 374.7 L573.9 374.7 L573.4 374.7 L572.9 374.7 L572.4 374.7 L571.9 374.7 L571.4 374.7 L570.9 374.7 L570.4 374.7 L569.9 374.7 L569.4 374.7 L568.9 374.7 L568.4 374.7 L567.9 374.7 L567.4 374.7 L566.9 374.7 L566.4 374.7 L565.9 374.7 L565.4 374.7 L564.9 374.7 L564.4 374.7 L563.9 374.7 L563.4 374.7 L562.9 374.7 L562.4 374.7 L561.9 374.7 L561.4 374.7 L560.9 374.7 L560.4 374.7 L559.9 374.7 L559.4 374.7 L558.9 374.7 L558.4 374.7 L557.9 374.7 L557.4 374.7 L556.9 374.7 L556.4 374.7 L555.9 374.7 L555.4 374.7 L554.9 374.7 L554.4 374.7 L553.9 374.7 L553.4 374.7 L552.9 374.7 L552.4 374.7 L551.9 374.7 L551.4 374.7 L550.9 374.7 L550.4 374.7 L549.9 374.7 L549.4 374.7 L548.9 374.7 L548.4 374.7 L547.9 374.7 L547.4 374.7 L546.9 374.7 L546.4 374.7 L545.9 374.7 L545.4 374.7 L544.9 374.7 L544.4 374.7 L543.9 374.7 L543.4 374.7 L542.9 374.7 L542.4 374.7 L541.9 374.7 L541.4 374.7 L540.9 374.7 L540.4 374.7 L539.9 374.7 L539.4 374.7 L538.9 374.7 L538.4 374.7 L537.9 374.7 L537.4 374.7 L536.9 374.7 L536.4 374.7 L535.9 374.7 L535.4 374.7 L534.9 374.7 L534.4 374.7 L533.9 374.7 L533.4 374.7 L532.9 374.7 L532.4 374.7 L531.9 374.7 L531.4 374.7 L530.9 374.7 L530.4 374.7 L529.9 374.7 L529.4 374.7 L528.9 374.7 L528.4 374.7 L527.9 374.7 L527.4 374.7 L526.9 374.7 L526.4 374.7 L525.9 374.7 L525.4 374.7 L524.9 374.7 L524.4 374.7 L523.9 374.7 L523.4 374.7 L522.9 374.7 L522.4 374.7 L521.9 374.7 L521.4 374.7 L520.9 374.7 L520.4 374.7 L519.9 374.7 L519.4 374.7 L518.9 374.7 L518.4 374.7 L517.9 374.7 L517.4 374.7 L516.9 374.7 L516.4 374.7 L515.9 374.7 L515.4 374.7 L514.9 374.7 L514.4 374.7 L513.9 374.7 L513.4 374.7 L512.9 374.7 L512.4 374.7 L511.9 374.7 L511.4 374.7 L510.9 374.7 L510.4 374.7 L509.9 374.7 L509.4 374.7 L508.9 374.7 L508.4 374.7 L507.9 374.7 L507.4 374.7 L506.9 374.7 L506.4 374.7 L505.9 374.7 L505.4 374.7 L504.9 374.7 L504.4 374.7 L503.9 374.7 L503.4 374.7 L502.9 374.7 L502.4 374.7 L501.9 374.7 L501.4 374.7 L500.9 374.7 L500.4 374.7 L499.9 374.7 L499.4 374.7 L498.9 374.7 L498.4 374.7 L497.9 374.7 L497.4 374.7 L496.9 374.7 L496.4 374.7 L495.9 374.7 L495.4 374.7 L494.9 374.7 L494.4 374.7 L493.9 374.7 L493.4 374.7 L492.9 374.7 L492.4 374.7 L491.9 374.7 L491.4 374.7 L490.9 374.7 L490.4 374.7 L489.9 374.7 L489.4 374.7 L488.9 374.7 L488.4 374.7 L487.9 374.7 L487.4 374.7 L486.9 374.7 L486.4 374.7 L485.9 374.7 L485.4 374.7 L484.9 374.7 L484.4 374.7 L483.9 374.7 L483.4 374.7 L482.9 374.7 L482.4 374.7 L481.9 374.7 L481.4 374.7 L480.9 374.7 L480.4 374.7 L479.9 374.7 L479.4 374.7 L478.9 374.7 L478.4 374.7 L477.9 374.7 L477.4 374.7 L476.9 374.7 L476.4 374.7 L475.9 374.7 L475.4 374.7 L474.9 374.7 L474.4 374.7 L473.9 374.7 L473.4 374.7 L472.9 374.7 L472.4 374.7 L471.9 374.7 L471.4 374.7 L470.9 374.7 L470.4 374.7 L469.9 374.7 L469.4 374.7 L468.9 374.7 L468.4 374.7 L467.9 374.7 L467.4 374.7 L466.9 374.8 L466.4 374.8 L465.9 374.8 L465.4 374.8 L464.9 374.8 L464.4 374.8 L463.9 374.8 L463.4 374.8 L462.9 374.8 L462.4 374.8 L461.9 374.8 L461.4 374.8 L460.9 374.8 L460.4 374.8 L459.9 374.8 L459.4 374.8 L458.9 374.8 L458.4 374.8 L457.9 374.8 L457.4 374.8 L456.9 374.8 L456.4 374.8 L455.9 374.8 L455.4 374.8 L454.9 374.8 L454.4 374.8 L453.9 374.8 L453.4 374.8 L452.9 374.8 L452.4 374.8 L451.9 374.8 L451.4 374.8 L450.9 374.8 L450.4 374.8 L449.9 374.8 L449.4 374.8 L448.9 374.8 L448.4 374.8 L447.9 374.8 L447.4 374.8 L446.9 374.8 L446.4 374.8 L445.9 374.8 L445.4 374.8 L444.9 374.8 L444.4 374.8 L443.9 374.8 L443.4 374.8 L442.9 374.8 L442.4 374.8 L441.9 374.8 L441.4 374.8 L440.9 374.8 L440.4 374.8 L439.9 374.8 L439.4 374.8 L438.9 374.8 L438.4 374.8 L437.9 374.8 L437.4 374.8 L436.9 374.8 L436.4 374.8 L435.9 374.8 L435.4 374.8 L434.9 374.8 L434.4 374.8 L433.9 374.8 L433.4 374.8 L432.9 374.8 L432.4 374.8 L431.9 374.8 L431.4 374.8 L430.9 374.8 L430.4 374.8 L429.9 374.8 L429.4 374.8 L428.9 374.8 L428.4 374.8 L427.9 374.8 L427.4 374.8 L426.9 374.8 L426.4 374.8 L425.9 374.8 L425.4 374.8 L424.9 374.8 L424.4 374.8 L423.9 374.8 L423.4 374.8 L422.9 374.8 L422.4 374.8 L421.9 374.8 L421.4 374.8 L420.9 374.8 L420.4 374.8 L419.9 374.8 L419.4 374.8 L418.9 374.8 L418.4 374.8 L417.9 374.8 L417.4 374.8 L416.9 374.8 L416.4 374.8 L415.9 374.8 L415.4 374.8 L414.9 374.8 L414.4 374.8 L413.9 374.8 L413.4 374.8 L412.9 374.8 L412.4 374.8 L411.9 374.8 L411.4 374.8 L410.9 374.8 L410.4 374.8 L409.9 374.8 L409.4 374.8 L408.9 374.8 L408.4 374.8 L407.9 374.8 L407.4 374.8 L406.9 374.8 L406.4 374.8 L405.9 374.8 L405.4 374.8 L404.9 374.8 L404.4 374.8 L403.9 374.8 L403.4 374.8 L402.9 374.8 L402.4 374.8 L401.9 374.8 L401.4 374.8 L400.9 374.8 L400.4 374.8 L399.9 374.8 L399.4 374.8 L398.9 374.8 L398.4 374.8 L397.9 374.8 L397.4 374.8 L396.9 374.8 L396.4 374.8 L395.9 374.8 L395.4 374.8 L394.9 374.8 L394.4 374.8 L393.9 374.8 L393.4 374.8 L392.9 374.8 L392.4 374.8 L391.9 374.8 L391.4 374.8 L390.9 374.8 L390.4 374.8 L389.9 374.8 L389.4 374.8 L388.9 374.8 L388.4 374.9 L387.9 374.9 L387.4 374.9 L386.9 374.9 L386.4 374.9 L385.9 374.9 L385.4 374.9 L384.9 374.9 L384.4 374.9 L383.9 374.9 L383.4 374.9 L382.9 374.9 L382.4 374.9 L381.9 374.9 L381.4 374.9 L380.9 374.9 L380.4 374.9 L379.9 374.9 L379.4 374.9 L378.9 374.9 L378.4 374.9 L377.9 374.9 L377.4 374.9 L376.9 374.9 L376.4 374.9 L375.9 374.9 L375.4 374.9 L374.9 374.9 L374.4 374.9 L373.9 374.9 L373.4 374.9 L372.9 374.9 L372.4 374.9 L371.9 374.9 L371.4 374.9 L370.9 374.9 L370.4 374.9 L369.9 374.9 L369.4 374.9 L368.9 374.9 L368.4 374.9 L367.9 374.9 L367.4 374.9 L366.9 374.9 L366.4 374.9 L365.9 374.9 L365.4 375 L364.9 375 L364.4 375 L363.9 375 L363.4 375 L362.9 375 L362.4 375 L361.9 375 L361.4 375 L360.9 375 L360.4 375 L359.9 375 L359.4 375 L358.9 375 L358.4 375 L357.9 375 L357.4 375 L356.9 375 L356.4 375 L355.9 375 L355.4 375 L354.9 375 L354.4 375 L353.9 375 L353.4 375 L352.9 375 L352.4 375 L351.9 375 L351.4 375 L350.9 375 L350.4 375 L349.9 375 L349.4 375 L348.9 375 L348.4 375 L347.9 375 L347.4 375 L346.9 375 L346.4 375 L345.9 375 L345.4 375 L344.9 375 L344.4 375 L343.9 375 L343.4 375 L342.9 375 L342.4 375.1 L341.9 375.1 L341.4 375.1 L340.9 375.1 L340.4 375.1 L339.9 375.1 L339.4 375.1 L338.9 375.1 L338.4 375.1 L337.9 375.1 L337.4 375.1 L336.9 375.1 L336.4 375.1 L335.9 375.1 L335.4 375.1 L334.9 375.1 L334.4 375.1 L333.9 375.1 L333.4 375.1 L332.9 375.1 L332.4 375.1 L331.9 375.1 L331.4 375.1 L330.9 375.1 L330.4 375.1 L329.9 375.1 L329.4 375.1 L328.9 375.1 L328.4 375.1 L327.9 375.1 L327.4 375.1 L326.9 375.1 L326.4 375.1 L325.9 375.1 L325.4 375.1 L324.9 375.1 L324.4 375.1 L323.9 375.1 L323.4 375.1 L322.9 375.1 L322.4 375.1 L321.9 375.1 L321.4 375.1 L320.9 375.1 L320.4 375.1 L319.9 375.1 L319.4 375.2 L318.9 375.2 L318.4 375.2 L317.9 375.2 L317.4 375.2 L316.9 375.2 L316.4 375.2 L315.9 375.2 L315.4 375.2 L314.9 375.2 L314.4 375.2 L313.9 375.2 L313.4 375.2 L312.9 375.2 L312.4 375.2 L311.9 375.2 L311.4 375.2 L310.9 375.2 L310.4 375.2 L309.9 375.2 L309.4 375.2 L308.9 375.2 L308.4 375.2 L307.9 375.2 L307.4 375.2 L306.9 375.2 L306.4 375.2 L305.9 375.2 L305.4 375.2 L304.9 375.2 L304.4 375.2 L303.9 375.2 L303.4 375.2 L302.9 375.2 L302.4 375.2 L301.9 375.2 L301.4 375.2 L300.9 375.2 L300.4 375.2 L299.9 375.2 L299.4 375.2 L298.9 375.2 L298.4 375.2 L297.9 375.2 L297.4 375.2 L296.9 375.2 L296.4 375.3 L295.9 375.3 L295.4 375.3 L294.9 375.3 L294.4 375.3 L293.9 375.3 L293.4 375.3 L292.9 375.3 L292.4 375.3 L291.9 375.3 L291.4 375.3 L290.9 375.3 L290.4 375.3 L289.9 375.3 L289.4 375.3 L288.9 375.3 L288.4 375.3 L287.9 375.3 L287.4 375.3 L286.9 375.3 L286.4 375.3 L285.9 375.3 L285.4 375.3 L284.9 375.3 L284.4 375.3 L283.9 375.4 L283.4 375.4 L282.9 375.4 L282.4 375.5 L281.9 375.5 L281.4 375.5 L280.9 375.6 L280.4 375.6 L279.9 375.7 L279.4 375.7 L278.9 375.7 L278.4 375.8 L277.9 375.8 L277.4 375.8 L276.9 375.9 L276.4 375.9 L275.9 375.9 L275.4 376 L274.9 376 L274.4 376.2 L273.9 376.3 L273.4 376.5 L272.9 376.7 L272.4 376.8 L271.9 377 L271.4 377.2 L270.9 377.3 L270.4 377.6 L269.9 378.1 L269.4 378.6 L268.9 379.1 L268.4 379.6 L267.9 379.8 L267.4 380 L266.9 380.1 L266.4 380.3 L265.9 379.3 L265.4 377.9 L264.9 376.9 L264.4 375.9 L263.9 375 L263.4 373.9 L262.9 371.5 L262.4 369.2 L261.9 366.8 L261.4 359.4 L260.9 349.8 L260.4 343.7 L259.9 342.7 L259.4 341.8 L258.9 341.6 L258.4 341.3 L257.9 340.9 L257.4 340.4 L256.9 340 L256.4 339.6 L255.9 339.2 L255.4 339 L254.9 338.8 L254.4 338.6 L253.9 338.4 L253.4 338.3 L252.9 338.1 L252.4 337.9 L251.9 337.7 L251.4 337.5 L250.9 337.3 L250.4 337.2 L249.9 337 L249.4 336.9 L248.9 336.7 L248.4 336.6 L247.9 336.5 L247.4 336.4 L246.9 336.2 L246.4 336.1 L245.9 336 L245.4 335.9 L244.9 335.7 L244.4 335.6 L243.9 335.5 L243.4 335.4 L242.9 335.2 L242.4 335.1 L241.9 335 L241.4 334.9 L240.9 334.7 L240.4 334.6 L239.9 334.5 L239.4 334.4 L238.9 334.3 L238.4 334.2 L237.9 334.2 L237.4 334.1 L236.9 334 L236.4 333.9 L235.9 333.8 L235.4 333.7 L234.9 333.6 L234.4 333.6 L233.9 333.5 L233.4 333.4 L232.9 333.3 L232.4 333.2 L231.9 333.1 L231.4 333 L230.9 333 L230.4 332.9 L229.9 332.8 L229.4 332.7 L228.9 332.6 L228.4 332.6 L227.9 332.5 L227.4 332.4 L226.9 332.4 L226.4 332.3 L225.9 332.2 L225.4 332.1 L224.9 332.1 L224.4 332 L223.9 331.9 L223.4 331.8 L222.9 331.8 L222.4 331.7 L221.9 331.6 L221.4 331.5 L220.9 331.5 L220.4 331.4 L219.9 331.3 L219.4 331.3 L218.9 331.2 L218.4 331.1 L217.9 331 L217.4 331 L216.9 330.9 L216.4 330.8 L215.9 330.7 L215.4 330.7 L214.9 330.6 L214.4 330.5 L213.9 330.5 L213.4 330.4 L212.9 330.4 L212.4 330.3 L211.9 330.3 L211.4 330.2 L210.9 330.2 L210.4 330.1 L209.9 330.1 L209.4 330 L208.9 330 L208.4 329.9 L207.9 329.9 L207.4 329.8 L206.9 329.8 L206.4 329.7 L205.9 329.7 L205.4 329.6 L204.9 329.6 L204.4 329.5 L203.9 329.5 L203.4 329.4 L202.9 329.4 L202.4 329.3 L201.9 329.3 L201.4 329.2 L200.9 329.2 L200.4 329.1 L199.9 329.1 L199.4 329.1 L198.9 329 L198.4 329 L197.9 329 L197.4 329 L196.9 328.9 L196.4 328.9 L195.9 328.9 L195.4 328.9 L194.9 328.8 L194.4 328.8 L193.9 328.8 L193.4 328.8 L192.9 328.7 L192.4 328.7 L191.9 328.7 L191.4 328.7 L190.9 328.6 L190.4 328.6 L189.9 328.6 L189.4 328.6 L188.9 328.5 L188.4 328.5 L187.9 328.5 L187.4 328.5 L186.9 328.4 L186.4 328.4 L185.9 328.4 L185.4 328.4 L184.9 328.3 L184.4 328.3 L183.9 328.3 L183.4 328.3 L182.9 328.2 L182.4 328.2 L181.9 328.2 L181.4 328.2 L180.9 328.1 L180.4 328.1 L179.9 328.1 L179.4 328.1 L178.9 328 L178.4 328 L177.9 328 L177.4 328 L176.9 328 L176.4 328 L175.9 328 L175.4 328 L174.9 328 L174.4 328 L173.9 328 L173.4 328 L172.9 328 L172.4 328 L171.9 327.9 L171.4 327.9 L170.9 327.9 L170.4 327.9 L169.9 327.9 L169.4 327.9 L168.9 327.9 L168.4 327.9 L167.9 327.9 L167.4 327.9 L166.9 327.9 L166.4 327.9 L165.9 327.9 L165.4 327.9 L164.9 327.9 L164.4 327.9 L163.9 327.9 L163.4 327.9 L162.9 327.9 L162.4 327.9 L161.9 327.9 L161.4 327.9 L160.9 327.8 L160.4 327.8 L159.9 327.8 L159.4 327.8 L158.9 327.8 L158.4 327.8 L157.9 327.8 L157.4 327.8 L156.9 327.8 L156.4 327.8 L155.9 327.8 L155.4 327.8 L154.9 327.8 L154.4 327.8 L153.9 327.8 L153.4 327.8 L152.9 327.8 L152.4 327.8 L151.9 327.8 L151.4 327.8 L150.9 327.8 L150.4 327.8 L149.9 327.7 L149.4 327.7 L148.9 327.7 L148.4 327.7 L147.9 327.7 L147.4 327.7 L146.9 327.7 L146.4 327.7 L145.9 327.7 L145.4 327.7 L144.9 327.7 L144.4 327.7 L143.9 327.7 L143.4 327.7 L142.9 327.7 L142.4 327.7 L141.9 327.7 L141.4 327.7 L140.9 327.7 L140.4 327.7 L139.9 327.7 L139.4 327.7 L138.9 327.6 L138.4 327.6 L137.9 327.6 L137.4 327.6 L136.9 327.6 L136.4 327.6 L135.9 327.6 L135.4 327.6 L134.9 327.6 L134.4 327.6 L133.9 327.6 L133.4 327.6 L132.9 327.6 L132.4 327.6 L131.9 327.6 L131.4 327.6 L130.9 327.6 L130.4 327.6 L129.9 327.6 L129.4 327.6 L128.9 327.6 L128.4 327.6 L127.9 327.6 L127.4 327.5 L126.9 327.5 L126.4 327.5 L125.9 327.5 L125.4 327.5 L124.9 327.5 L124.4 327.5 L123.9 327.5 L123.4 327.5 L122.9 327.5 L122.4 327.5 L121.9 327.5 L121.4 327.5 L120.9 327.5 L120.4 327.5 L119.9 327.5 L119.4 327.5 L118.9 327.5 L118.4 327.5 L117.9 327.5 L117.4 327.5 L116.9 327.5 L116.4 327.4 L115.9 327.4 L115.4 327.4 L114.9 327.4 L114.4 327.4 L113.9 327.4 L113.4 327.4 L112.9 327.4 L112.4 327.4 L111.9 327.4 L111.4 327.4 L110.9 327.4 L110.4 327.4 L109.9 327.4 L109.4 327.4 L108.9 327.4 L108.4 327.4 L107.9 327.4 L107.4 327.4 L106.9 327.4 L106.4 327.4 L105.9 327.4 L105.4 327.3 L104.9 327.3 L104.4 327.3 L103.9 327.3 L103.4 327.3 L102.9 327.3 L102.4 327.3 L101.9 327.3 L101.4 327.3 L100.9 327.3 L100.4 327.3 L99.9 327.3 L99.4 327.3 L98.9 327.3 L98.4 327.3 L97.9 327.3 L97.4 327.3 L96.9 327.3 L96.4 327.3 L95.9 327.3 L95.4 327.3 L94.9 327.3 L94.4 327.3 L93.9 327.3 L93.4 327.3 L92.9 327.3 L92.4 327.3 L91.9 327.3 L91.4 327.3 L90.9 327.3 L90.4 327.3 L89.9 327.3 L89.4 327.3 L88.9 327.3 L88.4 327.3 L87.9 327.3 L87.4 327.3 L86.9 327.3 L86.4 327.3 L85.9 327.3 L85.4 327.3 L84.9 327.3 L84.4 327.3 L83.9 327.3 L83.4 327.3 L82.9 327.3 L82.4 327.3 L81.9 327.3 L81.4 327.3 L80.9 327.3 L80.4 327.3 L79.9 327.3 L79.4 327.3 L78.9 327.3 L78.4 327.3 L77.9 327.3 L77.4 327.3 L76.9 327.3 L76.4 327.3 L75.9 327.3 L75.4 327.3 L74.9 327.3 L74.4 327.3 L73.9 327.3 L73.4 327.3 L72.9 327.3 L72.4 327.3 L71.9 327.3 L71.4 327.3 L70.9 327.3 L70.4 327.3 L69.9 327.3 L69.4 327.3 L68.9 327.3 L68.4 327.3 L67.9 327.3 L67.4 327.3 L66.9 327.3 L66.4 327.3 L65.9 327.3 L65.4 327.3 L64.9 327.3 L64.4 327.3 L63.9 327.3 L63.4 327.3 L62.9 327.3 L62.4 327.3 L61.9 327.3 L61.4 327.3 L60.9 327.2 L60.4 327.2 L59.9 327.2 L59.4 327.2 L58.9 327.2 L58.4 327.2 L57.9 327.2 L57.4 327.2 L56.9 327.2 L56.4 327.2 L55.9 327.2 L55.4 327.2 L54.9 327.2 L54.4 327.2 L53.9 327.2 L53.4 327.2 L52.9 327.2 L52.4 327.2 L51.9 327.2 L51.4 327.2 L50.9 327.2 L50.4 327.2 L49.9 327.2 L49.4 327.2 L48.9 327.2 L48.4 327.2 L47.9 327.2 L47.4 327.2 L46.9 327.2 L46.4 327.2 L45.9 327.2 L45.4 327.2 L44.9 327.2 L44.4 327.2 L43.9 327.2 L43.4 327.2 L42.9 327.2 L42.4 327.2 L41.9 327.2 L41.4 327.2 L40.9 327.2 L40.4 327.2 L39.9 327.2 L39.4 327.2 L38.9 327.2 L38.4 327.2 L37.9 327.2 L37.4 327.2 L36.9 327.2 L36.4 327.2 L35.9 327.2 L35.4 327.2 L34.9 327.2 L34.4 327.2 L33.9 327.2 L33.4 327.2 L32.9 327.2 L32.4 327.2 L31.9 327.2 L31.4 327.2 L30.9 327.2 L30.4 327.2 L29.9 327.2 L29.4 327.2 L28.9 327.2 L28.4 327.2 L27.9 327.2 L27.4 327.2 L26.9 327.2 L26.4 327.2 L25.9 327.2 L25.4 327.2 L24.9 327.2 L24.4 327.2 L23.9 327.2 L23.4 327.2 L22.9 327.2 L22.4 327.2Z" fill="#24e824"/>
<path d="M258.5 254.59 L260.3 256 L261 278.08 L261.6 297 L263 300 L266 309 L269.8 321 L270.6 309.8 L271.3 300 L274 287" fill="none" stroke="#1010c4" stroke-width="3" stroke-linejoin="round"/>
<path d="M22.4 237 L22.8 236 L23.1 235.7 L23.5 236.4 L23.8 238 L24.1 238.5 L24.5 238.7 L24.8 238.9 L25.2 238.7 L25.5 237.7 L25.8 235 L26.2 235.3 L26.5 232.7 L26.9 230.5 L27.2 228.4 L27.5 230.4 L27.9 232.5 L28.2 235.4 L28.6 237.2 L28.9 237.4 L29.2 237.4 L29.6 237.7 L29.9 238 L30.3 237.4 L30.6 235.7 L30.9 234.9 L31.3 235.3 L31.6 237 L32 238.2 L32.3 238.4 L32.6 238.4 L33 238.5 L33.3 238.9 L33.7 235.1 L34 235.6 L34.3 234.4 L34.7 232.5 L35 230.4 L35.4 228 L35.7 230.9 L36 233.5 L36.4 237.1 L36.7 237.2 L37.1 237.6 L37.4 237.8 L37.7 237.7 L38.1 237.8 L38.4 237.1 L38.8 235.4 L39.1 234.1 L39.4 235.2 L39.8 237.5 L40.1 238.3 L40.5 238.8 L40.8 237.8 L41.1 237.5 L41.5 237.9 L41.8 236.2 L42.2 236.1 L42.5 234 L42.8 232.1 L43.2 229.5 L43.5 229.4 L43.9 232.3 L44.2 235.1 L44.5 237.7 L44.9 237.9 L45.2 237.9 L45.6 237.9 L45.9 238.4 L46.2 238.1 L46.6 237.1 L46.9 234.2 L47.3 234.3 L47.6 235.5 L47.9 238.1 L48.3 238.6 L48.6 238.8 L49 238.3 L49.3 238.3 L49.6 238.2 L50 236.3 L50.3 236.3 L50.7 233.4 L51 230.8 L51.3 228.7 L51.7 229.9 L52 233 L52.4 235.9 L52.7 237.8 L53 237.1 L53.4 237.5 L53.7 237.4 L54.1 238 L54.4 237.3 L54.7 236.6 L55.1 235.3 L55.4 235.6 L55.8 236.8 L56.1 239 L56.4 239.3 L56.8 239 L57.1 238.5 L57.5 238.8 L57.8 236.4 L58.1 235.1 L58.5 234 L58.8 231.8 L59.2 232.1 L59.5 230.5 L59.8 232.8 L60.2 234.5 L60.5 237.1 L60.9 237.6 L61.2 237.3 L61.5 237.1 L61.9 237.4 L62.2 238.3 L62.6 237.1 L62.9 235.9 L63.2 235.2 L63.6 236.6 L63.9 238 L64.3 238.8 L64.6 238.8 L64.9 238.8 L65.3 239 L65.6 239.1 L66 236.9 L66.3 237.3 L66.6 235.4 L67 233.7 L67.3 231.2 L67.7 231.2 L68 232.8 L68.3 235.7 L68.7 238 L69 238.2 L69.4 238 L69.7 238.4 L70 238.2 L70.4 238.2 L70.7 237.3 L71.1 236.3 L71.4 234.3 L71.7 235.5 L72.1 237.2 L72.4 239 L72.8 239.1 L73.1 239.3 L73.4 239.3 L73.8 239.3 L74.1 236.8 L74.5 236.9 L74.8 234.2 L75.1 231.7 L75.5 229.2 L75.8 231 L76.2 233.1 L76.5 236.2 L76.8 238.1 L77.2 238.2 L77.5 237.8 L77.9 238 L78.2 237.8 L78.5 237.5 L78.9 236.1 L79.2 235.2 L79.6 234.9 L79.9 236.1 L80.2 237.5 L80.6 238.4 L80.9 238.4 L81.3 238.3 L81.6 239.4 L81.9 237.3 L82.3 237.3 L82.6 236.2 L83 233.8 L83.3 231.7 L83.6 229.9 L84 232.3 L84.3 234.6 L84.7 237.6 L85 237.8 L85.3 238.2 L85.7 238.7 L86 238.4 L86.4 238.7 L86.7 237.7 L87 236.7 L87.4 235.8 L87.7 236.7 L88.1 237.8 L88.4 238.8 L88.7 239.1 L89.1 239 L89.4 239.4 L89.8 239.2 L90.1 236.7 L90.4 237 L90.8 235.3 L91.1 232.8 L91.5 231 L91.8 231.2 L92.1 233.3 L92.5 235.5 L92.8 236.6 L93.2 236.4 L93.5 236.7 L93.8 238.2 L94.2 238.5 L94.5 238 L94.9 236.7 L95.2 235.9 L95.5 236.1 L95.9 236.3 L96.2 237.7 L96.6 238.1 L96.9 239.3 L97.2 239.6 L97.6 239.6 L97.9 237.1 L98.3 237.1 L98.6 237.1 L98.9 234 L99.3 232.2 L99.6 230.2 L100 232.3 L100.3 234.7 L100.6 237.2 L101 238.2 L101.3 238 L101.7 238.3 L102 238.6 L102.3 239 L102.7 238.1 L103 235.4 L103.4 234.5 L103.7 235.3 L104 237.9 L104.4 238.9 L104.7 239 L105.1 238.4 L105.4 238.3 L105.7 238.7 L106.1 237.5 L106.4 237.4 L106.8 236.3 L107.1 233.6 L107.4 231.8 L107.8 231.2 L108.1 231.9 L108.5 234 L108.8 236.3 L109.1 236.6 L109.5 236.7 L109.8 237 L110.2 238.1 L110.5 238.5 L110.8 237.2 L111.2 234.6 L111.5 234.2 L111.9 235.2 L112.2 238.5 L112.5 239.2 L112.9 239.6 L113.2 238.3 L113.6 238.3 L113.9 238.3 L114.2 235.7 L114.6 236.1 L114.9 233.7 L115.3 233.1 L115.6 231.1 L115.9 231.6 L116.3 233.1 L116.6 235.6 L117 237.7 L117.3 238.5 L117.6 238.6 L118 238.4 L118.3 238.8 L118.7 238.7 L119 237.7 L119.3 235.7 L119.7 236 L120 237.3 L120.4 239.4 L120.7 239.4 L121 239.7 L121.4 239.7 L121.7 239.4 L122.1 237.3 L122.4 237.8 L122.7 237.3 L123.1 234.6 L123.4 232.1 L123.8 230 L124.1 232.3 L124.4 233.4 L124.8 236.1 L125.1 237.3 L125.5 237.5 L125.8 237.5 L126.1 237.5 L126.5 238.8 L126.8 237.9 L127.2 237.1 L127.5 235.7 L127.8 236.7 L128.2 238.2 L128.5 238.1 L128.9 238.1 L129.2 238.2 L129.5 240 L129.9 240 L130.2 237.8 L130.6 236.6 L130.9 235.4 L131.2 233.1 L131.6 232.4 L131.9 231.8 L132.3 233.6 L132.6 236.1 L132.9 238.5 L133.3 238.5 L133.6 238.1 L134 238.3 L134.3 238.3 L134.6 239.1 L135 237.9 L135.3 236.6 L135.7 234.9 L136 235.7 L136.3 237.1 L136.7 239.8 L137 239.7 L137.4 240 L137.7 238.4 L138 238.5 L138.4 236.4 L138.7 238 L139.1 235.7 L139.4 233.7 L139.8 230.8 L140.1 231.4 L140.4 233.2 L140.8 236.9 L141.1 238.8 L141.4 238.8 L141.8 239.1 L142.1 239.2 L142.5 239.2 L142.8 237.2 L143.1 235.8 L143.5 235.2 L143.8 237.2 L144.2 238.3 L144.5 240 L144.8 239.7 L145.2 240 L145.5 240.1 L145.9 239.7 L146.2 237.8 L146.5 237.8 L146.9 237.9 L147.2 235 L147.6 233 L147.9 231.1 L148.2 233.1 L148.6 235.8 L148.9 237.5 L149.3 238.4 L149.6 238.2 L149.9 237.9 L150.3 238.2 L150.6 238.4 L151 238.8 L151.3 237.4 L151.7 236.7 L152 237.7 L152.3 238.7 L152.7 239.9 L153 240.5 L153.3 240.5 L153.7 240.7 L154 239.5 L154.4 237.5 L154.7 237.4 L155.1 236.2 L155.4 233.5 L155.7 231.1 L156.1 230.8 L156.4 233.5 L156.8 236.1 L157.1 238 L157.4 237.9 L157.8 238.1 L158.1 239.5 L158.4 239.6 L158.8 239.7 L159.1 237 L159.5 236.2 L159.8 235.9 L160.2 238.5 L160.5 239.6 L160.8 240.2 L161.2 238.8 L161.5 238.8 L161.8 239.1 L162.2 239 L162.5 236.9 L162.9 237 L163.2 235.4 L163.6 233.1 L163.9 231.1 L164.2 231.6 L164.6 234.5 L164.9 237.1 L165.2 238.2 L165.6 238.2 L165.9 238.1 L166.3 239.9 L166.6 240.1 L166.9 239.6 L167.3 237.2 L167.6 236.2 L168 236.7 L168.3 239.1 L168.7 240.4 L169 240.4 L169.3 240.8 L169.7 241 L170 240.7 L170.3 237.2 L170.7 237.3 L171 236.7 L171.4 235 L171.7 232.5 L172.1 230.6 L172.4 231.5 L172.7 234.3 L173.1 237.3 L173.4 239.2 L173.8 239.4 L174.1 239.1 L174.4 239 L174.8 239.1 L175.1 238.4 L175.4 237.8 L175.8 237 L176.1 237.8 L176.5 239.7 L176.8 240.5 L177.2 241 L177.5 240.9 L177.8 241 L178.2 241.1 L178.5 237.3 L178.8 237.2 L179.2 235.6 L179.5 235 L179.9 232.5 L180.2 232.1 L180.6 234.5 L180.9 237.3 L181.2 240 L181.6 239.5 L181.9 239.8 L182.2 239.8 L182.6 238.5 L182.9 238.7 L183.3 237.4 L183.6 238.2 L183.9 238 L184.3 239.4 L184.6 240.6 L185 241.4 L185.3 241.1 L185.7 241.9 L186 241.6 L186.3 241.7 L186.7 237.9 L187 238 L187.3 234.7 L187.7 231.9 L188 229.5 L188.4 230.9 L188.7 235.2 L189.1 238.4 L189.4 240.1 L189.7 240.3 L190.1 240.8 L190.4 240.7 L190.8 240 L191.1 239.3 L191.4 238.1 L191.8 237 L192.1 237.6 L192.4 239.2 L192.8 241.3 L193.1 241.8 L193.5 241.7 L193.8 241.8 L194.2 242.1 L194.5 239.5 L194.8 239.7 L195.2 238.7 L195.5 236 L195.8 233.8 L196.2 232.2 L196.5 234.5 L196.9 237.1 L197.2 240.2 L197.6 240.6 L197.9 239.7 L198.2 239.7 L198.6 240 L198.9 241 L199.2 240.2 L199.6 239.1 L199.9 238.6 L200.3 240 L200.6 241 L200.9 241.9 L201.3 242.2 L201.6 242.3 L202 242.2 L202.3 242.6 L202.7 240.2 L203 238.7 L203.3 236.4 L203.7 233.9 L204 231.5 L204.3 231.6 L204.7 234.1 L205 236.6 L205.4 239.5 L205.7 239.8 L206.1 241.3 L206.4 241.1 L206.7 241.4 L207.1 241.7 L207.4 240.5 L207.8 239.5 L208.1 238.6 L208.4 239.8 L208.8 241.3 L209.1 242.3 L209.4 242.5 L209.8 242.7 L210.1 243.2 L210.5 243.3 L210.8 240.7 L211.2 240.7 L211.5 238 L211.8 235.8 L212.2 234 L212.5 235.5 L212.8 237.6 L213.2 240 L213.5 241.6 L213.9 241.5 L214.2 242.2 L214.6 242.2 L214.9 242.2 L215.2 241.7 L215.6 240.6 L215.9 239.8 L216.2 239.8 L216.6 241 L216.9 242.5 L217.3 242.8 L217.6 243.2 L217.9 243.1 L218.3 243.2 L218.6 240.9 L219 241 L219.3 240 L219.7 238 L220 235.6 L220.3 234.5 L220.7 236.4 L221 239.2 L221.3 241.4 L221.7 241.6 L222 242 L222.4 241.3 L222.7 241.8 L223.1 241.7 L223.4 240.2 L223.7 239.4 L224.1 238.4 L224.4 240.9 L224.8 242.2 L225.1 243.1 L225.4 241.9 L225.8 241.9 L226.1 241.9 L226.5 244 L226.8 241.8 L227.1 241.6 L227.5 239.7 L227.8 237.9 L228.2 236.4 L228.5 236.2 L228.8 238.2 L229.2 240.4 L229.5 241.1 L229.8 241.1 L230.2 241.5 L230.5 241.7 L230.9 242 L231.2 241.9 L231.6 240.8 L231.9 239.8 L232.2 239.9 L232.6 240.1 L232.9 241.7 L233.2 241.7 L233.6 243.8 L233.9 243.8 L234.3 243.8 L234.6 242 L235 242.1 L235.3 241.7 L235.6 238 L236 235.8 L236.3 234 L236.7 236.5 L237 239 L237.3 241.6 L237.7 243.2 L238 243.2 L238.3 243.2 L238.7 243.2 L239 243.4 L239.4 242.9 L239.7 241.8 L240.1 240.7 L240.4 241.6 L240.7 242 L241.1 243.4 L241.4 243.3 L241.8 245.3 L242.1 245.5 L242.4 245.5 L242.8 243.3 L243.1 243.4 L243.5 242.1 L243.8 238.7 L244.1 236.7 L244.5 235.7 L244.8 240 L245.2 242.5 L245.5 245.4 L245.8 245.4 L246.2 245.9 L246.5 245.8 L246.8 245.9 L247.2 246 L247.5 245 L247.9 242.9 L248.2 242.4 L248.6 243.8 L248.9 247.1 L249.2 248.3 L249.6 248.3 L249.9 248 L250.2 248.1 L250.6 248.3 L250.9 246.9 L251.3 246.9 L251.6 244.8 L252 242.4 L252.3 240.6 L252.6 241.4 L253 243.9 L253.3 246.1 L253.7 248.2 L254 247.4 L254.3 247.6 L254.7 247.5 L255 247.2 L255.3 247.4 L255.7 246 L256 246.4 L256.4 246.7 L256.7 248.3 L257.1 249.8 L257.4 250.1 L257.7 249.9 L258.1 250.7 L258.4 250.9 L258.8 248.5 L259.1 247.7 L259.4 247.3 L259.8 245.4 L260.1 245.7 L260.4 248.3 L260.8 265.6 L261.1 275.8 L261.5 287 L261.8 292 L262.1 293.7 L262.5 294.3 L262.8 295.1 L263.2 295.7 L263.5 296.6 L263.8 297.3 L264.2 298.7 L264.5 299.9 L264.9 301.2 L265.2 302.5 L265.6 303.8 L265.9 304.5 L266.2 305.5 L266.6 306.6 L266.9 307 L267.2 308.4 L267.6 309.2 L267.9 309.5 L268.3 310.3 L268.6 311.3 L268.9 313 L269.3 314.1 L269.6 316 L270 314.1 L270.3 308.8 L270.6 304.2 L271 299.7 L271.3 295.2 L271.7 293.6 L272 291.6 L272.3 290 L272.7 287.7 L273 287.6 L273.4 286.6 L273.7 285.1 L274.1 283.7 L274.4 284.3 L274.7 284.3 L275.1 282.3 L275.4 282.1 L275.8 279.9 L276.1 277.9 L276.4 276.3 L276.8 277 L277.1 279.8 L277.4 280.5 L277.8 282.4 L278.1 282.7 L278.5 284.1 L278.8 284.1 L279.2 284.1 L279.5 283.9 L279.8 282.5 L280.2 281.3 L280.5 280.9 L280.9 282.2 L281.2 283.7 L281.5 282.7 L281.9 282.9 L282.2 282.8 L282.6 283.8 L282.9 281.1 L283.2 281.4 L283.6 281.1 L283.9 279 L284.2 276.7 L284.6 274.8 L284.9 278 L285.3 281 L285.6 282.9 L285.9 284.4 L286.3 284.7 L286.6 286.2 L287 286.4 L287.3 287.3 L287.7 286.2 L288 285.2 L288.3 284.5 L288.7 286.6 L289 288.4 L289.4 290 L289.7 289.2 L290 289.8 L290.4 290.1 L290.7 291.5 L291.1 289.3 L291.4 289.6 L291.7 286.3 L292.1 283.8 L292.4 281.5 L292.8 280.9 L293.1 284 L293.4 287.1 L293.8 291 L294.1 291.4 L294.4 291.6 L294.8 293 L295.1 293.2 L295.5 293.4 L295.8 292.3 L296.2 291.7 L296.5 291.2 L296.8 292.9 L297.2 294.8 L297.5 295.7 L297.9 295.6 L298.2 295.9 L298.5 296.2 L298.9 295.8 L299.2 293.4 L299.6 293.7 L299.9 292.8 L300.2 291.1 L300.6 289.4 L300.9 290.5 L301.2 292.9 L301.6 295.4 L301.9 296.4 L302.3 296.7 L302.6 296.6 L302.9 296.9 L303.3 297.3 L303.6 297.1 L304 296.9 L304.3 295.9 L304.7 296.3 L305 297.5 L305.3 299.4 L305.7 299.9 L306 300.3 L306.4 300.7 L306.7 300.7 L307 298.4 L307.4 298.6 L307.7 297.5 L308.1 293.1 L308.4 290.6 L308.7 288.5 L309.1 293.1 L309.4 296.4 L309.8 299.7 L310.1 301.1 L310.4 301.3 L310.8 301.5 L311.1 300.8 L311.4 300.9 L311.8 300 L312.1 299.8 L312.5 299 L312.8 300.4 L313.2 302.5 L313.5 304.1 L313.8 304.2 L314.2 304.3 L314.5 304.4 L314.9 304.4 L315.2 302.5 L315.5 302.5 L315.9 300 L316.2 297.4 L316.6 294.7 L316.9 294.5 L317.2 297.1 L317.6 300.3 L317.9 303.6 L318.2 304.1 L318.6 304.2 L318.9 304.5 L319.3 303.5 L319.6 303.5 L319.9 302.1 L320.3 300.7 L320.6 300.7 L321 301.9 L321.3 305.3 L321.7 306 L322 306.2 L322.3 306.3 L322.7 306.1 L323 306.3 L323.4 303.8 L323.7 303.9 L324 301.1 L324.4 298.6 L324.7 296.6 L325.1 297.6 L325.4 300.5 L325.7 303.1 L326.1 304.6 L326.4 305 L326.8 305.2 L327.1 305.3 L327.4 305 L327.8 304.7 L328.1 303.2 L328.4 301.1 L328.8 301.4 L329.1 303.1 L329.5 305.6 L329.8 305.5 L330.2 305.8 L330.5 305.3 L330.8 305.3 L331.2 302.7 L331.5 302.4 L331.9 300.9 L332.2 297.9 L332.5 294.6 L332.9 292.8 L333.2 295.4 L333.6 297.6 L333.9 300.9 L334.2 301.5 L334.6 301.5 L334.9 301.5 L335.2 301.4 L335.6 300.6 L335.9 299.2 L336.3 297.8 L336.6 297.2 L336.9 298.4 L337.3 299.3 L337.6 298.4 L338 298 L338.3 297.6 L338.7 298.7 L339 298.4 L339.3 295.7 L339.7 294 L340 291.6 L340.4 289.1 L340.7 287.8 L341 287.6 L341.4 289.6 L341.7 291 L342.1 293.1 L342.4 292.6 L342.7 292.8 L343.1 292.4 L343.4 292.5 L343.8 292 L344.1 289.9 L344.4 288.8 L344.8 287.5 L345.1 288.4 L345.4 289.5 L345.8 290.9 L346.1 290.6 L346.5 290.5 L346.8 289 L347.2 288.5 L347.5 285.7 L347.8 285.6 L348.2 282.7 L348.5 280.2 L348.9 278 L349.2 279.1 L349.5 281.4 L349.9 283 L350.2 284.1 L350.6 284 L350.9 283.7 L351.2 283.4 L351.6 282.9 L351.9 281.9 L352.2 280.6 L352.6 279.1 L352.9 277.8 L353.3 278.7 L353.6 279.5 L353.9 280.7 L354.3 280.1 L354.6 280.1 L355 277.8 L355.3 275.2 L355.7 275.1 L356 274.7 L356.3 272 L356.7 269.6 L357 269 L357.4 270.5 L357.7 272.6 L358 272.9 L358.4 272.5 L358.7 272.4 L359.1 272.9 L359.4 272.8 L359.7 272.6 L360.1 272.1 L360.4 270.5 L360.8 269.8 L361.1 270.1 L361.4 271.1 L361.8 271.5 L362.1 271.5 L362.4 271.2 L362.8 271.2 L363.1 270.9 L363.5 268 L363.8 267.8 L364.2 264.2 L364.5 261.8 L364.8 259.5 L365.2 260.3 L365.5 262.1 L365.9 264.1 L366.2 264.5 L366.5 264.8 L366.9 264.3 L367.2 263.8 L367.6 263.7 L367.9 263.6 L368.2 263.8 L368.6 262.8 L368.9 262.4 L369.2 263.6 L369.6 264.5 L369.9 264.6 L370.3 264.3 L370.6 264 L370.9 264 L371.3 259.8 L371.6 259.6 L372 259.1 L372.3 257.1 L372.7 254.6 L373 252 L373.3 252.3 L373.7 254.5 L374 257.1 L374.4 258.8 L374.7 258.5 L375 258.7 L375.4 258.7 L375.7 258.7 L376.1 257.4 L376.4 255.5 L376.7 254.1 L377.1 254.8 L377.4 257.5 L377.8 258.4 L378.1 258 L378.4 257.9 L378.8 257.9 L379.1 257.6 L379.4 255.3 L379.8 254.9 L380.1 253.2 L380.5 250.5 L380.8 248.3 L381.2 247.3 L381.5 247.7 L381.8 250.2 L382.2 253 L382.5 254.6 L382.9 254.7 L383.2 254.5 L383.5 254.4 L383.9 254.1 L384.2 252.8 L384.6 251.4 L384.9 250.7 L385.2 251.9 L385.6 252.1 L385.9 252.4 L386.2 252.5 L386.6 253.5 L386.9 253.3 L387.3 253.3 L387.6 250.6 L387.9 250.4 L388.3 247.6 L388.6 244.7 L389 242 L389.3 242.6 L389.7 244.9 L390 247.9 L390.3 250 L390.7 250.4 L391 249.9 L391.4 250.2 L391.7 249.1 L392 249.1 L392.4 247.5 L392.7 246.1 L393.1 245.9 L393.4 247 L393.7 248.6 L394.1 249.1 L394.4 248.7 L394.8 248.5 L395.1 248.2 L395.4 246.3 L395.8 245 L396.1 244.1 L396.4 241 L396.8 240.5 L397.1 238.2 L397.5 240.2 L397.8 241.8 L398.2 244.6 L398.5 245.8 L398.8 246.5 L399.2 246.5 L399.5 246.2 L399.9 245.6 L400.2 244.7 L400.5 243.4 L400.9 243.5 L401.2 244.4 L401.6 245.2 L401.9 245 L402.2 245.3 L402.6 245 L402.9 246.5 L403.2 246.1 L403.6 243.8 L403.9 244.5 L404.3 242.7 L404.6 240.3 L404.9 236.9 L405.3 236.5 L405.6 238.7 L406 241.7 L406.3 244.9 L406.7 244.6 L407 244 L407.3 244.3 L407.7 244.1 L408 244.4 L408.4 243.2 L408.7 242.3 L409 241.7 L409.4 242.9 L409.7 244.3 L410.1 244.8 L410.4 244.8 L410.7 245.1 L411.1 244.3 L411.4 244.5 L411.8 241.9 L412.1 241.7 L412.4 239.1 L412.8 236.3 L413.1 233.1 L413.4 233.4 L413.8 236.1 L414.1 240.7 L414.5 242.9 L414.8 243.3 L415.2 242.8 L415.5 242.9 L415.8 243.1 L416.2 243.2 L416.5 241.7 L416.9 241 L417.2 239.7 L417.5 240.9 L417.9 242.5 L418.2 244.4 L418.6 244.4 L418.9 244.5 L419.2 244.9 L419.6 242.6 L419.9 242.7 L420.2 239.8 L420.6 237.2 L420.9 235.3 L421.3 233.1 L421.6 235.6 L422 237.9 L422.3 242.1 L422.6 243.4 L423 243.1 L423.3 242.6 L423.7 242.7 L424 243 L424.3 243 L424.7 241.9 L425 241.1 L425.4 242.4 L425.7 243.4 L426 244.4 L426.4 242.7 L426.7 243.1 L427.1 242.9 L427.4 245 L427.7 242.7 L428.1 242.7 L428.4 240.7 L428.8 238.7 L429.1 236.9 L429.4 236.2 L429.8 238.2 L430.1 240.9 L430.5 243.1 L430.8 243.6 L431.1 243.5 L431.5 244.1 L431.8 244.3 L432.2 244 L432.5 243.1 L432.8 242 L433.2 241.9 L433.5 242.4 L433.9 244 L434.2 244.6 L434.5 244.6 L434.9 244.9 L435.2 245.3 L435.6 245.1 L435.9 243 L436.2 242.8 L436.6 241.3 L436.9 239.1 L437.2 237.3 L437.6 238.3 L437.9 240.9 L438.3 243.5 L438.6 244.4 L439 244.5 L439.3 244.6 L439.6 245.1 L440 245.3 L440.3 245.1 L440.7 243.6 L441 242.5 L441.3 243.3 L441.7 244.8 L442 246.4 L442.4 246.5 L442.7 246.9 L443 247.2 L443.4 247.7 L443.7 245.5 L444.1 245.5 L444.4 244.8 L444.7 242.9 L445.1 240.9 L445.4 239.6 L445.8 240.4 L446.1 242.4 L446.4 245 L446.8 246.8 L447.1 247.1 L447.5 247.1 L447.8 247.2 L448.1 247.2 L448.5 246.5 L448.8 245.3 L449.2 244.4 L449.5 245.6 L449.8 247.4 L450.2 248.5 L450.5 248.9 L450.9 248.8 L451.2 249.3 L451.5 249.2 L451.9 247.1 L452.2 247.2 L452.6 245.3 L452.9 243.2 L453.2 240.7 L453.6 240.5 L453.9 243.3 L454.2 245.6 L454.6 248.5 L454.9 248.7 L455.3 248.4 L455.6 249 L456 249.2 L456.3 249.2 L456.6 248.4 L457 246.9 L457.3 246.6 L457.7 248.2 L458 248.1 L458.3 248.5 L458.7 248.8 L459 250.8 L459.4 250.8 L459.7 251.5 L460 247.7 L460.4 247.8 L460.7 245.4 L461.1 244.7 L461.4 242.9 L461.7 244.2 L462.1 246.6 L462.4 248.9 L462.8 250.2 L463.1 250.3 L463.4 250.3 L463.8 250.4 L464.1 250.7 L464.5 249.9 L464.8 248.9 L465.1 247.8 L465.5 248.5 L465.8 249.8 L466.2 251.1 L466.5 251 L466.8 251 L467.2 251.8 L467.5 251.9 L467.9 249.2 L468.2 249.8 L468.5 248.3 L468.9 245.4 L469.2 242.9 L469.6 241.5 L469.9 243.9 L470.2 247.2 L470.6 250.5 L470.9 250.8 L471.2 250.8 L471.6 251.1 L471.9 251 L472.3 250.9 L472.6 249.8 L473 248.8 L473.3 248.5 L473.6 249.7 L474 251.3 L474.3 251.8 L474.7 252.1 L475 252.2 L475.3 252.6 L475.7 252.7 L476 250.3 L476.4 249.2 L476.7 247.7 L477 245.8 L477.4 243.9 L477.7 243.9 L478.1 245.6 L478.4 249.3 L478.7 251.1 L479.1 251.6 L479.4 251.6 L479.8 251.6 L480.1 251.9 L480.4 251.6 L480.8 250.6 L481.1 249.6 L481.5 249.9 L481.8 250.8 L482.1 252.3 L482.5 252.5 L482.8 252.9 L483.2 252.9 L483.5 252.7 L483.8 253 L484.2 250.7 L484.5 250 L484.9 247 L485.2 244.7 L485.5 243.1 L485.9 244.7 L486.2 247.1 L486.6 250.2 L486.9 251.8 L487.2 252 L487.6 250.4 L487.9 250.4 L488.2 250.6 L488.6 251.8 L488.9 250.7 L489.3 249.6 L489.6 250.5 L490 251.5 L490.3 252.8 L490.6 253.4 L491 253.4 L491.3 253.7 L491.7 253 L492 250.5 L492.3 251.1 L492.7 249.8 L493 247.1 L493.4 244.7 L493.7 242.9 L494 245.1 L494.4 248.3 L494.7 252.1 L495.1 252.2 L495.4 252.4 L495.7 252.3 L496.1 252.3 L496.4 252.3 L496.8 251.3 L497.1 250.5 L497.4 249.5 L497.8 250.1 L498.1 251.4 L498.5 252.7 L498.8 252 L499.1 252.4 L499.5 252.4 L499.8 252.7 L500.2 250.7 L500.5 250.5 L500.8 249.9 L501.2 248 L501.5 246.2 L501.9 246 L502.2 248 L502.5 249.9 L502.9 252.4 L503.2 252.2 L503.6 252.5 L503.9 252.4 L504.2 252.6 L504.6 252.4 L504.9 251.5 L505.2 250.4 L505.6 250.3 L505.9 251.7 L506.3 252.9 L506.6 253.6 L507 251.6 L507.3 251.6 L507.6 251.9 L508 250.9 L508.3 251.1 L508.7 250.8 L509 249 L509.3 247 L509.7 245.8 L510 246.7 L510.4 248.8 L510.7 250.7 L511 251.1 L511.4 251.4 L511.7 251.2 L512 252.2 L512.4 252 L512.7 251.7 L513.1 249.9 L513.4 249 L513.8 250 L514.1 250 L514.4 251.1 L514.8 251.3 L515.1 253 L515.5 253.2 L515.8 253.2 L516.1 250 L516.5 250.2 L516.8 248.5 L517.1 245.9 L517.5 244 L517.8 242.9 L518.2 246.3 L518.5 248.5 L518.9 251.3 L519.2 249.8 L519.5 249.9 L519.9 250 L520.2 250.4 L520.5 250.5 L520.9 249.5 L521.2 250.2 L521.6 249.4 L521.9 250.4 L522.2 250 L522.6 250.8 L522.9 250.8 L523.3 252.9 L523.6 253.3 L524 253.4 L524.3 250.5 L524.6 250.5 L525 247.9 L525.3 245.6 L525.6 243.1 L526 244 L526.3 246.4 L526.7 249.1 L527 251.3 L527.4 251.7 L527.7 251.7 L528 251.5 L528.4 251.9 L528.7 251.4 L529 250.6 L529.4 249.6 L529.7 249.8 L530.1 250.7 L530.4 251.2 L530.8 251.7 L531.1 251.8 L531.4 252.7 L531.8 252.6 L532.1 250.5 L532.5 248.8 L532.8 247.8 L533.1 245.2 L533.5 242.2 L533.8 240.2 L534.1 242.2 L534.5 247 L534.8 250 L535.2 251.3 L535.5 251.2 L535.9 251.4 L536.2 251.3 L536.5 250.5 L536.9 249.7 L537.2 248.9 L537.5 248.4 L537.9 249.5 L538.2 250.5 L538.6 251.4 L538.9 251.3 L539.2 251.2 L539.6 250.6 L539.9 250.9 L540.3 248.5 L540.6 248.6 L540.9 246.9 L541.3 244.3 L541.6 242.4 L542 241.5 L542.3 243.7 L542.6 247.8 L543 250.8 L543.3 251 L543.7 251 L544 251.3 L544.4 251.3 L544.7 250.8 L545 249.6 L545.4 249 L545.7 247.9 L546 249.1 L546.4 250 L546.7 249.7 L547.1 250.1 L547.4 250 L547.8 251.7 L548.1 251.8 L548.4 249.8 L548.8 249.9 L549.1 246.9 L549.4 244.7 L549.8 241.7 L550.1 242.4 L550.5 244.8 L550.8 247.5 L551.1 249.9 L551.5 250 L551.8 250.4 L552.2 250.4 L552.5 250.1 L552.9 249.5 L553.2 248.3 L553.5 247.6 L553.9 246.4 L554.2 247.7 L554.5 249.1 L554.9 251.2 L555.2 251.7 L555.6 251.4 L555.9 251.2 L556.2 248.8 L556.6 249.1 L556.9 247.6 L557.3 245.2 L557.6 242.7 L557.9 241.2 L558.3 243.5 L558.6 246 L559 248.8 L559.3 250 L559.6 249.8 L560 250.4 L560.3 250.5 L560.7 250.3 L561 248.4 L561.4 247.2 L561.7 246.3 L562 247.9 L562.4 248.9 L562.7 249.9 L563 249.5 L563.4 249.7 L563.7 250.1 L564.1 250.3 L564.4 248.1 L564.8 248.1 L565.1 247.2 L565.4 244.7 L565.8 242.8 L566.1 242.1 L566.4 244.3 L566.8 246.9 L567.1 248.2 L567.5 248 L567.8 248.5 L568.1 249.7 L568.5 249.4 L568.8 249.9 L569.2 248.2 L569.5 247.3 L569.9 247 L570.2 247.6 L570.5 248.5 L570.9 249.4 L571.2 249.6 L571.5 249.8 L571.9 249.9 L572.2 251 L572.6 248.6 L572.9 248.4 L573.2 245.7 L573.6 244 L573.9 242.2 L574.3 243.1 L574.6 245.3 L574.9 247.1 L575.3 248.7 L575.6 249 L576 248.9 L576.3 248.7 L576.6 248.6 L577 248.1 L577.3 245.9 L577.7 245 L578 245.3 L578.4 247.3 L578.7 248.5 L579 248.7 L579.4 248.1 L579.7 248.4 L580 248.4 L580.4 247.8 L580.7 248 L581.1 247.1 L581.4 244.8 L581.8 242.6 L582.1 240.7 L582.4 242.8 L582.8 244.8 L583.1 247.7 L583.4 247.6 L583.8 247.6 L584.1 248 L584.5 248.6 L584.8 249 L585.1 248 L585.5 245.6 L585.8 244.7 L586.2 246 L586.5 248.6 L586.9 249.5 L587.2 249.9 L587.5 249.5 L587.9 249.6 L588.2 250.1 L588.5 247.7 L588.9 247.7 L589.2 245.9 L589.6 242.8 L589.9 240.8 L590.2 240.5 L590.6 242.3 L590.9 244.8 L591.3 247.2 L591.6 247.5 L591.9 247.4 L592.3 247.6 L592.6 248.7 L593 248.5 L593.3 247.3 L593.6 246.3 L594 246.3 L594.3 247.2 L594.7 247.7 L595 248.5 L595.4 248.6 L595.7 249.2 L596 249.4 L596.4 249.5 L596.7 247.6 L597 247.8 L597.4 245.4 L597.7 242.4 L598.1 240.6 L598.4 242 L598.8 244.4 L599.1 246.8 L599.4 248.3 L599.8 248 L600.1 248.2 L600.4 248 L600.8 248.5 L601.1 247.7 L601.5 246.8 L601.8 244.5 L602.1 244.7 L602.5 246 L602.8 248.4 L603.2 248.6 L603.5 248.7 L603.9 249.1 L604.2 249.3 L604.5 246.8 L604.9 246.9 L605.2 245.6 L605.5 243.2 L605.9 241.1 L606.2 239.7 L606.6 241.5 L606.9 244.5 L607.2 247.3 L607.6 247.5 L607.9 248.2 L608.3 248.3 L608.6 248.1 L608.9 246.2 L609.3 245.3 L609.6 244.5 L610 243.8 L610.3 245 L610.6 246.6 L611 248.6 L611.3 248.9 L611.7 248.9 L612 249 L612.4 249.1 L612.7 247 L613 246.1 L613.4 244 L613.7 241.1 L614 239.4 L614.4 239.6 L614.7 242.1 L615.1 245.1 L615.4 247.8 L615.8 247.8 L616.1 248.1 L616.4 248.2 L616.8 248.5 L617.1 247.9 L617.4 246.8 L617.8 246 L618.1 245.9 L618.5 246.8 L618.8 248.1 L619.1 248.9 L619.5 248.7 L619.8 248.8 L620.2 247.5 L620.5 247.6 L620.9 245.6 L621.2 246.9 L621.5 243.5 L621.9 240.8 L622.2 236.8 L622.5 238.2 L622.9 241.1 L623.2 246.1 L623.6 247.7 L623.9 248.1 L624.2 247.9 L624.6 248.1 L624.9 248.1 L625.3 246.5 L625.6 245.5 L625.9 244.6 L626.3 246.4 L626.6 247.8 L627 248.8 L627.3 248.3 L627.6 248.5 L628 248.6 L628.3 249.1 L628.7 247 L629 246.9 L629.4 244.9 L629.7 242.2 L630 240 L630.4 239.1 L630.7 241.7 L631 243.9 L631.4 247.6 L631.7 247.8 L632.1 247.9 L632.4 247.9 L632.8 247.9 L633.1 247.8 L633.4 246 L633.8 244.9 L634.1 244.3 L634.4 246.6 L634.8 247.8 L635.1 248.7 L635.5 247.6 L635.8 247.7 L636.1 248.2 L636.5 248.3 L636.8 246.2 L637.2 246.4 L637.5 244.2 L637.9 241.6 L638.2 239.5 L638.5 240.3 L638.9 242.7 L639.2 245.4 L639.5 247.5 L639.9 247.8 L640.2 247.7 L640.6 248.3 L640.9 248.2 L641.2 248.1 L641.6 246.6 L641.9 245.5 L642.3 245.5 L642.6 247.1 L642.9 248.2 L643.3 248.8 L643.6 248.5 L644 248.7 L644.3 248.8 L644.6 245.5 L645 245.6 L645.3 245.3 L645.7 244.5 L646 242.4 L646.4 240.6 L646.7 240.5 L647 243 L647.4 245 L647.7 247.7 L648 247.9 L648.4 248 L648.7 248.2 L649.1 248.6 L649.4 247.8 L649.8 246.1 L650.1 245.4 L650.4 246 L650.8 247.5 L651.1 248.7 L651.4 248.6 L651.8 249.2 L652.1 249.2 L652.5 249 L652.8 245.9 L653.1 246.3 L653.5 244.8 L653.8 243.6 L654.2 241.4 L654.5 240.5 L654.9 240.9 L655.2 243.5 L655.5 246.3 L655.9 247.4 L656.2 247.7 L656.5 248 L656.9 246.9 L657.2 247.3 L657.6 246.2 L657.9 245.1 L658.2 244.9 L658.6 245.8 L658.9 247.8 L659.3 248.8 L659.6 248.9 L659.9 248.5 L660.3 248.3 L660.6 248.6 L661 247.1 L661.3 247.1 L661.6 244.7 L662 242.2 L662.3 240.4 L662.7 241 L663 242.5 L663.4 245.1 L663.7 247.3 L664 247.7 L664.4 247.9 L664.7 248.1 L665 248.3 L665.4 248.3 L665.7 247.1 L666.1 245.9 L666.4 246.2 L666.8 247.4 L667.1 247 L667.4 247.6 L667.8 247.3 L668.1 249.3 L668.4 249.3 L668.8 247.2 L669.1 247.2 L669.5 246.8 L669.8 244.2 L670.1 242.2 L670.5 240.2 L670.8 242.1 L671.2 244.4 L671.5 246.9 L671.9 248.4 L672.2 248 L672.5 247.8 L672.9 248 L673.2 247.2 L673.5 246.5 L673.9 245.6 L674.2 245.6 L674.6 246.7 L674.9 247.8 L675.2 248.3 L675.6 248.7 L675.9 248.5 L676.3 249.3 L676.6 249.3 L676.9 246.8 L677.3 247.3 L677.6 245.9 L678 243.9 L678.3 241.9 L678.6 241.4 L679 243.2 L679.3 243.8 L679.7 246 L680 246.4 L680.4 248 L680.7 248.4 L681 248.3 L681.4 248.8 L681.7 247.3 L682 246.6 L682.4 245.2 L682.7 246.3 L683.1 247.5 L683.4 248.9 L683.8 249 L684.1 249.2 L684.4 248 L684.8 248.1 L685.1 246 L685.4 247.2 L685.8 244.5 L686.1 242 L686.5 239.8 L686.8 240.6 L687.1 243 L687.5 245.6 L687.8 247.8 L688.2 248.2 L688.5 247.8 L688.9 247.8 L689.2 247.9 L689.5 247 L689.9 246.1 L690.2 244.7 L690.5 246.5 L690.9 247.7 L691.2 249.1 L691.6 249.5 L691.9 249.4 L692.2 249.7 L692.6 249.5 L692.9 247.2 L693.3 247 L693.6 246.8 L693.9 244.5 L694.3 242.3 L694.6 239.8 L695 242 L695.3 244.3 L695.6 245.8 L696 246.8 L696.3 247 L696.7 247.7 L697 247.8 L697.4 247.7 L697.7 247.5 L698 246.5 L698.4 245.5 L698.7 245.5 L699 247.1 L699.4 248 L699.7 248.4 L700.1 248.9 L700.4 248.8 L700.8 249.4 L701.1 247.5 L701.4 247.4 L701.8 245.7 L702.1 243 L702.4 240.5 L702.8 240.2 L703.1 243 L703.5 245.5 L703.8 248.1 L704.1 248.4 L704.5 248.6 L704.8 248.9 L705.2 248.6 L705.5 249.1 L705.9 245.8 L706.2 244.4 L706.5 244.3 L706.9 245.6 L707.2 247 L707.5 247.6 L707.9 247.6 L708.2 247.8 L708.6 247.9 L708.9 249.2 L709.2 246.8 L709.6 247 L709.9 245.5 L710.3 243.4 L710.6 241.8 L710.9 242.3 L711.3 244.5 L711.6 246.6 L712 248.2 L712.3 248.2 L712.6 248.2 L713 248.3 L713.3 248.5 L713.7 248.2 L714 246.6 L714.4 246 L714.7 246.4 L715 247.6 L715.4 249.2 L715.7 249.4 L716 249.1 L716.4 249.1 L716.7 249.3 L717.1 247.2 L717.4 247.4 L717.8 246.1 L718.1 243.6 L718.4 240.9 L718.8 239.2 L719.1 241.7 L719.4 244.5 L719.8 247.4 L720.1 248.2 L720.5 248.3 L720.8 248.1 L721.1 248.4 L721.5 248.7 L721.8 247.9 L722.2 246.6 L722.5 245.7 L722.9 247.1 L723.2 246.8 L723.5 248.1 L723.9 248 L724.2 247.9 L724.5 248.3 L724.9 248.1 L725.2 247.5 L725.6 247.5 L725.9 245.1 L726.2 243.1 L726.6 240.4 L726.9 240.3 L727.3 242.4 L727.6 245.4 L727.9 248.3 L728.3 247.9 L728.6 248.3 L729 248.3 L729.3 248.2 L729.6 248.5 L730 247.3 L730.3 245.8 L730.7 245.4 L731 246.9 L731.4 248.8 L731.7 249.7 L732 249.5 L732.4 249.3 L732.7 249.4 L733 249.8 L733.4 247.3 L733.7 247.6 L734.1 245 L734.4 243.5 L734.8 241.9 L735.1 242.9 L735.4 244.8 L735.8 247 L736.1 248.2 L736.4 246.7 L736.8 246.9 L737.1 246.9 L737.5 248.8 L737.8 248.6 L738.1 247.3 L738.5 245.9 L738.8 246.7 L739.2 247.9 L739.5 249.6 L739.9 249.3 L740.2 249.8 L740.5 248.2 L740.9 248.4 L741.2 246.4 L741.5 246.3 L741.9 245.2 L742.2 241.9 L742.6 240.4 L742.9 238.4 L743.2 241.1 L743.6 244.6 L743.9 247.8 L744.3 248.6 L744.6 248.2 L744.9 248.7 L745.3 248.4 L745.6 248.3 L746 247.4 L746.3 246.5 L746.6 244.9 L747 246.1 L747.3 247.3 L747.7 248.4 L748 248.6 L748.4 248.7 L748.7 249.2 L749 249.4 L749.4 247.3 L749.7 247.4 L750 245.2 L750.4 242.8 L750.7 241.2 L751.1 241.4 L751.4 243.6 L751.8 244.3 L752.1 246.9 L752.4 246.8 L752.8 248.5 L753.1 248.5 L753.4 248.5 L753.8 246.9 L754.1 245.7 L754.5 244.4 L754.8 246.3 L755.1 247.8 L755.5 249 L755.8 249.4 L756.2 249.5 L756.5 249.8 L756.9 249.5 L757.2 249.7 L757.5 247.3 L757.9 247.3 L758.2 245.1 L758.5 242.9 L758.9 241.1 L759.2 242.2 L759.6 244.6 L759.9 246.9 L760.2 248.3 L760.6 248.4 L760.9 248.5 L761.3 248.7 L761.6 248.5 L761.9 248.1 L762.3 246.7 L762.6 245.9 L763 246.9 L763.3 248 L763.6 249.4 L764 249.1 L764.3 249.3 L764.7 249.3 L765 249.6 L765.4 247.8 L765.7 247.7 L766 246.3 L766.4 244.2 L766.7 242.2 L767 241.1 L767.4 243.1 L767.7 245.4 L768.1 247 L768.4 247.3 L768.8 247.4 L769.1 248.6 L769.4 248.9 L769.8 249 L770.1 247.2 L770.4 246.1 L770.8 245.6 L771.1 247.1 L771.5 248.5 L771.8 249.3 L772.1 249.3 L772.5 249.5 L772.8 249.6 L773.2 249.5 L773.5 247.2 L773.9 247.3 L774.2 245.4 L774.5 243.7 L774.9 241.7 L775.2 241.1 L775.5 242.9 L775.9 245.1 L776.2 246.4 L776.6 246.6 L776.9 246.7 L777.2 248.1 L777.6 248 L777.9 248 L778.3 247 L778.6 246.5 L778.9 246.1 L779.3 247.8 L779.6 249.4 L780 249.3 L780.3 249.6 L780.6 249.5 L781 249.8 L781.3 247.4 L781.7 247.7 L782 247 L782.4 245.2 L782.7 243.4 L783 241.6 L783.4 241.6 L783.7 243.8 L784 246 L784.4 247 L784.7 247.2 L785.1 247.2 L785.4 248.6 L785.8 248.7 L786.1 248 L786.4 247 L786.8 246.1 L787.1 246.8 L787.4 246.5 L787.8 247.6 L788.1 247.8 L788.5 249.6 L788.8 250 L789.1 250 L789.5 247.7 L789.8 247.5 L790.2 246.7 L790.5 244.8 L790.9 242.9 L791.2 242.2 L791.5 244 L791.9 246.1 L792.2 248.6 L792.5 248.1 L792.9 248.3 L793.2 248.2 L793.6 247.6 L793.9 247.9 L794.2 246.8 L794.6 244.5 L794.9 244.3 L795.3 245.6 L795.6 248.7 L795.9 249.6 L796.3 249.7 L796.6 248.3 L797 248.6 L797.3 248.5 L797.6 247.6 L798 247.6 L798.3 245.2 L798.7 243.1 L799 240.8 L799.4 241.2 L799.7 243.6 L800 246.3 L800.4 248.4 L800.7 248.4 L801 248.4 L801.4 248.8 L801.7 248.3 L802.1 248.4 L802.4 247.2 L802.8 246.3 L803.1 246.5 L803.1 258.7 L802.8 258.3 L802.4 258.3 L802.1 258.2 L801.7 257.9 L801.4 259.9 L801 260.5 L800.7 261.5 L800.4 259 L800 258.2 L799.7 257.1 L799.4 257.5 L799 257.4 L798.7 257.5 L798.3 261.5 L798 264.7 L797.6 267.8 L797.3 271.7 L797 268.5 L796.6 264.8 L796.3 261 L795.9 258.7 L795.6 258.9 L795.3 258.8 L794.9 258.3 L794.6 258.2 L794.2 258.5 L793.9 258.2 L793.6 258.3 L793.2 259 L792.9 259.4 L792.5 259.5 L792.2 258.7 L791.9 258.1 L791.5 257.4 L791.2 258.7 L790.9 258.3 L790.5 260.1 L790.2 263.7 L789.8 266.9 L789.5 269.7 L789.1 270.1 L788.8 266.5 L788.5 263 L788.1 260.9 L787.8 260.2 L787.4 260.3 L787.1 258.6 L786.8 258.7 L786.4 258.2 L786.1 258.2 L785.8 258.1 L785.4 258.7 L785.1 259 L784.7 259.7 L784.4 259.3 L784 259.2 L783.7 258.4 L783.4 258.3 L783 258.2 L782.7 257.9 L782.4 261.3 L782 264.5 L781.7 267.8 L781.3 271 L781 270.1 L780.6 266.6 L780.3 262.3 L780 259.1 L779.6 258.7 L779.3 258.8 L778.9 259 L778.6 258.8 L778.3 258.9 L777.9 257.8 L777.6 258.1 L777.2 258.2 L776.9 260.4 L776.6 260.8 L776.2 260.1 L775.9 259.2 L775.5 258.3 L775.2 258.6 L774.9 256.9 L774.5 257 L774.2 261.4 L773.9 265.4 L773.5 268.7 L773.2 272.1 L772.8 268.5 L772.5 265 L772.1 260.8 L771.8 258.3 L771.5 258.6 L771.1 258.4 L770.8 258.3 L770.4 257.9 L770.1 258.1 L769.8 257.9 L769.4 257.9 L769.1 258.8 L768.8 260.9 L768.4 260.6 L768.1 260.1 L767.7 258.2 L767.4 257.5 L767 257.4 L766.7 259 L766.4 260.6 L766 265.2 L765.7 267.1 L765.4 271 L765 272 L764.7 268.3 L764.3 264.3 L764 258.9 L763.6 258.6 L763.3 258.3 L763 258.2 L762.6 258.6 L762.3 258.1 L761.9 258.4 L761.6 257.8 L761.3 258.4 L760.9 258.8 L760.6 259.9 L760.2 259.6 L759.9 259.2 L759.6 258 L759.2 257.6 L758.9 257.4 L758.5 258.8 L758.2 261.4 L757.9 264.9 L757.5 265.8 L757.2 270.5 L756.9 268.1 L756.5 266.4 L756.2 263.5 L755.8 260.5 L755.5 260.4 L755.1 260.2 L754.8 259.9 L754.5 258.8 L754.1 258.3 L753.8 258.3 L753.4 259.4 L753.1 260.2 L752.8 260.4 L752.4 259.7 L752.1 258.8 L751.8 258.3 L751.4 257.7 L751.1 257.5 L750.7 257.2 L750.4 257.4 L750 261.8 L749.7 265.7 L749.4 269.3 L749 272.8 L748.7 269 L748.4 266.5 L748 262 L747.7 259.8 L747.3 258.9 L747 258.5 L746.6 258.6 L746.3 260.3 L746 260.1 L745.6 259.8 L745.3 260 L744.9 260.3 L744.6 261.3 L744.3 259.5 L743.9 258.7 L743.6 257.4 L743.2 257.6 L742.9 257.2 L742.6 257.1 L742.2 259.5 L741.9 263.4 L741.5 266.5 L741.2 269.3 L740.9 270.5 L740.5 266.8 L740.2 264 L739.9 259.5 L739.5 259.1 L739.2 258.4 L738.8 258.4 L738.5 258.6 L738.1 258.3 L737.8 258.1 L737.5 258.5 L737.1 258.6 L736.8 259.1 L736.4 259.8 L736.1 259.2 L735.8 258.4 L735.4 257.4 L735.1 257.2 L734.8 257.2 L734.4 257.3 L734.1 261 L733.7 264.7 L733.4 268.5 L733 273.5 L732.7 269.9 L732.4 266.2 L732 262.3 L731.7 258.8 L731.4 258.8 L731 258.6 L730.7 258.3 L730.3 258.3 L730 258.3 L729.6 257.9 L729.3 258 L729 258.6 L728.6 259.1 L728.3 259.7 L727.9 260 L727.6 259.1 L727.3 258.3 L726.9 257.4 L726.6 257.1 L726.2 257.7 L725.9 261.5 L725.6 264.5 L725.2 267.2 L724.9 271 L724.5 267.6 L724.2 264.3 L723.9 260.3 L723.5 259.4 L723.2 259.3 L722.9 258.5 L722.5 258 L722.2 258.1 L721.8 259.7 L721.5 259.9 L721.1 259.6 L720.8 258.6 L720.5 259.3 L720.1 259 L719.8 258.4 L719.4 257.6 L719.1 256.9 L718.8 257 L718.4 257.2 L718.1 259.3 L717.8 263.8 L717.4 267.5 L717.1 271.1 L716.7 272.3 L716.4 268.8 L716 264.8 L715.7 259.1 L715.4 258.9 L715 258.8 L714.7 258.1 L714.4 258.4 L714 258.1 L713.7 258.5 L713.3 258.4 L713 258.7 L712.6 258.7 L712.3 259.5 L712 259 L711.6 258.7 L711.3 258.3 L710.9 258 L710.6 257.2 L710.3 257 L709.9 261.4 L709.6 264.7 L709.2 268.3 L708.9 273.4 L708.6 270.3 L708.2 266.6 L707.9 261.9 L707.5 259.4 L707.2 259 L706.9 259.1 L706.5 258.4 L706.2 258.3 L705.9 258.2 L705.5 258.1 L705.2 257.7 L704.8 258.3 L704.5 260.6 L704.1 260.9 L703.8 260.1 L703.5 257.9 L703.1 257.1 L702.8 256.9 L702.4 257.5 L702.1 258.5 L701.8 262.2 L701.4 265.4 L701.1 268.9 L700.8 270.9 L700.4 267.6 L700.1 264.1 L699.7 259.5 L699.4 258.7 L699 258.7 L698.7 258.6 L698.4 258.4 L698 258.4 L697.7 258.2 L697.4 258 L697 258.4 L696.7 259.1 L696.3 260.1 L696 259.9 L695.6 259 L695.3 257.7 L695 257.2 L694.6 257.2 L694.3 257.2 L693.9 259.7 L693.6 264 L693.3 267.9 L692.9 271.5 L692.6 271.3 L692.2 267.3 L691.9 263.4 L691.6 258.7 L691.2 259.7 L690.9 259.5 L690.5 259.5 L690.2 259.5 L689.9 259.3 L689.5 259.1 L689.2 258.2 L688.9 258.5 L688.5 259.2 L688.2 259.4 L687.8 258.9 L687.5 257.9 L687.1 257.5 L686.8 257.6 L686.5 257.3 L686.1 256.9 L685.8 261 L685.4 264.9 L685.1 269.5 L684.8 273.9 L684.4 270.5 L684.1 266.8 L683.8 262.6 L683.4 260.3 L683.1 258.3 L682.7 258.1 L682.4 258.1 L682 258.6 L681.7 258.6 L681.4 258.4 L681 258.4 L680.7 259.2 L680.4 259.4 L680 259.6 L679.7 259 L679.3 257.9 L679 257.2 L678.6 257.1 L678.3 256.8 L678 258.2 L677.6 262 L677.3 264.9 L676.9 267.7 L676.6 269.5 L676.3 266.4 L675.9 264 L675.6 259.9 L675.2 259 L674.9 258.2 L674.6 258.2 L674.2 258.2 L673.9 258.9 L673.5 258.8 L673.2 258.3 L672.9 257.9 L672.5 258.4 L672.2 258.9 L671.9 258.8 L671.5 257.9 L671.2 257.1 L670.8 257.3 L670.5 257.2 L670.1 256.8 L669.8 259.8 L669.5 263.8 L669.1 267.2 L668.8 271 L668.4 270.3 L668.1 266.5 L667.8 262.5 L667.4 258.5 L667.1 258.7 L666.8 258.1 L666.4 258.1 L666.1 258.1 L665.7 259.2 L665.4 259.2 L665 259.4 L664.7 258.9 L664.4 259.2 L664 260 L663.7 258.8 L663.4 258 L663 256.8 L662.7 258.3 L662.3 258.1 L662 257.9 L661.6 260.7 L661.3 263.8 L661 266.5 L660.6 270.3 L660.3 266.8 L659.9 263.9 L659.6 262.1 L659.3 260 L658.9 259.8 L658.6 258.9 L658.2 258.5 L657.9 258.5 L657.6 259 L657.2 258.9 L656.9 258.9 L656.5 258.3 L656.2 259 L655.9 259.2 L655.5 258.5 L655.2 257.6 L654.9 256.9 L654.5 258.2 L654.2 258 L653.8 259.9 L653.5 263.4 L653.1 267 L652.8 271 L652.5 272.8 L652.1 269.1 L651.8 265 L651.4 260 L651.1 259.3 L650.8 259.3 L650.4 257.8 L650.1 258 L649.8 257.9 L649.4 257.6 L649.1 257.7 L648.7 257.6 L648.4 258.8 L648 259.3 L647.7 259 L647.4 257.9 L647 257.2 L646.7 256.7 L646.4 256.7 L646 256.9 L645.7 260.1 L645.3 264.3 L645 267.6 L644.6 271.3 L644.3 270.1 L644 266.4 L643.6 262.1 L643.3 258.4 L642.9 258 L642.6 258 L642.3 258.1 L641.9 258.1 L641.6 257.8 L641.2 258.4 L640.9 258.6 L640.6 259 L640.2 258.4 L639.9 259.3 L639.5 258.2 L639.2 258.9 L638.9 258 L638.5 258.1 L638.2 257.5 L637.9 257.5 L637.5 262.1 L637.2 264.7 L636.8 267.6 L636.5 271.4 L636.1 268.7 L635.8 265.3 L635.5 261.1 L635.1 258.4 L634.8 258.2 L634.4 258.3 L634.1 258 L633.8 257.9 L633.4 257.8 L633.1 257.4 L632.8 257.2 L632.4 258.1 L632.1 259.9 L631.7 260.1 L631.4 259.2 L631 257.9 L630.7 257.5 L630.4 257.2 L630 257.9 L629.7 260 L629.4 264.4 L629 266.6 L628.7 270.2 L628.3 271.1 L628 267.7 L627.6 263.6 L627.3 258.5 L627 258 L626.6 257.8 L626.3 258 L625.9 258.2 L625.6 258.1 L625.3 258.2 L624.9 257.2 L624.6 257.7 L624.2 258.2 L623.9 258.8 L623.6 258.6 L623.2 257.8 L622.9 257.7 L622.5 257.9 L622.2 257.6 L621.9 256.1 L621.5 259 L621.2 262.1 L620.9 265.1 L620.5 270.1 L620.2 267 L619.8 264.4 L619.5 261 L619.1 258.3 L618.8 257.9 L618.5 258.1 L618.1 257.8 L617.8 258.7 L617.4 258.2 L617.1 258.3 L616.8 257.6 L616.4 257.9 L616.1 258.4 L615.8 259 L615.4 258.2 L615.1 257.4 L614.7 256.7 L614.4 256.9 L614 256.9 L613.7 257.1 L613.4 261.9 L613 265.5 L612.7 269.3 L612.4 272.1 L612 268.7 L611.7 266.4 L611.3 262 L611 259.7 L610.6 260 L610.3 260 L610 259.7 L609.6 257.9 L609.3 257.8 L608.9 257.9 L608.6 258.3 L608.3 258.7 L607.9 259.8 L607.6 259.1 L607.2 258.2 L606.9 257.6 L606.6 257.7 L606.2 257.9 L605.9 257.7 L605.5 260 L605.2 264.2 L604.9 267.6 L604.5 271.2 L604.2 271.5 L603.9 268.1 L603.5 264.1 L603.2 259.6 L602.8 259.1 L602.5 258.9 L602.1 259.1 L601.8 259 L601.5 258.5 L601.1 258.1 L600.8 258 L600.4 258.7 L600.1 259.5 L599.8 260 L599.4 259.6 L599.1 258.6 L598.8 258 L598.4 257.4 L598.1 256.9 L597.7 256.8 L597.4 260 L597 262.9 L596.7 265.9 L596.4 270.1 L596 267.6 L595.7 264.4 L595.4 261.4 L595 259 L594.7 258.9 L594.3 259 L594 259.3 L593.6 258.8 L593.3 258.2 L593 258.2 L592.6 258.3 L592.3 259.4 L591.9 259.9 L591.6 260.7 L591.3 258.9 L590.9 258 L590.6 257.3 L590.2 257.5 L589.9 257.6 L589.6 258.2 L589.2 261.7 L588.9 264.9 L588.5 268.4 L588.2 272.5 L587.9 269.4 L587.5 265.8 L587.2 260.6 L586.9 259.1 L586.5 259 L586.2 259.4 L585.8 259.7 L585.5 259.7 L585.1 258.8 L584.8 258.5 L584.5 258.9 L584.1 259.6 L583.8 259.8 L583.4 259.9 L583.1 258.7 L582.8 257.9 L582.4 257.8 L582.1 258.5 L581.8 258.2 L581.4 261.1 L581.1 264.6 L580.7 267.9 L580.4 271.5 L580 273.2 L579.7 269.5 L579.4 265.5 L579 259.3 L578.7 258.7 L578.4 258.6 L578 259.4 L577.7 259.2 L577.3 259.1 L577 258.8 L576.6 258.9 L576.3 259.3 L576 259.7 L575.6 260.1 L575.3 259.6 L574.9 259 L574.6 258.4 L574.3 258.3 L573.9 258.8 L573.6 259 L573.2 262.9 L572.9 265.6 L572.6 269 L572.2 273.7 L571.9 270.3 L571.5 266.4 L571.2 262.5 L570.9 259.3 L570.5 259.6 L570.2 259 L569.9 260.7 L569.5 260.5 L569.2 260.4 L568.8 259.2 L568.5 259 L568.1 259.7 L567.8 261.1 L567.5 261.5 L567.1 260.8 L566.8 259.2 L566.4 258.9 L566.1 258.5 L565.8 259.2 L565.4 260 L565.1 264.3 L564.8 266.4 L564.4 270 L564.1 272 L563.7 269.7 L563.4 266.1 L563 261.7 L562.7 260 L562.4 259.6 L562 259.5 L561.7 260.5 L561.4 260.4 L561 260.1 L560.7 260 L560.3 259.7 L560 260.8 L559.6 260.7 L559.3 260.9 L559 260.1 L558.6 260.2 L558.3 260 L557.9 260 L557.6 259.1 L557.3 261.8 L556.9 265.7 L556.6 269.7 L556.2 273.1 L555.9 273 L555.6 268.5 L555.2 264.6 L554.9 260.9 L554.5 260.3 L554.2 260.1 L553.9 260.1 L553.5 260.1 L553.2 260.2 L552.9 259.7 L552.5 260 L552.2 260.3 L551.8 261.2 L551.5 261.9 L551.1 261 L550.8 260.6 L550.5 259.6 L550.1 259.8 L549.8 259.6 L549.4 259.2 L549.1 262.8 L548.8 265.9 L548.4 270 L548.1 274.2 L547.8 271.3 L547.4 268.1 L547.1 264.9 L546.7 262.4 L546.4 261 L546 260.9 L545.7 260.6 L545.4 262.1 L545 262.4 L544.7 261.8 L544.4 260.7 L544 261.4 L543.7 262.1 L543.3 264 L543 263.1 L542.6 262.4 L542.3 260 L542 259.6 L541.6 259.7 L541.3 262.8 L540.9 266.5 L540.6 270 L540.3 272.8 L539.9 274.9 L539.6 271.8 L539.2 266.3 L538.9 262.2 L538.6 261.5 L538.2 261.2 L537.9 261.3 L537.5 260.9 L537.2 262.9 L536.9 262.5 L536.5 262.4 L536.2 261.1 L535.9 261.7 L535.5 262.2 L535.2 261.9 L534.8 261.4 L534.5 260.3 L534.1 260.1 L533.8 260 L533.5 260.2 L533.1 264.6 L532.8 268.2 L532.5 271.6 L532.1 273.4 L531.8 273.2 L531.4 269.6 L531.1 265.3 L530.8 261.4 L530.4 261.4 L530.1 261.8 L529.7 261.7 L529.4 261.8 L529 263.1 L528.7 262.7 L528.4 262.6 L528 261.4 L527.7 262.4 L527.4 262.8 L527 262.1 L526.7 261.5 L526.3 260.8 L526 260.7 L525.6 260.2 L525.3 260.5 L525 264.2 L524.6 267.2 L524.3 270 L524 273.9 L523.6 270.7 L523.3 267.4 L522.9 264 L522.6 261.7 L522.2 261.9 L521.9 261.9 L521.6 261.7 L521.2 261.7 L520.9 262.8 L520.5 262.7 L520.2 262.4 L519.9 262.4 L519.5 262.7 L519.2 262.9 L518.9 262.9 L518.5 261.8 L518.2 261.2 L517.8 260.6 L517.5 260.5 L517.1 262.1 L516.8 266 L516.5 269.4 L516.1 272.6 L515.8 274 L515.5 270.5 L515.1 266.9 L514.8 264.5 L514.4 263.9 L514.1 263.8 L513.8 262.1 L513.4 262 L513.1 261.9 L512.7 261.8 L512.4 261.7 L512 262 L511.7 262.7 L511.4 263.2 L511 262.5 L510.7 262.5 L510.4 261.5 L510 261.7 L509.7 261 L509.3 260.6 L509 263.4 L508.7 267.2 L508.3 270.4 L508 273.2 L507.6 274.1 L507.3 270.9 L507 267.3 L506.6 262.6 L506.3 262.3 L505.9 262.4 L505.6 264.1 L505.2 264.1 L504.9 264 L504.6 261.9 L504.2 261.9 L503.9 262.5 L503.6 263.4 L503.2 263.8 L502.9 262.7 L502.5 262.8 L502.2 261.8 L501.9 261.9 L501.5 261.3 L501.2 260.9 L500.8 265.7 L500.5 270.1 L500.2 273.4 L499.8 276.8 L499.5 273.3 L499.1 269.3 L498.8 265.3 L498.5 262.7 L498.1 262.6 L497.8 262.3 L497.4 262.2 L497.1 262.1 L496.8 261.9 L496.4 262 L496.1 262 L495.7 262.3 L495.4 263.2 L495.1 263.2 L494.7 262.6 L494.4 261.8 L494 261.4 L493.7 261.4 L493.4 260.5 L493 262.6 L492.7 267 L492.3 270.6 L492 274.2 L491.7 275.1 L491.3 272.4 L491 268.5 L490.6 263.2 L490.3 263.8 L490 263.7 L489.6 263.5 L489.3 263.5 L488.9 263.2 L488.6 263.4 L488.2 262.2 L487.9 262.4 L487.6 263.3 L487.2 264.4 L486.9 263.8 L486.6 263.2 L486.2 261.4 L485.9 261.6 L485.5 261.2 L485.2 261.5 L484.9 264.8 L484.5 268.2 L484.2 270.5 L483.8 275.8 L483.5 272.6 L483.2 269.4 L482.8 265.7 L482.5 262.2 L482.1 262 L481.8 261.8 L481.5 261.9 L481.1 261.3 L480.8 261.3 L480.4 261.1 L480.1 262.8 L479.8 263.3 L479.4 264.1 L479.1 262.8 L478.7 262.3 L478.4 261 L478.1 260.5 L477.7 260.5 L477.4 260.1 L477 260.3 L476.7 264.5 L476.4 268.1 L476 272.9 L475.7 276 L475.3 272.5 L475 269 L474.7 264.3 L474.3 262.7 L474 262.3 L473.6 262.4 L473.3 262.4 L473 260.7 L472.6 260.3 L472.3 260.3 L471.9 260.9 L471.6 261.2 L471.2 261.9 L470.9 262.4 L470.6 261.4 L470.2 260.7 L469.9 261.3 L469.6 261 L469.2 261.3 L468.9 262.4 L468.5 266.1 L468.2 269.4 L467.9 271.3 L467.5 272.2 L467.2 268.6 L466.8 264.9 L466.5 261 L466.2 260.8 L465.8 261.6 L465.5 261.3 L465.1 261.2 L464.8 261 L464.5 260.5 L464.1 260.5 L463.8 260 L463.4 261 L463.1 261.1 L462.8 260.9 L462.4 259.7 L462.1 258.9 L461.7 258.9 L461.4 258.6 L461.1 258.7 L460.7 263.4 L460.4 266.7 L460 269.9 L459.7 273.7 L459.4 270.5 L459 266.6 L458.7 263.4 L458.3 260.3 L458 260.2 L457.7 259.6 L457.3 259.2 L457 259 L456.6 258.9 L456.3 258.7 L456 258.5 L455.6 258.6 L455.3 259.6 L454.9 259.6 L454.6 260 L454.2 259.2 L453.9 258.3 L453.6 257.5 L453.2 257.2 L452.9 258.2 L452.6 262.7 L452.2 266 L451.9 269.3 L451.5 271.2 L451.2 267.4 L450.9 263.9 L450.5 261.1 L450.2 259.3 L449.8 259.3 L449.5 259 L449.2 259 L448.8 258.9 L448.5 258.5 L448.1 258.6 L447.8 258.4 L447.5 258.5 L447.1 259.2 L446.8 258.8 L446.4 256.8 L446.1 256.1 L445.8 255.8 L445.4 255.6 L445.1 255.4 L444.7 257.3 L444.4 261.5 L444.1 264.8 L443.7 268.3 L443.4 267.8 L443 264.3 L442.7 260.4 L442.4 257 L442 256.6 L441.7 256.7 L441.3 256.2 L441 255.9 L440.7 255.8 L440.3 255.9 L440 255.6 L439.6 256 L439.3 257.5 L439 257.9 L438.6 257.3 L438.3 255 L437.9 253.9 L437.6 254 L437.2 255.7 L436.9 255.3 L436.6 258.7 L436.2 260.9 L435.9 263.9 L435.6 268 L435.2 264.8 L434.9 261.3 L434.5 257.5 L434.2 255.1 L433.9 255.3 L433.5 254.9 L433.2 254.3 L432.8 254.3 L432.5 254.1 L432.2 254.8 L431.8 254.8 L431.5 255.5 L431.1 254.8 L430.8 254.8 L430.5 254 L430.1 254.2 L429.8 253.6 L429.4 253.7 L429.1 252.7 L428.8 253.7 L428.4 257.8 L428.1 261.4 L427.7 265.1 L427.4 266.9 L427.1 264.8 L426.7 260.9 L426.4 256.5 L426 254.1 L425.7 253.7 L425.4 254 L425 253.5 L424.7 253.1 L424.3 253.2 L424 252.9 L423.7 253.4 L423.3 253.9 L423 256.3 L422.6 256.1 L422.3 255.1 L422 252.3 L421.6 251.9 L421.3 251.9 L420.9 251.9 L420.6 254.9 L420.2 258.8 L419.9 262.6 L419.6 266.2 L419.2 265.9 L418.9 261.6 L418.6 257.7 L418.2 253.2 L417.9 253.6 L417.5 253.3 L417.2 253.4 L416.9 253.7 L416.5 253.6 L416.2 253.5 L415.8 252.8 L415.5 253.4 L415.2 254 L414.8 256.2 L414.5 255.3 L414.1 254.6 L413.8 252.3 L413.4 252.1 L413.1 252 L412.8 252.1 L412.4 256.9 L412.1 260.7 L411.8 265.9 L411.4 270.2 L411.1 266.4 L410.7 261.4 L410.4 256.6 L410.1 254.3 L409.7 255.6 L409.4 255.9 L409 255.6 L408.7 254.3 L408.4 254 L408 254.3 L407.7 255.3 L407.3 256.1 L407 257 L406.7 256.4 L406.3 255.6 L406 254.5 L405.6 255.2 L405.3 255.4 L404.9 255.1 L404.6 255.5 L404.3 260.1 L403.9 264 L403.6 267.3 L403.2 269.6 L402.9 265.8 L402.6 262.3 L402.2 257.9 L401.9 257.2 L401.6 256.5 L401.2 256.6 L400.9 256.7 L400.5 256.1 L400.2 256.5 L399.9 256.2 L399.5 257.2 L399.2 258 L398.8 258.5 L398.5 258.9 L398.2 258.3 L397.8 257.3 L397.5 257.1 L397.1 257.1 L396.8 257.6 L396.4 258.5 L396.1 262.2 L395.8 265.3 L395.4 268.6 L395.1 268.4 L394.8 265.5 L394.4 262 L394.1 258.6 L393.7 258.8 L393.4 259.7 L393.1 260 L392.7 260.1 L392.4 258.9 L392 259 L391.7 259.1 L391.4 260.3 L391 260.8 L390.7 261.9 L390.3 260.9 L390 260.2 L389.7 259.4 L389.3 259.4 L389 259.4 L388.6 259.7 L388.3 264.7 L387.9 268.5 L387.6 272.3 L387.3 278 L386.9 274.6 L386.6 270.6 L386.2 264.9 L385.9 263.1 L385.6 262.9 L385.2 262.9 L384.9 262.7 L384.6 262.8 L384.2 263.2 L383.9 262.9 L383.5 263.1 L383.2 263.8 L382.9 264.8 L382.5 265.2 L382.2 264.9 L381.8 264.1 L381.5 263.7 L381.2 264 L380.8 264.2 L380.5 265.7 L380.1 270.8 L379.8 274.6 L379.4 278.5 L379.1 279.8 L378.8 276.7 L378.4 273.2 L378.1 267.8 L377.8 267.7 L377.4 267.7 L377.1 268.1 L376.7 268.5 L376.4 268.7 L376.1 269.5 L375.7 269.6 L375.4 270.1 L375 269.5 L374.7 270.3 L374.4 270.6 L374 270 L373.7 269.1 L373.3 269.4 L373 269.5 L372.7 269.7 L372.3 273 L372 276.9 L371.6 280.5 L371.3 283.4 L370.9 284.3 L370.6 281.2 L370.3 277.9 L369.9 273.3 L369.6 273.5 L369.2 274 L368.9 273.9 L368.6 274.2 L368.2 274.3 L367.9 274.9 L367.6 275 L367.2 275.6 L366.9 276.1 L366.5 277 L366.2 276.4 L365.9 275.8 L365.5 275.2 L365.2 275.3 L364.8 276.4 L364.5 276.4 L364.2 281.8 L363.8 285.4 L363.5 289.2 L363.1 293.4 L362.8 290.1 L362.4 286.8 L362.1 282.6 L361.8 280.7 L361.4 281.1 L361.1 281.1 L360.8 282.4 L360.4 282.3 L360.1 282.6 L359.7 282.5 L359.4 283 L359.1 283.9 L358.7 286.5 L358.4 286.8 L358 286.3 L357.7 284.3 L357.4 284.3 L357 284.3 L356.7 284.5 L356.3 286.3 L356 290.4 L355.7 293.7 L355.3 296.8 L355 298.7 L354.6 296.2 L354.3 293.3 L353.9 289.4 L353.6 290.1 L353.3 290 L352.9 290.6 L352.6 291.4 L352.2 291.6 L351.9 292.1 L351.6 292.5 L351.2 293 L350.9 294.2 L350.6 294.5 L350.2 294.6 L349.9 294.3 L349.5 294.5 L349.2 294.8 L348.9 295.4 L348.5 295.7 L348.2 299.6 L347.8 303.6 L347.5 306.3 L347.2 312.9 L346.8 309.5 L346.5 306.6 L346.1 302.9 L345.8 299.6 L345.4 300.3 L345.1 300.6 L344.8 300.9 L344.4 300.6 L344.1 301.2 L343.8 301.2 L343.4 301.2 L343.1 302.4 L342.7 303.6 L342.4 304.4 L342.1 303.9 L341.7 303.5 L341.4 303 L341 303.7 L340.7 303.6 L340.4 304.2 L340 310.4 L339.7 314.9 L339.3 319.6 L339 323.5 L338.7 319.3 L338.3 315.3 L338 310.5 L337.6 308.5 L337.3 309.6 L336.9 310 L336.6 309.9 L336.3 309.7 L335.9 310.1 L335.6 309.8 L335.2 309.8 L334.9 311.1 L334.6 312 L334.2 312 L333.9 311.5 L333.6 310.4 L333.2 310.5 L332.9 310.4 L332.5 310.8 L332.2 312.9 L331.9 317.2 L331.5 321.2 L331.2 326.9 L330.8 327.9 L330.5 324.5 L330.2 318.6 L329.8 313.9 L329.5 313.9 L329.1 315.5 L328.8 315.1 L328.4 315.4 L328.1 316 L327.8 315.6 L327.4 315.8 L327.1 314.5 L326.8 315.2 L326.4 315.5 L326.1 316.4 L325.7 315.6 L325.4 314.5 L325.1 314.3 L324.7 313.9 L324.4 314.1 L324 316.6 L323.7 320.9 L323.4 324 L323 331 L322.7 327.3 L322.3 323.3 L322 317.9 L321.7 314.7 L321.3 314.4 L321 314.3 L320.6 313.9 L320.3 313.6 L319.9 313.7 L319.6 313.6 L319.3 313.1 L318.9 313.8 L318.6 314.6 L318.2 314.9 L317.9 313.8 L317.6 313.1 L317.2 312.1 L316.9 311.9 L316.6 311.8 L316.2 312.4 L315.9 317.4 L315.5 322.1 L315.2 326 L314.9 329.8 L314.5 325.1 L314.2 320.5 L313.8 314.6 L313.5 312.2 L313.2 312.3 L312.8 312.3 L312.5 311.8 L312.1 311.4 L311.8 312 L311.4 311.8 L311.1 311.6 L310.8 311.5 L310.4 311.7 L310.1 311.6 L309.8 310.3 L309.4 309.1 L309.1 308.5 L308.7 308.2 L308.4 308 L308.1 310.8 L307.7 315.1 L307.4 319.1 L307 322.5 L306.7 324.6 L306.4 320.3 L306 315.4 L305.7 309.9 L305.3 309.9 L305 309.4 L304.7 309.3 L304.3 309.1 L304 309 L303.6 307 L303.3 307 L302.9 306.9 L302.6 308.9 L302.3 309.3 L301.9 308.6 L301.6 306.1 L301.2 304.9 L300.9 304.4 L300.6 304.8 L300.2 304.5 L299.9 308.6 L299.6 312.1 L299.2 315.7 L298.9 320.7 L298.5 317.2 L298.2 313 L297.9 307.9 L297.5 304.3 L297.2 304 L296.8 303.5 L296.5 303.4 L296.2 303 L295.8 302.5 L295.5 302.1 L295.1 302.1 L294.8 302.3 L294.4 303.3 L294.1 303.6 L293.8 302.4 L293.4 301 L293.1 300 L292.8 299.9 L292.4 299.3 L292.1 300.3 L291.7 304.5 L291.4 308.7 L291.1 312 L290.7 314.4 L290.4 310.3 L290 305.4 L289.7 299.8 L289.4 299.9 L289 299.3 L288.7 298.8 L288.3 297.3 L288 296.9 L287.7 296.4 L287.3 295.9 L287 295.4 L286.6 296.2 L286.3 297 L285.9 296.7 L285.6 295.3 L285.3 293 L284.9 292.4 L284.6 292 L284.2 293.1 L283.9 295.5 L283.6 299 L283.2 301.9 L282.9 305 L282.6 305.6 L282.2 300.6 L281.9 296.8 L281.5 292.8 L281.2 292.6 L280.9 292.5 L280.5 292.7 L280.2 292.6 L279.8 292.7 L279.5 292.7 L279.2 293.2 L278.8 294.2 L278.5 294.9 L278.1 296.3 L277.8 295.4 L277.4 294.7 L277.1 292.1 L276.8 292 L276.4 291.6 L276.1 291.1 L275.8 295.2 L275.4 299 L275.1 302.2 L274.7 307 L274.4 302.9 L274.1 299.4 L273.7 296.3 L273.4 295.2 L273 296.8 L272.7 298.3 L272.3 299.8 L272 302.3 L271.7 304 L271.3 305.7 L271 309.2 L270.6 314.5 L270.3 319.2 L270 323.6 L269.6 325.3 L269.3 323.6 L268.9 322.8 L268.6 321.7 L268.3 320.3 L267.9 319.2 L267.6 319.2 L267.2 319.1 L266.9 319 L266.6 318.5 L266.2 316.8 L265.9 314.5 L265.6 312.1 L265.2 310.7 L264.9 310.3 L264.5 308.9 L264.2 307.9 L263.8 307.3 L263.5 306.2 L263.2 305 L262.8 303.7 L262.5 303.4 L262.1 302.9 L261.8 302 L261.5 297.1 L261.1 286.3 L260.8 276 L260.4 265 L260.1 260.2 L259.8 262.6 L259.4 266.3 L259.1 269.1 L258.8 272.4 L258.4 271.7 L258.1 268 L257.7 263.9 L257.4 259.8 L257.1 259.8 L256.7 260.8 L256.4 260.3 L256 260.5 L255.7 260.2 L255.3 259.9 L255 259.7 L254.7 258.9 L254.3 259.7 L254 260 L253.7 258.9 L253.3 258.4 L253 257.2 L252.6 258.2 L252.3 258.1 L252 257.7 L251.6 261.5 L251.3 265.5 L250.9 268.8 L250.6 272.8 L250.2 269.1 L249.9 265 L249.6 260 L249.2 257.2 L248.9 256.8 L248.6 257 L248.2 256.8 L247.9 256.8 L247.5 256.4 L247.2 256.2 L246.8 255.8 L246.5 256.2 L246.2 256.8 L245.8 257 L245.5 257.2 L245.2 256 L244.8 255.4 L244.5 254.2 L244.1 253.5 L243.8 255.2 L243.5 259.8 L243.1 263 L242.8 266.3 L242.4 266.2 L242.1 262.6 L241.8 259 L241.4 255.9 L241.1 255.5 L240.7 254.9 L240.4 253.3 L240.1 253 L239.7 252.8 L239.4 253 L239 253 L238.7 252.9 L238.3 253.9 L238 254.2 L237.7 254.2 L237.3 253.1 L237 252.2 L236.7 252.3 L236.3 251.8 L236 252 L235.6 254.7 L235.3 258 L235 260.7 L234.6 263.8 L234.3 263 L233.9 259.8 L233.6 256.2 L233.2 253.1 L232.9 253 L232.6 253.1 L232.2 253.6 L231.9 253.3 L231.6 253.2 L231.2 252.7 L230.9 253 L230.5 253.1 L230.2 254.7 L229.8 255.4 L229.5 254.2 L229.2 253.6 L228.8 253.4 L228.5 252.9 L228.2 251.8 L227.8 251.5 L227.5 255.3 L227.1 258.3 L226.8 261.1 L226.5 264.1 L226.1 260.8 L225.8 257.7 L225.4 254.3 L225.1 252.9 L224.8 252.4 L224.4 252.5 L224.1 252.1 L223.7 252.2 L223.4 252.3 L223.1 251.8 L222.7 251.7 L222.4 252.4 L222 253 L221.7 253.4 L221.3 252.4 L221 252.9 L220.7 252.1 L220.3 252.2 L220 250.9 L219.7 252.9 L219.3 256.8 L219 261.3 L218.6 264.6 L218.3 265.4 L217.9 261.8 L217.6 258.1 L217.3 253.1 L216.9 251.9 L216.6 251.9 L216.2 251.9 L215.9 251.6 L215.6 251.4 L215.2 251.4 L214.9 251.7 L214.6 251.8 L214.2 252.6 L213.9 252.7 L213.5 252.6 L213.2 251.6 L212.8 250.7 L212.5 250.8 L212.2 250.5 L211.8 252 L211.5 255.1 L211.2 258 L210.8 258.9 L210.5 263.8 L210.1 261.2 L209.8 257.9 L209.4 254.5 L209.1 252.1 L208.8 251.7 L208.4 251.4 L208.1 251.6 L207.8 253.2 L207.4 252.9 L207.1 253 L206.7 250.6 L206.4 251.1 L206.1 252.2 L205.7 254.1 L205.4 252.9 L205 252.1 L204.7 250.1 L204.3 250.2 L204 250.1 L203.7 250.6 L203.3 253.8 L203 256.9 L202.7 259.8 L202.3 262.7 L202 259.6 L201.6 257 L201.3 253.5 L200.9 252 L200.6 251.4 L200.3 251.1 L199.9 251.1 L199.6 250.6 L199.2 250.6 L198.9 250.4 L198.6 251.5 L198.2 252.1 L197.9 252.5 L197.6 252.6 L197.2 252 L196.9 251.1 L196.5 249.5 L196.2 249.4 L195.8 249.3 L195.5 251.5 L195.2 255.4 L194.8 258.7 L194.5 262.9 L194.2 263.5 L193.8 260.4 L193.5 256.5 L193.1 252.2 L192.8 252.2 L192.4 250.9 L192.1 251 L191.8 250.5 L191.4 250.8 L191.1 251 L190.8 250.7 L190.4 250.1 L190.1 250.9 L189.7 251.5 L189.4 251 L189.1 250.2 L188.7 249.6 L188.4 249.3 L188 248.9 L187.7 249 L187.3 253.9 L187 258.1 L186.7 261.5 L186.3 265.6 L186 262 L185.7 258.4 L185.3 255.2 L185 252.2 L184.6 252 L184.3 251.8 L183.9 251.7 L183.6 251.3 L183.3 250 L182.9 250 L182.6 249.8 L182.2 250.5 L181.9 251.2 L181.6 251.6 L181.2 250.9 L180.9 250.2 L180.6 249.8 L180.2 250.5 L179.9 250.2 L179.5 250.8 L179.2 252.8 L178.8 256.3 L178.5 259.1 L178.2 262.8 L177.8 259.8 L177.5 256.6 L177.2 252 L176.8 251 L176.5 250.6 L176.1 251.2 L175.8 250.8 L175.4 250.7 L175.1 250.9 L174.8 250.9 L174.4 251.1 L174.1 250.3 L173.8 250.9 L173.4 250.7 L173.1 250.8 L172.7 249.9 L172.4 249.3 L172.1 248.7 L171.7 248.4 L171.4 250.8 L171 254.1 L170.7 257.2 L170.3 260.3 L170 260.7 L169.7 257.3 L169.3 253.7 L169 250.2 L168.7 250.3 L168.3 250.2 L168 250.5 L167.6 250.3 L167.3 250.4 L166.9 249 L166.6 249.1 L166.3 249.5 L165.9 252 L165.6 252.3 L165.2 252.1 L164.9 249.4 L164.6 248.3 L164.2 248.2 L163.9 248.7 L163.6 248.3 L163.2 251.8 L162.9 255.2 L162.5 258 L162.2 262.7 L161.8 259.1 L161.5 256.2 L161.2 252.2 L160.8 249.5 L160.5 249.6 L160.2 249.2 L159.8 250.1 L159.5 249.7 L159.1 249.6 L158.8 249.2 L158.4 249.4 L158.1 250 L157.8 250.3 L157.4 250.6 L157.1 249.8 L156.8 250 L156.4 249.2 L156.1 249.4 L155.7 248.2 L155.4 248.8 L155.1 252.5 L154.7 255.7 L154.4 258.6 L154 261.1 L153.7 257.6 L153.3 254.5 L153 250.8 L152.7 249.9 L152.3 249.9 L152 249.8 L151.7 251 L151.3 250.8 L151 250.8 L150.6 248.8 L150.3 249 L149.9 249.7 L149.6 250.1 L149.3 249.8 L148.9 248.9 L148.6 248.6 L148.2 248.2 L147.9 248.1 L147.6 248.4 L147.2 250.9 L146.9 254 L146.5 258 L146.2 260.8 L145.9 261.3 L145.5 257.4 L145.2 253.7 L144.8 250.1 L144.5 250.2 L144.2 250.2 L143.8 250 L143.5 249.1 L143.1 248.7 L142.8 248.7 L142.5 249.7 L142.1 250.1 L141.8 250.6 L141.4 249.9 L141.1 249.1 L140.8 248.4 L140.4 247.9 L140.1 247.6 L139.8 247.4 L139.4 247.2 L139.1 250.8 L138.7 253.7 L138.4 256.6 L138 260.9 L137.7 257.6 L137.4 256.4 L137 252.7 L136.7 250.6 L136.3 249.2 L136 249.2 L135.7 249 L135.3 249 L135 248.8 L134.6 248.7 L134.3 248.8 L134 249.5 L133.6 249.6 L133.3 251.8 L132.9 250.7 L132.6 249.9 L132.3 248.2 L131.9 247.6 L131.6 247.5 L131.2 248.5 L130.9 253.1 L130.6 256.4 L130.2 259.9 L129.9 262 L129.5 258.2 L129.2 254.1 L128.9 249.7 L128.5 248.9 L128.2 250 L127.8 250.3 L127.5 250.2 L127.2 248.3 L126.8 248.5 L126.5 248.4 L126.1 248.6 L125.8 249 L125.5 249.8 L125.1 249.3 L124.8 248.2 L124.4 247.6 L124.1 249.1 L123.8 248.9 L123.4 248.8 L123.1 249.6 L122.7 253.6 L122.4 256.3 L122.1 260.7 L121.7 260.3 L121.4 256.8 L121 252.2 L120.7 248.9 L120.4 248.4 L120 248.9 L119.7 248.8 L119.3 248.7 L119 248.7 L118.7 248.6 L118.3 248.6 L118 250 L117.6 250.7 L117.3 251.3 L117 248.9 L116.6 248.3 L116.3 247.4 L115.9 247.2 L115.6 247.3 L115.3 246.8 L114.9 251.9 L114.6 255.4 L114.2 258.9 L113.9 262 L113.6 258.5 L113.2 255.2 L112.9 252.4 L112.5 249.9 L112.2 249.8 L111.9 249.5 L111.5 249.3 L111.2 249.6 L110.8 249.6 L110.5 249.2 L110.2 249.3 L109.8 249.9 L109.5 250.3 L109.1 250.8 L108.8 249.7 L108.5 248.7 L108.1 248.4 L107.8 247.5 L107.4 247.3 L107.1 248.6 L106.8 252.5 L106.4 255.9 L106.1 258.7 L105.7 260.5 L105.4 257.1 L105.1 253.3 L104.7 249.7 L104.4 249.2 L104 248.8 L103.7 248.5 L103.4 248.5 L103 248.3 L102.7 248.5 L102.3 248.3 L102 248.5 L101.7 248.9 L101.3 249.7 L101 249.2 L100.6 248.7 L100.3 247.7 L100 247.7 L99.6 247.1 L99.3 247.2 L98.9 249.8 L98.6 253 L98.3 255.9 L97.9 258.7 L97.6 259.1 L97.2 256.3 L96.9 252.8 L96.6 248.3 L96.2 248.2 L95.9 248.4 L95.5 248.4 L95.2 248.2 L94.9 248 L94.5 247.7 L94.2 247.9 L93.8 248.3 L93.5 248.9 L93.2 249.7 L92.8 249.1 L92.5 249.1 L92.1 248.7 L91.8 248.5 L91.5 247.6 L91.1 247.2 L90.8 251.3 L90.4 254.3 L90.1 257.4 L89.8 260.8 L89.4 257.2 L89.1 254 L88.7 250.1 L88.4 250 L88.1 250.2 L87.7 250 L87.4 248.3 L87 248.4 L86.7 248.3 L86.4 248.3 L86 247.9 L85.7 248.7 L85.3 249.2 L85 249.3 L84.7 248.2 L84.3 247.5 L84 247.3 L83.6 247 L83.3 246.7 L83 248.8 L82.6 253.1 L82.3 258.7 L81.9 262 L81.6 262.9 L81.3 258.1 L80.9 253.7 L80.6 248.6 L80.2 249.9 L79.9 250 L79.6 249.6 L79.2 249.6 L78.9 249.9 L78.5 249.6 L78.2 247.4 L77.9 247.7 L77.5 248.4 L77.2 250.7 L76.8 250.1 L76.5 249.2 L76.2 247 L75.8 246.8 L75.5 246.9 L75.1 247 L74.8 250.4 L74.5 253.9 L74.1 257.8 L73.8 263.1 L73.4 259.6 L73.1 255.9 L72.8 251.9 L72.4 248.2 L72.1 248.4 L71.7 248.5 L71.4 247.9 L71.1 248 L70.7 247.6 L70.4 247.5 L70 248.8 L69.7 249.8 L69.4 250.2 L69 250.8 L68.7 250.1 L68.3 249.1 L68 247.5 L67.7 246.9 L67.3 247 L67 247.4 L66.6 250.9 L66.3 254.1 L66 257 L65.6 260.1 L65.3 256.8 L64.9 253.6 L64.6 249.5 L64.3 248.2 L63.9 248.5 L63.6 248.2 L63.2 248.2 L62.9 247.8 L62.6 247.3 L62.2 247.5 L61.9 248 L61.5 248.9 L61.2 249.3 L60.9 249.4 L60.5 248.2 L60.2 247.3 L59.8 246.7 L59.5 246.6 L59.2 246.8 L58.8 249.1 L58.5 253 L58.1 257.1 L57.8 260.2 L57.5 261.1 L57.1 257.1 L56.8 253.9 L56.4 249.1 L56.1 248.8 L55.8 249.8 L55.4 249.4 L55.1 249.5 L54.7 247.6 L54.4 247.4 L54.1 247.4 L53.7 247.7 L53.4 248.5 L53 249.2 L52.7 248.6 L52.4 247.8 L52 247 L51.7 247.1 L51.3 246.8 L51 246.9 L50.7 249.9 L50.3 253.6 L50 256.9 L49.6 262.3 L49.3 258.8 L49 255.3 L48.6 251.8 L48.3 249.1 L47.9 248.7 L47.6 248.2 L47.3 248 L46.9 247.7 L46.6 247.7 L46.2 247.5 L45.9 247.4 L45.6 247.7 L45.2 248.4 L44.9 248.7 L44.5 248.1 L44.2 247.5 L43.9 247 L43.5 247.2 L43.2 247.1 L42.8 247.5 L42.5 250.7 L42.2 253.7 L41.8 256.5 L41.5 259.5 L41.1 256.7 L40.8 253.3 L40.5 249.3 L40.1 247.9 L39.8 248.2 L39.4 247.9 L39.1 247.9 L38.8 247.8 L38.4 249.1 L38.1 248.8 L37.7 249.1 L37.4 249.9 L37.1 250.3 L36.7 250 L36.4 247.7 L36 247.1 L35.7 246.9 L35.4 247.6 L35 247.7 L34.7 250.1 L34.3 253 L34 256.2 L33.7 259.9 L33.3 259.9 L33 256.6 L32.6 252.8 L32.3 247.8 L32 247.5 L31.6 247.9 L31.3 249.2 L30.9 248.9 L30.6 248.8 L30.3 247.3 L29.9 247.2 L29.6 247.8 L29.2 249.1 L28.9 249.6 L28.6 248.9 L28.2 249.2 L27.9 248.3 L27.5 248 L27.2 247.4 L26.9 247.6 L26.5 251.3 L26.2 254 L25.8 257 L25.5 261.7 L25.2 258.5 L24.8 255.2 L24.5 251.3 L24.1 247.5 L23.8 247.7 L23.5 247.4 L23.1 247.4 L22.8 247.2 L22.4 247.3Z" fill="#1414d6"/>
<path d="M25.56 242.44V258.83M27.31 242.45V230.84M33.6 242.52V260.2M35.35 242.54V230.25M41.64 242.6V258.05M43.39 242.62V230.4M49.68 242.68V259.77M51.43 242.7V230.08M57.72 242.76V261.02M59.47 242.78V232.13M65.76 242.85V258.75M67.51 242.86V232.78M73.8 242.93V260.78M75.55 242.95V230.84M81.84 243.01V261.61M83.59 243.03V231.76M89.88 243.09V258.7M91.63 243.11V232.08M97.92 243.17V258.64M99.67 243.19V232.46M105.96 243.26V259.69M107.71 243.27V233.27M114 243.34V260.79M115.75 243.35V232.37M122.04 243.42V259.79M123.79 243.44V231.77M130.08 243.5V261.41M131.83 243.55V233.08M138.12 243.71V258.84M139.87 243.76V233.39M146.16 243.92V259.37M147.91 243.97V233.05M154.2 244.13V259.54M155.95 244.17V231.73M162.24 244.34V260.53M163.99 244.38V232.37M170.28 244.55V260.86M172.03 244.59V232.35M178.32 244.76V260.66M180.07 244.8V233.15M186.36 245.14V262.93M188.11 245.23V232.56M194.4 245.57V262.09M196.15 245.66V234.31M202.44 246V261.26M204.19 246.09V234.12M210.48 246.43V261.37M212.23 246.52V235.73M218.52 246.85V264.35M220.27 246.95V236.02M226.56 247.28V262.56M228.31 247.38V237.37M234.6 247.71V263.78M236.35 247.81V236.55M242.64 249.14V266.03M244.39 249.89V239M250.68 252.46V271.12M252.43 252.88V242.12M258.72 254.76V272.48M274.8 287.4V305.64M276.55 288.27V277.23M282.84 287.06V304.77M284.59 288.59V276.61M290.88 294.4V314.26M292.63 295.86V283.14M298.92 299.87V319.4M300.67 300.83V290.28M306.96 303.98V323.93M308.71 304.86V291.55M315 307.75V328.31M316.75 308.19V294.71M323.04 309.5V327.52M324.79 309.5V297.8M331.08 308.2V326.46M332.83 307.11V293.72M339.12 302.03V322.65M340.87 299.99V288.52M347.16 292.58V310.65M348.91 290.44V279.24M355.2 282.78V298.11M356.95 280.86V270.14M363.24 273.94V292.22M364.99 272.01V261.33M371.28 267.19V283.71M373.03 265.84V254.17M379.32 261.02V278.45M381.07 259.93V248.35M387.36 256.57V275.04M389.11 255.64V243M395.4 252.39V268.56M397.15 251.92V239.94M403.44 250.22V268.87M405.19 249.77V238.59M411.48 248.63V267.16M413.23 248.32V235.88M419.52 248.15V266.07M421.27 248.21V236.86M427.56 248.42V266.32M429.31 248.48V237.55M435.6 249.62V265.99M437.35 249.97V238.49M443.64 251.23V268.24M445.39 251.58V241.11M451.68 252.88V269.94M453.43 253.24V241.88M459.72 254.54V271.61M461.47 254.74V244.85M467.76 255.34V271.98M469.51 255.5V242.99M475.8 256.1V273.87M477.55 256.27V246.42M483.84 256.65V273.71M485.59 256.72V244.71M491.88 256.98V275.56M493.63 257.05V244.53M499.92 257.3V274.72M501.67 257.25V247.33M507.96 257.04V273.35M509.71 256.98V247.22M516 256.78V273.76M517.75 256.72V245.82M524.04 256.52V272.07M525.79 256.46V244.56M532.08 256.26V273.59M533.83 256.2V243.77M540.12 255.99V272.93M541.87 255.89V244.12M548.16 255.51V270.74M549.91 255.41V243.25M556.2 255.03V271.96M557.95 254.92V243.05M564.24 254.55V271.55M565.99 254.44V243.43M572.28 254.06V271.98M574.03 253.96V243.94M580.32 253.59V271.85M582.07 253.55V242.23M588.36 253.39V270.06M590.11 253.35V242.36M596.4 253.19V268.1M598.15 253.15V242.89M604.44 252.99V271.06M606.19 252.95V241.84M612.48 252.79V270.94M614.23 252.74V240.63M620.52 252.6V267.61M622.27 252.62V239.93M628.56 252.66V271.22M630.31 252.68V241.27M636.6 252.72V270M638.35 252.74V240.55M644.64 252.78V271M646.39 252.8V242.25M652.68 252.85V271.45M654.43 252.86V241.86M660.72 252.91V268.45M662.47 252.92V241.91M668.76 252.97V271.01M670.51 252.98V242.04M676.8 253.03V268.92M678.55 253.04V242.75M684.84 253.09V270.75M686.59 253.1V240.92M692.88 253.15V271.97M694.63 253.16V242.19M700.92 253.2V270.09M702.67 253.2V241.35M708.96 253.21V271.47M710.71 253.21V243.1M717 253.22V271.14M718.75 253.22V240.82M725.04 253.22V269.06M726.79 253.23V241.1M733.08 253.23V271.52M734.83 253.23V243.37M741.12 253.24V270.31M742.87 253.24V240.6M749.16 253.25V271.55M750.91 253.25V241.9M757.2 253.25V268.44M758.95 253.26V242.49M765.24 253.26V271.97M766.99 253.26V242.63M773.28 253.27V270.69M775.03 253.27V242.89M781.32 253.28V271.2M783.07 253.28V243.42M789.36 253.29V269.38M791.11 253.29V243.28M797.4 253.29V270.19M799.15 253.3V242.1" fill="none" stroke="#0c0cc0" stroke-width="1.15"/>
<path d="M22.4 238.4 L22.8 237.8 L23.1 237.7 L23.5 238.5 L23.8 239.8 L24.1 240.4 L24.5 241.2 L24.8 241 L25.2 241.6 L25.5 241.5 L25.8 239.1 L26.2 239.4 L26.5 237.9 L26.9 235.8 L27.2 234.7 L27.5 235.8 L27.9 236.9 L28.2 239.1 L28.6 239.3 L28.9 240.3 L29.2 240.2 L29.6 239.7 L29.9 239.9 L30.3 239.3 L30.6 238.4 L30.9 238 L31.3 237.7 L31.6 239.4 L32 240.8 L32.3 240.6 L32.6 241.4 L33 240.9 L33.3 240.8 L33.7 239.4 L34 238.7 L34.3 238.9 L34.7 237.3 L35 235.5 L35.4 234.6 L35.7 235.7 L36 237.5 L36.4 239.8 L36.7 239.6 L37.1 239.7 L37.4 239.9 L37.7 240.2 L38.1 239.8 L38.4 239.6 L38.8 238.1 L39.1 237.5 L39.4 238.7 L39.8 240.1 L40.1 241 L40.5 240.6 L40.8 241.3 L41.1 241 L41.5 241.8 L41.8 239.3 L42.2 238.7 L42.5 237.6 L42.8 236.4 L43.2 235.7 L43.5 235.3 L43.9 236.8 L44.2 237.8 L44.5 240 L44.9 239.6 L45.2 240.4 L45.6 240.1 L45.9 240.8 L46.2 240.3 L46.6 239.3 L46.9 237.6 L47.3 237.7 L47.6 239.5 L47.9 240.3 L48.3 240.9 L48.6 241.1 L49 240.8 L49.3 241.5 L49.6 241.7 L50 238.7 L50.3 239.5 L50.7 237.5 L51 235.9 L51.3 234.4 L51.7 235.8 L52 237.4 L52.4 238.5 L52.7 240.3 L53 240.3 L53.4 240.5 L53.7 239.9 L54.1 240.4 L54.4 240.4 L54.7 239.1 L55.1 237.5 L55.4 238.8 L55.8 239.4 L56.1 240.7 L56.4 241.5 L56.8 241.7 L57.1 241.2 L57.5 241.3 L57.8 239.2 L58.1 239.7 L58.5 239 L58.8 237.4 L59.2 237 L59.5 235.9 L59.8 236.7 L60.2 238 L60.5 239.5 L60.9 240.4 L61.2 240.7 L61.5 240.7 L61.9 240.4 L62.2 241 L62.6 239.5 L62.9 239 L63.2 237.9 L63.6 238.5 L63.9 240.4 L64.3 241.1 L64.6 241.1 L64.9 241.8 L65.3 241.5 L65.6 241.8 L66 239.1 L66.3 239.9 L66.6 238.2 L67 237.5 L67.3 236.3 L67.7 236.2 L68 238 L68.3 239.1 L68.7 239.8 L69 240.7 L69.4 239.9 L69.7 240.2 L70 240.5 L70.4 240.7 L70.7 239.7 L71.1 238.1 L71.4 238 L71.7 239.3 L72.1 241.3 L72.4 241.6 L72.8 241.2 L73.1 241.3 L73.4 241.8 L73.8 241.8 L74.1 239.6 L74.5 239.1 L74.8 237.9 L75.1 236.5 L75.5 235.6 L75.8 235.8 L76.2 238.1 L76.5 239.4 L76.8 239.9 L77.2 240.5 L77.5 240.8 L77.9 240.5 L78.2 240.4 L78.5 240 L78.9 238.9 L79.2 237.5 L79.6 238.3 L79.9 239.6 L80.2 241 L80.6 241.9 L80.9 242 L81.3 242 L81.6 241.5 L81.9 239.1 L82.3 239.1 L82.6 239 L83 237.5 L83.3 236 L83.6 235.8 L84 236.7 L84.3 238.6 L84.7 240.6 L85 240.6 L85.3 240.5 L85.7 240.9 L86 241 L86.4 240.5 L86.7 239.9 L87 238.3 L87.4 238.4 L87.7 239.6 L88.1 240.4 L88.4 241.8 L88.7 241.1 L89.1 241.7 L89.4 241.9 L89.8 241.9 L90.1 239.2 L90.4 239.3 L90.8 238.6 L91.1 237.8 L91.5 235.9 L91.8 236.9 L92.1 237.8 L92.5 239 L92.8 240.6 L93.2 240.2 L93.5 240.4 L93.8 241 L94.2 241.3 L94.5 240.4 L94.9 239.2 L95.2 238.6 L95.5 238.8 L95.9 239.4 L96.2 240.8 L96.6 241.7 L96.9 242 L97.2 242.2 L97.6 241.5 L97.9 239.2 L98.3 239.5 L98.6 239.3 L98.9 237.8 L99.3 237 L99.6 236.6 L100 236.6 L100.3 238.1 L100.6 239.6 L101 240.1 L101.3 240.8 L101.7 241.1 L102 240.7 L102.3 241 L102.7 240.1 L103 239.4 L103.4 238.6 L103.7 239.3 L104 240.1 L104.4 241.2 L104.7 241.9 L105.1 241.7 L105.4 242 L105.7 241.9 L106.1 239.9 L106.4 240.2 L106.8 239 L107.1 238.1 L107.4 237.4 L107.8 237.1 L108.1 238.4 L108.5 239.1 L108.8 240.9 L109.1 240.3 L109.5 240.5 L109.8 240.8 L110.2 240.7 L110.5 240.7 L110.8 239.9 L111.2 238.9 L111.5 238.7 L111.9 239.4 L112.2 240.7 L112.5 242.1 L112.9 242.2 L113.2 242.1 L113.6 241.7 L113.9 242.5 L114.2 240.1 L114.6 239.9 L114.9 238.8 L115.3 237.6 L115.6 236 L115.9 237 L116.3 237.6 L116.6 239.3 L117 241.1 L117.3 240.8 L117.6 240.8 L118 241.3 L118.3 240.9 L118.7 240.9 L119 240 L119.3 238.8 L119.7 239 L120 240.3 L120.4 241.8 L120.7 241.9 L121 241.7 L121.4 242.3 L121.7 241.6 L122.1 240.3 L122.4 239.4 L122.7 239.2 L123.1 238.4 L123.4 237.2 L123.8 235.8 L124.1 237.3 L124.4 238.1 L124.8 239.9 L125.1 240.4 L125.5 241.3 L125.8 240.5 L126.1 240.9 L126.5 241.1 L126.8 240.8 L127.2 239.3 L127.5 238.5 L127.8 239.6 L128.2 240.7 L128.5 241.8 L128.9 241.5 L129.2 242.1 L129.5 241.8 L129.9 242.1 L130.2 240.4 L130.6 240.1 L130.9 239.7 L131.2 238.5 L131.6 236.9 L131.9 237 L132.3 238.5 L132.6 239.5 L132.9 240.8 L133.3 240.7 L133.6 241.3 L134 240.7 L134.3 241.5 L134.6 241.4 L135 240.4 L135.3 238.7 L135.7 238.4 L136 239.9 L136.3 241.4 L136.7 241.7 L137 241.8 L137.4 241.9 L137.7 242.1 L138 243 L138.4 240.6 L138.7 239.9 L139.1 238.8 L139.4 238.2 L139.8 237.3 L140.1 237.7 L140.4 238.5 L140.8 240.4 L141.1 241.5 L141.4 240.9 L141.8 241.2 L142.1 241.7 L142.5 241.4 L142.8 241.2 L143.1 239.7 L143.5 238.6 L143.8 239.6 L144.2 240.2 L144.5 241.9 L144.8 242.6 L145.2 242.7 L145.5 242.8 L145.9 242.9 L146.2 240.8 L146.5 240.6 L146.9 240.6 L147.2 239.2 L147.6 237.9 L147.9 236.8 L148.2 237.8 L148.6 239.7 L148.9 240.6 L149.3 240.9 L149.6 241.5 L149.9 241.4 L150.3 241.5 L150.6 242.1 L151 240.6 L151.3 239.4 L151.7 238.5 L152 240.2 L152.3 241.6 L152.7 242.7 L153 242.6 L153.3 242.8 L153.7 243 L154 242.9 L154.4 240.2 L154.7 241.1 L155.1 239.1 L155.4 238.6 L155.7 236.9 L156.1 236.8 L156.4 238 L156.8 240.2 L157.1 241.1 L157.4 241.6 L157.8 242 L158.1 241.5 L158.4 241.8 L158.8 241.9 L159.1 240.9 L159.5 239.5 L159.8 239.6 L160.2 240.7 L160.5 241.6 L160.8 242.4 L161.2 242.3 L161.5 242.8 L161.8 243.4 L162.2 243.1 L162.5 241.1 L162.9 240.9 L163.2 239.5 L163.6 238 L163.9 236.8 L164.2 237.2 L164.6 239.3 L164.9 240.9 L165.2 241.7 L165.6 242 L165.9 241.8 L166.3 241.8 L166.6 242.2 L166.9 241.4 L167.3 240.4 L167.6 239.2 L168 240.5 L168.3 241.5 L168.7 243 L169 242.5 L169.3 242.8 L169.7 243.3 L170 243.5 L170.3 240.8 L170.7 240.6 L171 240.3 L171.4 238.9 L171.7 238.2 L172.1 236.9 L172.4 238.4 L172.7 239.4 L173.1 241.5 L173.4 242.2 L173.8 242.1 L174.1 242 L174.4 242 L174.8 242.7 L175.1 241.4 L175.4 240.3 L175.8 239.1 L176.1 240.3 L176.5 242.1 L176.8 243.2 L177.2 242.7 L177.5 243 L177.8 243.2 L178.2 243.4 L178.5 241.5 L178.8 241.3 L179.2 240.4 L179.5 238.9 L179.9 238.2 L180.2 237.5 L180.6 239.5 L180.9 240.7 L181.2 242 L181.6 242.6 L181.9 242.2 L182.2 242.6 L182.6 242.2 L182.9 242.6 L183.3 241 L183.6 240.4 L183.9 240 L184.3 241.6 L184.6 243.1 L185 243.3 L185.3 243.8 L185.7 243.4 L186 244.2 L186.3 244.3 L186.7 241.3 L187 242 L187.3 240.1 L187.7 239 L188 237 L188.4 238 L188.7 240.2 L189.1 241.5 L189.4 242.3 L189.7 243.1 L190.1 242.6 L190.4 242.6 L190.8 242.9 L191.1 242.1 L191.4 241.3 L191.8 240.6 L192.1 241.3 L192.4 242.7 L192.8 243.9 L193.1 243.7 L193.5 243.8 L193.8 244.2 L194.2 244.1 L194.5 242.4 L194.8 242 L195.2 241.1 L195.5 240 L195.8 239.2 L196.2 238.6 L196.5 240 L196.9 241.5 L197.2 242.8 L197.6 242.6 L197.9 243.2 L198.2 243.8 L198.6 243.3 L198.9 243.6 L199.2 242.7 L199.6 241.8 L199.9 240.8 L200.3 242 L200.6 243.8 L200.9 244.7 L201.3 244.6 L201.6 244.8 L202 244.5 L202.3 244.3 L202.7 242 L203 242.4 L203.3 241.7 L203.7 239.8 L204 238.7 L204.3 238.6 L204.7 240.5 L205 242.3 L205.4 243 L205.7 243.2 L206.1 243.9 L206.4 243.5 L206.7 243.9 L207.1 243.5 L207.4 242.3 L207.8 241.6 L208.1 242 L208.4 242.6 L208.8 244.2 L209.1 245.1 L209.4 244.8 L209.8 244.9 L210.1 245 L210.5 245.6 L210.8 243.1 L211.2 243.3 L211.5 241.3 L211.8 240.7 L212.2 239.3 L212.5 240.3 L212.8 241.4 L213.2 242.7 L213.5 244.2 L213.9 243.9 L214.2 244.4 L214.6 244.2 L214.9 244.4 L215.2 243.7 L215.6 242.4 L215.9 242 L216.2 242.2 L216.6 243.6 L216.9 245.3 L217.3 245.7 L217.6 245.2 L217.9 245.5 L218.3 245.9 L218.6 243.2 L219 243.6 L219.3 242.4 L219.7 241.2 L220 240.1 L220.3 240.4 L220.7 241 L221 242.3 L221.3 243.7 L221.7 244.7 L222 244.5 L222.4 245 L222.7 244.8 L223.1 244.6 L223.4 243.8 L223.7 242.9 L224.1 242.3 L224.4 243.1 L224.8 245.1 L225.1 245.5 L225.4 245.2 L225.8 245.9 L226.1 246.3 L226.5 245.9 L226.8 243.4 L227.1 244.1 L227.5 242.7 L227.8 242.4 L228.2 241.2 L228.5 241.7 L228.8 242.2 L229.2 243.4 L229.5 244.8 L229.8 244.9 L230.2 244.6 L230.5 244.7 L230.9 245.6 L231.2 245.4 L231.6 243.9 L231.9 242.6 L232.2 243 L232.6 244 L232.9 245.2 L233.2 246.1 L233.6 246.6 L233.9 246.6 L234.3 246.8 L234.6 244.3 L235 243.9 L235.3 244.6 L235.6 242.4 L236 241.2 L236.3 241 L236.7 241.9 L237 243.2 L237.3 244.9 L237.7 244.9 L238 245.3 L238.3 245.3 L238.7 245.7 L239 246 L239.4 244.5 L239.7 243.8 L240.1 242.6 L240.4 244.2 L240.7 245.9 L241.1 246.9 L241.4 247.5 L241.8 247.2 L242.1 247.1 L242.4 247.7 L242.8 245.5 L243.1 245.9 L243.5 245.2 L243.8 244.7 L244.1 243.2 L244.5 242.7 L244.8 244.6 L245.2 246.3 L245.5 247.5 L245.8 248.2 L246.2 248.5 L246.5 248.2 L246.8 249 L247.2 248.5 L247.5 248.3 L247.9 246.8 L248.2 246.7 L248.6 247.8 L248.9 249.7 L249.2 249.9 L249.6 250.5 L249.9 251.1 L250.2 250.9 L250.6 250.9 L250.9 248.6 L251.3 249.3 L251.6 247.9 L252 247.5 L252.3 246.3 L252.6 246.7 L253 247.5 L253.3 249.5 L253.7 250.8 L254 250.7 L254.3 250.4 L254.7 250.8 L255 250.7 L255.3 250.9 L255.7 250 L256 249.4 L256.4 249.3 L256.7 250.8 L257.1 252.1 L257.4 252.5 L257.7 253.1 L258.1 253.1 L258.4 252.9 L258.8 250.7 L259.1 251.2 L259.4 252 L259.8 250.3 L260.1 250.2 L260.4 254.1 L260.8 268.2 L261.1 279.6 L261.5 290.3 L261.8 295.4 L262.1 295.8 L262.5 297 L262.8 297.9 L263.2 298.7 L263.5 299.5 L263.8 299.9 L264.2 301.4 L264.5 301.9 L264.9 303.9 L265.2 305.3 L265.6 305.5 L265.9 306.4 L266.2 307.6 L266.6 309 L266.9 309.9 L267.2 311.2 L267.6 311.8 L267.9 312.3 L268.3 312.8 L268.6 314.2 L268.9 315.7 L269.3 317.1 L269.6 318.1 L270 316.3 L270.3 312.3 L270.6 307.3 L271 301.9 L271.3 298.2 L271.7 295.8 L272 294.5 L272.3 292.5 L272.7 289.7 L273 289.9 L273.4 288.4 L273.7 287.8 L274.1 286.2 L274.4 286 L274.7 286.5 L275.1 284.1 L275.4 284.9 L275.8 283.8 L276.1 282 L276.4 281.2 L276.8 282.4 L277.1 283.2 L277.4 285 L277.8 286.3 L278.1 287 L278.5 287.1 L278.8 286.4 L279.2 286.6 L279.5 285.7 L279.8 285.1 L280.2 283.7 L280.5 283.4 L280.9 284.5 L281.2 286.7 L281.5 286.2 L281.9 286 L282.2 286.2 L282.6 286.8 L282.9 283.4 L283.2 283.7 L283.6 283.9 L283.9 282.6 L284.2 281.9 L284.6 280.8 L284.9 282.7 L285.3 284.3 L285.6 286.3 L285.9 287.3 L286.3 288.5 L286.6 288.7 L287 289.4 L287.3 289.1 L287.7 289.2 L288 287.6 L288.3 287.5 L288.7 288.9 L289 290.5 L289.4 292.1 L289.7 292.8 L290 293.2 L290.4 293.5 L290.7 293.3 L291.1 291.2 L291.4 292.1 L291.7 291 L292.1 289.9 L292.4 288.8 L292.8 288.9 L293.1 289.9 L293.4 291.9 L293.8 294.9 L294.1 295.3 L294.4 294.9 L294.8 295.5 L295.1 296 L295.5 296.5 L295.8 295.1 L296.2 293.6 L296.5 293.5 L296.8 295.4 L297.2 297 L297.5 298.1 L297.9 297.9 L298.2 298.8 L298.5 298.7 L298.9 299.6 L299.2 296.4 L299.6 297.3 L299.9 296.2 L300.2 295.4 L300.6 294.8 L300.9 295.6 L301.2 296.6 L301.6 298.3 L301.9 299.4 L302.3 299.1 L302.6 299.4 L302.9 299.7 L303.3 300.2 L303.6 299.9 L304 298.7 L304.3 298.4 L304.7 298.3 L305 299.7 L305.3 302.4 L305.7 302.1 L306 302.9 L306.4 303.1 L306.7 303.4 L307 301 L307.4 301.4 L307.7 300.7 L308.1 299.3 L308.4 297.5 L308.7 297 L309.1 298.8 L309.4 300.8 L309.8 302.3 L310.1 303.2 L310.4 303.4 L310.8 303.4 L311.1 304.1 L311.4 304.1 L311.8 303.9 L312.1 302.3 L312.5 301.7 L312.8 303.7 L313.2 304.6 L313.5 306.1 L313.8 306.4 L314.2 306.5 L314.5 306.3 L314.9 306.7 L315.2 304.7 L315.5 304.5 L315.9 303.9 L316.2 302.1 L316.6 300.4 L316.9 300.7 L317.2 302 L317.6 304.2 L317.9 306.2 L318.2 306.2 L318.6 306.2 L318.9 307.1 L319.3 307 L319.6 306.7 L319.9 305.8 L320.3 305 L320.6 304.5 L321 305.8 L321.3 307.9 L321.7 308.3 L322 308.2 L322.3 308.2 L322.7 309.1 L323 308.4 L323.4 306.6 L323.7 305.9 L324 305 L324.4 303.4 L324.7 302.2 L325.1 303.4 L325.4 304.8 L325.7 306.2 L326.1 307 L326.4 307.2 L326.8 307.7 L327.1 307.4 L327.4 307.7 L327.8 307.4 L328.1 306.3 L328.4 304.7 L328.8 305.8 L329.1 306.7 L329.5 307.8 L329.8 308.1 L330.2 308 L330.5 307.6 L330.8 307.6 L331.2 304.8 L331.5 305 L331.9 303.5 L332.2 301.5 L332.5 300.1 L332.9 299.3 L333.2 300.2 L333.6 302.3 L333.9 303.8 L334.2 303.5 L334.6 304.3 L334.9 303.8 L335.2 303.6 L335.6 303.9 L335.9 301.9 L336.3 300.9 L336.6 300.2 L336.9 301 L337.3 301.8 L337.6 302.6 L338 302.5 L338.3 302.3 L338.7 301.7 L339 301 L339.3 298.1 L339.7 298.4 L340 296.3 L340.4 294.9 L340.7 293.8 L341 293 L341.4 294.2 L341.7 294.7 L342.1 296.5 L342.4 295.5 L342.7 295.6 L343.1 295.1 L343.4 294.7 L343.8 294.4 L344.1 292.8 L344.4 291.7 L344.8 291.1 L345.1 292 L345.4 293.4 L345.8 293.3 L346.1 292.7 L346.5 293 L346.8 292.5 L347.2 291.9 L347.5 289.1 L347.8 288.3 L348.2 286.5 L348.5 284.8 L348.9 283.2 L349.2 283.9 L349.5 284.8 L349.9 286.5 L350.2 286.2 L350.6 286.1 L350.9 286 L351.2 285.8 L351.6 285 L351.9 284.2 L352.2 282.5 L352.6 281.5 L352.9 281.4 L353.3 282.9 L353.6 283.6 L353.9 283.2 L354.3 282.6 L354.6 282.1 L355 282 L355.3 279 L355.7 279.2 L356 278 L356.3 276.1 L356.7 274.9 L357 274 L357.4 274.6 L357.7 275.8 L358 276.9 L358.4 276.7 L358.7 276.2 L359.1 276.7 L359.4 276 L359.7 275.5 L360.1 274.6 L360.4 273 L360.8 271.7 L361.1 273.2 L361.4 273.7 L361.8 274.6 L362.1 273.6 L362.4 273.5 L362.8 273.8 L363.1 273.3 L363.5 270.5 L363.8 270.2 L364.2 268.8 L364.5 267.1 L364.8 265.7 L365.2 266.1 L365.5 266.9 L365.9 267.2 L366.2 269 L366.5 268 L366.9 267.9 L367.2 268.4 L367.6 268.2 L367.9 267.6 L368.2 265.7 L368.6 265.1 L368.9 264.3 L369.2 265.8 L369.6 266.6 L369.9 267.2 L370.3 266.3 L370.6 266.4 L370.9 265.8 L371.3 264 L371.6 263.8 L372 263.6 L372.3 261.3 L372.7 259.6 L373 258.6 L373.3 259.4 L373.7 260.7 L374 261.7 L374.4 261.9 L374.7 261.9 L375 262 L375.4 261.6 L375.7 261.9 L376.1 260.3 L376.4 259.4 L376.7 258.5 L377.1 259.1 L377.4 260.1 L377.8 261.2 L378.1 260.2 L378.4 259.9 L378.8 260.1 L379.1 260.3 L379.4 257 L379.8 257.2 L380.1 256.4 L380.5 255 L380.8 253.2 L381.2 253.1 L381.5 254.3 L381.8 255.1 L382.2 256.5 L382.5 256.1 L382.9 256.1 L383.2 256.1 L383.5 256.7 L383.9 256.7 L384.2 254.6 L384.6 253.7 L384.9 252.8 L385.2 254.1 L385.6 255.6 L385.9 255.6 L386.2 256.2 L386.6 255.8 L386.9 255.2 L387.3 255.6 L387.6 253.2 L387.9 253 L388.3 251.7 L388.6 250.1 L389 248.4 L389.3 248.6 L389.7 249.5 L390 250.9 L390.3 252.1 L390.7 252.1 L391 251.9 L391.4 252.2 L391.7 251.6 L392 251.9 L392.4 249.9 L392.7 249.2 L393.1 249.1 L393.4 249.7 L393.7 251.3 L394.1 251.7 L394.4 251 L394.8 251.4 L395.1 250.8 L395.4 248.7 L395.8 248.8 L396.1 248.3 L396.4 246.7 L396.8 245.8 L397.1 244.1 L397.5 245.4 L397.8 246.3 L398.2 248.5 L398.5 248.7 L398.8 249.2 L399.2 249.3 L399.5 249.4 L399.9 249.1 L400.2 247.6 L400.5 247.2 L400.9 245.9 L401.2 247.2 L401.6 247.9 L401.9 248.5 L402.2 248.9 L402.6 248.8 L402.9 249 L403.2 248.7 L403.6 246.1 L403.9 247.1 L404.3 245.5 L404.6 244.5 L404.9 243.4 L405.3 243 L405.6 244.2 L406 244.9 L406.3 246.4 L406.7 246.8 L407 246.9 L407.3 246.7 L407.7 246.8 L408 247 L408.4 245.5 L408.7 244.3 L409 243.8 L409.4 245.5 L409.7 246.6 L410.1 247.6 L410.4 247.7 L410.7 247.1 L411.1 247.9 L411.4 247.5 L411.8 244.9 L412.1 245 L412.4 243.6 L412.8 241.9 L413.1 240.6 L413.4 241.4 L413.8 242.1 L414.1 243.7 L414.5 244.9 L414.8 245.6 L415.2 245.7 L415.5 245.8 L415.8 246.2 L416.2 244.9 L416.5 244.5 L416.9 243.1 L417.2 244.1 L417.5 244.9 L417.9 246 L418.2 246.3 L418.6 246.6 L418.9 246.8 L419.2 247.1 L419.6 244.2 L419.9 244.4 L420.2 244.4 L420.6 242.5 L420.9 241.8 L421.3 240.5 L421.6 241.7 L422 243.2 L422.3 245 L422.6 245.7 L423 245.2 L423.3 245.5 L423.7 245.6 L424 245.7 L424.3 244.8 L424.7 244.6 L425 243 L425.4 244.6 L425.7 246.1 L426 246.5 L426.4 246.6 L426.7 246.5 L427.1 247.5 L427.4 247.6 L427.7 244.7 L428.1 244.5 L428.4 244.2 L428.8 242.5 L429.1 241.5 L429.4 241.3 L429.8 243.3 L430.1 244.3 L430.5 245.4 L430.8 245.9 L431.1 246.6 L431.5 246.5 L431.8 246.9 L432.2 246.4 L432.5 245.9 L432.8 244.5 L433.2 244.3 L433.5 246.1 L433.9 246.9 L434.2 248.1 L434.5 247.6 L434.9 248 L435.2 248.6 L435.6 248 L435.9 246.3 L436.2 246.5 L436.6 244.7 L436.9 243.7 L437.2 242.6 L437.6 243.5 L437.9 244.9 L438.3 246.8 L438.6 247.5 L439 247.3 L439.3 248.1 L439.6 247.8 L440 248.1 L440.3 247.7 L440.7 246.8 L441 245.4 L441.3 246.4 L441.7 247.9 L442 248.8 L442.4 249.3 L442.7 249.9 L443 250.1 L443.4 250.2 L443.7 247.2 L444.1 247.8 L444.4 247.6 L444.7 246.4 L445.1 245.8 L445.4 244.2 L445.8 246.1 L446.1 247.1 L446.4 248.3 L446.8 249.5 L447.1 249.7 L447.5 249.8 L447.8 249.8 L448.1 250.2 L448.5 249.3 L448.8 247.9 L449.2 247.6 L449.5 248.8 L449.8 249.4 L450.2 251.2 L450.5 250.7 L450.9 251.7 L451.2 251.7 L451.5 251.3 L451.9 249.7 L452.2 249.5 L452.6 248.8 L452.9 247.6 L453.2 246.2 L453.6 246.8 L453.9 247.7 L454.2 249.3 L454.6 250.6 L454.9 250.5 L455.3 251.6 L455.6 251 L456 251.7 L456.3 251.5 L456.6 250.5 L457 249.2 L457.3 248.8 L457.7 250.2 L458 252.1 L458.3 253.1 L458.7 252.8 L459 253.1 L459.4 252.9 L459.7 253.8 L460 251.5 L460.4 250.9 L460.7 250 L461.1 249.4 L461.4 248.3 L461.7 248.5 L462.1 250.2 L462.4 251.6 L462.8 252.5 L463.1 252.2 L463.4 252.1 L463.8 252.3 L464.1 252.9 L464.5 251.8 L464.8 250.7 L465.1 250.1 L465.5 250.5 L465.8 252.6 L466.2 254 L466.5 253.3 L466.8 253.6 L467.2 253.4 L467.5 254.2 L467.9 252.2 L468.2 251.7 L468.5 251.1 L468.9 250.1 L469.2 248.7 L469.6 247.9 L469.9 248.8 L470.2 251.1 L470.6 252.2 L470.9 253.3 L471.2 253.5 L471.6 253.7 L471.9 253.5 L472.3 253.3 L472.6 252.5 L473 251.7 L473.3 250.6 L473.6 251.9 L474 253.1 L474.3 254 L474.7 254.1 L475 254.3 L475.3 254.8 L475.7 254.7 L476 252.2 L476.4 252.5 L476.7 251.6 L477 250.8 L477.4 250.5 L477.7 250.5 L478.1 250.9 L478.4 252 L478.7 253.2 L479.1 253.5 L479.4 254.1 L479.8 254.4 L480.1 254.3 L480.4 253.9 L480.8 253.3 L481.1 252 L481.5 251.6 L481.8 253.6 L482.1 254.8 L482.5 255.1 L482.8 254.8 L483.2 255.4 L483.5 255.8 L483.8 255.4 L484.2 253.1 L484.5 252.8 L484.9 251.3 L485.2 250.3 L485.5 249.6 L485.9 250.2 L486.2 251.1 L486.6 252.9 L486.9 254.5 L487.2 254.7 L487.6 254.6 L487.9 254.7 L488.2 254.3 L488.6 253.6 L488.9 252.6 L489.3 252 L489.6 252.3 L490 253.9 L490.3 255 L490.6 255.8 L491 255.9 L491.3 255.6 L491.7 255.9 L492 253.8 L492.3 253.1 L492.7 252.4 L493 251.6 L493.4 249.5 L493.7 249.5 L494 250.3 L494.4 252.4 L494.7 253.8 L495.1 254.6 L495.4 254.8 L495.7 255 L496.1 254.9 L496.4 254.8 L496.8 253.8 L497.1 252.7 L497.4 252.3 L497.8 253.2 L498.1 255.1 L498.5 255.8 L498.8 255.8 L499.1 255.4 L499.5 256 L499.8 255.6 L500.2 253.8 L500.5 253.4 L500.8 253.2 L501.2 252.3 L501.5 251.4 L501.9 250.8 L502.2 251.8 L502.5 253.8 L502.9 254.6 L503.2 254.2 L503.6 254.7 L503.9 254.6 L504.2 254.6 L504.6 254.3 L504.9 253.3 L505.2 252.7 L505.6 252.5 L505.9 253.8 L506.3 255 L506.6 255.9 L507 255.8 L507.3 255.9 L507.6 255.6 L508 253.3 L508.3 253.3 L508.7 253.9 L509 252.3 L509.3 251.1 L509.7 250.9 L510 251.7 L510.4 252.7 L510.7 253.2 L511 254.3 L511.4 254.8 L511.7 254.7 L512 254.4 L512.4 255.1 L512.7 253.5 L513.1 252.8 L513.4 251.8 L513.8 253 L514.1 253.6 L514.4 255.1 L514.8 254.9 L515.1 255.8 L515.5 255.5 L515.8 255.7 L516.1 252.8 L516.5 253.5 L516.8 252.3 L517.1 251.3 L517.5 249.9 L517.8 249.9 L518.2 250.7 L518.5 252.8 L518.9 254.3 L519.2 254 L519.5 253.7 L519.9 254 L520.2 253.9 L520.5 254.1 L520.9 253 L521.2 252.6 L521.6 251.7 L521.9 252.7 L522.2 253.8 L522.6 254.5 L522.9 255.5 L523.3 255.4 L523.6 254.8 L524 255 L524.3 253.4 L524.6 252.8 L525 251.5 L525.3 250.5 L525.6 248.7 L526 249.1 L526.3 250.9 L526.7 252.4 L527 253.9 L527.4 254.2 L527.7 254.2 L528 253.8 L528.4 253.8 L528.7 254 L529 252.4 L529.4 251.6 L529.7 251.5 L530.1 252.8 L530.4 254.7 L530.8 254.9 L531.1 254.6 L531.4 254.8 L531.8 254.6 L532.1 253 L532.5 253 L532.8 252.1 L533.1 250.7 L533.5 249.5 L533.8 247.9 L534.1 249.8 L534.5 251.2 L534.8 252.4 L535.2 253.6 L535.5 253.6 L535.9 253.4 L536.2 254.1 L536.5 253.9 L536.9 253.5 L537.2 252.4 L537.5 251.3 L537.9 252.3 L538.2 253.5 L538.6 254.7 L538.9 254 L539.2 254.5 L539.6 254.4 L539.9 255.2 L540.3 251.9 L540.6 252.7 L540.9 251.9 L541.3 250.1 L541.6 248.5 L542 249 L542.3 249.8 L542.6 251.2 L543 253.5 L543.3 253.4 L543.7 252.8 L544 253.2 L544.4 253.8 L544.7 253.3 L545 252.8 L545.4 251.2 L545.7 250.4 L546 252.3 L546.4 253.4 L546.7 253.6 L547.1 254.2 L547.4 254.5 L547.8 254.3 L548.1 254.1 L548.4 252 L548.8 252.1 L549.1 250.8 L549.4 249 L549.8 248.4 L550.1 248.3 L550.5 249.5 L550.8 251.7 L551.1 252.3 L551.5 252.3 L551.8 253 L552.2 253.1 L552.5 253 L552.9 253 L553.2 251.1 L553.5 250 L553.9 250.4 L554.2 252.2 L554.5 252.9 L554.9 253.2 L555.2 253.4 L555.6 253.4 L555.9 253.8 L556.2 251.5 L556.6 251.6 L556.9 251.1 L557.3 249.9 L557.6 248.8 L557.9 247.4 L558.3 248.2 L558.6 249.6 L559 251.7 L559.3 251.7 L559.6 252.2 L560 252.8 L560.3 252.1 L560.7 252.6 L561 252 L561.4 250.6 L561.7 249.5 L562 250.7 L562.4 251.9 L562.7 253.1 L563 253.1 L563.4 253 L563.7 252.7 L564.1 253.8 L564.4 251.4 L564.8 251.3 L565.1 249.8 L565.4 249.3 L565.8 247.8 L566.1 248 L566.4 249 L566.8 250 L567.1 252.1 L567.5 251.7 L567.8 251.8 L568.1 251.4 L568.5 251.6 L568.8 251.8 L569.2 250.7 L569.5 249.5 L569.9 249.7 L570.2 250.6 L570.5 251.8 L570.9 252.9 L571.2 252.4 L571.5 252.5 L571.9 253.2 L572.2 253.1 L572.6 250.1 L572.9 251.1 L573.2 249.7 L573.6 248.9 L573.9 247.7 L574.3 248.3 L574.6 248.7 L574.9 250.8 L575.3 250.8 L575.6 251.6 L576 251.3 L576.3 251.1 L576.6 251.3 L577 251.3 L577.3 249.9 L577.7 249.1 L578 248.9 L578.4 250.1 L578.7 252.1 L579 252.3 L579.4 252.4 L579.7 251.8 L580 252.2 L580.4 250 L580.7 250 L581.1 249.6 L581.4 248.4 L581.8 247 L582.1 246 L582.4 247.4 L582.8 249.2 L583.1 250.7 L583.4 250.4 L583.8 250.7 L584.1 251.5 L584.5 250.7 L584.8 250.9 L585.1 250.8 L585.5 248.9 L585.8 248.6 L586.2 249.7 L586.5 250.6 L586.9 251.5 L587.2 252.4 L587.5 252.2 L587.9 252.1 L588.2 252 L588.5 250 L588.9 250.3 L589.2 249.3 L589.6 247.6 L589.9 247.1 L590.2 246.5 L590.6 248.3 L590.9 249.1 L591.3 250.8 L591.6 250.8 L591.9 251 L592.3 251.1 L592.6 250.7 L593 251.1 L593.3 250.2 L593.6 248.6 L594 248.8 L594.3 250 L594.7 251 L595 251.3 L595.4 251.9 L595.7 251.9 L596 251.4 L596.4 252.4 L596.7 249.3 L597 249.3 L597.4 248.9 L597.7 247 L598.1 246.1 L598.4 247.3 L598.8 248.6 L599.1 249.7 L599.4 250.2 L599.8 250.4 L600.1 250.4 L600.4 250.7 L600.8 251.2 L601.1 250.2 L601.5 248.7 L601.8 248.2 L602.1 248.5 L602.5 250.4 L602.8 250.9 L603.2 251.8 L603.5 251.5 L603.9 251.1 L604.2 252.1 L604.5 249.5 L604.9 249.1 L605.2 248.9 L605.5 247.3 L605.9 246.9 L606.2 245.4 L606.6 247.4 L606.9 248.7 L607.2 249.6 L607.6 250.1 L607.9 250.3 L608.3 250.8 L608.6 250.3 L608.9 250.8 L609.3 249.8 L609.6 248.1 L610 247.5 L610.3 249.3 L610.6 250.4 L611 250.8 L611.3 251.1 L611.7 251.2 L612 251 L612.4 251.7 L612.7 249.6 L613 249.7 L613.4 247.8 L613.7 247.2 L614 245.7 L614.4 245.4 L614.7 246.9 L615.1 248.2 L615.4 249.7 L615.8 249.8 L616.1 249.8 L616.4 250.2 L616.8 250.6 L617.1 250.6 L617.4 248.7 L617.8 247.6 L618.1 247.9 L618.5 248.9 L618.8 250.4 L619.1 250.8 L619.5 250.8 L619.8 251.4 L620.2 251.8 L620.5 251.7 L620.9 249.4 L621.2 248.6 L621.5 247.6 L621.9 245.8 L622.2 245 L622.5 245.5 L622.9 247 L623.2 248.8 L623.6 250.2 L623.9 250.5 L624.2 249.7 L624.6 250.5 L624.9 250.6 L625.3 249.3 L625.6 248.5 L625.9 248.1 L626.3 248.8 L626.6 250 L627 250.8 L627.3 250.7 L627.6 251 L628 251.5 L628.3 251.3 L628.7 249.1 L629 249.7 L629.4 248.3 L629.7 246.9 L630 246.6 L630.4 245.5 L630.7 246.7 L631 247.7 L631.4 250 L631.7 249.8 L632.1 250 L632.4 250.6 L632.8 250.4 L633.1 250.9 L633.4 249.5 L633.8 248.5 L634.1 247.5 L634.4 249.3 L634.8 249.7 L635.1 250.6 L635.5 250.8 L635.8 251.2 L636.1 251.8 L636.5 252 L636.8 249 L637.2 249.1 L637.5 248.1 L637.9 246.5 L638.2 245.6 L638.5 245.7 L638.9 247.2 L639.2 248.8 L639.5 250.2 L639.9 250.1 L640.2 250.6 L640.6 250 L640.9 250.1 L641.2 250.5 L641.6 248.6 L641.9 248.1 L642.3 247.8 L642.6 249.4 L642.9 251.3 L643.3 250.9 L643.6 250.8 L644 251.8 L644.3 251.4 L644.6 249.3 L645 249.6 L645.3 249 L645.7 247.8 L646 246.9 L646.4 245.8 L646.7 246.4 L647 248 L647.4 249.3 L647.7 250.4 L648 250.7 L648.4 249.9 L648.7 250.5 L649.1 250.6 L649.4 250.1 L649.8 248.6 L650.1 248 L650.4 249.1 L650.8 250.1 L651.1 251.6 L651.4 251 L651.8 251.3 L652.1 251.2 L652.5 251.4 L652.8 249.6 L653.1 249 L653.5 248.9 L653.8 247.7 L654.2 246 L654.5 245.8 L654.9 246.9 L655.2 248 L655.5 250 L655.9 250.6 L656.2 250.1 L656.5 250.5 L656.9 250.2 L657.2 250.8 L657.6 249.7 L657.9 248.6 L658.2 247.9 L658.6 249.3 L658.9 250.8 L659.3 251.6 L659.6 251.2 L659.9 251.2 L660.3 251.6 L660.6 251.2 L661 249.4 L661.3 249.9 L661.6 248.1 L662 246.7 L662.3 246.2 L662.7 246.7 L663 248.1 L663.4 249.3 L663.7 250.6 L664 250.7 L664.4 250.2 L664.7 250.8 L665 250.4 L665.4 250.8 L665.7 248.8 L666.1 248.1 L666.4 248 L666.8 249.8 L667.1 250.9 L667.4 251.3 L667.8 251 L668.1 251.7 L668.4 251.5 L668.8 249.6 L669.1 249.3 L669.5 249.7 L669.8 248 L670.1 246.6 L670.5 245.4 L670.8 246.8 L671.2 247.9 L671.5 249.4 L671.9 250.2 L672.2 250.2 L672.5 250.3 L672.9 250.2 L673.2 250.5 L673.5 250.2 L673.9 248.9 L674.2 248 L674.6 249.4 L674.9 249.8 L675.2 251.5 L675.6 251.6 L675.9 251.1 L676.3 251.8 L676.6 251.5 L676.9 249.9 L677.3 249.5 L677.6 248.9 L678 248.2 L678.3 246.7 L678.6 246.7 L679 247.3 L679.3 248.7 L679.7 250.8 L680 250.8 L680.4 250.3 L680.7 251.1 L681 250.9 L681.4 250.6 L681.7 250.1 L682 248.9 L682.4 248.4 L682.7 249.2 L683.1 250.7 L683.4 251.7 L683.8 251.8 L684.1 252 L684.4 251.9 L684.8 252 L685.1 249.9 L685.4 250.1 L685.8 247.7 L686.1 246.4 L686.5 245.4 L686.8 246.1 L687.1 247.4 L687.5 249.1 L687.8 250.3 L688.2 250.7 L688.5 251.1 L688.9 250.4 L689.2 250.4 L689.5 250.4 L689.9 249.6 L690.2 248.2 L690.5 248.7 L690.9 249.6 L691.2 251.4 L691.6 251.4 L691.9 251.4 L692.2 252 L692.6 251.5 L692.9 249.1 L693.3 249.6 L693.6 249 L693.9 248.4 L694.3 247.1 L694.6 245.5 L695 247.6 L695.3 248.3 L695.6 250.1 L696 250.8 L696.3 251 L696.7 250.2 L697 250.5 L697.4 250.5 L697.7 249.9 L698 248.5 L698.4 247.7 L698.7 249.2 L699 250.9 L699.4 251.6 L699.7 251.5 L700.1 251.5 L700.4 252 L700.8 251.9 L701.1 249.3 L701.4 250.2 L701.8 248.5 L702.1 247.1 L702.4 246.1 L702.8 246.4 L703.1 247.7 L703.5 248.9 L703.8 250.4 L704.1 250.6 L704.5 250.7 L704.8 250.8 L705.2 251.3 L705.5 250.7 L705.9 250 L706.2 249.1 L706.5 248.8 L706.9 249.6 L707.2 250.7 L707.5 251.8 L707.9 251.5 L708.2 251.7 L708.6 251.7 L708.9 252.1 L709.2 249.3 L709.6 249.6 L709.9 248.4 L710.3 247.8 L710.6 246.7 L710.9 247.3 L711.3 248.8 L711.6 249.4 L712 250.1 L712.3 250.8 L712.6 251.1 L713 250.4 L713.3 250.8 L713.7 250.7 L714 249 L714.4 247.9 L714.7 248.6 L715 250.1 L715.4 252 L715.7 251.4 L716 251.5 L716.4 252 L716.7 251.6 L717.1 249.3 L717.4 250.2 L717.8 249.5 L718.1 248.1 L718.4 245.9 L718.8 245.7 L719.1 246.4 L719.4 248 L719.8 250.1 L720.1 251 L720.5 250.2 L720.8 250.3 L721.1 251.3 L721.5 251.1 L721.8 250.4 L722.2 249.3 L722.5 248 L722.9 249.1 L723.2 250.2 L723.5 251.7 L723.9 251.5 L724.2 251.9 L724.5 252 L724.9 252.1 L725.2 249.3 L725.6 250.1 L725.9 248.4 L726.2 247.6 L726.6 245.6 L726.9 246.1 L727.3 247.1 L727.6 248.9 L727.9 250.8 L728.3 251.1 L728.6 251 L729 251.2 L729.3 251.2 L729.6 251.3 L730 250 L730.3 248.5 L730.7 248.6 L731 250 L731.4 251.2 L731.7 251.5 L732 252.1 L732.4 251.8 L732.7 252.2 L733 252.1 L733.4 249.7 L733.7 250.1 L734.1 248.6 L734.4 247.6 L734.8 246.6 L735.1 247.5 L735.4 248.3 L735.8 249.8 L736.1 251 L736.4 251.1 L736.8 250.5 L737.1 250.4 L737.5 251.3 L737.8 250.5 L738.1 249.6 L738.5 247.9 L738.8 248.8 L739.2 250.1 L739.5 252 L739.9 251.5 L740.2 251.9 L740.5 251.6 L740.9 251.7 L741.2 249.4 L741.5 249.3 L741.9 248.6 L742.2 247.4 L742.6 246 L742.9 245.3 L743.2 247 L743.6 248 L743.9 250.5 L744.3 250.3 L744.6 250.9 L744.9 251.2 L745.3 250.6 L745.6 251 L746 249.9 L746.3 249.1 L746.6 248.1 L747 249.4 L747.3 250.5 L747.7 251.2 L748 251.5 L748.4 251.7 L748.7 251.6 L749 252.4 L749.4 249.4 L749.7 249.6 L750 248.5 L750.4 247.3 L750.7 245.9 L751.1 246.5 L751.4 248.1 L751.8 249.6 L752.1 250.1 L752.4 250.4 L752.8 250.3 L753.1 250.8 L753.4 250.8 L753.8 251.2 L754.1 249.2 L754.5 248.2 L754.8 248.3 L755.1 249.5 L755.5 251.5 L755.8 251.8 L756.2 251.3 L756.5 252 L756.9 251.5 L757.2 252.1 L757.5 250 L757.9 249.4 L758.2 248 L758.5 247.7 L758.9 246.5 L759.2 247 L759.6 248.5 L759.9 250.2 L760.2 251 L760.6 250.6 L760.9 250.6 L761.3 250.6 L761.6 251 L761.9 250.6 L762.3 249.7 L762.6 248 L763 249.5 L763.3 250.2 L763.6 251.7 L764 252.1 L764.3 251.9 L764.7 252.3 L765 251.9 L765.4 249.8 L765.7 250.3 L766 249 L766.4 247.7 L766.7 246.6 L767 246.3 L767.4 247.8 L767.7 249.3 L768.1 250.3 L768.4 250.8 L768.8 250.6 L769.1 250.9 L769.4 250.9 L769.8 251 L770.1 250.4 L770.4 248.9 L770.8 248.4 L771.1 249.5 L771.5 250.6 L771.8 251.9 L772.1 251.7 L772.5 252 L772.8 252.1 L773.2 251.9 L773.5 250 L773.9 249.9 L774.2 249.2 L774.5 247.6 L774.9 246.6 L775.2 247.1 L775.5 247.9 L775.9 249.7 L776.2 250.9 L776.6 250.3 L776.9 250.4 L777.2 251.2 L777.6 251.4 L777.9 251.3 L778.3 249.4 L778.6 248.5 L778.9 249.2 L779.3 249.9 L779.6 251 L780 252 L780.3 251.5 L780.6 252.4 L781 252.1 L781.3 249.5 L781.7 249.4 L782 249.3 L782.4 248.1 L782.7 247.7 L783 246.8 L783.4 247.7 L783.7 248.6 L784 250.1 L784.4 250.1 L784.7 251.1 L785.1 251.1 L785.4 250.5 L785.8 250.7 L786.1 250.2 L786.4 249.7 L786.8 248.3 L787.1 248.6 L787.4 250.6 L787.8 251.4 L788.1 251.2 L788.5 252.2 L788.8 251.6 L789.1 251.9 L789.5 249.4 L789.8 250 L790.2 249.1 L790.5 248.3 L790.9 247.6 L791.2 246.5 L791.5 247.9 L791.9 248.7 L792.2 250.6 L792.5 250.6 L792.9 251.1 L793.2 250.7 L793.6 250.7 L793.9 251.4 L794.2 250.2 L794.6 249.2 L794.9 248.4 L795.3 250 L795.6 251.2 L795.9 251.7 L796.3 251.3 L796.6 251.5 L797 252.4 L797.3 251.7 L797.6 250.1 L798 249.9 L798.3 248.3 L798.7 247.5 L799 246.7 L799.4 246.2 L799.7 248.1 L800 249.1 L800.4 250.3 L800.7 251.1 L801 251.1 L801.4 250.5 L801.7 250.7 L802.1 251.1 L802.4 249.4 L802.8 248.3 L803.1 249.2 L803.1 256.3 L802.8 255.8 L802.4 255.9 L802.1 255.6 L801.7 255.8 L801.4 256.6 L801 256.7 L800.7 257.2 L800.4 256.2 L800 255.4 L799.7 255.1 L799.4 255.4 L799 255.4 L798.7 254.5 L798.3 257.1 L798 259.2 L797.6 261.7 L797.3 264.2 L797 262.4 L796.6 260.4 L796.3 257.3 L795.9 256 L795.6 255.9 L795.3 256.6 L794.9 255.8 L794.6 256 L794.2 255.9 L793.9 255.4 L793.6 256.2 L793.2 256.9 L792.9 256.6 L792.5 257.2 L792.2 256.6 L791.9 255.7 L791.5 254.9 L791.2 255.5 L790.9 254.5 L790.5 255.6 L790.2 258.1 L789.8 259.8 L789.5 261.2 L789.1 263.4 L788.8 261.7 L788.5 259.5 L788.1 256.7 L787.8 256.7 L787.4 255.9 L787.1 256.1 L786.8 255.6 L786.4 255.6 L786.1 256.2 L785.8 255.3 L785.4 256.5 L785.1 257.1 L784.7 257.1 L784.4 257.1 L784 255.8 L783.7 255.3 L783.4 255.2 L783 254.7 L782.7 254.5 L782.4 256.7 L782 259 L781.7 261.4 L781.3 263.2 L781 263.4 L780.6 261.1 L780.3 259 L780 256.8 L779.6 256.8 L779.3 256.4 L778.9 256 L778.6 256.5 L778.3 255.7 L777.9 255.7 L777.6 256 L777.2 256.6 L776.9 256.9 L776.6 257.9 L776.2 256.4 L775.9 255.3 L775.5 255.6 L775.2 255.3 L774.9 255.3 L774.5 254.4 L774.2 257.7 L773.9 259.5 L773.5 261.4 L773.2 264.5 L772.8 262.9 L772.5 260 L772.1 257.9 L771.8 256.1 L771.5 256.3 L771.1 256.5 L770.8 256.3 L770.4 256.2 L770.1 255.9 L769.8 255.9 L769.4 255.4 L769.1 256.7 L768.8 256.9 L768.4 257.5 L768.1 256 L767.7 255.7 L767.4 255.4 L767 254.7 L766.7 255.2 L766.4 256.1 L766 259 L765.7 261.3 L765.4 263.5 L765 264.1 L764.7 262.4 L764.3 259.2 L764 256.5 L763.6 256.3 L763.3 256.5 L763 256.2 L762.6 256.1 L762.3 256.1 L761.9 255.9 L761.6 255.6 L761.3 256 L760.9 256.9 L760.6 257.3 L760.2 257.2 L759.9 256.3 L759.6 255.3 L759.2 255.4 L758.9 254.7 L758.5 254.9 L758.2 256.6 L757.9 258 L757.5 259.6 L757.2 263.4 L756.9 262.2 L756.5 259.9 L756.2 257.8 L755.8 256.7 L755.5 256.8 L755.1 256.6 L754.8 256 L754.5 255.8 L754.1 255.7 L753.8 256.2 L753.4 256.2 L753.1 256 L752.8 257.1 L752.4 256.9 L752.1 256.8 L751.8 256 L751.4 255.2 L751.1 254.8 L750.7 254.6 L750.4 255.3 L750 257.4 L749.7 260 L749.4 262.3 L749 265.3 L748.7 262.9 L748.4 260.5 L748 258 L747.7 256.8 L747.3 256.1 L747 255.9 L746.6 255.9 L746.3 255.6 L746 256.2 L745.6 255.5 L745.3 255.3 L744.9 256.5 L744.6 257.4 L744.3 257 L743.9 256.6 L743.6 255 L743.2 255.1 L742.9 254.8 L742.6 255.3 L742.2 256.1 L741.9 258.3 L741.5 260.7 L741.2 262.2 L740.9 263.8 L740.5 261.7 L740.2 259.3 L739.9 256.9 L739.5 256.3 L739.2 256.6 L738.8 255.8 L738.5 255.7 L738.1 255.9 L737.8 255.5 L737.5 255.8 L737.1 256.2 L736.8 256.8 L736.4 257.6 L736.1 257 L735.8 255.8 L735.4 254.7 L735.1 255.1 L734.8 255.2 L734.4 254.5 L734.1 257.4 L733.7 259.3 L733.4 261.7 L733 265.8 L732.7 263.6 L732.4 261.4 L732 258.6 L731.7 256.2 L731.4 256.6 L731 256 L730.7 256.3 L730.3 256.3 L730 255.4 L729.6 255.9 L729.3 255.7 L729 256.5 L728.6 256.8 L728.3 257.5 L727.9 256.9 L727.6 255.9 L727.3 255.1 L726.9 255 L726.6 254.5 L726.2 254.8 L725.9 257.3 L725.6 259.5 L725.2 261.1 L724.9 263.2 L724.5 261.2 L724.2 259.6 L723.9 257.1 L723.5 256.2 L723.2 256.6 L722.9 256 L722.5 255.8 L722.2 255.6 L721.8 256.3 L721.5 255.6 L721.1 255.6 L720.8 256.1 L720.5 256.8 L720.1 257.2 L719.8 256.6 L719.4 255 L719.1 254.8 L718.8 254.8 L718.4 254.6 L718.1 256.1 L717.8 259.1 L717.4 261.1 L717.1 262.5 L716.7 263.8 L716.4 261.2 L716 259 L715.7 256.5 L715.4 256.6 L715 256.2 L714.7 255.6 L714.4 256.1 L714 256 L713.7 256.2 L713.3 256 L713 256.6 L712.6 256.5 L712.3 257.2 L712 256.8 L711.6 255.7 L711.3 254.9 L710.9 254.7 L710.6 254.7 L710.3 255.2 L709.9 256.9 L709.6 259.9 L709.2 262.1 L708.9 265.8 L708.6 263.2 L708.2 261.1 L707.9 258.1 L707.5 256.7 L707.2 256.4 L706.9 256.7 L706.5 256.2 L706.2 256.3 L705.9 255.8 L705.5 255.3 L705.2 255.5 L704.8 255.8 L704.5 256.5 L704.1 256.8 L703.8 256.3 L703.5 255.9 L703.1 254.7 L702.8 254.6 L702.4 255 L702.1 255.6 L701.8 257.6 L701.4 259.6 L701.1 261.5 L700.8 263.9 L700.4 262.2 L700.1 259.2 L699.7 256.9 L699.4 256.6 L699 256.7 L698.7 256.3 L698.4 256.1 L698 255.5 L697.7 255.7 L697.4 256.1 L697 256.3 L696.7 257 L696.3 257.3 L696 256.9 L695.6 255.8 L695.3 254.8 L695 254.7 L694.6 255 L694.3 255.1 L693.9 256.6 L693.6 259.2 L693.3 260.7 L692.9 263.7 L692.6 263.9 L692.2 261.6 L691.9 259 L691.6 256.6 L691.2 256.1 L690.9 256.1 L690.5 256.4 L690.2 255.9 L689.9 256.2 L689.5 256.1 L689.2 255.6 L688.9 256.4 L688.5 256.5 L688.2 257.4 L687.8 256.7 L687.5 256 L687.1 254.8 L686.8 255 L686.5 254.6 L686.1 254.7 L685.8 256.8 L685.4 259.1 L685.1 261 L684.8 264.7 L684.4 262.2 L684.1 260.2 L683.8 258 L683.4 256.7 L683.1 255.9 L682.7 256.5 L682.4 256 L682 255.5 L681.7 255.4 L681.4 255.9 L681 255.6 L680.7 255.9 L680.4 257.1 L680 257.1 L679.7 255.8 L679.3 255.5 L679 254.8 L678.6 255 L678.3 255 L678 255.1 L677.6 257.7 L677.3 259.3 L676.9 261.1 L676.6 262.9 L676.3 260.9 L675.9 259.5 L675.6 256.7 L675.2 255.9 L674.9 256.1 L674.6 255.6 L674.2 255.3 L673.9 255.3 L673.5 255.7 L673.2 255.6 L672.9 256.1 L672.5 256 L672.2 256.8 L671.9 256.5 L671.5 255.5 L671.2 255.4 L670.8 254.5 L670.5 254.4 L670.1 255.1 L669.8 256 L669.5 258.7 L669.1 261 L668.8 262.9 L668.4 263.2 L668.1 260.6 L667.8 258.7 L667.4 256.1 L667.1 256 L666.8 255.9 L666.4 255.8 L666.1 256.2 L665.7 256 L665.4 255.2 L665 255 L664.7 255.8 L664.4 256.2 L664 257.2 L663.7 256.6 L663.4 255.1 L663 255.2 L662.7 255.1 L662.3 255.1 L662 254.4 L661.6 256.3 L661.3 258.7 L661 260.4 L660.6 263.7 L660.3 261.2 L659.9 259.1 L659.6 257.8 L659.3 255.7 L658.9 255.9 L658.6 255.5 L658.2 256.1 L657.9 255.6 L657.6 255.1 L657.2 255.4 L656.9 255.3 L656.5 256.4 L656.2 256.9 L655.9 257.2 L655.5 256.1 L655.2 254.7 L654.9 255.1 L654.5 254.8 L654.2 254.3 L653.8 255.5 L653.5 258.3 L653.1 260.1 L652.8 262 L652.5 263.8 L652.1 262.3 L651.8 259.1 L651.4 256.6 L651.1 255.6 L650.8 255.6 L650.4 255.7 L650.1 255.9 L649.8 255.5 L649.4 255.8 L649.1 255.6 L648.7 255.3 L648.4 256.2 L648 256.3 L647.7 256.5 L647.4 255.7 L647 254.2 L646.7 254.4 L646.4 254.7 L646 254.2 L645.7 256 L645.3 258.7 L645 260.9 L644.6 263.2 L644.3 263.6 L644 260.3 L643.6 258.3 L643.3 256.1 L642.9 256.2 L642.6 255.9 L642.3 255.2 L641.9 255.6 L641.6 255.2 L641.2 255.3 L640.9 255.7 L640.6 255.5 L640.2 256.6 L639.9 256.9 L639.5 255.9 L639.2 255.7 L638.9 255 L638.5 254.5 L638.2 254.1 L637.9 254.3 L637.5 257 L637.2 258.8 L636.8 261.3 L636.5 264.4 L636.1 262.3 L635.8 260.1 L635.5 257.6 L635.1 256 L634.8 255.4 L634.4 255.5 L634.1 255.1 L633.8 255.7 L633.4 255.7 L633.1 255.2 L632.8 255.4 L632.4 256.1 L632.1 256.7 L631.7 256.6 L631.4 256.2 L631 255.1 L630.7 254.1 L630.4 254.3 L630 254.7 L629.7 255.3 L629.4 258.1 L629 260.7 L628.7 261.9 L628.3 264.3 L628 261.1 L627.6 259.3 L627.3 255.7 L627 255.6 L626.6 255.6 L626.3 255.8 L625.9 255.9 L625.6 255.3 L625.3 255.4 L624.9 255.4 L624.6 255.7 L624.2 256.6 L623.9 257 L623.6 255.9 L623.2 255.5 L622.9 254.5 L622.5 253.9 L622.2 254 L621.9 254.7 L621.5 255.8 L621.2 257.6 L620.9 259.4 L620.5 263.2 L620.2 261.3 L619.8 259.1 L619.5 257.2 L619.1 255.6 L618.8 255.6 L618.5 255.7 L618.1 255.3 L617.8 255.9 L617.4 255.2 L617.1 254.8 L616.8 255.5 L616.4 256.2 L616.1 256 L615.8 257 L615.4 256.1 L615.1 255.1 L614.7 255 L614.4 254.8 L614 254.8 L613.7 254.1 L613.4 257 L613 260 L612.7 261.4 L612.4 264.6 L612 262.5 L611.7 259.4 L611.3 257.1 L611 255.8 L610.6 255.7 L610.3 256 L610 255.8 L609.6 255.6 L609.3 255.3 L608.9 255.2 L608.6 255.1 L608.3 256.6 L607.9 256.3 L607.6 256.3 L607.2 256.3 L606.9 255.2 L606.6 255.1 L606.2 254.5 L605.9 254.8 L605.5 256.3 L605.2 258.8 L604.9 260.8 L604.5 262.1 L604.2 263.7 L603.9 261.2 L603.5 258.8 L603.2 256.4 L602.8 256 L602.5 255.8 L602.1 256.2 L601.8 255.6 L601.5 255.9 L601.1 256 L600.8 255.2 L600.4 256.2 L600.1 256.5 L599.8 256.9 L599.4 256.8 L599.1 255.9 L598.8 254.9 L598.4 255.3 L598.1 254.7 L597.7 254.7 L597.4 256.8 L597 258.7 L596.7 259.6 L596.4 263.2 L596 261.3 L595.7 259.8 L595.4 258.1 L595 256.4 L594.7 256.2 L594.3 255.8 L594 256.1 L593.6 255.7 L593.3 256.1 L593 255.5 L592.6 256.3 L592.3 256.6 L591.9 257.1 L591.6 256.9 L591.3 256.9 L590.9 256.2 L590.6 255 L590.2 255 L589.9 254.7 L589.6 255.2 L589.2 257.7 L588.9 259.5 L588.5 261.4 L588.2 264.6 L587.9 262.2 L587.5 259.6 L587.2 257.5 L586.9 256.1 L586.5 256.2 L586.2 256.1 L585.8 256.7 L585.5 256.5 L585.1 255.6 L584.8 256.1 L584.5 256.6 L584.1 257.2 L583.8 257.3 L583.4 257.6 L583.1 256.6 L582.8 255.9 L582.4 255.1 L582.1 255.2 L581.8 255 L581.4 256.7 L581.1 258.9 L580.7 261.1 L580.4 263 L580 264.3 L579.7 262 L579.4 259.7 L579 256.5 L578.7 256.8 L578.4 256.2 L578 257 L577.7 256.4 L577.3 256.7 L577 256 L576.6 255.8 L576.3 257.2 L576 257.4 L575.6 257.8 L575.3 257.4 L574.9 256.5 L574.6 255.4 L574.3 255.9 L573.9 255.7 L573.6 256 L573.2 257.9 L572.9 259.7 L572.6 261.9 L572.2 266 L571.9 263.4 L571.5 261.3 L571.2 258.7 L570.9 257.8 L570.5 257.2 L570.2 257.2 L569.9 256.8 L569.5 256.5 L569.2 257.4 L568.8 257.1 L568.5 256.8 L568.1 257.8 L567.8 257.8 L567.5 258.3 L567.1 257.8 L566.8 256.5 L566.4 256.3 L566.1 256.1 L565.8 256.1 L565.4 256.2 L565.1 259 L564.8 260.9 L564.4 263 L564.1 264.9 L563.7 263.6 L563.4 260.8 L563 258.2 L562.7 258 L562.4 257.8 L562 257.2 L561.7 257.9 L561.4 257.9 L561 257.8 L560.7 256.8 L560.3 257.5 L560 258.3 L559.6 258.6 L559.3 258.5 L559 257.4 L558.6 257.3 L558.3 256.2 L557.9 256.4 L557.6 256.5 L557.3 257.8 L556.9 259.9 L556.6 262.3 L556.2 263.8 L555.9 264.9 L555.6 263.4 L555.2 260.4 L554.9 258.1 L554.5 258.6 L554.2 258.1 L553.9 258.2 L553.5 258.3 L553.2 258.2 L552.9 257.6 L552.5 258.2 L552.2 258.6 L551.8 258.5 L551.5 259.3 L551.1 259 L550.8 258.3 L550.5 257 L550.1 256.8 L549.8 257.4 L549.4 257.2 L549.1 258.9 L548.8 260.7 L548.4 262.2 L548.1 265.8 L547.8 264.1 L547.4 262.1 L547.1 260.4 L546.7 258.6 L546.4 258.9 L546 259.1 L545.7 258.9 L545.4 258.9 L545 258.6 L544.7 257.9 L544.4 258.4 L544 259 L543.7 259.6 L543.3 259.8 L543 258.8 L542.6 258.3 L542.3 257.7 L542 258 L541.6 258 L541.3 258.6 L540.9 260.3 L540.6 262.8 L540.3 264.8 L539.9 266.6 L539.6 264.1 L539.2 262.7 L538.9 259.8 L538.6 259 L538.2 258.9 L537.9 258.5 L537.5 258.7 L537.2 259 L536.9 258.6 L536.5 258.6 L536.2 258.6 L535.9 259.8 L535.5 260.4 L535.2 259.8 L534.8 259.3 L534.5 258.2 L534.1 257.9 L533.8 258.2 L533.5 257.8 L533.1 259.3 L532.8 261.9 L532.5 264.1 L532.1 265.2 L531.8 266 L531.4 264.2 L531.1 261.8 L530.8 259.2 L530.4 259.3 L530.1 259.2 L529.7 259.4 L529.4 259.6 L529 259 L528.7 259 L528.4 258.9 L528 259.3 L527.7 260 L527.4 260.2 L527 259.4 L526.7 259.1 L526.3 257.9 L526 257.9 L525.6 258.2 L525.3 258 L525 259.9 L524.6 261.7 L524.3 263.5 L524 266.7 L523.6 265 L523.3 263.2 L522.9 260.8 L522.6 260.1 L522.2 260.1 L521.9 259.8 L521.6 259.9 L521.2 259.5 L520.9 259.1 L520.5 259.5 L520.2 259.1 L519.9 259.8 L519.5 260.1 L519.2 261 L518.9 260.3 L518.5 258.5 L518.2 258.9 L517.8 258.9 L517.5 258.5 L517.1 259.1 L516.8 261.9 L516.5 263.7 L516.1 265.8 L515.8 267.5 L515.5 265.4 L515.1 263.2 L514.8 260.7 L514.4 260 L514.1 260.1 L513.8 259.8 L513.4 260 L513.1 259.1 L512.7 259.1 L512.4 259.9 L512 259.3 L511.7 260.3 L511.4 260.6 L511 260.4 L510.7 259.4 L510.4 258.7 L510 258.4 L509.7 259.1 L509.3 258.2 L509 259.8 L508.7 261.9 L508.3 264.5 L508 265.7 L507.6 266.9 L507.3 264.2 L507 262.5 L506.6 260.1 L506.3 260.1 L505.9 260.1 L505.6 259.8 L505.2 260.4 L504.9 260.2 L504.6 259.8 L504.2 259.7 L503.9 260 L503.6 261.2 L503.2 261 L502.9 260.5 L502.5 260.2 L502.2 259 L501.9 258.7 L501.5 258.6 L501.2 258.8 L500.8 261.4 L500.5 264.1 L500.2 265.7 L499.8 268.8 L499.5 266.1 L499.1 264.1 L498.8 262.1 L498.5 260.6 L498.1 260.5 L497.8 260.4 L497.4 260.3 L497.1 259.8 L496.8 259.6 L496.4 259.8 L496.1 259.9 L495.7 260.3 L495.4 260.9 L495.1 261.5 L494.7 259.9 L494.4 258.9 L494 259.2 L493.7 258.8 L493.4 258.9 L493 259.6 L492.7 262.3 L492.3 264.7 L492 266.9 L491.7 268.2 L491.3 265.5 L491 263.3 L490.6 260.5 L490.3 259.7 L490 260.3 L489.6 259.8 L489.3 259.3 L488.9 259.2 L488.6 259.5 L488.2 259.7 L487.9 259.6 L487.6 260.7 L487.2 261.2 L486.9 260.7 L486.6 259.2 L486.2 258.2 L485.9 258.4 L485.5 258.5 L485.2 258 L484.9 260.4 L484.5 262.8 L484.2 264.7 L483.8 268.4 L483.5 266.4 L483.2 263.9 L482.8 261.6 L482.5 259.9 L482.1 259.2 L481.8 259.7 L481.5 259.4 L481.1 259.3 L480.8 259.1 L480.4 259.5 L480.1 258.8 L479.8 259.8 L479.4 260.4 L479.1 260.2 L478.7 259.5 L478.4 258.5 L478.1 258.4 L477.7 258.4 L477.4 258 L477 258.2 L476.7 260.9 L476.4 262.9 L476 265.1 L475.7 268 L475.3 265.2 L475 263.2 L474.7 259.9 L474.3 259.1 L474 259.4 L473.6 258.8 L473.3 258.4 L473 258.6 L472.6 258.8 L472.3 258.5 L471.9 257.8 L471.6 259.1 L471.2 259.9 L470.9 259.9 L470.6 258.4 L470.2 257.4 L469.9 257 L469.6 257.1 L469.2 256.9 L468.9 258.3 L468.5 260.3 L468.2 261.9 L467.9 264.2 L467.5 265.7 L467.2 263.4 L466.8 261.1 L466.5 258.6 L466.2 258.4 L465.8 258.1 L465.5 258.1 L465.1 257.7 L464.8 257.5 L464.5 257.5 L464.1 257.7 L463.8 257.9 L463.4 258.9 L463.1 259.2 L462.8 258.1 L462.4 258 L462.1 256.8 L461.7 256.5 L461.4 256.1 L461.1 256.1 L460.7 258 L460.4 260.8 L460 262.8 L459.7 266.4 L459.4 263.7 L459 261.4 L458.7 258.9 L458.3 257.8 L458 256.9 L457.7 256.8 L457.3 257.1 L457 256.5 L456.6 256.9 L456.3 256.6 L456 256 L455.6 257.2 L455.3 257.6 L454.9 257.7 L454.6 256.3 L454.2 255.9 L453.9 255.6 L453.6 254.9 L453.2 254.6 L452.9 255.1 L452.6 257.5 L452.2 259.2 L451.9 261.1 L451.5 263.7 L451.2 261.9 L450.9 259.8 L450.5 256.3 L450.2 255.7 L449.8 255.9 L449.5 255.1 L449.2 255.3 L448.8 255.2 L448.5 254.7 L448.1 254.3 L447.8 255.1 L447.5 255.3 L447.1 255.4 L446.8 256.1 L446.4 255.1 L446.1 254.2 L445.8 253.9 L445.4 253.5 L445.1 253.2 L444.7 254.4 L444.4 256.4 L444.1 258 L443.7 260.1 L443.4 260.9 L443 259.4 L442.7 257.2 L442.4 254.4 L442 254.4 L441.7 253.5 L441.3 253.8 L441 253.7 L440.7 253.8 L440.3 253 L440 253.2 L439.6 252.8 L439.3 254 L439 254.7 L438.6 253.3 L438.3 252.9 L437.9 252.3 L437.6 252 L437.2 251.2 L436.9 251.2 L436.6 253.6 L436.2 255.8 L435.9 257.2 L435.6 260.5 L435.2 258.3 L434.9 256.7 L434.5 254.4 L434.2 252.1 L433.9 252.4 L433.5 252.6 L433.2 252.1 L432.8 251.6 L432.5 251.5 L432.2 251.9 L431.8 251 L431.5 251.6 L431.1 252.3 L430.8 253.2 L430.5 252 L430.1 250.8 L429.8 250.4 L429.4 250.2 L429.1 249.7 L428.8 250.8 L428.4 253.6 L428.1 255.7 L427.7 257.8 L427.4 259.7 L427.1 257 L426.7 254.7 L426.4 252.2 L426 251.3 L425.7 251.8 L425.4 251 L425 250.7 L424.7 251.2 L424.3 251.2 L424 251.2 L423.7 250.7 L423.3 251.5 L423 252 L422.6 252.4 L422.3 251.4 L422 250.2 L421.6 250.3 L421.3 250.3 L420.9 249.4 L420.6 251.6 L420.2 254 L419.9 255.8 L419.6 257.5 L419.2 258.5 L418.9 256.2 L418.6 253.6 L418.2 251.2 L417.9 250.9 L417.5 251.2 L417.2 251.5 L416.9 250.6 L416.5 251 L416.2 250.7 L415.8 250.4 L415.5 251.1 L415.2 251.7 L414.8 252.4 L414.5 251.6 L414.1 250.8 L413.8 250.5 L413.4 250.1 L413.1 249.7 L412.8 250 L412.4 252.6 L412.1 255.1 L411.8 257.6 L411.4 260.5 L411.1 258.9 L410.7 256.1 L410.4 253.4 L410.1 252.2 L409.7 252.1 L409.4 252.2 L409 251.8 L408.7 252 L408.4 252.3 L408 251.8 L407.7 252 L407.3 252.8 L407 253 L406.7 253.5 L406.3 253 L406 251.7 L405.6 251.6 L405.3 251.7 L404.9 251.3 L404.6 252.6 L404.3 254.9 L403.9 257.6 L403.6 259.3 L403.2 261.3 L402.9 259.9 L402.6 257.5 L402.2 254.2 L401.9 254 L401.6 253.9 L401.2 253.5 L400.9 253.6 L400.5 254.2 L400.2 253.9 L399.9 253.7 L399.5 254.5 L399.2 254.7 L398.8 255.3 L398.5 254.8 L398.2 255 L397.8 253.6 L397.5 253.8 L397.1 253.9 L396.8 253.5 L396.4 255.7 L396.1 257.2 L395.8 259.4 L395.4 260.6 L395.1 262 L394.8 260.4 L394.4 258.5 L394.1 256.4 L393.7 256.3 L393.4 256.5 L393.1 256.6 L392.7 256.4 L392.4 256.5 L392 256.4 L391.7 256.4 L391.4 257.4 L391 258.6 L390.7 259.4 L390.3 258.6 L390 257.4 L389.7 257.6 L389.3 256.9 L389 257.3 L388.6 257.1 L388.3 260 L387.9 262.8 L387.6 264.9 L387.3 268.4 L386.9 266.3 L386.6 264.6 L386.2 261.6 L385.9 260.1 L385.6 260.7 L385.2 260.8 L384.9 260.5 L384.6 260.9 L384.2 261.2 L383.9 261 L383.5 261.4 L383.2 262.2 L382.9 263 L382.5 263.1 L382.2 262.3 L381.8 262.2 L381.5 261 L381.2 261.8 L380.8 262 L380.5 262.3 L380.1 265.4 L379.8 267.5 L379.4 269.5 L379.1 272 L378.8 270.3 L378.4 267.9 L378.1 265.5 L377.8 265.7 L377.4 265.8 L377.1 265.6 L376.7 265.7 L376.4 265.9 L376.1 265.7 L375.7 265.9 L375.4 267.1 L375 267.8 L374.7 268.8 L374.4 268 L374 267.8 L373.7 267.4 L373.3 267.5 L373 267.1 L372.7 267.6 L372.3 269.9 L372 272.2 L371.6 273.7 L371.3 276.2 L370.9 276.5 L370.6 274.9 L370.3 273.2 L369.9 271.2 L369.6 271.1 L369.2 271.2 L368.9 272 L368.6 272.1 L368.2 271.5 L367.9 272 L367.6 272.6 L367.2 273.3 L366.9 274.2 L366.5 275.2 L366.2 274.4 L365.9 273.3 L365.5 273.6 L365.2 272.9 L364.8 273.7 L364.5 273.6 L364.2 276.8 L363.8 280.1 L363.5 282.5 L363.1 285.9 L362.8 283.6 L362.4 281.5 L362.1 279.1 L361.8 278.6 L361.4 278.9 L361.1 279.1 L360.8 278.9 L360.4 279.5 L360.1 279.8 L359.7 280.6 L359.4 279.9 L359.1 281.9 L358.7 282.6 L358.4 282.6 L358 283 L357.7 281.6 L357.4 282.3 L357 282.1 L356.7 282.2 L356.3 283.6 L356 285.9 L355.7 288.5 L355.3 289.8 L355 292.6 L354.6 291.2 L354.3 289.3 L353.9 286.8 L353.6 287.8 L353.3 287.8 L352.9 288.6 L352.6 288.7 L352.2 289 L351.9 288.8 L351.6 289 L351.2 289.9 L350.9 291.5 L350.6 292.1 L350.2 292.1 L349.9 291.7 L349.5 290.8 L349.2 291.3 L348.9 291.4 L348.5 291.6 L348.2 294.4 L347.8 297.7 L347.5 299.6 L347.2 305.1 L346.8 303.1 L346.5 300.6 L346.1 299.2 L345.8 297.4 L345.4 297.9 L345.1 297.8 L344.8 297.8 L344.4 298.1 L344.1 298.9 L343.8 299 L343.4 299 L343.1 300.6 L342.7 301.3 L342.4 302.2 L342.1 301.9 L341.7 301.6 L341.4 300.5 L341 301.5 L340.7 301.3 L340.4 301.8 L340 305.3 L339.7 309 L339.3 310.9 L339 315.2 L338.7 312.3 L338.3 310.8 L338 307.1 L337.6 307 L337.3 306.8 L336.9 307.1 L336.6 307.1 L336.3 307.5 L335.9 307.4 L335.6 307.7 L335.2 307.8 L334.9 308.9 L334.6 309.2 L334.2 309.4 L333.9 309.2 L333.6 308.3 L333.2 308.6 L332.9 308.7 L332.5 308 L332.2 309.6 L331.9 312.3 L331.5 315.3 L331.2 317.6 L330.8 318.6 L330.5 316.8 L330.2 314.9 L329.8 311.8 L329.5 312.4 L329.1 311.7 L328.8 311.8 L328.4 312.2 L328.1 311.7 L327.8 311.4 L327.4 311.8 L327.1 311.8 L326.8 312.7 L326.4 313.2 L326.1 312.9 L325.7 312 L325.4 311.4 L325.1 311.2 L324.7 311 L324.4 310.1 L324 312.7 L323.7 315.5 L323.4 316.9 L323 321 L322.7 318.8 L322.3 317.1 L322 314.1 L321.7 312.5 L321.3 312.3 L321 311.9 L320.6 311.7 L320.3 311.2 L319.9 311.1 L319.6 311.2 L319.3 310.7 L318.9 311.3 L318.6 311.7 L318.2 312.6 L317.9 311.8 L317.6 310 L317.2 309.7 L316.9 309.7 L316.6 309.6 L316.2 309.2 L315.9 312.7 L315.5 314.8 L315.2 317.2 L314.9 320.5 L314.5 317.7 L314.2 314.7 L313.8 311.7 L313.5 309.7 L313.2 309.4 L312.8 309.5 L312.5 309.1 L312.1 308.7 L311.8 308.2 L311.4 308.1 L311.1 308 L310.8 308.5 L310.4 309.5 L310.1 308.7 L309.8 307.7 L309.4 306.9 L309.1 305.9 L308.7 306.4 L308.4 306.2 L308.1 306.9 L307.7 309.7 L307.4 312.4 L307 314.3 L306.7 315.4 L306.4 311.9 L306 309.2 L305.7 306.4 L305.3 306.1 L305 305.4 L304.7 305.2 L304.3 305.5 L304 305.1 L303.6 304.3 L303.3 303.8 L302.9 304.3 L302.6 304.8 L302.3 305.5 L301.9 305.1 L301.6 303.7 L301.2 302.8 L300.9 301.9 L300.6 301.6 L300.2 301.4 L299.9 304.4 L299.6 306.4 L299.2 308.5 L298.9 312.1 L298.5 309.7 L298.2 306.7 L297.9 304.4 L297.5 301.7 L297.2 301.4 L296.8 301.6 L296.5 301.4 L296.2 300.5 L295.8 300.1 L295.5 300 L295.1 299.9 L294.8 300.1 L294.4 300.8 L294.1 301.2 L293.8 300.2 L293.4 299 L293.1 297.6 L292.8 296.9 L292.4 296.4 L292.1 296.9 L291.7 300.1 L291.4 301.9 L291.1 304.1 L290.7 306.5 L290.4 303.7 L290 300.8 L289.7 296.8 L289.4 296 L289 295.4 L288.7 295.4 L288.3 294.4 L288 294.6 L287.7 293.6 L287.3 293.9 L287 293.4 L286.6 293.3 L286.3 294.5 L285.9 293.8 L285.6 292.5 L285.3 290.5 L284.9 290.1 L284.6 289.4 L284.2 288.9 L283.9 290.6 L283.6 292.4 L283.2 294.7 L282.9 295.9 L282.6 297.4 L282.2 295.2 L281.9 292.9 L281.5 291 L281.2 290.9 L280.9 290.8 L280.5 290.9 L280.2 290.5 L279.8 290.6 L279.5 291.1 L279.2 290.4 L278.8 291.7 L278.5 292.6 L278.1 293.2 L277.8 291.8 L277.4 291.2 L277.1 289.6 L276.8 289.6 L276.4 289.8 L276.1 289.4 L275.8 291.2 L275.4 294.1 L275.1 295.6 L274.7 298.9 L274.4 296.8 L274.1 294 L273.7 292.8 L273.4 292.7 L273 293.9 L272.7 295.5 L272.3 296.6 L272 299 L271.7 300.2 L271.3 301.9 L271 306.6 L270.6 311.5 L270.3 315.9 L270 321.2 L269.6 322.2 L269.3 321 L268.9 319.8 L268.6 319.1 L268.3 318.4 L267.9 317.3 L267.6 316.3 L267.2 316.1 L266.9 315.3 L266.6 315.5 L266.2 313.8 L265.9 311.4 L265.6 309.7 L265.2 308.6 L264.9 307.6 L264.5 306.3 L264.2 305.4 L263.8 304.7 L263.5 304 L263.2 302.6 L262.8 302.2 L262.5 300.9 L262.1 300.9 L261.8 299.6 L261.5 295.2 L261.1 284.5 L260.8 273.8 L260.4 262.6 L260.1 257 L259.8 259.3 L259.4 260.6 L259.1 262.5 L258.8 264.7 L258.4 264.6 L258.1 262.1 L257.7 259.3 L257.4 257.1 L257.1 257.1 L256.7 256.9 L256.4 257.1 L256 256.7 L255.7 256.4 L255.3 256.6 L255 255.7 L254.7 256.3 L254.3 257.2 L254 257.1 L253.7 256.8 L253.3 255.8 L253 255.3 L252.6 254.6 L252.3 254.1 L252 253.9 L251.6 256.7 L251.3 259.2 L250.9 261.5 L250.6 264.2 L250.2 262.3 L249.9 259.8 L249.6 256.5 L249.2 255.1 L248.9 254.8 L248.6 254.2 L248.2 254.2 L247.9 254.5 L247.5 254.1 L247.2 253.9 L246.8 253.7 L246.5 254.5 L246.2 254.8 L245.8 254.6 L245.5 253.1 L245.2 252.4 L244.8 252.1 L244.5 251.6 L244.1 251.8 L243.8 251.9 L243.5 253.8 L243.1 255.9 L242.8 257.6 L242.4 259.1 L242.1 257.2 L241.8 254.6 L241.4 252.4 L241.1 251.2 L240.7 251.5 L240.4 250.8 L240.1 251.1 L239.7 250.4 L239.4 251 L239 250.2 L238.7 250.3 L238.3 251.1 L238 251.5 L237.7 251.9 L237.3 250.7 L237 249.5 L236.7 249.3 L236.3 249.3 L236 249.2 L235.6 250.9 L235.3 252.7 L235 255.1 L234.6 256.8 L234.3 257.5 L233.9 255.2 L233.6 253.3 L233.2 251.1 L232.9 250.8 L232.6 250.3 L232.2 250.1 L231.9 250.7 L231.6 250.4 L231.2 250.5 L230.9 250 L230.5 250.1 L230.2 251 L229.8 251.7 L229.5 251.2 L229.2 250 L228.8 248.8 L228.5 249.6 L228.2 249 L227.8 249.3 L227.5 251.3 L227.1 253.3 L226.8 254.6 L226.5 257.3 L226.1 255.8 L225.8 253.8 L225.4 251.1 L225.1 250.2 L224.8 250.5 L224.4 250.4 L224.1 250.3 L223.7 250.3 L223.4 249.4 L223.1 249.4 L222.7 249.7 L222.4 250.2 L222 251 L221.7 251.2 L221.3 250.3 L221 249.5 L220.7 248.8 L220.3 248.4 L220 248.4 L219.7 250 L219.3 252.2 L219 253.8 L218.6 255.9 L218.3 257.6 L217.9 255.3 L217.6 253.4 L217.3 249.8 L216.9 250.1 L216.6 250.2 L216.2 249.7 L215.9 249.8 L215.6 249.3 L215.2 249.5 L214.9 248.9 L214.6 248.9 L214.2 250.1 L213.9 250.3 L213.5 249.8 L213.2 249.1 L212.8 248.8 L212.5 248.1 L212.2 248.1 L211.8 248.2 L211.5 249.6 L211.2 251.5 L210.8 253.3 L210.5 256.6 L210.1 255.4 L209.8 253.6 L209.4 250.8 L209.1 249.3 L208.8 249.4 L208.4 249.7 L208.1 249 L207.8 249.5 L207.4 248.8 L207.1 248.8 L206.7 249 L206.4 249 L206.1 249.5 L205.7 250.1 L205.4 249 L205 248.1 L204.7 247.6 L204.3 247.7 L204 247.9 L203.7 247.8 L203.3 249.8 L203 251.8 L202.7 253.3 L202.3 255.9 L202 253.8 L201.6 252.5 L201.3 249.6 L200.9 249.2 L200.6 249.2 L200.3 248.7 L199.9 248.3 L199.6 248.3 L199.2 248.6 L198.9 248.3 L198.6 248.8 L198.2 249.5 L197.9 250.1 L197.6 249.7 L197.2 248.9 L196.9 248.2 L196.5 247.1 L196.2 246.9 L195.8 246.9 L195.5 248.9 L195.2 250.5 L194.8 252.1 L194.5 254.3 L194.2 255.8 L193.8 253.7 L193.5 251.6 L193.1 248.2 L192.8 248.8 L192.4 248.1 L192.1 248.2 L191.8 248 L191.4 248.1 L191.1 248.4 L190.8 248.4 L190.4 248.3 L190.1 248.4 L189.7 249.3 L189.4 248.6 L189.1 247.7 L188.7 247.7 L188.4 246.9 L188 246.6 L187.7 246.7 L187.3 248.7 L187 251.6 L186.7 253.3 L186.3 256.8 L186 254.9 L185.7 252.9 L185.3 250.6 L185 248.6 L184.6 248.5 L184.3 248.4 L183.9 247.8 L183.6 248 L183.3 248 L182.9 247.5 L182.6 247.3 L182.2 248.2 L181.9 248.5 L181.6 249.4 L181.2 248.2 L180.9 247.5 L180.6 247 L180.2 246.4 L179.9 246.1 L179.5 247.1 L179.2 249.4 L178.8 250.8 L178.5 252.3 L178.2 255 L177.8 253.4 L177.5 250.8 L177.2 248.4 L176.8 247.4 L176.5 248.2 L176.1 247.4 L175.8 248 L175.4 247.5 L175.1 247.6 L174.8 246.9 L174.4 247.1 L174.1 247.6 L173.8 248.6 L173.4 248.3 L173.1 247.9 L172.7 246.7 L172.4 246.9 L172.1 246.4 L171.7 246 L171.4 247.9 L171 249.1 L170.7 251.7 L170.3 253.6 L170 254.6 L169.7 252.7 L169.3 250.3 L169 247.3 L168.7 247.9 L168.3 247.7 L168 247.1 L167.6 247.1 L167.3 247.6 L166.9 246.7 L166.6 247.1 L166.3 247.1 L165.9 248.2 L165.6 248.8 L165.2 248.2 L164.9 247.5 L164.6 246.7 L164.2 246 L163.9 246.3 L163.6 246.4 L163.2 248.4 L162.9 249.7 L162.5 252 L162.2 254.9 L161.8 253 L161.5 251.2 L161.2 248.7 L160.8 247.7 L160.5 247.9 L160.2 246.9 L159.8 247.2 L159.5 246.9 L159.1 247.2 L158.8 246.5 L158.4 246.2 L158.1 247.7 L157.8 247.5 L157.4 248.6 L157.1 247.6 L156.8 246.6 L156.4 246 L156.1 245.9 L155.7 245.8 L155.4 246 L155.1 248.8 L154.7 250.3 L154.4 251.7 L154 254.1 L153.7 252.4 L153.3 250.3 L153 248 L152.7 247 L152.3 246.9 L152 246.7 L151.7 247.2 L151.3 246.9 L151 247.1 L150.6 246.8 L150.3 246.6 L149.9 247.6 L149.6 247.8 L149.3 247.7 L148.9 247.1 L148.6 246 L148.2 245.7 L147.9 245.8 L147.6 245.8 L147.2 246.5 L146.9 248.5 L146.5 250.6 L146.2 251.7 L145.9 252.9 L145.5 251.5 L145.2 249.2 L144.8 246.7 L144.5 247.4 L144.2 247.3 L143.8 247.2 L143.5 247.1 L143.1 246.9 L142.8 246.9 L142.5 246.1 L142.1 246.4 L141.8 247.4 L141.4 247.6 L141.1 247.3 L140.8 246.1 L140.4 246.1 L140.1 245.3 L139.8 245.4 L139.4 245.7 L139.1 247.4 L138.7 249.6 L138.4 251.2 L138 253.6 L137.7 252.5 L137.4 249.8 L137 248.2 L136.7 247.1 L136.3 247.1 L136 246.8 L135.7 246.1 L135.3 246 L135 246.8 L134.6 246.5 L134.3 246.3 L134 247.1 L133.6 247.2 L133.3 248 L132.9 247.1 L132.6 245.5 L132.3 245.8 L131.9 244.9 L131.6 245.5 L131.2 246 L130.9 248.4 L130.6 251 L130.2 252.7 L129.9 254.6 L129.5 252.2 L129.2 249.6 L128.9 246.9 L128.5 246.9 L128.2 246.2 L127.8 246 L127.5 246.5 L127.2 246.1 L126.8 246.3 L126.5 245.8 L126.1 246.1 L125.8 246.4 L125.5 247.1 L125.1 246.9 L124.8 246.3 L124.4 245 L124.1 245.7 L123.8 244.7 L123.4 245.5 L123.1 246.8 L122.7 248.3 L122.4 250.3 L122.1 252.3 L121.7 253.1 L121.4 250.9 L121 248.8 L120.7 246.9 L120.4 246.1 L120 246.7 L119.7 246.2 L119.3 245.9 L119 246 L118.7 245.7 L118.3 246.1 L118 246.4 L117.6 246.9 L117.3 247.3 L117 247.3 L116.6 245.5 L116.3 245.1 L115.9 244.8 L115.6 244.7 L115.3 244.9 L114.9 247.7 L114.6 249.4 L114.2 251.2 L113.9 254.5 L113.6 252.4 L113.2 250.7 L112.9 247.6 L112.5 246.1 L112.2 246.4 L111.9 246.5 L111.5 246.3 L111.2 246.3 L110.8 245.9 L110.5 245.6 L110.2 245.5 L109.8 246.3 L109.5 247.2 L109.1 246.7 L108.8 246.4 L108.5 245.3 L108.1 245.1 L107.8 245.1 L107.4 244.5 L107.1 245.8 L106.8 247.8 L106.4 249.7 L106.1 251.2 L105.7 253.2 L105.4 251.5 L105.1 249 L104.7 246.8 L104.4 245.9 L104 246.6 L103.7 245.8 L103.4 246.3 L103 245.9 L102.7 246 L102.3 245.5 L102 245.6 L101.7 247.1 L101.3 247.4 L101 246.6 L100.6 245.6 L100.3 245.1 L100 245 L99.6 245.3 L99.3 244.6 L98.9 246.4 L98.6 248 L98.3 250 L97.9 252 L97.6 252.7 L97.2 249.9 L96.9 247.9 L96.6 246.2 L96.2 245.8 L95.9 245.7 L95.5 245.7 L95.2 245.5 L94.9 245.4 L94.5 246 L94.2 245.9 L93.8 246.1 L93.5 246.5 L93.2 247.7 L92.8 246.6 L92.5 245.9 L92.1 244.9 L91.8 245.2 L91.5 244.8 L91.1 244.4 L90.8 247.1 L90.4 248.7 L90.1 250.1 L89.8 253.7 L89.4 252 L89.1 249.2 L88.7 247.7 L88.4 246.5 L88.1 245.9 L87.7 246.3 L87.4 245.9 L87 245.8 L86.7 245.3 L86.4 245.8 L86 245.9 L85.7 246.6 L85.3 246.4 L85 246.6 L84.7 246.5 L84.3 245.7 L84 244.9 L83.6 245.2 L83.3 244.5 L83 245.6 L82.6 248.5 L82.3 250.5 L81.9 252.9 L81.6 254.3 L81.3 252.2 L80.9 249.5 L80.6 245.7 L80.2 246.3 L79.9 245.9 L79.6 245.9 L79.2 245.4 L78.9 246 L78.5 245.7 L78.2 245.3 L77.9 245.7 L77.5 246.4 L77.2 247.3 L76.8 246.9 L76.5 245.7 L76.2 245 L75.8 245.1 L75.5 244.2 L75.1 244.8 L74.8 246.7 L74.5 249.1 L74.1 251.3 L73.8 255 L73.4 253 L73.1 250.2 L72.8 248.6 L72.4 246.5 L72.1 246.3 L71.7 246.1 L71.4 245.8 L71.1 245.9 L70.7 245.5 L70.4 245.1 L70 245.1 L69.7 246.1 L69.4 246.6 L69 247.4 L68.7 246.7 L68.3 245.5 L68 244.2 L67.7 244.7 L67.3 244.1 L67 245 L66.6 246.7 L66.3 249 L66 250.6 L65.6 252.8 L65.3 251.2 L64.9 249.3 L64.6 247 L64.3 246.3 L63.9 246.1 L63.6 245.5 L63.2 245.4 L62.9 245.8 L62.6 245 L62.2 245.4 L61.9 245.4 L61.5 246.4 L61.2 247.1 L60.9 246.7 L60.5 246.1 L60.2 245.4 L59.8 244.2 L59.5 244.6 L59.2 244.7 L58.8 246.1 L58.5 248.2 L58.1 250.3 L57.8 252.7 L57.5 253.2 L57.1 251.8 L56.8 249.1 L56.4 246.4 L56.1 246 L55.8 245.4 L55.4 245.6 L55.1 245.5 L54.7 245 L54.4 244.9 L54.1 245.6 L53.7 245.8 L53.4 246.4 L53 247.2 L52.7 245.8 L52.4 245.7 L52 245 L51.7 244.3 L51.3 244.1 L51 244.8 L50.7 246 L50.3 248.2 L50 250.1 L49.6 253.9 L49.3 252.2 L49 250.6 L48.6 247.7 L48.3 246 L47.9 245.3 L47.6 245.5 L47.3 245.9 L46.9 245.8 L46.6 244.8 L46.2 244.9 L45.9 245.5 L45.6 246.2 L45.2 246.6 L44.9 247 L44.5 245.5 L44.2 244.7 L43.9 244.2 L43.5 244.2 L43.2 244.5 L42.8 244.9 L42.5 246.2 L42.2 248.7 L41.8 250.6 L41.5 252.3 L41.1 250.3 L40.8 249.2 L40.5 246.8 L40.1 245.3 L39.8 245.3 L39.4 245.5 L39.1 245.2 L38.8 245.5 L38.4 245.2 L38.1 244.8 L37.7 245.7 L37.4 245.9 L37.1 246.5 L36.7 246.6 L36.4 245.4 L36 244.6 L35.7 244 L35.4 243.8 L35 243.9 L34.7 245.6 L34.3 247.9 L34 250.3 L33.7 252 L33.3 253.2 L33 250.8 L32.6 248.1 L32.3 245.4 L32 245.1 L31.6 245.9 L31.3 245.8 L30.9 244.8 L30.6 245.3 L30.3 245.4 L29.9 245.3 L29.6 245.2 L29.2 246.5 L28.9 246.4 L28.6 246.1 L28.2 245.5 L27.9 244.4 L27.5 243.9 L27.2 243.9 L26.9 244.1 L26.5 246.3 L26.2 247.7 L25.8 249.9 L25.5 253.5 L25.2 252 L24.8 249.1 L24.5 247 L24.1 245.9 L23.8 245.4 L23.5 245.8 L23.1 244.8 L22.8 244.9 L22.4 245.1Z" fill="#00009c"/>
</g>
<path d="M99.9 75.05h1.6v0.9h-1.6zM99.9 85.46h1.6v0.9h-1.6zM99.9 95.88h1.6v0.9h-1.6zM99.9 106.29h1.6v0.9h-1.6zM99.9 127.13h1.6v0.9h-1.6zM99.9 137.54h1.6v0.9h-1.6zM99.9 147.96h1.6v0.9h-1.6zM99.9 158.37h1.6v0.9h-1.6zM99.9 179.21h1.6v0.9h-1.6zM99.9 189.62h1.6v0.9h-1.6zM99.9 200.04h1.6v0.9h-1.6zM99.9 210.45h1.6v0.9h-1.6zM99.9 231.29h1.6v0.9h-1.6zM99.9 241.7h1.6v0.9h-1.6zM99.9 252.12h1.6v0.9h-1.6zM99.9 262.53h1.6v0.9h-1.6zM99.9 283.37h1.6v0.9h-1.6zM99.9 293.78h1.6v0.9h-1.6zM99.9 304.2h1.6v0.9h-1.6zM99.9 314.61h1.6v0.9h-1.6zM99.9 335.45h1.6v0.9h-1.6zM99.9 345.86h1.6v0.9h-1.6zM99.9 356.28h1.6v0.9h-1.6zM99.9 366.69h1.6v0.9h-1.6zM99.9 387.53h1.6v0.9h-1.6zM99.9 397.94h1.6v0.9h-1.6zM99.9 408.36h1.6v0.9h-1.6zM99.9 418.77h1.6v0.9h-1.6zM99.9 439.61h1.6v0.9h-1.6zM99.9 450.02h1.6v0.9h-1.6zM99.9 460.44h1.6v0.9h-1.6zM99.9 470.85h1.6v0.9h-1.6zM177.95 75.05h1.6v0.9h-1.6zM177.95 85.46h1.6v0.9h-1.6zM177.95 95.88h1.6v0.9h-1.6zM177.95 106.29h1.6v0.9h-1.6zM177.95 127.13h1.6v0.9h-1.6zM177.95 137.54h1.6v0.9h-1.6zM177.95 147.96h1.6v0.9h-1.6zM177.95 158.37h1.6v0.9h-1.6zM177.95 179.21h1.6v0.9h-1.6zM177.95 189.62h1.6v0.9h-1.6zM177.95 200.04h1.6v0.9h-1.6zM177.95 210.45h1.6v0.9h-1.6zM177.95 231.29h1.6v0.9h-1.6zM177.95 241.7h1.6v0.9h-1.6zM177.95 252.12h1.6v0.9h-1.6zM177.95 262.53h1.6v0.9h-1.6zM177.95 283.37h1.6v0.9h-1.6zM177.95 293.78h1.6v0.9h-1.6zM177.95 304.2h1.6v0.9h-1.6zM177.95 314.61h1.6v0.9h-1.6zM177.95 335.45h1.6v0.9h-1.6zM177.95 345.86h1.6v0.9h-1.6zM177.95 356.28h1.6v0.9h-1.6zM177.95 366.69h1.6v0.9h-1.6zM177.95 387.53h1.6v0.9h-1.6zM177.95 397.94h1.6v0.9h-1.6zM177.95 408.36h1.6v0.9h-1.6zM177.95 418.77h1.6v0.9h-1.6zM177.95 439.61h1.6v0.9h-1.6zM177.95 450.02h1.6v0.9h-1.6zM177.95 460.44h1.6v0.9h-1.6zM177.95 470.85h1.6v0.9h-1.6zM256 75.05h1.6v0.9h-1.6zM256 85.46h1.6v0.9h-1.6zM256 95.88h1.6v0.9h-1.6zM256 106.29h1.6v0.9h-1.6zM256 127.13h1.6v0.9h-1.6zM256 137.54h1.6v0.9h-1.6zM256 147.96h1.6v0.9h-1.6zM256 158.37h1.6v0.9h-1.6zM256 179.21h1.6v0.9h-1.6zM256 189.62h1.6v0.9h-1.6zM256 200.04h1.6v0.9h-1.6zM256 210.45h1.6v0.9h-1.6zM256 231.29h1.6v0.9h-1.6zM256 241.7h1.6v0.9h-1.6zM256 252.12h1.6v0.9h-1.6zM256 262.53h1.6v0.9h-1.6zM256 283.37h1.6v0.9h-1.6zM256 293.78h1.6v0.9h-1.6zM256 304.2h1.6v0.9h-1.6zM256 314.61h1.6v0.9h-1.6zM256 335.45h1.6v0.9h-1.6zM256 345.86h1.6v0.9h-1.6zM256 356.28h1.6v0.9h-1.6zM256 366.69h1.6v0.9h-1.6zM256 387.53h1.6v0.9h-1.6zM256 397.94h1.6v0.9h-1.6zM256 408.36h1.6v0.9h-1.6zM256 418.77h1.6v0.9h-1.6zM256 439.61h1.6v0.9h-1.6zM256 450.02h1.6v0.9h-1.6zM256 460.44h1.6v0.9h-1.6zM256 470.85h1.6v0.9h-1.6zM334.05 75.05h1.6v0.9h-1.6zM334.05 85.46h1.6v0.9h-1.6zM334.05 95.88h1.6v0.9h-1.6zM334.05 106.29h1.6v0.9h-1.6zM334.05 127.13h1.6v0.9h-1.6zM334.05 137.54h1.6v0.9h-1.6zM334.05 147.96h1.6v0.9h-1.6zM334.05 158.37h1.6v0.9h-1.6zM334.05 179.21h1.6v0.9h-1.6zM334.05 189.62h1.6v0.9h-1.6zM334.05 200.04h1.6v0.9h-1.6zM334.05 210.45h1.6v0.9h-1.6zM334.05 231.29h1.6v0.9h-1.6zM334.05 241.7h1.6v0.9h-1.6zM334.05 252.12h1.6v0.9h-1.6zM334.05 262.53h1.6v0.9h-1.6zM334.05 283.37h1.6v0.9h-1.6zM334.05 293.78h1.6v0.9h-1.6zM334.05 304.2h1.6v0.9h-1.6zM334.05 314.61h1.6v0.9h-1.6zM334.05 335.45h1.6v0.9h-1.6zM334.05 345.86h1.6v0.9h-1.6zM334.05 356.28h1.6v0.9h-1.6zM334.05 366.69h1.6v0.9h-1.6zM334.05 387.53h1.6v0.9h-1.6zM334.05 397.94h1.6v0.9h-1.6zM334.05 408.36h1.6v0.9h-1.6zM334.05 418.77h1.6v0.9h-1.6zM334.05 439.61h1.6v0.9h-1.6zM334.05 450.02h1.6v0.9h-1.6zM334.05 460.44h1.6v0.9h-1.6zM334.05 470.85h1.6v0.9h-1.6zM490.15 75.05h1.6v0.9h-1.6zM490.15 85.46h1.6v0.9h-1.6zM490.15 95.88h1.6v0.9h-1.6zM490.15 106.29h1.6v0.9h-1.6zM490.15 127.13h1.6v0.9h-1.6zM490.15 137.54h1.6v0.9h-1.6zM490.15 147.96h1.6v0.9h-1.6zM490.15 158.37h1.6v0.9h-1.6zM490.15 179.21h1.6v0.9h-1.6zM490.15 189.62h1.6v0.9h-1.6zM490.15 200.04h1.6v0.9h-1.6zM490.15 210.45h1.6v0.9h-1.6zM490.15 231.29h1.6v0.9h-1.6zM490.15 241.7h1.6v0.9h-1.6zM490.15 252.12h1.6v0.9h-1.6zM490.15 262.53h1.6v0.9h-1.6zM490.15 283.37h1.6v0.9h-1.6zM490.15 293.78h1.6v0.9h-1.6zM490.15 304.2h1.6v0.9h-1.6zM490.15 314.61h1.6v0.9h-1.6zM490.15 335.45h1.6v0.9h-1.6zM490.15 345.86h1.6v0.9h-1.6zM490.15 356.28h1.6v0.9h-1.6zM490.15 366.69h1.6v0.9h-1.6zM490.15 387.53h1.6v0.9h-1.6zM490.15 397.94h1.6v0.9h-1.6zM490.15 408.36h1.6v0.9h-1.6zM490.15 418.77h1.6v0.9h-1.6zM490.15 439.61h1.6v0.9h-1.6zM490.15 450.02h1.6v0.9h-1.6zM490.15 460.44h1.6v0.9h-1.6zM490.15 470.85h1.6v0.9h-1.6zM568.2 75.05h1.6v0.9h-1.6zM568.2 85.46h1.6v0.9h-1.6zM568.2 95.88h1.6v0.9h-1.6zM568.2 106.29h1.6v0.9h-1.6zM568.2 127.13h1.6v0.9h-1.6zM568.2 137.54h1.6v0.9h-1.6zM568.2 147.96h1.6v0.9h-1.6zM568.2 158.37h1.6v0.9h-1.6zM568.2 179.21h1.6v0.9h-1.6zM568.2 189.62h1.6v0.9h-1.6zM568.2 200.04h1.6v0.9h-1.6zM568.2 210.45h1.6v0.9h-1.6zM568.2 231.29h1.6v0.9h-1.6zM568.2 241.7h1.6v0.9h-1.6zM568.2 252.12h1.6v0.9h-1.6zM568.2 262.53h1.6v0.9h-1.6zM568.2 283.37h1.6v0.9h-1.6zM568.2 293.78h1.6v0.9h-1.6zM568.2 304.2h1.6v0.9h-1.6zM568.2 314.61h1.6v0.9h-1.6zM568.2 335.45h1.6v0.9h-1.6zM568.2 345.86h1.6v0.9h-1.6zM568.2 356.28h1.6v0.9h-1.6zM568.2 366.69h1.6v0.9h-1.6zM568.2 387.53h1.6v0.9h-1.6zM568.2 397.94h1.6v0.9h-1.6zM568.2 408.36h1.6v0.9h-1.6zM568.2 418.77h1.6v0.9h-1.6zM568.2 439.61h1.6v0.9h-1.6zM568.2 450.02h1.6v0.9h-1.6zM568.2 460.44h1.6v0.9h-1.6zM568.2 470.85h1.6v0.9h-1.6zM646.25 75.05h1.6v0.9h-1.6zM646.25 85.46h1.6v0.9h-1.6zM646.25 95.88h1.6v0.9h-1.6zM646.25 106.29h1.6v0.9h-1.6zM646.25 127.13h1.6v0.9h-1.6zM646.25 137.54h1.6v0.9h-1.6zM646.25 147.96h1.6v0.9h-1.6zM646.25 158.37h1.6v0.9h-1.6zM646.25 179.21h1.6v0.9h-1.6zM646.25 189.62h1.6v0.9h-1.6zM646.25 200.04h1.6v0.9h-1.6zM646.25 210.45h1.6v0.9h-1.6zM646.25 231.29h1.6v0.9h-1.6zM646.25 241.7h1.6v0.9h-1.6zM646.25 252.12h1.6v0.9h-1.6zM646.25 262.53h1.6v0.9h-1.6zM646.25 283.37h1.6v0.9h-1.6zM646.25 293.78h1.6v0.9h-1.6zM646.25 304.2h1.6v0.9h-1.6zM646.25 314.61h1.6v0.9h-1.6zM646.25 335.45h1.6v0.9h-1.6zM646.25 345.86h1.6v0.9h-1.6zM646.25 356.28h1.6v0.9h-1.6zM646.25 366.69h1.6v0.9h-1.6zM646.25 387.53h1.6v0.9h-1.6zM646.25 397.94h1.6v0.9h-1.6zM646.25 408.36h1.6v0.9h-1.6zM646.25 418.77h1.6v0.9h-1.6zM646.25 439.61h1.6v0.9h-1.6zM646.25 450.02h1.6v0.9h-1.6zM646.25 460.44h1.6v0.9h-1.6zM646.25 470.85h1.6v0.9h-1.6zM724.3 75.05h1.6v0.9h-1.6zM724.3 85.46h1.6v0.9h-1.6zM724.3 95.88h1.6v0.9h-1.6zM724.3 106.29h1.6v0.9h-1.6zM724.3 127.13h1.6v0.9h-1.6zM724.3 137.54h1.6v0.9h-1.6zM724.3 147.96h1.6v0.9h-1.6zM724.3 158.37h1.6v0.9h-1.6zM724.3 179.21h1.6v0.9h-1.6zM724.3 189.62h1.6v0.9h-1.6zM724.3 200.04h1.6v0.9h-1.6zM724.3 210.45h1.6v0.9h-1.6zM724.3 231.29h1.6v0.9h-1.6zM724.3 241.7h1.6v0.9h-1.6zM724.3 252.12h1.6v0.9h-1.6zM724.3 262.53h1.6v0.9h-1.6zM724.3 283.37h1.6v0.9h-1.6zM724.3 293.78h1.6v0.9h-1.6zM724.3 304.2h1.6v0.9h-1.6zM724.3 314.61h1.6v0.9h-1.6zM724.3 335.45h1.6v0.9h-1.6zM724.3 345.86h1.6v0.9h-1.6zM724.3 356.28h1.6v0.9h-1.6zM724.3 366.69h1.6v0.9h-1.6zM724.3 387.53h1.6v0.9h-1.6zM724.3 397.94h1.6v0.9h-1.6zM724.3 408.36h1.6v0.9h-1.6zM724.3 418.77h1.6v0.9h-1.6zM724.3 439.61h1.6v0.9h-1.6zM724.3 450.02h1.6v0.9h-1.6zM724.3 460.44h1.6v0.9h-1.6zM724.3 470.85h1.6v0.9h-1.6zM37.81 116.46h0.9v1.4h-0.9zM53.42 116.46h0.9v1.4h-0.9zM69.03 116.46h0.9v1.4h-0.9zM84.64 116.46h0.9v1.4h-0.9zM100.25 116.46h0.9v1.4h-0.9zM115.86 116.46h0.9v1.4h-0.9zM131.47 116.46h0.9v1.4h-0.9zM147.08 116.46h0.9v1.4h-0.9zM162.69 116.46h0.9v1.4h-0.9zM178.3 116.46h0.9v1.4h-0.9zM193.91 116.46h0.9v1.4h-0.9zM209.52 116.46h0.9v1.4h-0.9zM225.13 116.46h0.9v1.4h-0.9zM240.74 116.46h0.9v1.4h-0.9zM256.35 116.46h0.9v1.4h-0.9zM271.96 116.46h0.9v1.4h-0.9zM287.57 116.46h0.9v1.4h-0.9zM303.18 116.46h0.9v1.4h-0.9zM318.79 116.46h0.9v1.4h-0.9zM334.4 116.46h0.9v1.4h-0.9zM350.01 116.46h0.9v1.4h-0.9zM365.62 116.46h0.9v1.4h-0.9zM381.23 116.46h0.9v1.4h-0.9zM396.84 116.46h0.9v1.4h-0.9zM412.45 116.46h0.9v1.4h-0.9zM428.06 116.46h0.9v1.4h-0.9zM443.67 116.46h0.9v1.4h-0.9zM459.28 116.46h0.9v1.4h-0.9zM474.89 116.46h0.9v1.4h-0.9zM490.5 116.46h0.9v1.4h-0.9zM506.11 116.46h0.9v1.4h-0.9zM521.72 116.46h0.9v1.4h-0.9zM537.33 116.46h0.9v1.4h-0.9zM552.94 116.46h0.9v1.4h-0.9zM568.55 116.46h0.9v1.4h-0.9zM584.16 116.46h0.9v1.4h-0.9zM599.77 116.46h0.9v1.4h-0.9zM615.38 116.46h0.9v1.4h-0.9zM630.99 116.46h0.9v1.4h-0.9zM646.6 116.46h0.9v1.4h-0.9zM662.21 116.46h0.9v1.4h-0.9zM677.82 116.46h0.9v1.4h-0.9zM693.43 116.46h0.9v1.4h-0.9zM709.04 116.46h0.9v1.4h-0.9zM724.65 116.46h0.9v1.4h-0.9zM740.26 116.46h0.9v1.4h-0.9zM755.87 116.46h0.9v1.4h-0.9zM771.48 116.46h0.9v1.4h-0.9zM787.09 116.46h0.9v1.4h-0.9zM37.81 168.54h0.9v1.4h-0.9zM53.42 168.54h0.9v1.4h-0.9zM69.03 168.54h0.9v1.4h-0.9zM84.64 168.54h0.9v1.4h-0.9zM100.25 168.54h0.9v1.4h-0.9zM115.86 168.54h0.9v1.4h-0.9zM131.47 168.54h0.9v1.4h-0.9zM147.08 168.54h0.9v1.4h-0.9zM162.69 168.54h0.9v1.4h-0.9zM178.3 168.54h0.9v1.4h-0.9zM193.91 168.54h0.9v1.4h-0.9zM209.52 168.54h0.9v1.4h-0.9zM225.13 168.54h0.9v1.4h-0.9zM240.74 168.54h0.9v1.4h-0.9zM256.35 168.54h0.9v1.4h-0.9zM271.96 168.54h0.9v1.4h-0.9zM287.57 168.54h0.9v1.4h-0.9zM303.18 168.54h0.9v1.4h-0.9zM318.79 168.54h0.9v1.4h-0.9zM334.4 168.54h0.9v1.4h-0.9zM350.01 168.54h0.9v1.4h-0.9zM365.62 168.54h0.9v1.4h-0.9zM381.23 168.54h0.9v1.4h-0.9zM396.84 168.54h0.9v1.4h-0.9zM412.45 168.54h0.9v1.4h-0.9zM428.06 168.54h0.9v1.4h-0.9zM443.67 168.54h0.9v1.4h-0.9zM459.28 168.54h0.9v1.4h-0.9zM474.89 168.54h0.9v1.4h-0.9zM490.5 168.54h0.9v1.4h-0.9zM506.11 168.54h0.9v1.4h-0.9zM521.72 168.54h0.9v1.4h-0.9zM537.33 168.54h0.9v1.4h-0.9zM552.94 168.54h0.9v1.4h-0.9zM568.55 168.54h0.9v1.4h-0.9zM584.16 168.54h0.9v1.4h-0.9zM599.77 168.54h0.9v1.4h-0.9zM615.38 168.54h0.9v1.4h-0.9zM630.99 168.54h0.9v1.4h-0.9zM646.6 168.54h0.9v1.4h-0.9zM662.21 168.54h0.9v1.4h-0.9zM677.82 168.54h0.9v1.4h-0.9zM693.43 168.54h0.9v1.4h-0.9zM709.04 168.54h0.9v1.4h-0.9zM724.65 168.54h0.9v1.4h-0.9zM740.26 168.54h0.9v1.4h-0.9zM755.87 168.54h0.9v1.4h-0.9zM771.48 168.54h0.9v1.4h-0.9zM787.09 168.54h0.9v1.4h-0.9zM37.81 220.62h0.9v1.4h-0.9zM53.42 220.62h0.9v1.4h-0.9zM69.03 220.62h0.9v1.4h-0.9zM84.64 220.62h0.9v1.4h-0.9zM100.25 220.62h0.9v1.4h-0.9zM115.86 220.62h0.9v1.4h-0.9zM131.47 220.62h0.9v1.4h-0.9zM147.08 220.62h0.9v1.4h-0.9zM162.69 220.62h0.9v1.4h-0.9zM178.3 220.62h0.9v1.4h-0.9zM193.91 220.62h0.9v1.4h-0.9zM209.52 220.62h0.9v1.4h-0.9zM225.13 220.62h0.9v1.4h-0.9zM240.74 220.62h0.9v1.4h-0.9zM256.35 220.62h0.9v1.4h-0.9zM271.96 220.62h0.9v1.4h-0.9zM287.57 220.62h0.9v1.4h-0.9zM303.18 220.62h0.9v1.4h-0.9zM318.79 220.62h0.9v1.4h-0.9zM334.4 220.62h0.9v1.4h-0.9zM350.01 220.62h0.9v1.4h-0.9zM365.62 220.62h0.9v1.4h-0.9zM381.23 220.62h0.9v1.4h-0.9zM396.84 220.62h0.9v1.4h-0.9zM412.45 220.62h0.9v1.4h-0.9zM428.06 220.62h0.9v1.4h-0.9zM443.67 220.62h0.9v1.4h-0.9zM459.28 220.62h0.9v1.4h-0.9zM474.89 220.62h0.9v1.4h-0.9zM490.5 220.62h0.9v1.4h-0.9zM506.11 220.62h0.9v1.4h-0.9zM521.72 220.62h0.9v1.4h-0.9zM537.33 220.62h0.9v1.4h-0.9zM552.94 220.62h0.9v1.4h-0.9zM568.55 220.62h0.9v1.4h-0.9zM584.16 220.62h0.9v1.4h-0.9zM599.77 220.62h0.9v1.4h-0.9zM615.38 220.62h0.9v1.4h-0.9zM630.99 220.62h0.9v1.4h-0.9zM646.6 220.62h0.9v1.4h-0.9zM662.21 220.62h0.9v1.4h-0.9zM677.82 220.62h0.9v1.4h-0.9zM693.43 220.62h0.9v1.4h-0.9zM709.04 220.62h0.9v1.4h-0.9zM724.65 220.62h0.9v1.4h-0.9zM740.26 220.62h0.9v1.4h-0.9zM755.87 220.62h0.9v1.4h-0.9zM771.48 220.62h0.9v1.4h-0.9zM787.09 220.62h0.9v1.4h-0.9zM37.81 324.78h0.9v1.4h-0.9zM53.42 324.78h0.9v1.4h-0.9zM69.03 324.78h0.9v1.4h-0.9zM84.64 324.78h0.9v1.4h-0.9zM100.25 324.78h0.9v1.4h-0.9zM115.86 324.78h0.9v1.4h-0.9zM131.47 324.78h0.9v1.4h-0.9zM147.08 324.78h0.9v1.4h-0.9zM162.69 324.78h0.9v1.4h-0.9zM178.3 324.78h0.9v1.4h-0.9zM193.91 324.78h0.9v1.4h-0.9zM209.52 324.78h0.9v1.4h-0.9zM225.13 324.78h0.9v1.4h-0.9zM240.74 324.78h0.9v1.4h-0.9zM256.35 324.78h0.9v1.4h-0.9zM271.96 324.78h0.9v1.4h-0.9zM287.57 324.78h0.9v1.4h-0.9zM303.18 324.78h0.9v1.4h-0.9zM318.79 324.78h0.9v1.4h-0.9zM334.4 324.78h0.9v1.4h-0.9zM350.01 324.78h0.9v1.4h-0.9zM365.62 324.78h0.9v1.4h-0.9zM381.23 324.78h0.9v1.4h-0.9zM396.84 324.78h0.9v1.4h-0.9zM412.45 324.78h0.9v1.4h-0.9zM428.06 324.78h0.9v1.4h-0.9zM443.67 324.78h0.9v1.4h-0.9zM459.28 324.78h0.9v1.4h-0.9zM474.89 324.78h0.9v1.4h-0.9zM490.5 324.78h0.9v1.4h-0.9zM506.11 324.78h0.9v1.4h-0.9zM521.72 324.78h0.9v1.4h-0.9zM537.33 324.78h0.9v1.4h-0.9zM552.94 324.78h0.9v1.4h-0.9zM568.55 324.78h0.9v1.4h-0.9zM584.16 324.78h0.9v1.4h-0.9zM599.77 324.78h0.9v1.4h-0.9zM615.38 324.78h0.9v1.4h-0.9zM630.99 324.78h0.9v1.4h-0.9zM646.6 324.78h0.9v1.4h-0.9zM662.21 324.78h0.9v1.4h-0.9zM677.82 324.78h0.9v1.4h-0.9zM693.43 324.78h0.9v1.4h-0.9zM709.04 324.78h0.9v1.4h-0.9zM724.65 324.78h0.9v1.4h-0.9zM740.26 324.78h0.9v1.4h-0.9zM755.87 324.78h0.9v1.4h-0.9zM771.48 324.78h0.9v1.4h-0.9zM787.09 324.78h0.9v1.4h-0.9zM37.81 376.86h0.9v1.4h-0.9zM53.42 376.86h0.9v1.4h-0.9zM69.03 376.86h0.9v1.4h-0.9zM84.64 376.86h0.9v1.4h-0.9zM100.25 376.86h0.9v1.4h-0.9zM115.86 376.86h0.9v1.4h-0.9zM131.47 376.86h0.9v1.4h-0.9zM147.08 376.86h0.9v1.4h-0.9zM162.69 376.86h0.9v1.4h-0.9zM178.3 376.86h0.9v1.4h-0.9zM193.91 376.86h0.9v1.4h-0.9zM209.52 376.86h0.9v1.4h-0.9zM225.13 376.86h0.9v1.4h-0.9zM240.74 376.86h0.9v1.4h-0.9zM256.35 376.86h0.9v1.4h-0.9zM271.96 376.86h0.9v1.4h-0.9zM287.57 376.86h0.9v1.4h-0.9zM303.18 376.86h0.9v1.4h-0.9zM318.79 376.86h0.9v1.4h-0.9zM334.4 376.86h0.9v1.4h-0.9zM350.01 376.86h0.9v1.4h-0.9zM365.62 376.86h0.9v1.4h-0.9zM381.23 376.86h0.9v1.4h-0.9zM396.84 376.86h0.9v1.4h-0.9zM412.45 376.86h0.9v1.4h-0.9zM428.06 376.86h0.9v1.4h-0.9zM443.67 376.86h0.9v1.4h-0.9zM459.28 376.86h0.9v1.4h-0.9zM474.89 376.86h0.9v1.4h-0.9zM490.5 376.86h0.9v1.4h-0.9zM506.11 376.86h0.9v1.4h-0.9zM521.72 376.86h0.9v1.4h-0.9zM537.33 376.86h0.9v1.4h-0.9zM552.94 376.86h0.9v1.4h-0.9zM568.55 376.86h0.9v1.4h-0.9zM584.16 376.86h0.9v1.4h-0.9zM599.77 376.86h0.9v1.4h-0.9zM615.38 376.86h0.9v1.4h-0.9zM630.99 376.86h0.9v1.4h-0.9zM646.6 376.86h0.9v1.4h-0.9zM662.21 376.86h0.9v1.4h-0.9zM677.82 376.86h0.9v1.4h-0.9zM693.43 376.86h0.9v1.4h-0.9zM709.04 376.86h0.9v1.4h-0.9zM724.65 376.86h0.9v1.4h-0.9zM740.26 376.86h0.9v1.4h-0.9zM755.87 376.86h0.9v1.4h-0.9zM771.48 376.86h0.9v1.4h-0.9zM787.09 376.86h0.9v1.4h-0.9zM37.81 428.94h0.9v1.4h-0.9zM53.42 428.94h0.9v1.4h-0.9zM69.03 428.94h0.9v1.4h-0.9zM84.64 428.94h0.9v1.4h-0.9zM100.25 428.94h0.9v1.4h-0.9zM115.86 428.94h0.9v1.4h-0.9zM131.47 428.94h0.9v1.4h-0.9zM147.08 428.94h0.9v1.4h-0.9zM162.69 428.94h0.9v1.4h-0.9zM178.3 428.94h0.9v1.4h-0.9zM193.91 428.94h0.9v1.4h-0.9zM209.52 428.94h0.9v1.4h-0.9zM225.13 428.94h0.9v1.4h-0.9zM240.74 428.94h0.9v1.4h-0.9zM256.35 428.94h0.9v1.4h-0.9zM271.96 428.94h0.9v1.4h-0.9zM287.57 428.94h0.9v1.4h-0.9zM303.18 428.94h0.9v1.4h-0.9zM318.79 428.94h0.9v1.4h-0.9zM334.4 428.94h0.9v1.4h-0.9zM350.01 428.94h0.9v1.4h-0.9zM365.62 428.94h0.9v1.4h-0.9zM381.23 428.94h0.9v1.4h-0.9zM396.84 428.94h0.9v1.4h-0.9zM412.45 428.94h0.9v1.4h-0.9zM428.06 428.94h0.9v1.4h-0.9zM443.67 428.94h0.9v1.4h-0.9zM459.28 428.94h0.9v1.4h-0.9zM474.89 428.94h0.9v1.4h-0.9zM490.5 428.94h0.9v1.4h-0.9zM506.11 428.94h0.9v1.4h-0.9zM521.72 428.94h0.9v1.4h-0.9zM537.33 428.94h0.9v1.4h-0.9zM552.94 428.94h0.9v1.4h-0.9zM568.55 428.94h0.9v1.4h-0.9zM584.16 428.94h0.9v1.4h-0.9zM599.77 428.94h0.9v1.4h-0.9zM615.38 428.94h0.9v1.4h-0.9zM630.99 428.94h0.9v1.4h-0.9zM646.6 428.94h0.9v1.4h-0.9zM662.21 428.94h0.9v1.4h-0.9zM677.82 428.94h0.9v1.4h-0.9zM693.43 428.94h0.9v1.4h-0.9zM709.04 428.94h0.9v1.4h-0.9zM724.65 428.94h0.9v1.4h-0.9zM740.26 428.94h0.9v1.4h-0.9zM755.87 428.94h0.9v1.4h-0.9zM771.48 428.94h0.9v1.4h-0.9zM787.09 428.94h0.9v1.4h-0.9zM37.76 64.8h1v1.4h-1zM37.76 66.9h1v1.2h-1zM37.71 478.75h1.1v1.3h-1.1zM53.37 64.8h1v1.4h-1zM53.37 66.9h1v1.2h-1zM53.32 478.75h1.1v1.3h-1.1zM68.98 64.8h1v1.4h-1zM68.98 66.9h1v1.2h-1zM68.93 478.75h1.1v1.3h-1.1zM84.59 64.8h1v1.4h-1zM84.59 66.9h1v1.2h-1zM84.54 478.75h1.1v1.3h-1.1zM100.2 64.8h1v1h-1zM100.2 66.8h1v1h-1zM100.2 68.8h1v1h-1zM100.2 70.8h1v1h-1zM100.2 479.85h1v1.1h-1zM100.2 477.85h1v1.1h-1zM100.2 475.85h1v1.1h-1zM115.81 64.8h1v1.4h-1zM115.81 66.9h1v1.2h-1zM115.76 478.75h1.1v1.3h-1.1zM131.42 64.8h1v1.4h-1zM131.42 66.9h1v1.2h-1zM131.37 478.75h1.1v1.3h-1.1zM147.03 64.8h1v1.4h-1zM147.03 66.9h1v1.2h-1zM146.98 478.75h1.1v1.3h-1.1zM162.64 64.8h1v1.4h-1zM162.64 66.9h1v1.2h-1zM162.59 478.75h1.1v1.3h-1.1zM178.25 64.8h1v1h-1zM178.25 66.8h1v1h-1zM178.25 68.8h1v1h-1zM178.25 70.8h1v1h-1zM178.25 479.85h1v1.1h-1zM178.25 477.85h1v1.1h-1zM178.25 475.85h1v1.1h-1zM193.86 64.8h1v1.4h-1zM193.86 66.9h1v1.2h-1zM193.81 478.75h1.1v1.3h-1.1zM209.47 64.8h1v1.4h-1zM209.47 66.9h1v1.2h-1zM209.42 478.75h1.1v1.3h-1.1zM225.08 64.8h1v1.4h-1zM225.08 66.9h1v1.2h-1zM225.03 478.75h1.1v1.3h-1.1zM240.69 64.8h1v1.4h-1zM240.69 66.9h1v1.2h-1zM240.64 478.75h1.1v1.3h-1.1zM256.3 479.85h1v1.1h-1zM256.3 477.85h1v1.1h-1zM256.3 475.85h1v1.1h-1zM271.91 64.8h1v1.4h-1zM271.91 66.9h1v1.2h-1zM271.86 478.75h1.1v1.3h-1.1zM287.52 64.8h1v1.4h-1zM287.52 66.9h1v1.2h-1zM287.47 478.75h1.1v1.3h-1.1zM303.13 64.8h1v1.4h-1zM303.13 66.9h1v1.2h-1zM303.08 478.75h1.1v1.3h-1.1zM318.74 64.8h1v1.4h-1zM318.74 66.9h1v1.2h-1zM318.69 478.75h1.1v1.3h-1.1zM334.35 64.8h1v1h-1zM334.35 66.8h1v1h-1zM334.35 68.8h1v1h-1zM334.35 70.8h1v1h-1zM334.35 479.85h1v1.1h-1zM334.35 477.85h1v1.1h-1zM334.35 475.85h1v1.1h-1zM349.96 64.8h1v1.4h-1zM349.96 66.9h1v1.2h-1zM349.91 478.75h1.1v1.3h-1.1zM365.57 64.8h1v1.4h-1zM365.57 66.9h1v1.2h-1zM365.52 478.75h1.1v1.3h-1.1zM381.18 64.8h1v1.4h-1zM381.18 66.9h1v1.2h-1zM381.13 478.75h1.1v1.3h-1.1zM396.79 64.8h1v1.4h-1zM396.79 66.9h1v1.2h-1zM396.74 478.75h1.1v1.3h-1.1zM412.4 64.8h1v1h-1zM412.4 66.8h1v1h-1zM412.4 68.8h1v1h-1zM412.4 70.8h1v1h-1zM412.4 479.85h1v1.1h-1zM412.4 477.85h1v1.1h-1zM412.4 475.85h1v1.1h-1zM428.01 64.8h1v1.4h-1zM428.01 66.9h1v1.2h-1zM427.96 478.75h1.1v1.3h-1.1zM443.62 64.8h1v1.4h-1zM443.62 66.9h1v1.2h-1zM443.57 478.75h1.1v1.3h-1.1zM459.23 64.8h1v1.4h-1zM459.23 66.9h1v1.2h-1zM459.18 478.75h1.1v1.3h-1.1zM474.84 64.8h1v1.4h-1zM474.84 66.9h1v1.2h-1zM474.79 478.75h1.1v1.3h-1.1zM490.45 64.8h1v1h-1zM490.45 66.8h1v1h-1zM490.45 68.8h1v1h-1zM490.45 70.8h1v1h-1zM490.45 479.85h1v1.1h-1zM490.45 477.85h1v1.1h-1zM490.45 475.85h1v1.1h-1zM506.06 64.8h1v1.4h-1zM506.06 66.9h1v1.2h-1zM506.01 478.75h1.1v1.3h-1.1zM521.67 64.8h1v1.4h-1zM521.67 66.9h1v1.2h-1zM521.62 478.75h1.1v1.3h-1.1zM537.28 64.8h1v1.4h-1zM537.28 66.9h1v1.2h-1zM537.23 478.75h1.1v1.3h-1.1zM552.89 64.8h1v1.4h-1zM552.89 66.9h1v1.2h-1zM552.84 478.75h1.1v1.3h-1.1zM568.5 64.8h1v1h-1zM568.5 66.8h1v1h-1zM568.5 68.8h1v1h-1zM568.5 70.8h1v1h-1zM568.5 479.85h1v1.1h-1zM568.5 477.85h1v1.1h-1zM568.5 475.85h1v1.1h-1zM584.11 64.8h1v1.4h-1zM584.11 66.9h1v1.2h-1zM584.06 478.75h1.1v1.3h-1.1zM599.72 64.8h1v1.4h-1zM599.72 66.9h1v1.2h-1zM599.67 478.75h1.1v1.3h-1.1zM615.33 64.8h1v1.4h-1zM615.33 66.9h1v1.2h-1zM615.28 478.75h1.1v1.3h-1.1zM630.94 64.8h1v1.4h-1zM630.94 66.9h1v1.2h-1zM630.89 478.75h1.1v1.3h-1.1zM646.55 64.8h1v1h-1zM646.55 66.8h1v1h-1zM646.55 68.8h1v1h-1zM646.55 70.8h1v1h-1zM646.55 479.85h1v1.1h-1zM646.55 477.85h1v1.1h-1zM646.55 475.85h1v1.1h-1zM662.16 64.8h1v1.4h-1zM662.16 66.9h1v1.2h-1zM662.11 478.75h1.1v1.3h-1.1zM677.77 64.8h1v1.4h-1zM677.77 66.9h1v1.2h-1zM677.72 478.75h1.1v1.3h-1.1zM693.38 64.8h1v1.4h-1zM693.38 66.9h1v1.2h-1zM693.33 478.75h1.1v1.3h-1.1zM708.99 64.8h1v1.4h-1zM708.99 66.9h1v1.2h-1zM708.94 478.75h1.1v1.3h-1.1zM724.6 64.8h1v1h-1zM724.6 66.8h1v1h-1zM724.6 68.8h1v1h-1zM724.6 70.8h1v1h-1zM724.6 479.85h1v1.1h-1zM724.6 477.85h1v1.1h-1zM724.6 475.85h1v1.1h-1zM740.21 64.8h1v1.4h-1zM740.21 66.9h1v1.2h-1zM740.16 478.75h1.1v1.3h-1.1zM755.82 64.8h1v1.4h-1zM755.82 66.9h1v1.2h-1zM755.77 478.75h1.1v1.3h-1.1zM771.43 64.8h1v1.4h-1zM771.43 66.9h1v1.2h-1zM771.38 478.75h1.1v1.3h-1.1zM787.04 64.8h1v1.4h-1zM787.04 66.9h1v1.2h-1zM786.99 478.75h1.1v1.3h-1.1zM22.8 75h1v1h-1zM801.2 75h1v1h-1zM24.8 75h1v1h-1zM799.2 75h1v1h-1zM22.8 85.41h1v1h-1zM801.2 85.41h1v1h-1zM24.8 85.41h1v1h-1zM799.2 85.41h1v1h-1zM22.8 95.83h1v1h-1zM801.2 95.83h1v1h-1zM24.8 95.83h1v1h-1zM799.2 95.83h1v1h-1zM22.8 106.24h1v1h-1zM801.2 106.24h1v1h-1zM24.8 106.24h1v1h-1zM799.2 106.24h1v1h-1zM22.8 116.66h1v1h-1zM801.2 116.66h1v1h-1zM24.8 116.66h1v1h-1zM799.2 116.66h1v1h-1zM26.8 116.66h1v1h-1zM797.2 116.66h1v1h-1zM28.8 116.66h1v1h-1zM795.2 116.66h1v1h-1zM22.8 127.08h1v1h-1zM801.2 127.08h1v1h-1zM24.8 127.08h1v1h-1zM799.2 127.08h1v1h-1zM22.8 137.49h1v1h-1zM801.2 137.49h1v1h-1zM24.8 137.49h1v1h-1zM799.2 137.49h1v1h-1zM22.8 147.91h1v1h-1zM801.2 147.91h1v1h-1zM24.8 147.91h1v1h-1zM799.2 147.91h1v1h-1zM22.8 158.32h1v1h-1zM801.2 158.32h1v1h-1zM24.8 158.32h1v1h-1zM799.2 158.32h1v1h-1zM22.8 168.74h1v1h-1zM801.2 168.74h1v1h-1zM24.8 168.74h1v1h-1zM799.2 168.74h1v1h-1zM26.8 168.74h1v1h-1zM797.2 168.74h1v1h-1zM28.8 168.74h1v1h-1zM795.2 168.74h1v1h-1zM22.8 179.16h1v1h-1zM801.2 179.16h1v1h-1zM24.8 179.16h1v1h-1zM799.2 179.16h1v1h-1zM22.8 189.57h1v1h-1zM801.2 189.57h1v1h-1zM24.8 189.57h1v1h-1zM799.2 189.57h1v1h-1zM22.8 199.99h1v1h-1zM801.2 199.99h1v1h-1zM24.8 199.99h1v1h-1zM799.2 199.99h1v1h-1zM22.8 210.4h1v1h-1zM801.2 210.4h1v1h-1zM24.8 210.4h1v1h-1zM799.2 210.4h1v1h-1zM22.8 220.82h1v1h-1zM801.2 220.82h1v1h-1zM24.8 220.82h1v1h-1zM799.2 220.82h1v1h-1zM26.8 220.82h1v1h-1zM797.2 220.82h1v1h-1zM28.8 220.82h1v1h-1zM795.2 220.82h1v1h-1zM22.8 231.24h1v1h-1zM801.2 231.24h1v1h-1zM24.8 231.24h1v1h-1zM799.2 231.24h1v1h-1zM22.8 241.65h1v1h-1zM801.2 241.65h1v1h-1zM24.8 241.65h1v1h-1zM799.2 241.65h1v1h-1zM22.8 252.07h1v1h-1zM801.2 252.07h1v1h-1zM24.8 252.07h1v1h-1zM799.2 252.07h1v1h-1zM22.8 262.48h1v1h-1zM801.2 262.48h1v1h-1zM24.8 262.48h1v1h-1zM799.2 262.48h1v1h-1zM22.8 272.9h1v1h-1zM801.2 272.9h1v1h-1zM24.8 272.9h1v1h-1zM799.2 272.9h1v1h-1zM26.8 272.9h1v1h-1zM797.2 272.9h1v1h-1zM28.8 272.9h1v1h-1zM795.2 272.9h1v1h-1zM22.8 283.32h1v1h-1zM801.2 283.32h1v1h-1zM24.8 283.32h1v1h-1zM799.2 283.32h1v1h-1zM22.8 293.73h1v1h-1zM801.2 293.73h1v1h-1zM24.8 293.73h1v1h-1zM799.2 293.73h1v1h-1zM22.8 304.15h1v1h-1zM801.2 304.15h1v1h-1zM24.8 304.15h1v1h-1zM799.2 304.15h1v1h-1zM22.8 314.56h1v1h-1zM801.2 314.56h1v1h-1zM24.8 314.56h1v1h-1zM799.2 314.56h1v1h-1zM22.8 324.98h1v1h-1zM801.2 324.98h1v1h-1zM24.8 324.98h1v1h-1zM799.2 324.98h1v1h-1zM26.8 324.98h1v1h-1zM797.2 324.98h1v1h-1zM28.8 324.98h1v1h-1zM795.2 324.98h1v1h-1zM22.8 335.4h1v1h-1zM801.2 335.4h1v1h-1zM24.8 335.4h1v1h-1zM799.2 335.4h1v1h-1zM22.8 345.81h1v1h-1zM801.2 345.81h1v1h-1zM24.8 345.81h1v1h-1zM799.2 345.81h1v1h-1zM22.8 356.23h1v1h-1zM801.2 356.23h1v1h-1zM24.8 356.23h1v1h-1zM799.2 356.23h1v1h-1zM22.8 366.64h1v1h-1zM801.2 366.64h1v1h-1zM24.8 366.64h1v1h-1zM799.2 366.64h1v1h-1zM22.8 377.06h1v1h-1zM801.2 377.06h1v1h-1zM24.8 377.06h1v1h-1zM799.2 377.06h1v1h-1zM26.8 377.06h1v1h-1zM797.2 377.06h1v1h-1zM28.8 377.06h1v1h-1zM795.2 377.06h1v1h-1zM22.8 387.48h1v1h-1zM801.2 387.48h1v1h-1zM24.8 387.48h1v1h-1zM799.2 387.48h1v1h-1zM22.8 397.89h1v1h-1zM801.2 397.89h1v1h-1zM24.8 397.89h1v1h-1zM799.2 397.89h1v1h-1zM22.8 408.31h1v1h-1zM801.2 408.31h1v1h-1zM24.8 408.31h1v1h-1zM799.2 408.31h1v1h-1zM22.8 418.72h1v1h-1zM801.2 418.72h1v1h-1zM24.8 418.72h1v1h-1zM799.2 418.72h1v1h-1zM22.8 429.14h1v1h-1zM801.2 429.14h1v1h-1zM24.8 429.14h1v1h-1zM799.2 429.14h1v1h-1zM26.8 429.14h1v1h-1zM797.2 429.14h1v1h-1zM28.8 429.14h1v1h-1zM795.2 429.14h1v1h-1zM22.8 439.56h1v1h-1zM801.2 439.56h1v1h-1zM24.8 439.56h1v1h-1zM799.2 439.56h1v1h-1zM22.8 449.97h1v1h-1zM801.2 449.97h1v1h-1zM24.8 449.97h1v1h-1zM799.2 449.97h1v1h-1zM22.8 460.39h1v1h-1zM801.2 460.39h1v1h-1zM24.8 460.39h1v1h-1zM799.2 460.39h1v1h-1zM22.8 470.8h1v1h-1zM801.2 470.8h1v1h-1zM24.8 470.8h1v1h-1zM799.2 470.8h1v1h-1zM408.9 75h1.2v1h-1.2zM410.6 75h1.2v1h-1.2zM414 75h1.2v1h-1.2zM415.7 75h1.2v1h-1.2zM408.9 85.41h1.2v1h-1.2zM410.6 85.41h1.2v1h-1.2zM414 85.41h1.2v1h-1.2zM415.7 85.41h1.2v1h-1.2zM408.9 95.83h1.2v1h-1.2zM410.6 95.83h1.2v1h-1.2zM414 95.83h1.2v1h-1.2zM415.7 95.83h1.2v1h-1.2zM408.9 106.24h1.2v1h-1.2zM410.6 106.24h1.2v1h-1.2zM414 106.24h1.2v1h-1.2zM415.7 106.24h1.2v1h-1.2zM405.4 116.66h1v1h-1zM407.4 116.66h1v1h-1zM409.4 116.66h1v1h-1zM415.4 116.66h1v1h-1zM417.4 116.66h1v1h-1zM419.4 116.66h1v1h-1zM408.9 127.08h1.2v1h-1.2zM410.6 127.08h1.2v1h-1.2zM414 127.08h1.2v1h-1.2zM415.7 127.08h1.2v1h-1.2zM408.9 137.49h1.2v1h-1.2zM410.6 137.49h1.2v1h-1.2zM414 137.49h1.2v1h-1.2zM415.7 137.49h1.2v1h-1.2zM408.9 147.91h1.2v1h-1.2zM410.6 147.91h1.2v1h-1.2zM414 147.91h1.2v1h-1.2zM415.7 147.91h1.2v1h-1.2zM408.9 158.32h1.2v1h-1.2zM410.6 158.32h1.2v1h-1.2zM414 158.32h1.2v1h-1.2zM415.7 158.32h1.2v1h-1.2zM405.4 168.74h1v1h-1zM407.4 168.74h1v1h-1zM409.4 168.74h1v1h-1zM415.4 168.74h1v1h-1zM417.4 168.74h1v1h-1zM419.4 168.74h1v1h-1zM408.9 179.16h1.2v1h-1.2zM410.6 179.16h1.2v1h-1.2zM414 179.16h1.2v1h-1.2zM415.7 179.16h1.2v1h-1.2zM408.9 189.57h1.2v1h-1.2zM410.6 189.57h1.2v1h-1.2zM414 189.57h1.2v1h-1.2zM415.7 189.57h1.2v1h-1.2zM408.9 199.99h1.2v1h-1.2zM410.6 199.99h1.2v1h-1.2zM414 199.99h1.2v1h-1.2zM415.7 199.99h1.2v1h-1.2zM408.9 210.4h1.2v1h-1.2zM410.6 210.4h1.2v1h-1.2zM414 210.4h1.2v1h-1.2zM415.7 210.4h1.2v1h-1.2zM405.4 220.82h1v1h-1zM407.4 220.82h1v1h-1zM409.4 220.82h1v1h-1zM415.4 220.82h1v1h-1zM417.4 220.82h1v1h-1zM419.4 220.82h1v1h-1zM408.9 231.24h1.2v1h-1.2zM410.6 231.24h1.2v1h-1.2zM414 231.24h1.2v1h-1.2zM415.7 231.24h1.2v1h-1.2zM408.9 241.65h1.2v1h-1.2zM410.6 241.65h1.2v1h-1.2zM414 241.65h1.2v1h-1.2zM415.7 241.65h1.2v1h-1.2zM408.9 252.07h1.2v1h-1.2zM410.6 252.07h1.2v1h-1.2zM414 252.07h1.2v1h-1.2zM415.7 252.07h1.2v1h-1.2zM408.9 262.48h1.2v1h-1.2zM410.6 262.48h1.2v1h-1.2zM414 262.48h1.2v1h-1.2zM415.7 262.48h1.2v1h-1.2zM408.9 283.32h1.2v1h-1.2zM410.6 283.32h1.2v1h-1.2zM414 283.32h1.2v1h-1.2zM415.7 283.32h1.2v1h-1.2zM408.9 293.73h1.2v1h-1.2zM410.6 293.73h1.2v1h-1.2zM414 293.73h1.2v1h-1.2zM415.7 293.73h1.2v1h-1.2zM408.9 304.15h1.2v1h-1.2zM410.6 304.15h1.2v1h-1.2zM414 304.15h1.2v1h-1.2zM415.7 304.15h1.2v1h-1.2zM408.9 314.56h1.2v1h-1.2zM410.6 314.56h1.2v1h-1.2zM414 314.56h1.2v1h-1.2zM415.7 314.56h1.2v1h-1.2zM405.4 324.98h1v1h-1zM407.4 324.98h1v1h-1zM409.4 324.98h1v1h-1zM415.4 324.98h1v1h-1zM417.4 324.98h1v1h-1zM419.4 324.98h1v1h-1zM408.9 335.4h1.2v1h-1.2zM410.6 335.4h1.2v1h-1.2zM414 335.4h1.2v1h-1.2zM415.7 335.4h1.2v1h-1.2zM408.9 345.81h1.2v1h-1.2zM410.6 345.81h1.2v1h-1.2zM414 345.81h1.2v1h-1.2zM415.7 345.81h1.2v1h-1.2zM408.9 356.23h1.2v1h-1.2zM410.6 356.23h1.2v1h-1.2zM414 356.23h1.2v1h-1.2zM415.7 356.23h1.2v1h-1.2zM408.9 366.64h1.2v1h-1.2zM410.6 366.64h1.2v1h-1.2zM414 366.64h1.2v1h-1.2zM415.7 366.64h1.2v1h-1.2zM405.4 377.06h1v1h-1zM407.4 377.06h1v1h-1zM409.4 377.06h1v1h-1zM415.4 377.06h1v1h-1zM417.4 377.06h1v1h-1zM419.4 377.06h1v1h-1zM408.9 387.48h1.2v1h-1.2zM410.6 387.48h1.2v1h-1.2zM414 387.48h1.2v1h-1.2zM415.7 387.48h1.2v1h-1.2zM408.9 397.89h1.2v1h-1.2zM410.6 397.89h1.2v1h-1.2zM414 397.89h1.2v1h-1.2zM415.7 397.89h1.2v1h-1.2zM408.9 408.31h1.2v1h-1.2zM410.6 408.31h1.2v1h-1.2zM414 408.31h1.2v1h-1.2zM415.7 408.31h1.2v1h-1.2zM408.9 418.72h1.2v1h-1.2zM410.6 418.72h1.2v1h-1.2zM414 418.72h1.2v1h-1.2zM415.7 418.72h1.2v1h-1.2zM405.4 429.14h1v1h-1zM407.4 429.14h1v1h-1zM409.4 429.14h1v1h-1zM415.4 429.14h1v1h-1zM417.4 429.14h1v1h-1zM419.4 429.14h1v1h-1zM408.9 439.56h1.2v1h-1.2zM410.6 439.56h1.2v1h-1.2zM414 439.56h1.2v1h-1.2zM415.7 439.56h1.2v1h-1.2zM408.9 449.97h1.2v1h-1.2zM410.6 449.97h1.2v1h-1.2zM414 449.97h1.2v1h-1.2zM415.7 449.97h1.2v1h-1.2zM408.9 460.39h1.2v1h-1.2zM410.6 460.39h1.2v1h-1.2zM414 460.39h1.2v1h-1.2zM415.7 460.39h1.2v1h-1.2zM408.9 470.8h1.2v1h-1.2zM410.6 470.8h1.2v1h-1.2zM414 470.8h1.2v1h-1.2zM415.7 470.8h1.2v1h-1.2z" fill="#3c3c3c"/>
<path d="M37.81 270.3h0.9v6.2h-0.9zM53.42 270.3h0.9v6.2h-0.9zM69.03 270.3h0.9v6.2h-0.9zM84.64 270.3h0.9v6.2h-0.9zM100.25 270.3h0.9v6.2h-0.9zM115.86 270.3h0.9v6.2h-0.9zM131.47 270.3h0.9v6.2h-0.9zM147.08 270.3h0.9v6.2h-0.9zM162.69 270.3h0.9v6.2h-0.9zM178.3 270.3h0.9v6.2h-0.9zM193.91 270.3h0.9v6.2h-0.9zM209.52 270.3h0.9v6.2h-0.9zM225.13 270.3h0.9v6.2h-0.9zM240.74 270.3h0.9v6.2h-0.9zM256.35 270.3h0.9v6.2h-0.9zM271.96 270.3h0.9v6.2h-0.9zM287.57 270.3h0.9v6.2h-0.9zM303.18 270.3h0.9v6.2h-0.9zM318.79 270.3h0.9v6.2h-0.9zM334.4 270.3h0.9v6.2h-0.9zM350.01 270.3h0.9v6.2h-0.9zM365.62 270.3h0.9v6.2h-0.9zM381.23 270.3h0.9v6.2h-0.9zM396.84 270.3h0.9v6.2h-0.9zM428.06 270.3h0.9v6.2h-0.9zM443.67 270.3h0.9v6.2h-0.9zM459.28 270.3h0.9v6.2h-0.9zM474.89 270.3h0.9v6.2h-0.9zM490.5 270.3h0.9v6.2h-0.9zM506.11 270.3h0.9v6.2h-0.9zM521.72 270.3h0.9v6.2h-0.9zM537.33 270.3h0.9v6.2h-0.9zM552.94 270.3h0.9v6.2h-0.9zM568.55 270.3h0.9v6.2h-0.9zM584.16 270.3h0.9v6.2h-0.9zM599.77 270.3h0.9v6.2h-0.9zM615.38 270.3h0.9v6.2h-0.9zM630.99 270.3h0.9v6.2h-0.9zM646.6 270.3h0.9v6.2h-0.9zM662.21 270.3h0.9v6.2h-0.9zM677.82 270.3h0.9v6.2h-0.9zM693.43 270.3h0.9v6.2h-0.9zM709.04 270.3h0.9v6.2h-0.9zM724.65 270.3h0.9v6.2h-0.9zM740.26 270.3h0.9v6.2h-0.9zM755.87 270.3h0.9v6.2h-0.9zM771.48 270.3h0.9v6.2h-0.9zM787.09 270.3h0.9v6.2h-0.9z" fill="#2a2a2a"/>
<line x1="21.5" y1="273.4" x2="803.5" y2="273.4" stroke="#000" stroke-width="1.1"/>
<line x1="412.9" y1="63.8" x2="412.9" y2="482" stroke="#333" stroke-width="1.5"/>
<line x1="20.8" y1="63.8" x2="804.2" y2="63.8" stroke="#525858" stroke-width="1.9"/>
<line x1="20.8" y1="482" x2="804.2" y2="482" stroke="#0a0a0a" stroke-width="1.7"/>
<line x1="21.5" y1="63.8" x2="21.5" y2="482" stroke="#222" stroke-width="1.5"/>
<line x1="803.5" y1="63.8" x2="803.5" y2="482" stroke="#141414" stroke-width="1.6"/>
<path d="M251 64.8 L262.3 64.8 L256.6 70.9Z" fill="#ff9a0a"/>
<path d="M250.2 72 L262.9 72 L262.9 84.4 L256.55 87.6 L250.2 84.4Z" fill="#ff9a0a"/>
<path d="M251 73.2h10.2v2h-4v9h-2.2v-9h-4z" fill="#fff"/>
<line x1="241.4" y1="54.6" x2="584.5" y2="54.6" stroke="#2a3cff" stroke-width="1.4"/>
<path d="M335.4 48.4h-1.9v13.4h1.9M366.2 48.4h1.9v13.4h-1.9" fill="none" stroke="#bcbcbc" stroke-width="2.1"/>
<path d="M340.3 48h7.5l-3.75 3.7z" fill="#ff9a0a"/>
<rect x="339.2" y="52" width="8.7" height="11.5" rx="1" fill="#ff9a0a"/>
<path d="M340.8 53.2h5.6v1.6h-1.95v7.6h-1.7v-7.6h-1.95z" fill="#fff"/>
<path d="M791.4 341 L797.9 335 L797.9 340 L803 340 L803 342 L797.9 342 L797.9 347Z" fill="#12a012"/>
<path d="M0 213.2h12.6l7.9 8.1-7.9 8.1H0z" fill="#1a1aff"/>
<path d="M0 213.4h12.6" stroke="#d89a40" stroke-width="1.4" fill="none"/>
<path d="M0.5 213.2v16" stroke="#ffd070" stroke-width="1.2" fill="none"/>
<path d="M0 229.4h12.6l7.9-8.1" stroke="#555" stroke-width="1" fill="none"/>
<path d="M1.2 421.6h12.4l6.8 7.9-6.8 7.9H1.2z" fill="#fff" stroke="#12a012" stroke-width="1.2"/>
<line x1="818.6" y1="47.4" x2="833" y2="47.4" stroke="#000" stroke-width="1.2"/>
<path d="M658.6 491.6h5.2l3.4 8.2h4.6" fill="none" stroke="#000" stroke-width="1.9"/>
<path d="M135.8 497 C137.4 490 139.2 490 141.1 495.6 C142.9 501 144.8 501 146.5 495" fill="none" stroke="#5a5aff" stroke-width="0.9"/>
</svg>
<div class="t tek">Tek</div><div class="t stop">Stop</div>
<div class="lbg" style="left:22.4px;top:213.6px;width:77.4px;height:15.4px"></div><div class="lbg" style="left:22.4px;top:422px;width:74px;height:15.4px"></div>
<div class="t lab" style="left:40.2px;top:214.5px">V<span class="us">_</span>OUT</div>
<div class="t lab" style="left:41.2px;top:422.9px">I<span class="us">_</span>OUT</div>
<div class="t" style="left:4.2px;top:213.8px;font-size:15px;font-family:Liberation Sans,sans-serif;color:#fff">1</div>
<div class="t" style="left:4.1px;top:422.7px;font-size:13.5px;color:#12a012;font-weight:bold">4</div>
<div class="pill" style="left:27px;top:487.6px;width:26px;background:#1616ff">1</div>
<div class="t r" style="left:70.2px;top:488.3px;color:#1c1cff">50.0mV</div>
<div class="t sub" style="left:149.8px;top:489.6px;color:#3a3aff">B</div>
<div class="t sub" style="left:153.2px;top:494.4px;color:#3a3aff">W</div>
<div class="pill" style="left:193.2px;top:505.8px;width:26.4px;background:#12a012">4</div>
<div class="t r" style="left:237.4px;top:506.6px;color:#12a812">10.0 A</div>
<div class="t sub" style="left:315.8px;top:507.8px;color:#2aa82a">B</div>
<div class="t sub" style="left:319.2px;top:512.6px;color:#2aa82a">W</div>
<div class="t r" style="left:363.8px;top:488.3px;color:#000">20.0µs</div>
<div class="t" style="left:363.4px;top:508.2px;width:12px;height:13px;background:#ff9a0a;border-radius:2px;color:#fff;font:bold 12.5px/13.4px 'DejaVu Sans',sans-serif;text-align:center">T</div>
<div class="t r" style="left:382.2px;top:506.6px;color:#ff9a0a;word-spacing:-2.8px;letter-spacing:1.3px">30.00 %</div>
<div class="t r" style="left:508.2px;top:488.3px;color:#000;letter-spacing:1.3px">2.50GS/s</div>
<div class="t r" style="left:508.2px;top:506.6px;color:#000">5M points</div>
<div class="pill" style="left:618px;top:488.2px;width:26.6px;background:#12a012">4</div>
<div class="t r" style="left:627.2px;top:506.6px;color:#000;word-spacing:-2px">17.0 A</div>
<div class="t cap">Load Release 20At o 10A</div>
</body></html>
